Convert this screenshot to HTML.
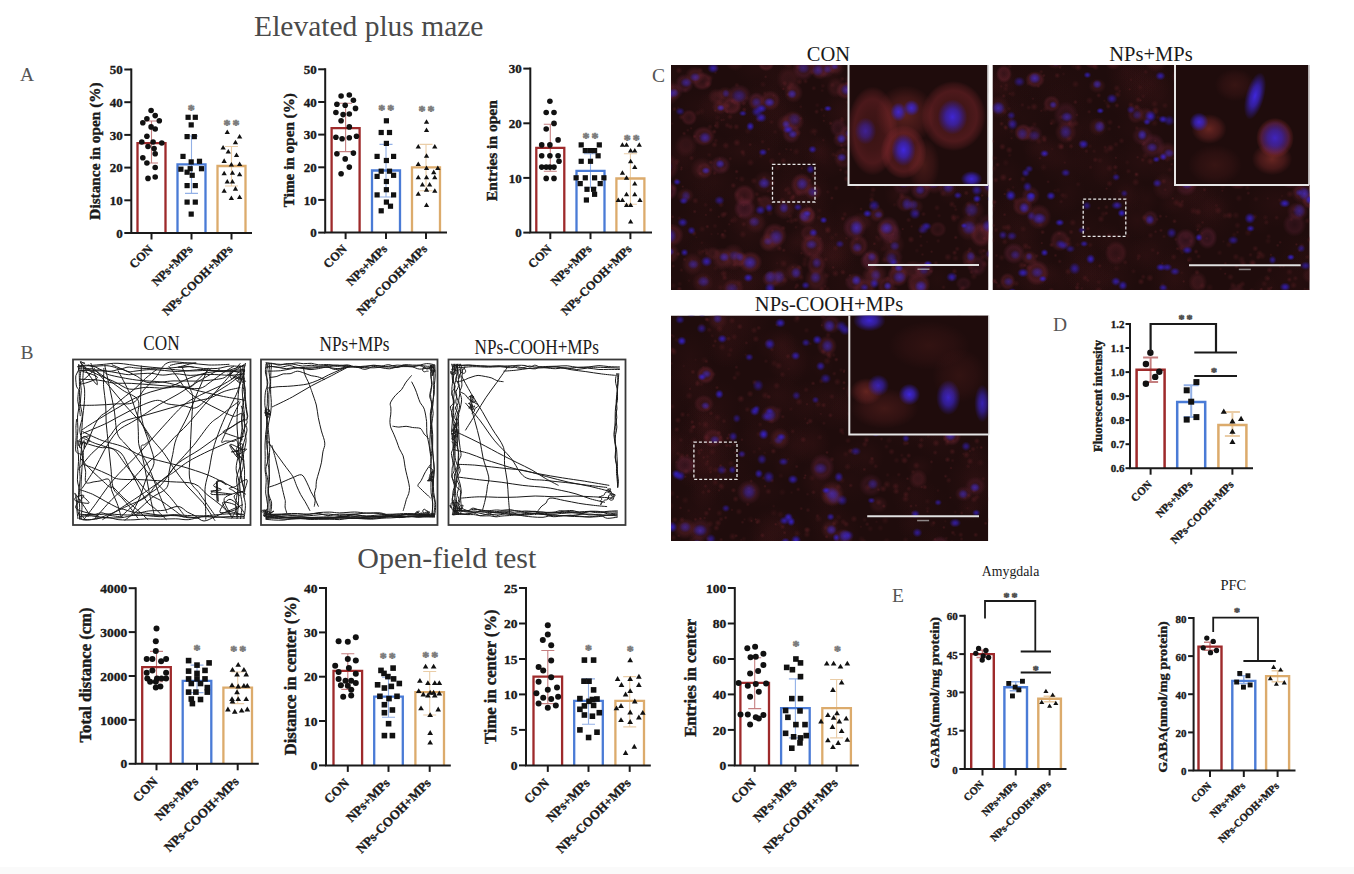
<!DOCTYPE html>
<html><head><meta charset="utf-8"><style>
html,body{margin:0;padding:0;background:#fff;}
svg{display:block;font-family:"Liberation Serif",serif;}
</style></head><body>
<svg width="1354" height="874" viewBox="0 0 1354 874">
<text x="368.8" y="36" text-anchor="middle" font-size="29.5" fill="#4a4a4a">Elevated plus maze</text>
<text x="446.8" y="568.3" text-anchor="middle" font-size="30" fill="#4a4a4a">Open-field test</text>
<text x="20" y="80.7" font-size="19.5" fill="#555">A</text>
<text x="20.5" y="358.6" font-size="19.5" fill="#555">B</text>
<text x="652" y="81.6" font-size="19.5" fill="#555">C</text>
<text x="1053" y="331" font-size="19.5" fill="#555">D</text>
<text x="892" y="602" font-size="19.5" fill="#555">E</text>
<text x="1010.6" y="576" text-anchor="middle" font-size="13.8" fill="#1a1a1a">Amygdala</text>
<text x="1233.4" y="590" text-anchor="middle" font-size="14.5" fill="#1a1a1a">PFC</text>
<rect x="0" y="867" width="1354" height="7" fill="#fafafa"/>
<defs><radialGradient id="gS"><stop offset="0" stop-color="#6a2228" stop-opacity="0.8"/><stop offset="1" stop-color="#6a2228" stop-opacity="0"/></radialGradient><radialGradient id="gR1"><stop offset="0" stop-color="#6a2438" stop-opacity="0.35"/><stop offset="0.45" stop-color="#7a2838" stop-opacity="0.5"/><stop offset="0.65" stop-color="#7a2838" stop-opacity="0.6"/><stop offset="1" stop-color="#7a2838" stop-opacity="0"/></radialGradient><radialGradient id="gR2"><stop offset="0" stop-color="#5a2040" stop-opacity="0.4"/><stop offset="0.6" stop-color="#6e2640" stop-opacity="0.6"/><stop offset="1" stop-color="#6e2640" stop-opacity="0"/></radialGradient><radialGradient id="gR3"><stop offset="0" stop-color="#702a38" stop-opacity="0.45"/><stop offset="0.5" stop-color="#782a36" stop-opacity="0.5"/><stop offset="1" stop-color="#782a36" stop-opacity="0"/></radialGradient><radialGradient id="gB1"><stop offset="0" stop-color="#3a22e0" stop-opacity="1"/><stop offset="0.4" stop-color="#3420c0" stop-opacity="0.8"/><stop offset="1" stop-color="#2818a0" stop-opacity="0"/></radialGradient><radialGradient id="gB2"><stop offset="0" stop-color="#4a30d8" stop-opacity="0.9"/><stop offset="0.5" stop-color="#4028b8" stop-opacity="0.7"/><stop offset="1" stop-color="#3020a0" stop-opacity="0"/></radialGradient><radialGradient id="gIR"><stop offset="0" stop-color="#902c30" stop-opacity="0.3"/><stop offset="0.45" stop-color="#902c30" stop-opacity="0.4"/><stop offset="0.72" stop-color="#8a2a30" stop-opacity="0.55"/><stop offset="0.9" stop-color="#8a2a30" stop-opacity="0.25"/><stop offset="1" stop-color="#8a2a30" stop-opacity="0"/></radialGradient><radialGradient id="gIF"><stop offset="0" stop-color="#a03a32" stop-opacity="0.75"/><stop offset="0.6" stop-color="#903030" stop-opacity="0.45"/><stop offset="1" stop-color="#903030" stop-opacity="0"/></radialGradient><radialGradient id="gIB"><stop offset="0" stop-color="#4028e8" stop-opacity="1"/><stop offset="0.45" stop-color="#3a24c8" stop-opacity="0.8"/><stop offset="1" stop-color="#3420b8" stop-opacity="0"/></radialGradient></defs>
<clipPath id="clip1"><rect x="671" y="65" width="317.5" height="225"/></clipPath>
<g clip-path="url(#clip1)">
<rect x="671" y="65" width="317.5" height="225" fill="#1f0c0c"/>
<ellipse cx="701.0" cy="225.1" rx="23.7" ry="30.0" fill="url(#gS)" opacity="0.09"/><ellipse cx="749.8" cy="232.5" rx="23.9" ry="21.0" fill="url(#gS)" opacity="0.13"/><ellipse cx="795.9" cy="242.7" rx="14.1" ry="11.8" fill="url(#gS)" opacity="0.15"/><ellipse cx="783.3" cy="121.2" rx="26.5" ry="28.6" fill="url(#gS)" opacity="0.07"/><ellipse cx="846.6" cy="216.0" rx="15.0" ry="16.3" fill="url(#gS)" opacity="0.07"/><ellipse cx="776.4" cy="79.6" rx="15.7" ry="20.2" fill="url(#gS)" opacity="0.10"/><ellipse cx="990.4" cy="163.1" rx="22.9" ry="28.1" fill="url(#gS)" opacity="0.13"/><ellipse cx="702.5" cy="198.4" rx="23.4" ry="18.9" fill="url(#gS)" opacity="0.07"/><ellipse cx="952.5" cy="180.7" rx="15.5" ry="15.0" fill="url(#gS)" opacity="0.08"/><ellipse cx="927.4" cy="177.6" rx="13.8" ry="16.5" fill="url(#gS)" opacity="0.07"/><ellipse cx="757.9" cy="66.6" rx="25.3" ry="19.5" fill="url(#gS)" opacity="0.11"/><ellipse cx="696.5" cy="172.9" rx="24.3" ry="24.8" fill="url(#gS)" opacity="0.11"/><ellipse cx="824.8" cy="162.7" rx="22.7" ry="17.2" fill="url(#gS)" opacity="0.11"/><ellipse cx="743.4" cy="263.4" rx="28.9" ry="21.4" fill="url(#gS)" opacity="0.07"/><ellipse cx="896.4" cy="194.3" rx="12.3" ry="13.9" fill="url(#gS)" opacity="0.15"/><ellipse cx="804.6" cy="141.7" rx="22.2" ry="28.1" fill="url(#gS)" opacity="0.09"/><ellipse cx="765.0" cy="104.3" rx="23.3" ry="22.9" fill="url(#gS)" opacity="0.09"/><ellipse cx="793.0" cy="68.2" rx="17.6" ry="22.7" fill="url(#gS)" opacity="0.12"/><ellipse cx="758.5" cy="280.0" rx="18.4" ry="15.7" fill="url(#gS)" opacity="0.06"/><ellipse cx="713.9" cy="106.8" rx="16.1" ry="19.8" fill="url(#gS)" opacity="0.09"/><ellipse cx="747.4" cy="201.9" rx="28.5" ry="24.9" fill="url(#gS)" opacity="0.14"/><ellipse cx="786.8" cy="191.9" rx="22.7" ry="28.8" fill="url(#gS)" opacity="0.14"/><ellipse cx="832.4" cy="257.7" rx="18.6" ry="17.3" fill="url(#gS)" opacity="0.16"/><ellipse cx="844.8" cy="241.8" rx="17.7" ry="22.1" fill="url(#gS)" opacity="0.12"/><ellipse cx="747.0" cy="279.4" rx="20.4" ry="18.5" fill="url(#gS)" opacity="0.09"/><ellipse cx="699.8" cy="107.2" rx="24.5" ry="19.2" fill="url(#gS)" opacity="0.09"/><ellipse cx="812.5" cy="188.0" rx="18.8" ry="22.1" fill="url(#gS)" opacity="0.09"/><ellipse cx="786.7" cy="159.9" rx="14.3" ry="11.9" fill="url(#gS)" opacity="0.07"/><ellipse cx="903.6" cy="94.4" rx="24.0" ry="20.0" fill="url(#gS)" opacity="0.12"/><ellipse cx="881.0" cy="143.1" rx="28.8" ry="31.5" fill="url(#gS)" opacity="0.12"/><ellipse cx="681.2" cy="155.5" rx="16.8" ry="16.5" fill="url(#gS)" opacity="0.15"/><ellipse cx="948.9" cy="74.5" rx="24.2" ry="30.6" fill="url(#gS)" opacity="0.11"/><ellipse cx="697.7" cy="263.7" rx="19.7" ry="25.3" fill="url(#gS)" opacity="0.15"/><ellipse cx="937.5" cy="278.8" rx="13.2" ry="15.6" fill="url(#gS)" opacity="0.09"/><ellipse cx="710.3" cy="149.1" rx="22.6" ry="15.9" fill="url(#gS)" opacity="0.10"/><ellipse cx="922.8" cy="176.4" rx="21.5" ry="18.9" fill="url(#gS)" opacity="0.16"/><ellipse cx="747.3" cy="220.1" rx="23.6" ry="16.5" fill="url(#gS)" opacity="0.16"/><ellipse cx="743.1" cy="292.4" rx="28.7" ry="35.6" fill="url(#gS)" opacity="0.15"/><ellipse cx="796.3" cy="164.7" rx="18.2" ry="23.0" fill="url(#gS)" opacity="0.06"/><ellipse cx="710.8" cy="284.8" rx="26.5" ry="29.8" fill="url(#gS)" opacity="0.16"/><ellipse cx="837.5" cy="256.3" rx="20.0" ry="24.8" fill="url(#gS)" opacity="0.07"/><ellipse cx="809.5" cy="195.6" rx="26.3" ry="25.1" fill="url(#gS)" opacity="0.13"/><ellipse cx="983.0" cy="158.4" rx="15.6" ry="11.2" fill="url(#gS)" opacity="0.15"/><ellipse cx="821.9" cy="151.2" rx="21.4" ry="16.5" fill="url(#gS)" opacity="0.08"/><ellipse cx="743.2" cy="119.9" rx="27.5" ry="23.3" fill="url(#gS)" opacity="0.07"/><ellipse cx="949.8" cy="191.2" rx="12.5" ry="13.8" fill="url(#gS)" opacity="0.13"/><ellipse cx="878.7" cy="242.0" rx="19.6" ry="16.4" fill="url(#gS)" opacity="0.13"/><ellipse cx="870.7" cy="225.4" rx="15.3" ry="14.1" fill="url(#gS)" opacity="0.13"/><ellipse cx="791.9" cy="201.6" rx="20.5" ry="23.6" fill="url(#gS)" opacity="0.09"/><ellipse cx="829.1" cy="254.7" rx="17.6" ry="14.2" fill="url(#gS)" opacity="0.12"/><ellipse cx="709.6" cy="261.4" rx="16.9" ry="21.1" fill="url(#gS)" opacity="0.11"/><ellipse cx="716.5" cy="182.4" rx="24.3" ry="24.1" fill="url(#gS)" opacity="0.12"/><ellipse cx="786.8" cy="285.4" rx="15.1" ry="17.8" fill="url(#gS)" opacity="0.06"/><ellipse cx="832.1" cy="75.6" rx="14.4" ry="15.1" fill="url(#gS)" opacity="0.15"/><ellipse cx="767.3" cy="154.7" rx="20.6" ry="21.9" fill="url(#gS)" opacity="0.10"/><ellipse cx="781.1" cy="260.6" rx="22.0" ry="20.1" fill="url(#gS)" opacity="0.14"/><ellipse cx="993.2" cy="161.6" rx="12.3" ry="10.8" fill="url(#gS)" opacity="0.15"/><ellipse cx="722.3" cy="106.7" rx="26.3" ry="20.2" fill="url(#gS)" opacity="0.14"/><ellipse cx="740.1" cy="151.2" rx="22.7" ry="17.4" fill="url(#gS)" opacity="0.14"/><ellipse cx="809.6" cy="241.0" rx="25.8" ry="19.2" fill="url(#gS)" opacity="0.14"/><ellipse cx="934.8" cy="116.8" rx="22.6" ry="18.6" fill="url(#gS)" opacity="0.11"/><ellipse cx="912.2" cy="148.6" rx="21.6" ry="16.8" fill="url(#gS)" opacity="0.15"/><ellipse cx="871.1" cy="255.1" rx="13.5" ry="15.4" fill="url(#gS)" opacity="0.07"/><ellipse cx="848.3" cy="114.2" rx="28.2" ry="21.6" fill="url(#gS)" opacity="0.11"/><ellipse cx="820.2" cy="150.7" rx="13.2" ry="14.5" fill="url(#gS)" opacity="0.16"/><ellipse cx="784.2" cy="271.2" rx="18.1" ry="15.6" fill="url(#gS)" opacity="0.11"/><ellipse cx="984.6" cy="243.2" rx="23.4" ry="16.9" fill="url(#gS)" opacity="0.11"/><ellipse cx="670.9" cy="74.6" rx="18.8" ry="15.9" fill="url(#gS)" opacity="0.07"/><ellipse cx="833.6" cy="243.9" rx="28.7" ry="35.8" fill="url(#gS)" opacity="0.10"/><ellipse cx="724.4" cy="286.5" rx="19.6" ry="17.8" fill="url(#gS)" opacity="0.14"/><ellipse cx="848.8" cy="283.8" rx="24.6" ry="31.2" fill="url(#gS)" opacity="0.08"/><ellipse cx="974.9" cy="187.3" rx="24.5" ry="21.6" fill="url(#gS)" opacity="0.08"/><ellipse cx="763.2" cy="99.9" rx="29.3" ry="22.6" fill="url(#gS)" opacity="0.08"/><ellipse cx="873.5" cy="108.1" rx="15.8" ry="13.5" fill="url(#gS)" opacity="0.08"/><ellipse cx="669.4" cy="233.9" rx="23.9" ry="21.1" fill="url(#gS)" opacity="0.15"/><ellipse cx="849.2" cy="111.7" rx="29.4" ry="24.6" fill="url(#gS)" opacity="0.14"/><ellipse cx="933.4" cy="60.7" rx="27.2" ry="26.0" fill="url(#gS)" opacity="0.11"/><ellipse cx="975.8" cy="166.1" rx="16.3" ry="11.9" fill="url(#gS)" opacity="0.15"/><ellipse cx="815.0" cy="227.1" rx="23.5" ry="30.3" fill="url(#gS)" opacity="0.15"/><ellipse cx="972.5" cy="178.6" rx="28.4" ry="25.1" fill="url(#gS)" opacity="0.07"/><ellipse cx="875.4" cy="66.7" rx="29.5" ry="26.4" fill="url(#gS)" opacity="0.10"/><ellipse cx="761.2" cy="135.9" rx="21.7" ry="25.6" fill="url(#gS)" opacity="0.06"/><ellipse cx="778.4" cy="117.9" rx="29.3" ry="28.2" fill="url(#gS)" opacity="0.10"/><ellipse cx="973.0" cy="150.9" rx="18.9" ry="17.8" fill="url(#gS)" opacity="0.08"/><ellipse cx="896.5" cy="127.4" rx="21.2" ry="22.1" fill="url(#gS)" opacity="0.14"/><circle cx="908.4" cy="173.1" r="3.9" fill="url(#gS)" opacity="0.53"/><circle cx="973.1" cy="227.8" r="2.6" fill="url(#gS)" opacity="0.33"/><circle cx="947.7" cy="171.3" r="3.4" fill="url(#gS)" opacity="0.34"/><circle cx="785.7" cy="64.2" r="3.3" fill="url(#gS)" opacity="0.30"/><circle cx="827.8" cy="230.5" r="3.6" fill="url(#gS)" opacity="0.53"/><circle cx="883.3" cy="114.7" r="3.8" fill="url(#gS)" opacity="0.22"/><circle cx="801.1" cy="277.4" r="3.6" fill="url(#gS)" opacity="0.41"/><circle cx="950.4" cy="101.6" r="1.6" fill="url(#gS)" opacity="0.30"/><circle cx="970.7" cy="69.3" r="2.3" fill="url(#gS)" opacity="0.38"/><circle cx="733.4" cy="264.8" r="1.8" fill="url(#gS)" opacity="0.23"/><circle cx="992.7" cy="62.9" r="2.1" fill="url(#gS)" opacity="0.34"/><circle cx="954.3" cy="138.9" r="2.9" fill="url(#gS)" opacity="0.48"/><circle cx="868.5" cy="255.3" r="1.5" fill="url(#gS)" opacity="0.39"/><circle cx="672.8" cy="260.4" r="1.6" fill="url(#gS)" opacity="0.23"/><circle cx="806.5" cy="205.9" r="1.5" fill="url(#gS)" opacity="0.42"/><circle cx="699.7" cy="136.0" r="1.6" fill="url(#gS)" opacity="0.45"/><circle cx="938.2" cy="240.9" r="2.3" fill="url(#gS)" opacity="0.29"/><circle cx="981.2" cy="251.9" r="3.9" fill="url(#gS)" opacity="0.35"/><circle cx="954.1" cy="219.2" r="3.5" fill="url(#gS)" opacity="0.38"/><circle cx="922.8" cy="177.2" r="2.2" fill="url(#gS)" opacity="0.37"/><circle cx="679.4" cy="218.3" r="2.3" fill="url(#gS)" opacity="0.26"/><circle cx="925.6" cy="183.6" r="2.3" fill="url(#gS)" opacity="0.52"/><circle cx="973.1" cy="159.9" r="2.9" fill="url(#gS)" opacity="0.20"/><circle cx="782.8" cy="292.1" r="2.8" fill="url(#gS)" opacity="0.55"/><circle cx="675.4" cy="64.1" r="1.7" fill="url(#gS)" opacity="0.23"/><circle cx="913.3" cy="292.2" r="3.4" fill="url(#gS)" opacity="0.41"/><circle cx="790.9" cy="149.7" r="1.8" fill="url(#gS)" opacity="0.34"/><circle cx="705.8" cy="250.3" r="2.8" fill="url(#gS)" opacity="0.33"/><circle cx="945.0" cy="130.5" r="3.7" fill="url(#gS)" opacity="0.45"/><circle cx="871.6" cy="199.8" r="3.1" fill="url(#gS)" opacity="0.52"/><circle cx="992.0" cy="191.3" r="3.9" fill="url(#gS)" opacity="0.29"/><circle cx="969.4" cy="267.6" r="3.1" fill="url(#gS)" opacity="0.24"/><circle cx="956.7" cy="149.0" r="2.3" fill="url(#gS)" opacity="0.53"/><circle cx="694.7" cy="211.6" r="2.1" fill="url(#gS)" opacity="0.50"/><circle cx="736.8" cy="85.0" r="2.7" fill="url(#gS)" opacity="0.36"/><circle cx="912.3" cy="126.0" r="2.2" fill="url(#gS)" opacity="0.30"/><circle cx="846.2" cy="91.0" r="2.9" fill="url(#gS)" opacity="0.49"/><circle cx="891.2" cy="120.2" r="2.7" fill="url(#gS)" opacity="0.23"/><circle cx="820.4" cy="238.7" r="1.5" fill="url(#gS)" opacity="0.43"/><circle cx="967.7" cy="125.7" r="2.3" fill="url(#gS)" opacity="0.44"/><circle cx="717.0" cy="123.3" r="3.0" fill="url(#gS)" opacity="0.38"/><circle cx="720.9" cy="106.6" r="2.7" fill="url(#gS)" opacity="0.50"/><circle cx="731.7" cy="220.9" r="2.8" fill="url(#gS)" opacity="0.30"/><circle cx="801.4" cy="253.1" r="1.8" fill="url(#gS)" opacity="0.39"/><circle cx="822.8" cy="85.9" r="2.5" fill="url(#gS)" opacity="0.26"/><circle cx="798.2" cy="67.1" r="2.9" fill="url(#gS)" opacity="0.48"/><circle cx="952.2" cy="279.2" r="2.1" fill="url(#gS)" opacity="0.48"/><circle cx="783.3" cy="228.0" r="2.7" fill="url(#gS)" opacity="0.46"/><circle cx="797.0" cy="285.5" r="2.7" fill="url(#gS)" opacity="0.48"/><circle cx="725.0" cy="231.0" r="2.0" fill="url(#gS)" opacity="0.34"/><circle cx="790.3" cy="216.4" r="2.9" fill="url(#gS)" opacity="0.30"/><circle cx="971.6" cy="69.5" r="2.7" fill="url(#gS)" opacity="0.25"/><circle cx="701.5" cy="111.5" r="3.9" fill="url(#gS)" opacity="0.21"/><circle cx="901.7" cy="195.8" r="3.6" fill="url(#gS)" opacity="0.50"/><circle cx="706.1" cy="277.1" r="1.9" fill="url(#gS)" opacity="0.24"/><circle cx="743.8" cy="224.2" r="2.9" fill="url(#gS)" opacity="0.44"/><circle cx="736.6" cy="171.6" r="2.3" fill="url(#gS)" opacity="0.54"/><circle cx="852.1" cy="224.3" r="2.6" fill="url(#gS)" opacity="0.24"/><circle cx="697.6" cy="113.0" r="3.3" fill="url(#gS)" opacity="0.27"/><circle cx="823.3" cy="140.2" r="1.8" fill="url(#gS)" opacity="0.33"/><circle cx="826.7" cy="275.6" r="3.4" fill="url(#gS)" opacity="0.35"/><circle cx="762.0" cy="116.1" r="2.4" fill="url(#gS)" opacity="0.39"/><circle cx="983.8" cy="77.5" r="2.0" fill="url(#gS)" opacity="0.34"/><circle cx="851.1" cy="75.8" r="1.6" fill="url(#gS)" opacity="0.39"/><circle cx="671.6" cy="253.4" r="3.2" fill="url(#gS)" opacity="0.36"/><circle cx="992.6" cy="173.6" r="3.9" fill="url(#gS)" opacity="0.28"/><circle cx="691.5" cy="158.0" r="2.8" fill="url(#gS)" opacity="0.43"/><circle cx="707.3" cy="226.6" r="2.2" fill="url(#gS)" opacity="0.53"/><circle cx="927.0" cy="241.8" r="1.6" fill="url(#gS)" opacity="0.22"/><circle cx="676.7" cy="164.0" r="1.6" fill="url(#gS)" opacity="0.25"/><circle cx="685.0" cy="293.6" r="2.7" fill="url(#gS)" opacity="0.29"/><circle cx="715.1" cy="125.7" r="1.8" fill="url(#gS)" opacity="0.48"/><circle cx="968.5" cy="251.6" r="1.7" fill="url(#gS)" opacity="0.41"/><circle cx="945.7" cy="152.8" r="3.4" fill="url(#gS)" opacity="0.20"/><circle cx="835.8" cy="234.7" r="2.6" fill="url(#gS)" opacity="0.24"/><circle cx="984.0" cy="250.7" r="2.2" fill="url(#gS)" opacity="0.46"/><circle cx="720.9" cy="204.7" r="3.3" fill="url(#gS)" opacity="0.41"/><circle cx="809.6" cy="253.9" r="2.5" fill="url(#gS)" opacity="0.22"/><circle cx="716.2" cy="95.2" r="3.4" fill="url(#gS)" opacity="0.22"/><circle cx="982.2" cy="195.5" r="1.7" fill="url(#gS)" opacity="0.53"/><circle cx="990.2" cy="114.9" r="2.9" fill="url(#gS)" opacity="0.28"/><circle cx="710.3" cy="77.8" r="3.7" fill="url(#gS)" opacity="0.28"/><circle cx="732.6" cy="101.3" r="2.2" fill="url(#gS)" opacity="0.53"/><circle cx="734.6" cy="103.1" r="1.6" fill="url(#gS)" opacity="0.45"/><circle cx="700.2" cy="252.6" r="3.9" fill="url(#gS)" opacity="0.30"/><circle cx="819.2" cy="248.6" r="2.7" fill="url(#gS)" opacity="0.31"/><circle cx="965.8" cy="294.8" r="2.1" fill="url(#gS)" opacity="0.50"/><circle cx="678.3" cy="254.0" r="2.4" fill="url(#gS)" opacity="0.55"/><circle cx="674.5" cy="109.1" r="2.5" fill="url(#gS)" opacity="0.38"/><circle cx="919.5" cy="91.1" r="1.6" fill="url(#gS)" opacity="0.28"/><circle cx="698.7" cy="282.5" r="2.8" fill="url(#gS)" opacity="0.27"/><circle cx="771.5" cy="122.0" r="2.6" fill="url(#gS)" opacity="0.31"/><circle cx="871.1" cy="110.6" r="3.2" fill="url(#gS)" opacity="0.52"/><circle cx="912.8" cy="79.1" r="2.7" fill="url(#gS)" opacity="0.49"/><circle cx="689.0" cy="280.6" r="1.8" fill="url(#gS)" opacity="0.24"/><circle cx="668.7" cy="261.9" r="1.6" fill="url(#gS)" opacity="0.36"/><circle cx="859.2" cy="173.7" r="4.0" fill="url(#gS)" opacity="0.41"/><circle cx="667.4" cy="153.1" r="1.9" fill="url(#gS)" opacity="0.51"/><circle cx="740.6" cy="215.9" r="2.6" fill="url(#gS)" opacity="0.35"/><circle cx="842.0" cy="119.8" r="3.1" fill="url(#gS)" opacity="0.41"/><circle cx="931.6" cy="251.7" r="1.7" fill="url(#gS)" opacity="0.49"/><circle cx="771.3" cy="288.7" r="2.9" fill="url(#gS)" opacity="0.27"/><circle cx="836.2" cy="188.1" r="2.8" fill="url(#gS)" opacity="0.33"/><circle cx="857.6" cy="187.0" r="3.5" fill="url(#gS)" opacity="0.32"/><circle cx="815.2" cy="62.4" r="3.4" fill="url(#gS)" opacity="0.22"/><circle cx="952.3" cy="181.6" r="2.9" fill="url(#gS)" opacity="0.34"/><circle cx="846.8" cy="83.4" r="1.9" fill="url(#gS)" opacity="0.39"/><circle cx="764.1" cy="178.4" r="2.7" fill="url(#gS)" opacity="0.54"/><circle cx="878.7" cy="64.5" r="3.2" fill="url(#gS)" opacity="0.31"/><circle cx="725.8" cy="145.6" r="3.7" fill="url(#gS)" opacity="0.48"/><circle cx="816.1" cy="262.3" r="2.8" fill="url(#gS)" opacity="0.25"/><circle cx="897.7" cy="262.9" r="3.2" fill="url(#gS)" opacity="0.30"/><circle cx="822.2" cy="90.6" r="2.1" fill="url(#gS)" opacity="0.22"/><circle cx="982.0" cy="229.3" r="2.7" fill="url(#gS)" opacity="0.44"/><circle cx="893.8" cy="170.6" r="2.1" fill="url(#gS)" opacity="0.37"/><circle cx="842.9" cy="149.3" r="2.1" fill="url(#gS)" opacity="0.40"/><circle cx="878.8" cy="114.3" r="1.8" fill="url(#gS)" opacity="0.46"/><circle cx="988.7" cy="231.5" r="3.6" fill="url(#gS)" opacity="0.45"/><circle cx="793.4" cy="196.5" r="2.7" fill="url(#gS)" opacity="0.54"/><circle cx="702.4" cy="293.7" r="1.8" fill="url(#gS)" opacity="0.31"/><circle cx="853.1" cy="281.5" r="3.7" fill="url(#gS)" opacity="0.47"/><circle cx="876.4" cy="237.0" r="2.3" fill="url(#gS)" opacity="0.22"/><circle cx="858.9" cy="111.0" r="2.6" fill="url(#gS)" opacity="0.47"/><circle cx="986.5" cy="90.2" r="3.8" fill="url(#gS)" opacity="0.28"/><circle cx="835.4" cy="248.2" r="3.2" fill="url(#gS)" opacity="0.33"/><circle cx="958.5" cy="100.1" r="3.6" fill="url(#gS)" opacity="0.55"/><circle cx="942.0" cy="87.1" r="2.5" fill="url(#gS)" opacity="0.23"/><circle cx="779.3" cy="153.9" r="1.9" fill="url(#gS)" opacity="0.36"/><circle cx="939.1" cy="215.7" r="2.3" fill="url(#gS)" opacity="0.24"/><circle cx="703.0" cy="251.3" r="2.1" fill="url(#gS)" opacity="0.39"/><circle cx="729.2" cy="224.3" r="1.7" fill="url(#gS)" opacity="0.37"/><circle cx="809.8" cy="180.2" r="2.0" fill="url(#gS)" opacity="0.44"/><circle cx="980.1" cy="109.4" r="1.7" fill="url(#gS)" opacity="0.30"/><circle cx="777.1" cy="263.1" r="1.6" fill="url(#gS)" opacity="0.22"/><circle cx="840.6" cy="169.9" r="2.0" fill="url(#gS)" opacity="0.44"/><circle cx="795.6" cy="287.5" r="2.0" fill="url(#gS)" opacity="0.38"/><circle cx="707.7" cy="84.1" r="3.9" fill="url(#gS)" opacity="0.51"/><circle cx="910.1" cy="178.1" r="3.2" fill="url(#gS)" opacity="0.28"/><circle cx="726.2" cy="111.2" r="2.2" fill="url(#gS)" opacity="0.34"/><circle cx="830.6" cy="123.3" r="2.4" fill="url(#gS)" opacity="0.48"/><circle cx="927.6" cy="119.3" r="2.9" fill="url(#gS)" opacity="0.24"/><circle cx="871.6" cy="205.9" r="1.9" fill="url(#gS)" opacity="0.49"/><circle cx="866.2" cy="287.2" r="2.2" fill="url(#gS)" opacity="0.25"/><circle cx="920.6" cy="236.3" r="2.1" fill="url(#gS)" opacity="0.35"/><circle cx="723.4" cy="168.9" r="4.0" fill="url(#gS)" opacity="0.29"/><circle cx="783.6" cy="263.5" r="4.0" fill="url(#gS)" opacity="0.38"/><circle cx="846.7" cy="178.8" r="3.3" fill="url(#gS)" opacity="0.52"/><circle cx="966.3" cy="193.0" r="2.7" fill="url(#gS)" opacity="0.50"/><circle cx="887.1" cy="292.9" r="1.8" fill="url(#gS)" opacity="0.46"/><circle cx="928.0" cy="142.7" r="1.5" fill="url(#gS)" opacity="0.32"/><circle cx="984.3" cy="238.5" r="2.3" fill="url(#gS)" opacity="0.50"/><circle cx="694.0" cy="233.4" r="2.9" fill="url(#gS)" opacity="0.54"/><circle cx="762.6" cy="141.7" r="2.4" fill="url(#gS)" opacity="0.35"/><circle cx="817.3" cy="105.2" r="2.6" fill="url(#gS)" opacity="0.22"/><circle cx="870.9" cy="256.4" r="2.3" fill="url(#gS)" opacity="0.36"/><circle cx="982.9" cy="256.6" r="3.2" fill="url(#gS)" opacity="0.40"/><circle cx="982.4" cy="171.5" r="3.0" fill="url(#gS)" opacity="0.51"/><circle cx="783.3" cy="160.7" r="3.2" fill="url(#gS)" opacity="0.45"/><circle cx="895.4" cy="155.7" r="2.2" fill="url(#gS)" opacity="0.47"/><circle cx="902.0" cy="182.2" r="2.1" fill="url(#gS)" opacity="0.22"/><circle cx="835.4" cy="273.5" r="3.7" fill="url(#gS)" opacity="0.46"/><circle cx="804.6" cy="264.1" r="3.7" fill="url(#gS)" opacity="0.31"/><circle cx="841.5" cy="145.6" r="2.0" fill="url(#gS)" opacity="0.37"/><circle cx="739.3" cy="282.7" r="3.9" fill="url(#gS)" opacity="0.29"/><circle cx="720.6" cy="106.5" r="3.8" fill="url(#gS)" opacity="0.32"/><circle cx="935.9" cy="294.1" r="2.4" fill="url(#gS)" opacity="0.50"/><circle cx="700.3" cy="70.3" r="3.2" fill="url(#gS)" opacity="0.31"/><circle cx="741.8" cy="179.0" r="3.5" fill="url(#gS)" opacity="0.35"/><circle cx="846.4" cy="238.2" r="1.7" fill="url(#gS)" opacity="0.38"/><circle cx="678.3" cy="107.8" r="1.8" fill="url(#gS)" opacity="0.26"/><circle cx="967.8" cy="64.3" r="2.7" fill="url(#gS)" opacity="0.23"/><circle cx="669.4" cy="277.7" r="2.8" fill="url(#gS)" opacity="0.50"/><circle cx="872.1" cy="195.0" r="3.4" fill="url(#gS)" opacity="0.20"/><circle cx="734.4" cy="219.7" r="4.0" fill="url(#gS)" opacity="0.27"/><circle cx="795.6" cy="219.9" r="2.9" fill="url(#gS)" opacity="0.46"/><circle cx="681.3" cy="117.1" r="3.2" fill="url(#gS)" opacity="0.46"/><circle cx="883.2" cy="249.1" r="3.5" fill="url(#gS)" opacity="0.20"/><circle cx="765.7" cy="76.8" r="1.8" fill="url(#gS)" opacity="0.45"/><circle cx="792.7" cy="267.1" r="1.6" fill="url(#gS)" opacity="0.36"/><circle cx="985.6" cy="145.9" r="3.2" fill="url(#gS)" opacity="0.50"/><circle cx="929.2" cy="136.2" r="2.6" fill="url(#gS)" opacity="0.47"/><circle cx="839.7" cy="160.0" r="3.9" fill="url(#gS)" opacity="0.29"/><circle cx="893.9" cy="143.3" r="3.1" fill="url(#gS)" opacity="0.46"/><circle cx="957.2" cy="248.9" r="2.8" fill="url(#gS)" opacity="0.40"/><circle cx="891.1" cy="237.0" r="3.8" fill="url(#gS)" opacity="0.21"/><circle cx="673.4" cy="285.6" r="3.1" fill="url(#gS)" opacity="0.23"/><circle cx="764.7" cy="93.0" r="2.3" fill="url(#gS)" opacity="0.25"/><circle cx="903.9" cy="95.4" r="2.6" fill="url(#gS)" opacity="0.22"/><circle cx="795.4" cy="121.0" r="2.8" fill="url(#gS)" opacity="0.29"/><circle cx="736.9" cy="142.7" r="3.9" fill="url(#gS)" opacity="0.55"/><circle cx="717.9" cy="233.8" r="1.6" fill="url(#gS)" opacity="0.31"/><circle cx="921.5" cy="231.0" r="3.2" fill="url(#gS)" opacity="0.37"/><circle cx="811.6" cy="72.1" r="3.1" fill="url(#gS)" opacity="0.42"/><circle cx="788.0" cy="94.4" r="2.1" fill="url(#gS)" opacity="0.48"/><circle cx="695.3" cy="200.7" r="3.4" fill="url(#gS)" opacity="0.46"/><circle cx="787.7" cy="221.3" r="2.0" fill="url(#gS)" opacity="0.30"/><circle cx="875.3" cy="86.2" r="2.8" fill="url(#gS)" opacity="0.44"/><circle cx="678.9" cy="70.5" r="3.5" fill="url(#gS)" opacity="0.48"/><circle cx="983.1" cy="86.1" r="3.6" fill="url(#gS)" opacity="0.40"/><circle cx="847.4" cy="102.2" r="2.4" fill="url(#gS)" opacity="0.27"/><circle cx="672.4" cy="225.1" r="1.7" fill="url(#gS)" opacity="0.23"/><circle cx="922.5" cy="254.5" r="1.8" fill="url(#gS)" opacity="0.35"/><circle cx="715.8" cy="140.5" r="2.6" fill="url(#gS)" opacity="0.30"/><circle cx="777.7" cy="167.8" r="3.3" fill="url(#gS)" opacity="0.27"/><circle cx="720.8" cy="168.6" r="2.2" fill="url(#gS)" opacity="0.28"/><circle cx="716.5" cy="252.1" r="3.5" fill="url(#gS)" opacity="0.24"/><circle cx="880.1" cy="163.8" r="1.7" fill="url(#gS)" opacity="0.23"/><circle cx="993.4" cy="84.9" r="2.8" fill="url(#gS)" opacity="0.45"/><circle cx="911.7" cy="226.4" r="1.7" fill="url(#gS)" opacity="0.33"/><circle cx="702.2" cy="229.1" r="3.5" fill="url(#gS)" opacity="0.28"/><circle cx="857.6" cy="118.3" r="2.4" fill="url(#gS)" opacity="0.27"/><circle cx="773.5" cy="95.6" r="1.5" fill="url(#gS)" opacity="0.34"/><circle cx="937.0" cy="207.8" r="3.2" fill="url(#gS)" opacity="0.36"/><circle cx="721.6" cy="120.1" r="1.7" fill="url(#gS)" opacity="0.41"/><circle cx="718.8" cy="216.7" r="1.6" fill="url(#gS)" opacity="0.45"/><circle cx="747.0" cy="98.1" r="2.6" fill="url(#gS)" opacity="0.28"/><circle cx="923.5" cy="214.1" r="2.6" fill="url(#gS)" opacity="0.39"/><circle cx="916.8" cy="213.4" r="2.6" fill="url(#gS)" opacity="0.39"/><circle cx="809.3" cy="208.8" r="3.5" fill="url(#gS)" opacity="0.47"/><circle cx="978.1" cy="65.5" r="1.7" fill="url(#gS)" opacity="0.24"/><circle cx="976.8" cy="147.7" r="2.7" fill="url(#gS)" opacity="0.36"/><circle cx="818.9" cy="217.7" r="3.1" fill="url(#gS)" opacity="0.27"/><circle cx="825.8" cy="259.4" r="2.6" fill="url(#gS)" opacity="0.36"/><circle cx="760.8" cy="156.0" r="2.5" fill="url(#gS)" opacity="0.27"/><circle cx="863.1" cy="76.0" r="2.1" fill="url(#gS)" opacity="0.21"/><circle cx="930.7" cy="160.8" r="2.5" fill="url(#gS)" opacity="0.50"/><circle cx="912.4" cy="118.2" r="3.1" fill="url(#gS)" opacity="0.30"/><circle cx="784.7" cy="83.3" r="2.8" fill="url(#gS)" opacity="0.42"/><circle cx="750.1" cy="144.6" r="2.1" fill="url(#gS)" opacity="0.44"/><circle cx="968.7" cy="261.1" r="3.4" fill="url(#gS)" opacity="0.48"/><circle cx="797.9" cy="132.8" r="3.7" fill="url(#gS)" opacity="0.54"/><circle cx="901.0" cy="119.3" r="1.7" fill="url(#gS)" opacity="0.42"/><circle cx="691.6" cy="260.2" r="2.0" fill="url(#gS)" opacity="0.30"/><circle cx="701.9" cy="242.8" r="1.9" fill="url(#gS)" opacity="0.26"/><circle cx="783.4" cy="88.9" r="1.7" fill="url(#gS)" opacity="0.52"/><circle cx="800.8" cy="118.4" r="1.9" fill="url(#gS)" opacity="0.46"/><circle cx="676.3" cy="180.2" r="2.6" fill="url(#gS)" opacity="0.39"/><circle cx="781.5" cy="275.2" r="1.6" fill="url(#gS)" opacity="0.47"/><circle cx="715.5" cy="72.7" r="1.8" fill="url(#gS)" opacity="0.30"/><circle cx="823.9" cy="115.7" r="1.9" fill="url(#gS)" opacity="0.25"/><circle cx="931.2" cy="271.3" r="2.2" fill="url(#gS)" opacity="0.47"/><circle cx="884.5" cy="260.0" r="3.8" fill="url(#gS)" opacity="0.40"/><circle cx="743.6" cy="154.6" r="2.8" fill="url(#gS)" opacity="0.22"/><circle cx="762.9" cy="84.4" r="3.3" fill="url(#gS)" opacity="0.28"/><circle cx="717.0" cy="126.4" r="3.0" fill="url(#gS)" opacity="0.44"/><circle cx="786.4" cy="149.2" r="1.6" fill="url(#gS)" opacity="0.37"/><circle cx="873.2" cy="189.7" r="3.1" fill="url(#gS)" opacity="0.39"/><circle cx="935.8" cy="263.2" r="2.7" fill="url(#gS)" opacity="0.50"/><circle cx="719.8" cy="102.6" r="3.7" fill="url(#gS)" opacity="0.31"/><circle cx="789.1" cy="87.8" r="2.9" fill="url(#gS)" opacity="0.45"/><circle cx="691.1" cy="128.3" r="1.6" fill="url(#gS)" opacity="0.35"/><circle cx="741.6" cy="198.2" r="3.2" fill="url(#gS)" opacity="0.35"/><circle cx="827.2" cy="288.8" r="3.2" fill="url(#gS)" opacity="0.24"/><circle cx="920.6" cy="168.2" r="3.7" fill="url(#gS)" opacity="0.25"/><circle cx="822.0" cy="289.3" r="3.5" fill="url(#gS)" opacity="0.49"/><circle cx="965.0" cy="262.9" r="3.2" fill="url(#gS)" opacity="0.22"/><circle cx="907.2" cy="176.2" r="1.7" fill="url(#gS)" opacity="0.25"/><circle cx="971.0" cy="61.0" r="2.1" fill="url(#gS)" opacity="0.48"/><circle cx="981.9" cy="115.2" r="3.9" fill="url(#gS)" opacity="0.41"/><circle cx="813.6" cy="175.8" r="2.6" fill="url(#gS)" opacity="0.40"/><circle cx="706.6" cy="253.2" r="2.5" fill="url(#gS)" opacity="0.33"/><circle cx="727.7" cy="105.7" r="3.0" fill="url(#gS)" opacity="0.52"/><circle cx="723.3" cy="236.1" r="3.7" fill="url(#gS)" opacity="0.39"/><circle cx="954.5" cy="271.3" r="3.1" fill="url(#gS)" opacity="0.47"/><circle cx="813.8" cy="88.2" r="2.6" fill="url(#gS)" opacity="0.36"/><circle cx="744.3" cy="109.7" r="2.6" fill="url(#gS)" opacity="0.54"/><circle cx="991.1" cy="99.2" r="3.6" fill="url(#gS)" opacity="0.30"/><circle cx="799.1" cy="267.6" r="3.2" fill="url(#gS)" opacity="0.50"/><circle cx="700.3" cy="173.5" r="2.0" fill="url(#gS)" opacity="0.46"/><circle cx="677.0" cy="161.5" r="3.3" fill="url(#gS)" opacity="0.43"/><circle cx="855.4" cy="295.0" r="1.9" fill="url(#gS)" opacity="0.39"/><circle cx="727.3" cy="125.3" r="3.1" fill="url(#gS)" opacity="0.41"/><circle cx="805.5" cy="81.3" r="2.7" fill="url(#gS)" opacity="0.39"/><circle cx="878.2" cy="206.6" r="2.2" fill="url(#gS)" opacity="0.40"/><circle cx="884.5" cy="129.9" r="3.6" fill="url(#gS)" opacity="0.25"/><circle cx="990.9" cy="285.3" r="4.0" fill="url(#gS)" opacity="0.20"/><circle cx="799.6" cy="81.8" r="3.3" fill="url(#gS)" opacity="0.40"/><circle cx="902.7" cy="229.1" r="1.5" fill="url(#gS)" opacity="0.50"/><circle cx="977.5" cy="204.2" r="2.2" fill="url(#gS)" opacity="0.53"/><circle cx="842.9" cy="272.2" r="3.0" fill="url(#gS)" opacity="0.54"/><circle cx="841.9" cy="118.0" r="1.5" fill="url(#gS)" opacity="0.24"/><circle cx="747.9" cy="131.0" r="3.8" fill="url(#gS)" opacity="0.25"/><circle cx="756.8" cy="194.2" r="2.7" fill="url(#gS)" opacity="0.36"/><circle cx="675.6" cy="90.9" r="2.2" fill="url(#gS)" opacity="0.50"/><circle cx="874.4" cy="243.8" r="1.9" fill="url(#gS)" opacity="0.54"/><circle cx="937.8" cy="162.4" r="3.9" fill="url(#gS)" opacity="0.37"/><circle cx="772.5" cy="230.6" r="1.9" fill="url(#gS)" opacity="0.45"/><circle cx="724.7" cy="277.7" r="3.1" fill="url(#gS)" opacity="0.50"/><circle cx="957.4" cy="217.3" r="3.0" fill="url(#gS)" opacity="0.28"/><circle cx="916.9" cy="250.6" r="2.6" fill="url(#gS)" opacity="0.21"/><circle cx="759.1" cy="199.3" r="3.1" fill="url(#gS)" opacity="0.50"/><circle cx="669.6" cy="214.0" r="2.2" fill="url(#gS)" opacity="0.30"/><circle cx="909.6" cy="159.2" r="2.6" fill="url(#gS)" opacity="0.43"/><circle cx="943.5" cy="287.2" r="2.3" fill="url(#gS)" opacity="0.36"/><circle cx="710.0" cy="126.8" r="3.0" fill="url(#gS)" opacity="0.36"/><circle cx="769.8" cy="213.0" r="3.6" fill="url(#gS)" opacity="0.31"/><circle cx="798.0" cy="193.5" r="3.9" fill="url(#gS)" opacity="0.42"/><circle cx="730.2" cy="158.7" r="2.2" fill="url(#gS)" opacity="0.34"/><circle cx="848.3" cy="155.4" r="2.2" fill="url(#gS)" opacity="0.27"/><circle cx="736.7" cy="178.2" r="1.8" fill="url(#gS)" opacity="0.28"/><circle cx="948.8" cy="101.1" r="3.6" fill="url(#gS)" opacity="0.40"/><circle cx="768.7" cy="149.3" r="1.9" fill="url(#gS)" opacity="0.47"/><circle cx="753.9" cy="180.9" r="3.6" fill="url(#gS)" opacity="0.41"/><circle cx="791.5" cy="220.8" r="3.6" fill="url(#gS)" opacity="0.38"/><circle cx="812.9" cy="194.2" r="1.9" fill="url(#gS)" opacity="0.47"/><circle cx="859.4" cy="96.8" r="1.9" fill="url(#gS)" opacity="0.48"/><circle cx="972.5" cy="153.3" r="1.5" fill="url(#gS)" opacity="0.54"/><circle cx="679.4" cy="289.0" r="2.8" fill="url(#gS)" opacity="0.51"/><circle cx="733.3" cy="185.5" r="2.9" fill="url(#gS)" opacity="0.51"/><circle cx="989.1" cy="90.7" r="3.3" fill="url(#gS)" opacity="0.23"/><circle cx="963.2" cy="287.8" r="2.7" fill="url(#gS)" opacity="0.37"/><circle cx="785.4" cy="190.1" r="2.3" fill="url(#gS)" opacity="0.31"/><circle cx="711.5" cy="234.1" r="1.6" fill="url(#gS)" opacity="0.24"/><circle cx="688.6" cy="197.3" r="1.7" fill="url(#gS)" opacity="0.25"/><circle cx="859.0" cy="249.3" r="3.5" fill="url(#gS)" opacity="0.48"/><circle cx="926.2" cy="264.0" r="2.9" fill="url(#gS)" opacity="0.42"/><circle cx="715.7" cy="68.2" r="3.6" fill="url(#gS)" opacity="0.37"/><circle cx="890.7" cy="241.7" r="2.2" fill="url(#gS)" opacity="0.46"/><circle cx="720.5" cy="287.6" r="3.4" fill="url(#gS)" opacity="0.24"/><circle cx="710.7" cy="209.9" r="2.3" fill="url(#gS)" opacity="0.48"/><circle cx="887.0" cy="280.4" r="2.0" fill="url(#gS)" opacity="0.22"/><circle cx="954.9" cy="206.5" r="2.2" fill="url(#gS)" opacity="0.30"/><circle cx="705.6" cy="204.8" r="2.5" fill="url(#gS)" opacity="0.30"/><circle cx="844.7" cy="214.2" r="2.7" fill="url(#gS)" opacity="0.33"/><circle cx="951.9" cy="204.3" r="3.4" fill="url(#gS)" opacity="0.45"/><circle cx="684.6" cy="259.5" r="2.1" fill="url(#gS)" opacity="0.39"/><circle cx="879.5" cy="293.3" r="3.4" fill="url(#gS)" opacity="0.41"/><circle cx="730.6" cy="126.8" r="3.0" fill="url(#gS)" opacity="0.42"/><circle cx="947.9" cy="257.1" r="3.9" fill="url(#gS)" opacity="0.45"/><circle cx="969.8" cy="249.1" r="2.5" fill="url(#gS)" opacity="0.41"/><circle cx="880.4" cy="230.2" r="3.0" fill="url(#gS)" opacity="0.26"/><circle cx="853.0" cy="127.1" r="1.9" fill="url(#gS)" opacity="0.48"/><circle cx="784.4" cy="280.0" r="3.7" fill="url(#gS)" opacity="0.45"/><circle cx="715.2" cy="110.6" r="1.5" fill="url(#gS)" opacity="0.54"/><circle cx="877.0" cy="135.1" r="3.0" fill="url(#gS)" opacity="0.48"/><circle cx="923.7" cy="228.1" r="3.3" fill="url(#gS)" opacity="0.24"/><circle cx="685.4" cy="90.3" r="2.7" fill="url(#gS)" opacity="0.27"/><circle cx="856.9" cy="239.2" r="2.0" fill="url(#gS)" opacity="0.36"/><circle cx="942.3" cy="92.1" r="2.5" fill="url(#gS)" opacity="0.47"/><circle cx="681.2" cy="169.3" r="1.7" fill="url(#gS)" opacity="0.40"/><circle cx="681.6" cy="167.5" r="1.6" fill="url(#gS)" opacity="0.41"/><circle cx="919.9" cy="122.2" r="2.2" fill="url(#gS)" opacity="0.37"/><circle cx="800.8" cy="106.8" r="1.8" fill="url(#gS)" opacity="0.33"/><circle cx="980.2" cy="135.6" r="2.6" fill="url(#gS)" opacity="0.26"/><circle cx="878.7" cy="238.8" r="3.8" fill="url(#gS)" opacity="0.26"/><circle cx="727.3" cy="112.0" r="1.7" fill="url(#gS)" opacity="0.44"/><circle cx="825.1" cy="286.2" r="1.9" fill="url(#gS)" opacity="0.31"/><circle cx="719.8" cy="158.7" r="1.7" fill="url(#gS)" opacity="0.33"/><circle cx="818.4" cy="68.6" r="2.5" fill="url(#gS)" opacity="0.28"/><circle cx="694.5" cy="136.4" r="2.2" fill="url(#gS)" opacity="0.51"/><circle cx="846.8" cy="279.8" r="2.1" fill="url(#gS)" opacity="0.21"/><circle cx="827.8" cy="192.0" r="2.2" fill="url(#gS)" opacity="0.26"/><circle cx="668.9" cy="214.9" r="3.4" fill="url(#gS)" opacity="0.22"/><circle cx="892.9" cy="267.5" r="2.3" fill="url(#gS)" opacity="0.54"/><circle cx="973.9" cy="256.3" r="2.1" fill="url(#gS)" opacity="0.22"/><circle cx="791.0" cy="84.5" r="3.8" fill="url(#gS)" opacity="0.39"/><circle cx="801.9" cy="168.4" r="1.6" fill="url(#gS)" opacity="0.48"/><circle cx="902.4" cy="78.6" r="2.2" fill="url(#gS)" opacity="0.50"/><circle cx="976.3" cy="271.0" r="3.2" fill="url(#gS)" opacity="0.35"/><circle cx="982.9" cy="153.9" r="2.6" fill="url(#gS)" opacity="0.23"/><circle cx="952.3" cy="157.9" r="3.7" fill="url(#gS)" opacity="0.49"/><circle cx="770.8" cy="190.5" r="2.9" fill="url(#gS)" opacity="0.25"/><circle cx="814.9" cy="131.2" r="3.5" fill="url(#gS)" opacity="0.31"/><circle cx="723.8" cy="273.6" r="3.9" fill="url(#gS)" opacity="0.50"/><circle cx="723.7" cy="119.8" r="1.7" fill="url(#gS)" opacity="0.31"/><circle cx="955.7" cy="237.5" r="2.3" fill="url(#gS)" opacity="0.50"/><circle cx="963.8" cy="78.3" r="1.7" fill="url(#gS)" opacity="0.53"/><circle cx="918.0" cy="284.8" r="2.0" fill="url(#gS)" opacity="0.48"/><circle cx="924.0" cy="184.1" r="3.3" fill="url(#gS)" opacity="0.22"/><circle cx="736.9" cy="194.3" r="3.7" fill="url(#gS)" opacity="0.26"/><circle cx="722.5" cy="234.6" r="2.3" fill="url(#gS)" opacity="0.49"/><circle cx="937.8" cy="114.4" r="2.5" fill="url(#gS)" opacity="0.23"/><circle cx="717.4" cy="117.8" r="3.2" fill="url(#gS)" opacity="0.20"/><circle cx="905.2" cy="99.0" r="3.5" fill="url(#gS)" opacity="0.41"/><circle cx="961.3" cy="290.1" r="3.6" fill="url(#gS)" opacity="0.42"/><circle cx="945.4" cy="160.1" r="2.4" fill="url(#gS)" opacity="0.38"/><circle cx="936.4" cy="140.1" r="2.9" fill="url(#gS)" opacity="0.35"/><circle cx="672.8" cy="216.8" r="1.9" fill="url(#gS)" opacity="0.46"/><circle cx="696.4" cy="237.3" r="1.5" fill="url(#gS)" opacity="0.24"/><circle cx="715.0" cy="226.0" r="2.8" fill="url(#gS)" opacity="0.27"/><circle cx="922.2" cy="103.1" r="2.4" fill="url(#gS)" opacity="0.42"/><circle cx="792.0" cy="198.3" r="3.1" fill="url(#gS)" opacity="0.51"/><circle cx="710.7" cy="162.4" r="2.6" fill="url(#gS)" opacity="0.52"/><circle cx="789.9" cy="60.5" r="2.0" fill="url(#gS)" opacity="0.25"/><circle cx="955.4" cy="258.2" r="3.5" fill="url(#gS)" opacity="0.32"/><circle cx="784.9" cy="128.1" r="3.6" fill="url(#gS)" opacity="0.34"/><circle cx="977.0" cy="82.3" r="2.6" fill="url(#gS)" opacity="0.48"/><circle cx="836.4" cy="155.8" r="1.5" fill="url(#gS)" opacity="0.39"/><circle cx="893.4" cy="164.0" r="2.4" fill="url(#gS)" opacity="0.38"/><circle cx="980.6" cy="87.5" r="4.0" fill="url(#gS)" opacity="0.27"/><circle cx="978.5" cy="142.0" r="2.6" fill="url(#gS)" opacity="0.53"/><circle cx="868.3" cy="85.4" r="3.4" fill="url(#gS)" opacity="0.26"/><circle cx="684.1" cy="133.5" r="2.2" fill="url(#gS)" opacity="0.50"/><circle cx="899.4" cy="294.7" r="2.6" fill="url(#gS)" opacity="0.52"/><circle cx="859.4" cy="71.0" r="1.8" fill="url(#gS)" opacity="0.50"/><circle cx="958.7" cy="61.4" r="1.8" fill="url(#gS)" opacity="0.47"/><circle cx="823.8" cy="120.8" r="1.6" fill="url(#gS)" opacity="0.41"/><circle cx="831.9" cy="198.1" r="2.0" fill="url(#gS)" opacity="0.54"/><circle cx="902.4" cy="69.5" r="2.1" fill="url(#gS)" opacity="0.28"/><circle cx="673.7" cy="188.4" r="3.4" fill="url(#gS)" opacity="0.34"/><circle cx="796.2" cy="151.6" r="3.8" fill="url(#gS)" opacity="0.32"/><circle cx="842.8" cy="218.6" r="2.6" fill="url(#gS)" opacity="0.51"/><circle cx="796.0" cy="227.2" r="1.9" fill="url(#gS)" opacity="0.31"/><circle cx="909.3" cy="280.2" r="3.5" fill="url(#gS)" opacity="0.21"/><circle cx="871.9" cy="146.7" r="1.8" fill="url(#gS)" opacity="0.41"/><circle cx="916.5" cy="174.7" r="2.3" fill="url(#gS)" opacity="0.40"/><circle cx="736.3" cy="126.8" r="3.3" fill="url(#gS)" opacity="0.48"/><circle cx="773.8" cy="234.9" r="2.4" fill="url(#gS)" opacity="0.29"/><circle cx="771.9" cy="161.1" r="3.8" fill="url(#gS)" opacity="0.38"/><circle cx="803.5" cy="63.2" r="2.0" fill="url(#gS)" opacity="0.22"/><circle cx="887.5" cy="278.1" r="2.6" fill="url(#gS)" opacity="0.49"/><circle cx="846.6" cy="172.1" r="3.3" fill="url(#gS)" opacity="0.34"/><circle cx="743.6" cy="205.4" r="1.6" fill="url(#gS)" opacity="0.37"/><circle cx="940.1" cy="69.2" r="3.0" fill="url(#gS)" opacity="0.30"/><circle cx="734.7" cy="265.0" r="2.2" fill="url(#gS)" opacity="0.42"/><circle cx="819.2" cy="210.5" r="2.9" fill="url(#gS)" opacity="0.25"/><circle cx="673.2" cy="266.1" r="2.0" fill="url(#gS)" opacity="0.42"/><circle cx="833.1" cy="267.4" r="2.0" fill="url(#gS)" opacity="0.47"/><circle cx="971.5" cy="272.2" r="2.6" fill="url(#gS)" opacity="0.41"/><circle cx="891.3" cy="87.7" r="1.5" fill="url(#gS)" opacity="0.23"/><circle cx="955.8" cy="209.6" r="2.1" fill="url(#gS)" opacity="0.30"/><circle cx="827.9" cy="228.7" r="3.8" fill="url(#gS)" opacity="0.26"/><circle cx="737.6" cy="289.0" r="2.2" fill="url(#gS)" opacity="0.23"/><circle cx="833.5" cy="154.6" r="2.8" fill="url(#gS)" opacity="0.31"/><circle cx="742.8" cy="234.4" r="3.9" fill="url(#gS)" opacity="0.37"/><circle cx="723.2" cy="214.8" r="3.6" fill="url(#gS)" opacity="0.54"/><circle cx="832.1" cy="237.8" r="3.1" fill="url(#gS)" opacity="0.20"/><circle cx="842.4" cy="78.9" r="2.6" fill="url(#gS)" opacity="0.35"/><circle cx="752.6" cy="220.8" r="3.5" fill="url(#gS)" opacity="0.31"/><circle cx="979.3" cy="172.6" r="2.4" fill="url(#gS)" opacity="0.44"/><circle cx="894.7" cy="175.1" r="2.1" fill="url(#gS)" opacity="0.29"/><circle cx="953.5" cy="217.0" r="3.5" fill="url(#gS)" opacity="0.48"/><circle cx="887.0" cy="112.8" r="1.8" fill="url(#gS)" opacity="0.39"/><circle cx="982.7" cy="182.0" r="2.8" fill="url(#gS)" opacity="0.47"/><circle cx="775.1" cy="132.0" r="2.5" fill="url(#gS)" opacity="0.26"/><circle cx="768.0" cy="191.2" r="1.9" fill="url(#gS)" opacity="0.32"/><circle cx="789.1" cy="192.9" r="2.8" fill="url(#gS)" opacity="0.43"/><circle cx="960.0" cy="138.9" r="2.5" fill="url(#gS)" opacity="0.53"/><circle cx="812.0" cy="63.7" r="3.1" fill="url(#gS)" opacity="0.39"/><circle cx="682.8" cy="186.6" r="1.5" fill="url(#gS)" opacity="0.50"/><circle cx="894.6" cy="204.7" r="2.4" fill="url(#gS)" opacity="0.22"/><circle cx="771.8" cy="183.3" r="3.3" fill="url(#gS)" opacity="0.42"/><circle cx="885.0" cy="62.7" r="3.5" fill="url(#gS)" opacity="0.31"/><circle cx="836.6" cy="137.6" r="2.7" fill="url(#gS)" opacity="0.33"/><circle cx="787.7" cy="189.2" r="3.5" fill="url(#gS)" opacity="0.34"/><circle cx="700.2" cy="166.3" r="2.5" fill="url(#gS)" opacity="0.22"/><circle cx="687.8" cy="130.2" r="1.9" fill="url(#gS)" opacity="0.31"/><circle cx="714.5" cy="144.6" r="3.3" fill="url(#gS)" opacity="0.46"/><circle cx="857.1" cy="181.2" r="2.1" fill="url(#gS)" opacity="0.54"/><circle cx="782.4" cy="200.6" r="3.6" fill="url(#gS)" opacity="0.45"/><circle cx="730.0" cy="116.8" r="3.1" fill="url(#gS)" opacity="0.44"/><circle cx="672.1" cy="234.7" r="2.4" fill="url(#gS)" opacity="0.22"/><circle cx="672.1" cy="123.6" r="1.8" fill="url(#gS)" opacity="0.26"/><circle cx="984.5" cy="65.3" r="3.1" fill="url(#gS)" opacity="0.40"/><circle cx="954.6" cy="252.7" r="2.7" fill="url(#gS)" opacity="0.52"/><circle cx="750.5" cy="162.6" r="3.9" fill="url(#gS)" opacity="0.39"/><circle cx="742.7" cy="152.2" r="3.0" fill="url(#gS)" opacity="0.51"/><circle cx="715.5" cy="268.3" r="3.0" fill="url(#gS)" opacity="0.21"/><circle cx="714.5" cy="173.2" r="2.5" fill="url(#gS)" opacity="0.42"/><circle cx="968.6" cy="204.7" r="3.7" fill="url(#gS)" opacity="0.48"/><circle cx="870.9" cy="270.8" r="3.6" fill="url(#gS)" opacity="0.31"/><circle cx="921.1" cy="245.6" r="2.1" fill="url(#gS)" opacity="0.39"/><circle cx="895.4" cy="288.7" r="2.8" fill="url(#gS)" opacity="0.26"/><circle cx="949.4" cy="294.2" r="3.0" fill="url(#gS)" opacity="0.55"/><circle cx="849.9" cy="275.3" r="1.5" fill="url(#gS)" opacity="0.49"/><circle cx="788.7" cy="64.8" r="3.7" fill="url(#gS)" opacity="0.37"/><circle cx="783.8" cy="250.3" r="2.2" fill="url(#gS)" opacity="0.47"/><circle cx="868.3" cy="148.9" r="2.2" fill="url(#gS)" opacity="0.46"/><circle cx="709.3" cy="154.8" r="2.6" fill="url(#gS)" opacity="0.26"/><circle cx="958.1" cy="72.9" r="3.8" fill="url(#gS)" opacity="0.28"/><circle cx="893.1" cy="234.2" r="1.9" fill="url(#gS)" opacity="0.38"/><circle cx="734.7" cy="285.5" r="2.0" fill="url(#gS)" opacity="0.31"/><circle cx="706.0" cy="281.5" r="2.8" fill="url(#gS)" opacity="0.29"/><circle cx="968.2" cy="141.7" r="1.8" fill="url(#gS)" opacity="0.49"/><circle cx="866.9" cy="254.1" r="1.8" fill="url(#gS)" opacity="0.38"/><circle cx="942.7" cy="84.6" r="3.3" fill="url(#gS)" opacity="0.25"/><circle cx="705.9" cy="214.9" r="1.6" fill="url(#gS)" opacity="0.47"/><circle cx="855.7" cy="148.2" r="3.1" fill="url(#gS)" opacity="0.34"/><circle cx="928.4" cy="137.6" r="1.6" fill="url(#gS)" opacity="0.43"/><circle cx="725.3" cy="213.7" r="2.9" fill="url(#gS)" opacity="0.30"/><circle cx="681.4" cy="270.1" r="2.2" fill="url(#gS)" opacity="0.33"/><circle cx="832.5" cy="85.0" r="3.0" fill="url(#gS)" opacity="0.30"/><circle cx="679.7" cy="283.9" r="2.7" fill="url(#gS)" opacity="0.22"/><circle cx="885.4" cy="185.1" r="2.4" fill="url(#gS)" opacity="0.43"/><circle cx="805.2" cy="259.6" r="3.8" fill="url(#gS)" opacity="0.28"/><circle cx="878.6" cy="129.6" r="1.7" fill="url(#gS)" opacity="0.42"/><circle cx="921.5" cy="226.6" r="3.0" fill="url(#gS)" opacity="0.44"/><circle cx="861.0" cy="209.0" r="1.9" fill="url(#gS)" opacity="0.45"/><circle cx="905.0" cy="124.8" r="3.8" fill="url(#gS)" opacity="0.36"/><circle cx="977.6" cy="152.5" r="3.8" fill="url(#gS)" opacity="0.37"/><circle cx="758.2" cy="119.6" r="3.1" fill="url(#gS)" opacity="0.48"/><circle cx="846.2" cy="89.5" r="2.2" fill="url(#gS)" opacity="0.51"/><circle cx="921.6" cy="91.3" r="3.5" fill="url(#gS)" opacity="0.26"/><circle cx="729.4" cy="254.3" r="3.3" fill="url(#gS)" opacity="0.29"/><circle cx="714.3" cy="131.7" r="2.6" fill="url(#gS)" opacity="0.55"/><circle cx="955.5" cy="162.4" r="2.4" fill="url(#gS)" opacity="0.33"/><circle cx="973.9" cy="276.3" r="3.8" fill="url(#gS)" opacity="0.34"/><circle cx="955.5" cy="275.6" r="2.2" fill="url(#gS)" opacity="0.39"/><circle cx="821.8" cy="109.8" r="2.2" fill="url(#gS)" opacity="0.38"/><circle cx="986.7" cy="170.9" r="2.3" fill="url(#gS)" opacity="0.50"/><circle cx="908.6" cy="220.0" r="2.8" fill="url(#gS)" opacity="0.38"/><circle cx="786.1" cy="291.6" r="2.4" fill="url(#gS)" opacity="0.30"/><circle cx="984.6" cy="263.9" r="3.7" fill="url(#gS)" opacity="0.38"/><circle cx="743.8" cy="103.5" r="2.7" fill="url(#gS)" opacity="0.40"/><circle cx="812.5" cy="131.5" r="3.9" fill="url(#gS)" opacity="0.22"/><circle cx="779.5" cy="248.4" r="3.0" fill="url(#gS)" opacity="0.49"/><circle cx="969.0" cy="214.6" r="2.4" fill="url(#gS)" opacity="0.44"/><circle cx="911.0" cy="239.5" r="3.6" fill="url(#gS)" opacity="0.51"/><circle cx="870.7" cy="207.6" r="2.5" fill="url(#gS)" opacity="0.33"/><circle cx="942.9" cy="193.7" r="3.6" fill="url(#gS)" opacity="0.34"/><circle cx="816.6" cy="111.7" r="2.6" fill="url(#gS)" opacity="0.45"/><circle cx="868.7" cy="177.5" r="3.5" fill="url(#gS)" opacity="0.48"/><circle cx="814.9" cy="134.6" r="1.6" fill="url(#gS)" opacity="0.25"/><ellipse cx="702.0" cy="168.6" rx="11.6" ry="11.6" fill="url(#gR3)" opacity="0.44"/><ellipse cx="924.9" cy="151.3" rx="10.3" ry="10.9" fill="url(#gR1)" opacity="0.57"/><ellipse cx="858.6" cy="245.6" rx="9.9" ry="11.4" fill="url(#gR1)" opacity="0.55"/><ellipse cx="991.6" cy="255.5" rx="8.1" ry="7.5" fill="url(#gR2)" opacity="0.41"/><ellipse cx="803.6" cy="68.2" rx="11.2" ry="12.8" fill="url(#gR2)" opacity="0.61"/><ellipse cx="912.8" cy="270.3" rx="11.6" ry="10.1" fill="url(#gR3)" opacity="0.66"/><ellipse cx="719.9" cy="106.9" rx="8.2" ry="7.7" fill="url(#gR3)" opacity="0.59"/><ellipse cx="907.8" cy="176.9" rx="10.1" ry="10.7" fill="url(#gR1)" opacity="0.47"/><ellipse cx="854.4" cy="227.4" rx="12.0" ry="12.7" fill="url(#gR2)" opacity="0.67"/><ellipse cx="684.3" cy="83.7" rx="9.5" ry="9.9" fill="url(#gR2)" opacity="0.59"/><ellipse cx="692.0" cy="263.9" rx="10.3" ry="11.6" fill="url(#gR3)" opacity="0.48"/><ellipse cx="864.1" cy="289.7" rx="12.0" ry="11.7" fill="url(#gR1)" opacity="0.57"/><ellipse cx="668.7" cy="190.7" rx="9.2" ry="9.7" fill="url(#gR2)" opacity="0.69"/><ellipse cx="793.5" cy="92.8" rx="9.7" ry="10.2" fill="url(#gR3)" opacity="0.68"/><ellipse cx="845.7" cy="90.5" rx="10.0" ry="8.9" fill="url(#gR1)" opacity="0.61"/><ellipse cx="756.3" cy="101.3" rx="8.7" ry="9.4" fill="url(#gR2)" opacity="0.69"/><ellipse cx="969.2" cy="257.6" rx="8.0" ry="9.2" fill="url(#gR3)" opacity="0.58"/><ellipse cx="869.3" cy="111.5" rx="10.5" ry="9.1" fill="url(#gR2)" opacity="0.45"/><ellipse cx="888.3" cy="74.1" rx="8.5" ry="7.6" fill="url(#gR2)" opacity="0.44"/><ellipse cx="905.1" cy="203.2" rx="9.5" ry="9.0" fill="url(#gR1)" opacity="0.41"/><ellipse cx="948.7" cy="132.0" rx="11.5" ry="11.2" fill="url(#gR1)" opacity="0.52"/><ellipse cx="716.8" cy="96.6" rx="9.4" ry="8.2" fill="url(#gR3)" opacity="0.53"/><ellipse cx="871.8" cy="276.7" rx="10.6" ry="11.1" fill="url(#gR3)" opacity="0.67"/><ellipse cx="812.4" cy="246.2" rx="12.4" ry="13.7" fill="url(#gR1)" opacity="0.61"/><ellipse cx="920.6" cy="189.9" rx="10.4" ry="10.2" fill="url(#gR2)" opacity="0.61"/><ellipse cx="979.0" cy="168.8" rx="10.5" ry="9.1" fill="url(#gR1)" opacity="0.65"/><ellipse cx="898.0" cy="116.5" rx="12.1" ry="12.8" fill="url(#gR1)" opacity="0.44"/><ellipse cx="884.9" cy="228.5" rx="9.4" ry="9.6" fill="url(#gR3)" opacity="0.38"/><ellipse cx="989.3" cy="185.2" rx="10.8" ry="12.0" fill="url(#gR2)" opacity="0.36"/><ellipse cx="904.6" cy="76.1" rx="9.6" ry="10.3" fill="url(#gR1)" opacity="0.65"/><ellipse cx="881.7" cy="158.3" rx="10.5" ry="10.3" fill="url(#gR3)" opacity="0.45"/><ellipse cx="914.7" cy="117.1" rx="9.7" ry="10.1" fill="url(#gR2)" opacity="0.35"/><ellipse cx="766.1" cy="64.3" rx="8.1" ry="6.9" fill="url(#gR1)" opacity="0.64"/><ellipse cx="919.0" cy="287.8" rx="11.5" ry="11.5" fill="url(#gR3)" opacity="0.49"/><ellipse cx="755.9" cy="223.0" rx="10.4" ry="10.6" fill="url(#gR3)" opacity="0.43"/><ellipse cx="897.7" cy="275.9" rx="10.8" ry="11.0" fill="url(#gR1)" opacity="0.68"/><ellipse cx="689.0" cy="117.6" rx="8.1" ry="8.2" fill="url(#gR1)" opacity="0.53"/><ellipse cx="744.7" cy="208.6" rx="11.1" ry="11.3" fill="url(#gR2)" opacity="0.68"/><ellipse cx="893.4" cy="244.5" rx="11.6" ry="12.2" fill="url(#gR3)" opacity="0.40"/><ellipse cx="794.4" cy="272.3" rx="9.5" ry="9.6" fill="url(#gR3)" opacity="0.52"/><ellipse cx="892.7" cy="257.3" rx="10.5" ry="9.1" fill="url(#gR2)" opacity="0.45"/><ellipse cx="926.3" cy="181.2" rx="9.4" ry="10.1" fill="url(#gR2)" opacity="0.47"/><ellipse cx="722.4" cy="258.9" rx="10.4" ry="11.7" fill="url(#gR3)" opacity="0.66"/><ellipse cx="855.0" cy="282.1" rx="10.6" ry="9.3" fill="url(#gR2)" opacity="0.54"/><ellipse cx="685.9" cy="145.5" rx="11.3" ry="11.8" fill="url(#gR3)" opacity="0.44"/><ellipse cx="801.6" cy="184.7" rx="11.1" ry="11.8" fill="url(#gR1)" opacity="0.64"/><ellipse cx="947.1" cy="186.6" rx="9.8" ry="11.0" fill="url(#gR2)" opacity="0.37"/><ellipse cx="888.1" cy="104.3" rx="11.3" ry="11.8" fill="url(#gR3)" opacity="0.51"/><ellipse cx="816.3" cy="264.8" rx="9.8" ry="11.2" fill="url(#gR1)" opacity="0.51"/><ellipse cx="808.4" cy="233.2" rx="8.3" ry="8.3" fill="url(#gR1)" opacity="0.37"/><ellipse cx="791.2" cy="133.0" rx="9.4" ry="10.7" fill="url(#gR2)" opacity="0.62"/><ellipse cx="792.8" cy="121.4" rx="11.6" ry="10.7" fill="url(#gR1)" opacity="0.50"/><ellipse cx="819.7" cy="68.7" rx="10.0" ry="11.0" fill="url(#gR1)" opacity="0.61"/><ellipse cx="720.3" cy="165.2" rx="10.5" ry="9.6" fill="url(#gR2)" opacity="0.60"/><ellipse cx="764.4" cy="182.1" rx="11.4" ry="11.5" fill="url(#gR3)" opacity="0.36"/><ellipse cx="886.4" cy="286.2" rx="9.2" ry="9.9" fill="url(#gR1)" opacity="0.53"/><ellipse cx="856.0" cy="81.0" rx="11.5" ry="9.9" fill="url(#gR2)" opacity="0.60"/><ellipse cx="813.0" cy="191.7" rx="9.2" ry="8.6" fill="url(#gR3)" opacity="0.60"/><ellipse cx="968.8" cy="227.8" rx="12.3" ry="13.2" fill="url(#gR3)" opacity="0.59"/><ellipse cx="872.0" cy="162.2" rx="9.8" ry="10.0" fill="url(#gR1)" opacity="0.61"/><ellipse cx="703.6" cy="136.1" rx="11.5" ry="10.2" fill="url(#gR1)" opacity="0.60"/><ellipse cx="739.4" cy="259.1" rx="8.4" ry="8.2" fill="url(#gR1)" opacity="0.55"/><ellipse cx="734.7" cy="61.5" rx="9.6" ry="9.7" fill="url(#gR3)" opacity="0.38"/><ellipse cx="890.2" cy="233.7" rx="11.8" ry="10.9" fill="url(#gR2)" opacity="0.55"/><ellipse cx="871.2" cy="258.8" rx="9.2" ry="9.7" fill="url(#gR2)" opacity="0.58"/><ellipse cx="733.2" cy="257.1" rx="12.2" ry="13.8" fill="url(#gR3)" opacity="0.61"/><ellipse cx="981.1" cy="234.6" rx="11.4" ry="12.6" fill="url(#gR1)" opacity="0.67"/><ellipse cx="966.1" cy="167.8" rx="10.5" ry="10.7" fill="url(#gR1)" opacity="0.38"/><ellipse cx="667.1" cy="166.8" rx="12.0" ry="13.5" fill="url(#gR1)" opacity="0.42"/><ellipse cx="963.7" cy="283.6" rx="8.2" ry="7.0" fill="url(#gR2)" opacity="0.37"/><ellipse cx="806.3" cy="216.9" rx="10.3" ry="10.3" fill="url(#gR3)" opacity="0.59"/><ellipse cx="918.5" cy="283.7" rx="12.1" ry="11.3" fill="url(#gR1)" opacity="0.57"/><ellipse cx="888.1" cy="228.4" rx="11.4" ry="12.4" fill="url(#gR2)" opacity="0.68"/><ellipse cx="774.7" cy="235.4" rx="12.4" ry="12.7" fill="url(#gR1)" opacity="0.62"/><ellipse cx="836.5" cy="68.0" rx="8.4" ry="7.9" fill="url(#gR3)" opacity="0.37"/><ellipse cx="725.0" cy="94.6" rx="8.4" ry="8.2" fill="url(#gR3)" opacity="0.53"/><ellipse cx="702.7" cy="282.7" rx="11.0" ry="10.7" fill="url(#gR3)" opacity="0.40"/><ellipse cx="915.5" cy="206.6" rx="8.4" ry="7.9" fill="url(#gR3)" opacity="0.39"/><ellipse cx="788.6" cy="79.3" rx="12.3" ry="13.6" fill="url(#gR3)" opacity="0.44"/><ellipse cx="910.3" cy="127.2" rx="10.3" ry="10.0" fill="url(#gR1)" opacity="0.40"/><ellipse cx="924.0" cy="269.7" rx="10.1" ry="8.6" fill="url(#gR2)" opacity="0.67"/><ellipse cx="685.3" cy="195.5" rx="8.9" ry="7.7" fill="url(#gR3)" opacity="0.52"/><ellipse cx="911.1" cy="114.0" rx="11.8" ry="13.6" fill="url(#gR1)" opacity="0.56"/><ellipse cx="988.2" cy="231.6" rx="11.9" ry="10.3" fill="url(#gR3)" opacity="0.45"/><ellipse cx="704.3" cy="170.3" rx="8.5" ry="8.2" fill="url(#gR1)" opacity="0.41"/><ellipse cx="671.2" cy="253.6" rx="8.4" ry="9.6" fill="url(#gR3)" opacity="0.62"/><ellipse cx="843.3" cy="158.0" rx="10.0" ry="11.0" fill="url(#gR1)" opacity="0.36"/><ellipse cx="892.3" cy="169.4" rx="11.8" ry="11.5" fill="url(#gR1)" opacity="0.57"/><ellipse cx="816.5" cy="279.5" rx="12.1" ry="13.6" fill="url(#gR3)" opacity="0.61"/><ellipse cx="825.7" cy="67.8" rx="9.9" ry="10.5" fill="url(#gR2)" opacity="0.58"/><ellipse cx="869.7" cy="261.1" rx="10.0" ry="9.8" fill="url(#gR2)" opacity="0.65"/><ellipse cx="778.3" cy="278.0" rx="10.9" ry="10.2" fill="url(#gR3)" opacity="0.47"/><ellipse cx="702.2" cy="81.2" rx="10.6" ry="9.4" fill="url(#gR1)" opacity="0.62"/><ellipse cx="902.8" cy="183.9" rx="10.9" ry="11.9" fill="url(#gR2)" opacity="0.40"/><ellipse cx="671.9" cy="235.2" rx="11.9" ry="11.5" fill="url(#gR1)" opacity="0.60"/><ellipse cx="673.7" cy="91.6" rx="9.4" ry="8.6" fill="url(#gR2)" opacity="0.42"/><ellipse cx="987.9" cy="224.8" rx="12.0" ry="11.5" fill="url(#gR2)" opacity="0.39"/><ellipse cx="899.2" cy="269.6" rx="9.1" ry="9.7" fill="url(#gR3)" opacity="0.40"/><ellipse cx="770.2" cy="100.5" rx="10.5" ry="10.3" fill="url(#gR1)" opacity="0.51"/><ellipse cx="833.8" cy="66.9" rx="8.4" ry="7.2" fill="url(#gR3)" opacity="0.59"/><ellipse cx="744.4" cy="195.5" rx="11.1" ry="11.1" fill="url(#gR1)" opacity="0.60"/><ellipse cx="985.1" cy="117.1" rx="11.3" ry="12.3" fill="url(#gR1)" opacity="0.43"/><ellipse cx="765.1" cy="202.3" rx="8.5" ry="7.7" fill="url(#gR3)" opacity="0.59"/><ellipse cx="733.2" cy="288.3" rx="11.0" ry="9.7" fill="url(#gR1)" opacity="0.45"/><ellipse cx="838.2" cy="127.9" rx="8.6" ry="9.7" fill="url(#gR2)" opacity="0.44"/><ellipse cx="807.3" cy="214.9" rx="8.6" ry="8.7" fill="url(#gR1)" opacity="0.65"/><ellipse cx="937.8" cy="229.3" rx="8.8" ry="8.1" fill="url(#gR1)" opacity="0.38"/><ellipse cx="855.9" cy="110.5" rx="9.1" ry="10.0" fill="url(#gR2)" opacity="0.45"/><ellipse cx="848.0" cy="133.2" rx="8.7" ry="8.6" fill="url(#gR2)" opacity="0.55"/><ellipse cx="962.8" cy="172.4" rx="8.6" ry="8.5" fill="url(#gR3)" opacity="0.62"/><ellipse cx="784.1" cy="209.6" rx="10.9" ry="9.9" fill="url(#gR3)" opacity="0.51"/><ellipse cx="842.6" cy="139.5" rx="10.1" ry="8.7" fill="url(#gR2)" opacity="0.46"/><ellipse cx="738.9" cy="95.1" rx="12.4" ry="10.9" fill="url(#gR2)" opacity="0.54"/><ellipse cx="668.1" cy="92.2" rx="12.3" ry="13.4" fill="url(#gR3)" opacity="0.62"/><ellipse cx="731.4" cy="106.0" rx="10.3" ry="9.0" fill="url(#gR1)" opacity="0.69"/><ellipse cx="934.3" cy="181.9" rx="11.4" ry="12.3" fill="url(#gR1)" opacity="0.37"/><ellipse cx="771.8" cy="279.0" rx="10.1" ry="8.8" fill="url(#gR2)" opacity="0.69"/><ellipse cx="694.9" cy="75.4" rx="10.1" ry="9.1" fill="url(#gR3)" opacity="0.68"/><ellipse cx="977.1" cy="265.5" rx="10.0" ry="11.0" fill="url(#gR2)" opacity="0.46"/><ellipse cx="770.9" cy="241.8" rx="12.2" ry="10.9" fill="url(#gR3)" opacity="0.46"/><ellipse cx="750.3" cy="262.1" rx="12.2" ry="11.1" fill="url(#gR1)" opacity="0.64"/><ellipse cx="785.3" cy="123.9" rx="8.9" ry="9.3" fill="url(#gR3)" opacity="0.55"/><ellipse cx="876.9" cy="274.9" rx="10.7" ry="11.4" fill="url(#gR3)" opacity="0.53"/><ellipse cx="712.8" cy="253.6" rx="8.1" ry="7.3" fill="url(#gR3)" opacity="0.49"/><ellipse cx="835.9" cy="87.7" rx="9.6" ry="10.4" fill="url(#gR3)" opacity="0.46"/><ellipse cx="973.1" cy="210.8" rx="12.1" ry="11.3" fill="url(#gR3)" opacity="0.41"/><ellipse cx="861.1" cy="221.7" rx="11.1" ry="9.9" fill="url(#gR3)" opacity="0.37"/><ellipse cx="767.8" cy="242.6" rx="8.9" ry="9.2" fill="url(#gR3)" opacity="0.55"/><ellipse cx="978.2" cy="86.3" rx="9.1" ry="8.6" fill="url(#gR2)" opacity="0.38"/><ellipse cx="876.8" cy="214.3" rx="8.1" ry="8.1" fill="url(#gR3)" opacity="0.68"/>
<ellipse cx="923.4" cy="150.0" rx="5.4" ry="5.2" fill="url(#gB2)" opacity="0.74"/><ellipse cx="857.2" cy="247.5" rx="5.4" ry="5.1" fill="url(#gB2)" opacity="0.57"/><ellipse cx="990.2" cy="253.9" rx="4.4" ry="4.6" fill="url(#gB2)" opacity="0.57"/><ellipse cx="803.4" cy="67.9" rx="6.4" ry="5.9" fill="url(#gB2)" opacity="0.50"/><ellipse cx="720.7" cy="107.9" rx="4.2" ry="3.4" fill="url(#gB2)" opacity="0.79"/><ellipse cx="856.4" cy="227.9" rx="7.0" ry="7.9" fill="url(#gB2)" opacity="0.85"/><ellipse cx="686.2" cy="82.6" rx="5.9" ry="4.9" fill="url(#gB2)" opacity="0.64"/><ellipse cx="693.2" cy="264.3" rx="5.9" ry="5.1" fill="url(#gB2)" opacity="0.60"/><ellipse cx="792.0" cy="94.0" rx="5.0" ry="4.7" fill="url(#gB2)" opacity="0.76"/><ellipse cx="846.6" cy="89.8" rx="6.1" ry="5.9" fill="url(#gB2)" opacity="0.65"/><ellipse cx="756.4" cy="102.3" rx="5.3" ry="5.3" fill="url(#gB2)" opacity="0.52"/><ellipse cx="970.7" cy="256.4" rx="4.8" ry="5.3" fill="url(#gB2)" opacity="0.62"/><ellipse cx="871.2" cy="110.1" rx="6.1" ry="6.0" fill="url(#gB2)" opacity="0.52"/><ellipse cx="887.8" cy="72.6" rx="4.5" ry="4.5" fill="url(#gB2)" opacity="0.53"/><ellipse cx="907.0" cy="204.2" rx="5.7" ry="6.4" fill="url(#gB2)" opacity="0.63"/><ellipse cx="950.1" cy="133.5" rx="5.6" ry="5.3" fill="url(#gB2)" opacity="0.68"/><ellipse cx="811.4" cy="244.5" rx="6.1" ry="5.0" fill="url(#gB2)" opacity="0.62"/><ellipse cx="920.0" cy="189.9" rx="5.2" ry="5.2" fill="url(#gB2)" opacity="0.62"/><ellipse cx="977.1" cy="166.9" rx="6.4" ry="5.2" fill="url(#gB2)" opacity="0.80"/><ellipse cx="896.4" cy="118.2" rx="7.6" ry="6.5" fill="url(#gB2)" opacity="0.48"/><ellipse cx="989.9" cy="186.5" rx="6.3" ry="5.6" fill="url(#gB2)" opacity="0.64"/><ellipse cx="914.2" cy="116.5" rx="5.3" ry="5.9" fill="url(#gB2)" opacity="0.68"/><ellipse cx="767.7" cy="62.4" rx="3.8" ry="3.2" fill="url(#gB2)" opacity="0.64"/><ellipse cx="920.8" cy="286.4" rx="6.4" ry="6.2" fill="url(#gB2)" opacity="0.80"/><ellipse cx="754.2" cy="221.8" rx="6.1" ry="5.4" fill="url(#gB2)" opacity="0.54"/><ellipse cx="899.5" cy="277.1" rx="6.9" ry="6.3" fill="url(#gB2)" opacity="0.73"/><ellipse cx="894.7" cy="246.0" rx="5.3" ry="4.9" fill="url(#gB2)" opacity="0.54"/><ellipse cx="796.0" cy="272.9" rx="5.4" ry="5.9" fill="url(#gB2)" opacity="0.67"/><ellipse cx="891.4" cy="258.7" rx="5.9" ry="6.7" fill="url(#gB2)" opacity="0.49"/><ellipse cx="724.2" cy="257.1" rx="5.5" ry="4.9" fill="url(#gB2)" opacity="0.70"/><ellipse cx="856.3" cy="280.4" rx="5.1" ry="5.3" fill="url(#gB2)" opacity="0.85"/><ellipse cx="802.1" cy="183.9" rx="6.4" ry="6.6" fill="url(#gB2)" opacity="0.68"/><ellipse cx="948.3" cy="187.0" rx="6.2" ry="6.3" fill="url(#gB2)" opacity="0.64"/><ellipse cx="887.3" cy="104.2" rx="6.4" ry="7.3" fill="url(#gB2)" opacity="0.53"/><ellipse cx="816.7" cy="262.9" rx="5.1" ry="5.7" fill="url(#gB2)" opacity="0.55"/><ellipse cx="792.7" cy="134.2" rx="4.9" ry="4.3" fill="url(#gB2)" opacity="0.77"/><ellipse cx="794.4" cy="119.4" rx="6.9" ry="6.8" fill="url(#gB2)" opacity="0.45"/><ellipse cx="817.8" cy="70.1" rx="6.0" ry="6.2" fill="url(#gB2)" opacity="0.58"/><ellipse cx="720.1" cy="163.9" rx="4.9" ry="4.5" fill="url(#gB2)" opacity="0.79"/><ellipse cx="764.1" cy="183.2" rx="6.4" ry="5.8" fill="url(#gB2)" opacity="0.76"/><ellipse cx="887.7" cy="286.0" rx="4.3" ry="4.3" fill="url(#gB2)" opacity="0.84"/><ellipse cx="855.8" cy="83.0" rx="6.0" ry="5.8" fill="url(#gB2)" opacity="0.64"/><ellipse cx="812.8" cy="191.9" rx="5.7" ry="5.4" fill="url(#gB2)" opacity="0.54"/><ellipse cx="968.9" cy="227.7" rx="7.5" ry="7.4" fill="url(#gB2)" opacity="0.64"/><ellipse cx="872.6" cy="163.9" rx="5.4" ry="5.6" fill="url(#gB2)" opacity="0.78"/><ellipse cx="705.0" cy="137.7" rx="6.3" ry="5.9" fill="url(#gB2)" opacity="0.70"/><ellipse cx="740.1" cy="257.1" rx="4.2" ry="4.7" fill="url(#gB2)" opacity="0.54"/><ellipse cx="733.2" cy="61.0" rx="4.7" ry="4.2" fill="url(#gB2)" opacity="0.81"/><ellipse cx="871.8" cy="257.0" rx="4.7" ry="4.7" fill="url(#gB2)" opacity="0.58"/><ellipse cx="734.5" cy="255.7" rx="6.5" ry="5.3" fill="url(#gB2)" opacity="0.46"/><ellipse cx="966.6" cy="167.9" rx="6.5" ry="6.5" fill="url(#gB2)" opacity="0.51"/><ellipse cx="665.3" cy="166.5" rx="7.6" ry="6.1" fill="url(#gB2)" opacity="0.61"/><ellipse cx="804.7" cy="216.4" rx="6.2" ry="5.9" fill="url(#gB2)" opacity="0.63"/><ellipse cx="886.5" cy="228.2" rx="7.0" ry="6.4" fill="url(#gB2)" opacity="0.76"/><ellipse cx="776.2" cy="237.1" rx="7.6" ry="8.0" fill="url(#gB2)" opacity="0.63"/><ellipse cx="725.9" cy="93.5" rx="4.0" ry="4.3" fill="url(#gB2)" opacity="0.52"/><ellipse cx="703.5" cy="281.5" rx="6.5" ry="5.7" fill="url(#gB2)" opacity="0.58"/><ellipse cx="913.5" cy="204.9" rx="5.2" ry="5.4" fill="url(#gB2)" opacity="0.46"/><ellipse cx="911.0" cy="127.4" rx="6.6" ry="7.4" fill="url(#gB2)" opacity="0.56"/><ellipse cx="923.9" cy="270.6" rx="4.9" ry="4.4" fill="url(#gB2)" opacity="0.45"/><ellipse cx="685.9" cy="196.1" rx="4.9" ry="5.6" fill="url(#gB2)" opacity="0.48"/><ellipse cx="912.5" cy="113.9" rx="5.4" ry="5.4" fill="url(#gB2)" opacity="0.73"/><ellipse cx="705.9" cy="170.6" rx="4.4" ry="3.6" fill="url(#gB2)" opacity="0.79"/><ellipse cx="670.4" cy="251.7" rx="4.0" ry="3.9" fill="url(#gB2)" opacity="0.71"/><ellipse cx="841.7" cy="157.5" rx="5.1" ry="4.5" fill="url(#gB2)" opacity="0.72"/><ellipse cx="893.9" cy="168.7" rx="6.4" ry="7.2" fill="url(#gB2)" opacity="0.67"/><ellipse cx="815.5" cy="277.5" rx="5.9" ry="6.2" fill="url(#gB2)" opacity="0.59"/><ellipse cx="827.6" cy="69.1" rx="4.7" ry="4.5" fill="url(#gB2)" opacity="0.50"/><ellipse cx="779.0" cy="276.9" rx="6.4" ry="6.8" fill="url(#gB2)" opacity="0.53"/><ellipse cx="903.6" cy="182.7" rx="6.1" ry="5.5" fill="url(#gB2)" opacity="0.56"/><ellipse cx="670.0" cy="235.9" rx="6.8" ry="7.7" fill="url(#gB2)" opacity="0.72"/><ellipse cx="673.7" cy="92.9" rx="5.4" ry="4.7" fill="url(#gB2)" opacity="0.67"/><ellipse cx="988.0" cy="225.9" rx="6.2" ry="6.4" fill="url(#gB2)" opacity="0.71"/><ellipse cx="898.8" cy="268.1" rx="4.8" ry="4.0" fill="url(#gB2)" opacity="0.81"/><ellipse cx="769.4" cy="102.4" rx="5.8" ry="4.8" fill="url(#gB2)" opacity="0.84"/><ellipse cx="834.7" cy="66.7" rx="4.1" ry="3.3" fill="url(#gB2)" opacity="0.60"/><ellipse cx="984.2" cy="118.8" rx="5.2" ry="6.0" fill="url(#gB2)" opacity="0.48"/><ellipse cx="731.8" cy="288.6" rx="7.1" ry="6.0" fill="url(#gB2)" opacity="0.46"/><ellipse cx="807.2" cy="213.5" rx="4.3" ry="3.4" fill="url(#gB2)" opacity="0.78"/><ellipse cx="849.0" cy="133.3" rx="4.2" ry="4.1" fill="url(#gB2)" opacity="0.45"/><ellipse cx="964.6" cy="173.7" rx="5.5" ry="5.0" fill="url(#gB2)" opacity="0.53"/><ellipse cx="783.9" cy="207.9" rx="5.1" ry="5.6" fill="url(#gB2)" opacity="0.68"/><ellipse cx="841.3" cy="138.8" rx="4.9" ry="5.0" fill="url(#gB2)" opacity="0.82"/><ellipse cx="739.0" cy="95.9" rx="7.8" ry="7.0" fill="url(#gB2)" opacity="0.52"/><ellipse cx="668.6" cy="94.1" rx="6.1" ry="5.5" fill="url(#gB2)" opacity="0.56"/><ellipse cx="933.5" cy="183.0" rx="6.5" ry="6.0" fill="url(#gB2)" opacity="0.62"/><ellipse cx="770.2" cy="277.1" rx="6.1" ry="6.7" fill="url(#gB2)" opacity="0.62"/><ellipse cx="695.1" cy="77.2" rx="5.6" ry="4.6" fill="url(#gB2)" opacity="0.63"/><ellipse cx="749.9" cy="262.6" rx="7.5" ry="7.1" fill="url(#gB2)" opacity="0.80"/><ellipse cx="786.1" cy="124.3" rx="4.5" ry="4.5" fill="url(#gB2)" opacity="0.71"/><ellipse cx="875.7" cy="275.2" rx="5.6" ry="6.1" fill="url(#gB2)" opacity="0.51"/><ellipse cx="971.4" cy="210.0" rx="7.4" ry="7.4" fill="url(#gB2)" opacity="0.51"/><ellipse cx="768.1" cy="241.4" rx="5.0" ry="4.3" fill="url(#gB2)" opacity="0.48"/><ellipse cx="976.8" cy="84.4" rx="5.9" ry="5.5" fill="url(#gB2)" opacity="0.78"/><ellipse cx="878.4" cy="214.7" rx="4.8" ry="3.9" fill="url(#gB2)" opacity="0.55"/><ellipse cx="769.1" cy="208.0" rx="4.4" ry="4.6" fill="url(#gB1)" opacity="0.73"/><ellipse cx="839.9" cy="244.0" rx="4.6" ry="4.0" fill="url(#gB1)" opacity="0.51"/><ellipse cx="888.6" cy="160.3" rx="4.5" ry="4.8" fill="url(#gB1)" opacity="0.53"/><ellipse cx="867.4" cy="213.6" rx="4.7" ry="4.0" fill="url(#gB1)" opacity="0.83"/><ellipse cx="887.9" cy="92.8" rx="3.8" ry="3.5" fill="url(#gB1)" opacity="0.66"/><ellipse cx="805.6" cy="285.3" rx="4.4" ry="4.0" fill="url(#gB1)" opacity="0.66"/><ellipse cx="770.0" cy="288.2" rx="5.6" ry="5.6" fill="url(#gB1)" opacity="0.72"/><ellipse cx="760.4" cy="210.1" rx="5.5" ry="4.9" fill="url(#gB1)" opacity="0.66"/><ellipse cx="961.0" cy="180.7" rx="5.5" ry="5.2" fill="url(#gB1)" opacity="0.55"/><ellipse cx="823.6" cy="220.1" rx="4.0" ry="3.6" fill="url(#gB1)" opacity="0.80"/><ellipse cx="858.9" cy="65.6" rx="4.2" ry="3.9" fill="url(#gB1)" opacity="0.52"/><ellipse cx="951.8" cy="277.1" rx="5.8" ry="5.0" fill="url(#gB1)" opacity="0.74"/><ellipse cx="969.8" cy="78.3" rx="5.7" ry="4.7" fill="url(#gB1)" opacity="0.56"/><ellipse cx="926.2" cy="226.2" rx="5.7" ry="4.3" fill="url(#gB1)" opacity="0.69"/><ellipse cx="964.0" cy="78.2" rx="5.1" ry="3.9" fill="url(#gB1)" opacity="0.65"/><ellipse cx="976.8" cy="190.2" rx="5.7" ry="5.6" fill="url(#gB1)" opacity="0.61"/><ellipse cx="893.7" cy="262.2" rx="4.7" ry="4.0" fill="url(#gB1)" opacity="0.60"/><ellipse cx="761.1" cy="117.7" rx="5.9" ry="5.0" fill="url(#gB1)" opacity="0.80"/><ellipse cx="719.4" cy="200.4" rx="5.4" ry="4.7" fill="url(#gB1)" opacity="0.56"/><ellipse cx="964.1" cy="225.7" rx="3.8" ry="2.9" fill="url(#gB1)" opacity="0.72"/><ellipse cx="874.1" cy="205.5" rx="6.0" ry="5.8" fill="url(#gB1)" opacity="0.61"/><ellipse cx="874.3" cy="283.4" rx="4.9" ry="5.2" fill="url(#gB1)" opacity="0.71"/><ellipse cx="950.0" cy="103.5" rx="4.0" ry="4.3" fill="url(#gB1)" opacity="0.56"/><ellipse cx="683.6" cy="200.9" rx="4.7" ry="3.8" fill="url(#gB1)" opacity="0.70"/><ellipse cx="910.5" cy="61.4" rx="5.3" ry="5.4" fill="url(#gB1)" opacity="0.83"/><ellipse cx="864.4" cy="287.4" rx="4.6" ry="4.1" fill="url(#gB1)" opacity="0.60"/><ellipse cx="918.0" cy="125.7" rx="4.1" ry="4.3" fill="url(#gB1)" opacity="0.83"/><ellipse cx="810.5" cy="169.3" rx="4.5" ry="4.7" fill="url(#gB1)" opacity="0.65"/><ellipse cx="797.9" cy="207.2" rx="4.5" ry="3.8" fill="url(#gB1)" opacity="0.63"/><ellipse cx="713.1" cy="68.2" rx="6.0" ry="5.2" fill="url(#gB1)" opacity="0.73"/><ellipse cx="677.1" cy="182.0" rx="4.0" ry="3.3" fill="url(#gB1)" opacity="0.79"/><ellipse cx="684.5" cy="252.5" rx="4.1" ry="3.9" fill="url(#gB1)" opacity="0.72"/><ellipse cx="750.3" cy="126.4" rx="4.3" ry="4.7" fill="url(#gB1)" opacity="0.84"/><ellipse cx="762.9" cy="152.3" rx="4.6" ry="3.8" fill="url(#gB1)" opacity="0.74"/><ellipse cx="691.5" cy="230.5" rx="4.3" ry="4.2" fill="url(#gB1)" opacity="0.65"/><ellipse cx="967.4" cy="143.3" rx="4.0" ry="3.8" fill="url(#gB1)" opacity="0.73"/><ellipse cx="812.5" cy="149.4" rx="4.5" ry="4.0" fill="url(#gB1)" opacity="0.72"/><ellipse cx="888.8" cy="118.7" rx="5.8" ry="5.8" fill="url(#gB1)" opacity="0.79"/><ellipse cx="706.6" cy="261.5" rx="5.9" ry="5.5" fill="url(#gB1)" opacity="0.76"/><ellipse cx="680.1" cy="111.4" rx="4.8" ry="4.1" fill="url(#gB1)" opacity="0.51"/><ellipse cx="942.9" cy="88.8" rx="4.7" ry="4.0" fill="url(#gB1)" opacity="0.52"/><ellipse cx="748.3" cy="277.8" rx="5.1" ry="4.4" fill="url(#gB1)" opacity="0.81"/><ellipse cx="761.3" cy="108.6" rx="5.8" ry="4.6" fill="url(#gB1)" opacity="0.85"/><ellipse cx="990.9" cy="198.7" rx="4.1" ry="3.2" fill="url(#gB1)" opacity="0.55"/><ellipse cx="906.9" cy="78.4" rx="5.1" ry="4.9" fill="url(#gB1)" opacity="0.83"/><ellipse cx="923.0" cy="229.8" rx="5.8" ry="4.4" fill="url(#gB1)" opacity="0.50"/><ellipse cx="976.9" cy="198.8" rx="4.4" ry="4.1" fill="url(#gB1)" opacity="0.83"/><ellipse cx="957.9" cy="195.4" rx="4.4" ry="3.7" fill="url(#gB1)" opacity="0.66"/><ellipse cx="757.0" cy="111.7" rx="5.9" ry="5.4" fill="url(#gB1)" opacity="0.63"/><ellipse cx="742.9" cy="113.4" rx="4.1" ry="3.1" fill="url(#gB1)" opacity="0.68"/><ellipse cx="827.9" cy="108.5" rx="4.2" ry="3.2" fill="url(#gB1)" opacity="0.79"/><ellipse cx="788.2" cy="129.6" rx="5.5" ry="4.2" fill="url(#gB1)" opacity="0.89"/><ellipse cx="952.0" cy="60.0" rx="5.2" ry="4.2" fill="url(#gB1)" opacity="0.72"/><ellipse cx="931.5" cy="70.6" rx="4.9" ry="5.4" fill="url(#gB1)" opacity="0.60"/><ellipse cx="914.9" cy="213.7" rx="5.9" ry="5.8" fill="url(#gB1)" opacity="0.60"/><ellipse cx="771.0" cy="293.2" rx="5.0" ry="5.0" fill="url(#gB1)" opacity="0.78"/><ellipse cx="813.3" cy="232.7" rx="4.7" ry="4.3" fill="url(#gB1)" opacity="0.76"/><ellipse cx="928.0" cy="264.0" rx="4.6" ry="3.6" fill="url(#gB1)" opacity="0.89"/><ellipse cx="913.5" cy="77.4" rx="4.3" ry="4.1" fill="url(#gB1)" opacity="0.73"/><ellipse cx="682.7" cy="222.4" rx="5.4" ry="4.7" fill="url(#gB1)" opacity="0.71"/>
</g>
<clipPath id="clipi1"><rect x="848.5" y="65" width="139.5" height="120"/></clipPath>
<g clip-path="url(#clipi1)">
<rect x="848.5" y="65" width="139.5" height="120" fill="#1f0c0c"/>
<g>
<ellipse cx="872.5" cy="131.0" rx="25.7" ry="44.6" fill="url(#gIR)" opacity="0.75"/>
<ellipse cx="905.5" cy="115.0" rx="29.7" ry="29.7" fill="url(#gIF)" opacity="0.6"/>
<ellipse cx="903.5" cy="152.0" rx="23.0" ry="27.0" fill="url(#gIR)" opacity="0.8"/>
<ellipse cx="953.5" cy="116.0" rx="32.4" ry="35.1" fill="url(#gIR)" opacity="0.8"/>
<ellipse cx="923.5" cy="165.0" rx="16.2" ry="27.0" fill="url(#gIF)" opacity="0.4"/>
<ellipse cx="865.5" cy="131.0" rx="10.8" ry="13.5" fill="url(#gIB)" opacity="0.6"/>
<ellipse cx="898.5" cy="112.0" rx="8.1" ry="9.5" fill="url(#gIB)" opacity="0.85"/>
<ellipse cx="911.5" cy="108.0" rx="8.1" ry="8.1" fill="url(#gIB)" opacity="0.85"/>
<ellipse cx="903.5" cy="150.0" rx="12.2" ry="16.2" fill="url(#gIB)" opacity="0.95"/>
<ellipse cx="952.5" cy="117.0" rx="14.9" ry="17.6" fill="url(#gIB)" opacity="0.9"/>
<ellipse cx="971.5" cy="179.0" rx="10.8" ry="8.1" fill="url(#gIB)" opacity="0.9"/>
</g></g>
<path d="M848.5,65.0 V185.0 H988.0" fill="none" stroke="#e6e6e6" stroke-width="2"/>
<path d="M988.0,65.0 V185.0" fill="none" stroke="#e6e6e6" stroke-width="1.5"/>
<rect x="772.5" y="164.3" width="42.5" height="37.7" fill="none" stroke="#e8e8e8" stroke-width="1.3" stroke-dasharray="3 2"/>
<path d="M868,265 H979" stroke="#e0e0e0" stroke-width="2"/>
<rect x="917.5" y="268.5" width="12" height="1.5" fill="#bbb" opacity="0.7"/>
<text x="828.4" y="61" text-anchor="middle" font-size="20.5" fill="#1a1a1a">CON</text>
<clipPath id="clip2"><rect x="992.5" y="65" width="317.2" height="225"/></clipPath>
<g clip-path="url(#clip2)">
<rect x="992.5" y="65" width="317.2" height="225" fill="#1f0c0c"/>
<ellipse cx="1110.8" cy="277.8" rx="27.2" ry="22.5" fill="url(#gS)" opacity="0.15"/><ellipse cx="1195.8" cy="70.0" rx="29.2" ry="24.9" fill="url(#gS)" opacity="0.09"/><ellipse cx="1126.3" cy="198.3" rx="14.2" ry="15.8" fill="url(#gS)" opacity="0.14"/><ellipse cx="1155.1" cy="246.7" rx="23.2" ry="27.8" fill="url(#gS)" opacity="0.08"/><ellipse cx="1104.9" cy="170.3" rx="13.9" ry="17.8" fill="url(#gS)" opacity="0.12"/><ellipse cx="1019.6" cy="197.0" rx="19.5" ry="15.8" fill="url(#gS)" opacity="0.08"/><ellipse cx="1138.3" cy="76.5" rx="22.1" ry="22.3" fill="url(#gS)" opacity="0.07"/><ellipse cx="1273.9" cy="69.5" rx="15.1" ry="18.0" fill="url(#gS)" opacity="0.08"/><ellipse cx="1126.3" cy="191.5" rx="19.8" ry="19.8" fill="url(#gS)" opacity="0.11"/><ellipse cx="1145.5" cy="73.5" rx="26.7" ry="23.2" fill="url(#gS)" opacity="0.06"/><ellipse cx="1121.1" cy="251.4" rx="23.3" ry="22.7" fill="url(#gS)" opacity="0.11"/><ellipse cx="1059.4" cy="205.2" rx="18.3" ry="13.5" fill="url(#gS)" opacity="0.07"/><ellipse cx="1017.8" cy="220.9" rx="27.9" ry="32.2" fill="url(#gS)" opacity="0.08"/><ellipse cx="1035.6" cy="283.4" rx="18.7" ry="15.0" fill="url(#gS)" opacity="0.12"/><ellipse cx="1190.0" cy="187.1" rx="20.1" ry="17.8" fill="url(#gS)" opacity="0.11"/><ellipse cx="1137.2" cy="220.1" rx="20.1" ry="18.3" fill="url(#gS)" opacity="0.16"/><ellipse cx="1023.7" cy="237.6" rx="19.5" ry="23.1" fill="url(#gS)" opacity="0.13"/><ellipse cx="1172.7" cy="203.4" rx="16.1" ry="11.4" fill="url(#gS)" opacity="0.13"/><ellipse cx="1072.2" cy="86.1" rx="26.6" ry="28.1" fill="url(#gS)" opacity="0.06"/><ellipse cx="1157.5" cy="98.4" rx="27.6" ry="23.8" fill="url(#gS)" opacity="0.15"/><ellipse cx="1187.9" cy="78.4" rx="19.4" ry="24.8" fill="url(#gS)" opacity="0.13"/><ellipse cx="1038.2" cy="146.5" rx="16.9" ry="12.8" fill="url(#gS)" opacity="0.12"/><ellipse cx="1214.9" cy="111.0" rx="21.9" ry="26.7" fill="url(#gS)" opacity="0.15"/><ellipse cx="1043.5" cy="77.6" rx="28.4" ry="25.5" fill="url(#gS)" opacity="0.08"/><ellipse cx="1248.9" cy="122.1" rx="24.9" ry="27.8" fill="url(#gS)" opacity="0.09"/><ellipse cx="1138.4" cy="128.0" rx="26.5" ry="23.1" fill="url(#gS)" opacity="0.09"/><ellipse cx="1268.1" cy="124.9" rx="19.9" ry="20.0" fill="url(#gS)" opacity="0.06"/><ellipse cx="1081.3" cy="234.7" rx="29.7" ry="26.8" fill="url(#gS)" opacity="0.11"/><ellipse cx="1006.1" cy="174.7" rx="18.5" ry="18.5" fill="url(#gS)" opacity="0.09"/><ellipse cx="1090.2" cy="274.6" rx="26.0" ry="23.8" fill="url(#gS)" opacity="0.07"/><ellipse cx="1004.6" cy="82.7" rx="14.3" ry="15.1" fill="url(#gS)" opacity="0.11"/><ellipse cx="1030.0" cy="266.4" rx="24.1" ry="27.1" fill="url(#gS)" opacity="0.15"/><ellipse cx="1090.2" cy="272.2" rx="29.6" ry="36.8" fill="url(#gS)" opacity="0.06"/><ellipse cx="1265.9" cy="291.3" rx="13.9" ry="17.0" fill="url(#gS)" opacity="0.14"/><ellipse cx="998.1" cy="226.3" rx="25.7" ry="29.5" fill="url(#gS)" opacity="0.07"/><ellipse cx="1304.8" cy="77.4" rx="13.5" ry="17.2" fill="url(#gS)" opacity="0.11"/><ellipse cx="1045.9" cy="152.8" rx="23.2" ry="20.0" fill="url(#gS)" opacity="0.15"/><ellipse cx="1208.6" cy="150.8" rx="18.6" ry="14.3" fill="url(#gS)" opacity="0.16"/><ellipse cx="1088.1" cy="280.0" rx="21.7" ry="22.2" fill="url(#gS)" opacity="0.08"/><ellipse cx="1152.0" cy="83.2" rx="20.1" ry="21.4" fill="url(#gS)" opacity="0.15"/><ellipse cx="1059.8" cy="102.7" rx="26.2" ry="20.4" fill="url(#gS)" opacity="0.08"/><ellipse cx="1144.0" cy="160.5" rx="29.9" ry="22.1" fill="url(#gS)" opacity="0.15"/><ellipse cx="1138.9" cy="92.5" rx="16.3" ry="20.3" fill="url(#gS)" opacity="0.08"/><ellipse cx="1125.9" cy="69.2" rx="20.8" ry="23.3" fill="url(#gS)" opacity="0.13"/><ellipse cx="1098.8" cy="160.1" rx="26.9" ry="32.9" fill="url(#gS)" opacity="0.10"/><ellipse cx="1005.6" cy="280.6" rx="18.2" ry="17.9" fill="url(#gS)" opacity="0.06"/><ellipse cx="994.7" cy="86.6" rx="21.8" ry="18.7" fill="url(#gS)" opacity="0.14"/><ellipse cx="1035.2" cy="213.9" rx="12.4" ry="11.3" fill="url(#gS)" opacity="0.15"/><ellipse cx="1071.6" cy="133.8" rx="12.6" ry="15.4" fill="url(#gS)" opacity="0.11"/><ellipse cx="1069.3" cy="191.8" rx="16.8" ry="20.7" fill="url(#gS)" opacity="0.10"/><ellipse cx="1009.5" cy="111.2" rx="13.0" ry="15.0" fill="url(#gS)" opacity="0.07"/><ellipse cx="1146.1" cy="199.4" rx="13.7" ry="14.9" fill="url(#gS)" opacity="0.12"/><ellipse cx="1292.4" cy="280.1" rx="29.6" ry="30.1" fill="url(#gS)" opacity="0.11"/><ellipse cx="1128.2" cy="91.0" rx="22.7" ry="29.5" fill="url(#gS)" opacity="0.11"/><ellipse cx="1266.7" cy="122.2" rx="18.8" ry="17.9" fill="url(#gS)" opacity="0.16"/><ellipse cx="1108.4" cy="238.6" rx="14.7" ry="16.9" fill="url(#gS)" opacity="0.11"/><ellipse cx="1312.0" cy="63.9" rx="16.7" ry="20.6" fill="url(#gS)" opacity="0.10"/><ellipse cx="1078.8" cy="264.4" rx="19.7" ry="24.2" fill="url(#gS)" opacity="0.11"/><ellipse cx="1007.3" cy="83.4" rx="27.6" ry="34.5" fill="url(#gS)" opacity="0.08"/><ellipse cx="1312.8" cy="257.0" rx="21.6" ry="25.1" fill="url(#gS)" opacity="0.11"/><ellipse cx="998.7" cy="129.1" rx="18.1" ry="22.4" fill="url(#gS)" opacity="0.09"/><ellipse cx="1215.3" cy="208.7" rx="14.1" ry="13.8" fill="url(#gS)" opacity="0.11"/><ellipse cx="1224.9" cy="143.0" rx="29.8" ry="35.2" fill="url(#gS)" opacity="0.06"/><ellipse cx="1275.8" cy="203.5" rx="28.9" ry="24.2" fill="url(#gS)" opacity="0.14"/><ellipse cx="1221.6" cy="153.9" rx="18.4" ry="19.5" fill="url(#gS)" opacity="0.16"/><ellipse cx="1212.0" cy="211.1" rx="24.3" ry="29.3" fill="url(#gS)" opacity="0.12"/><ellipse cx="1220.2" cy="68.8" rx="27.6" ry="35.2" fill="url(#gS)" opacity="0.12"/><ellipse cx="1175.0" cy="279.6" rx="22.2" ry="27.4" fill="url(#gS)" opacity="0.11"/><ellipse cx="1174.0" cy="275.5" rx="28.6" ry="30.3" fill="url(#gS)" opacity="0.11"/><ellipse cx="1168.3" cy="170.1" rx="18.7" ry="15.6" fill="url(#gS)" opacity="0.09"/><ellipse cx="1060.1" cy="281.5" rx="19.3" ry="23.7" fill="url(#gS)" opacity="0.11"/><ellipse cx="1313.4" cy="199.4" rx="18.2" ry="17.3" fill="url(#gS)" opacity="0.09"/><ellipse cx="1095.0" cy="127.3" rx="17.0" ry="15.8" fill="url(#gS)" opacity="0.06"/><ellipse cx="1296.9" cy="250.0" rx="18.1" ry="21.8" fill="url(#gS)" opacity="0.06"/><ellipse cx="1189.2" cy="198.8" rx="27.9" ry="35.9" fill="url(#gS)" opacity="0.12"/><ellipse cx="1259.1" cy="224.1" rx="13.7" ry="10.5" fill="url(#gS)" opacity="0.07"/><ellipse cx="1234.4" cy="170.8" rx="18.4" ry="18.3" fill="url(#gS)" opacity="0.15"/><ellipse cx="1145.4" cy="256.2" rx="18.6" ry="20.3" fill="url(#gS)" opacity="0.14"/><ellipse cx="1047.4" cy="273.9" rx="15.5" ry="12.3" fill="url(#gS)" opacity="0.16"/><ellipse cx="1064.1" cy="161.0" rx="28.9" ry="23.9" fill="url(#gS)" opacity="0.13"/><ellipse cx="1222.1" cy="78.3" rx="14.0" ry="18.1" fill="url(#gS)" opacity="0.14"/><ellipse cx="1205.8" cy="208.4" rx="20.8" ry="26.0" fill="url(#gS)" opacity="0.06"/><ellipse cx="1080.4" cy="127.2" rx="23.5" ry="29.7" fill="url(#gS)" opacity="0.08"/><ellipse cx="1023.5" cy="117.0" rx="27.4" ry="29.4" fill="url(#gS)" opacity="0.07"/><ellipse cx="1219.4" cy="155.9" rx="13.0" ry="11.6" fill="url(#gS)" opacity="0.15"/><circle cx="1298.6" cy="151.2" r="3.4" fill="url(#gS)" opacity="0.53"/><circle cx="1022.4" cy="104.9" r="2.3" fill="url(#gS)" opacity="0.32"/><circle cx="1196.7" cy="291.7" r="2.0" fill="url(#gS)" opacity="0.30"/><circle cx="1155.6" cy="231.7" r="1.9" fill="url(#gS)" opacity="0.40"/><circle cx="1190.7" cy="241.1" r="2.4" fill="url(#gS)" opacity="0.31"/><circle cx="1176.2" cy="148.3" r="2.6" fill="url(#gS)" opacity="0.47"/><circle cx="1306.0" cy="292.9" r="1.9" fill="url(#gS)" opacity="0.39"/><circle cx="1165.1" cy="189.7" r="2.0" fill="url(#gS)" opacity="0.31"/><circle cx="1116.9" cy="105.5" r="2.7" fill="url(#gS)" opacity="0.52"/><circle cx="1203.6" cy="97.1" r="2.1" fill="url(#gS)" opacity="0.33"/><circle cx="1257.8" cy="67.4" r="1.7" fill="url(#gS)" opacity="0.49"/><circle cx="1107.0" cy="103.2" r="2.9" fill="url(#gS)" opacity="0.21"/><circle cx="1220.6" cy="269.0" r="1.6" fill="url(#gS)" opacity="0.38"/><circle cx="1291.8" cy="133.4" r="2.2" fill="url(#gS)" opacity="0.51"/><circle cx="988.0" cy="70.2" r="3.0" fill="url(#gS)" opacity="0.49"/><circle cx="1174.5" cy="221.3" r="2.5" fill="url(#gS)" opacity="0.54"/><circle cx="1090.8" cy="192.2" r="1.9" fill="url(#gS)" opacity="0.31"/><circle cx="1189.4" cy="77.0" r="3.4" fill="url(#gS)" opacity="0.28"/><circle cx="1245.4" cy="92.1" r="3.1" fill="url(#gS)" opacity="0.37"/><circle cx="1067.7" cy="244.9" r="3.2" fill="url(#gS)" opacity="0.34"/><circle cx="1167.5" cy="159.9" r="3.4" fill="url(#gS)" opacity="0.21"/><circle cx="1004.7" cy="194.1" r="1.7" fill="url(#gS)" opacity="0.51"/><circle cx="1278.8" cy="114.9" r="2.0" fill="url(#gS)" opacity="0.51"/><circle cx="1009.6" cy="179.5" r="1.8" fill="url(#gS)" opacity="0.55"/><circle cx="1125.0" cy="218.4" r="2.2" fill="url(#gS)" opacity="0.51"/><circle cx="1225.7" cy="61.3" r="1.7" fill="url(#gS)" opacity="0.31"/><circle cx="1094.0" cy="66.2" r="3.1" fill="url(#gS)" opacity="0.21"/><circle cx="1164.0" cy="236.5" r="2.2" fill="url(#gS)" opacity="0.31"/><circle cx="1268.1" cy="241.0" r="3.4" fill="url(#gS)" opacity="0.23"/><circle cx="1071.1" cy="146.3" r="2.7" fill="url(#gS)" opacity="0.47"/><circle cx="1282.1" cy="195.9" r="1.7" fill="url(#gS)" opacity="0.21"/><circle cx="1118.4" cy="281.8" r="1.7" fill="url(#gS)" opacity="0.54"/><circle cx="992.0" cy="65.6" r="2.7" fill="url(#gS)" opacity="0.22"/><circle cx="1098.6" cy="290.4" r="3.9" fill="url(#gS)" opacity="0.48"/><circle cx="1210.1" cy="143.6" r="2.5" fill="url(#gS)" opacity="0.38"/><circle cx="1098.8" cy="208.1" r="2.0" fill="url(#gS)" opacity="0.38"/><circle cx="1119.7" cy="91.1" r="1.9" fill="url(#gS)" opacity="0.36"/><circle cx="1106.4" cy="150.6" r="3.8" fill="url(#gS)" opacity="0.30"/><circle cx="1110.5" cy="148.1" r="3.9" fill="url(#gS)" opacity="0.55"/><circle cx="1231.8" cy="61.0" r="2.8" fill="url(#gS)" opacity="0.53"/><circle cx="1068.5" cy="239.3" r="3.2" fill="url(#gS)" opacity="0.39"/><circle cx="1296.2" cy="123.9" r="3.9" fill="url(#gS)" opacity="0.30"/><circle cx="1266.3" cy="222.4" r="2.9" fill="url(#gS)" opacity="0.35"/><circle cx="1038.9" cy="141.1" r="3.7" fill="url(#gS)" opacity="0.39"/><circle cx="1032.6" cy="198.4" r="2.8" fill="url(#gS)" opacity="0.51"/><circle cx="1280.2" cy="266.5" r="1.9" fill="url(#gS)" opacity="0.38"/><circle cx="1150.4" cy="161.4" r="3.7" fill="url(#gS)" opacity="0.53"/><circle cx="1029.3" cy="247.5" r="2.5" fill="url(#gS)" opacity="0.34"/><circle cx="995.7" cy="180.1" r="3.0" fill="url(#gS)" opacity="0.45"/><circle cx="1031.9" cy="127.9" r="2.8" fill="url(#gS)" opacity="0.29"/><circle cx="1274.1" cy="164.6" r="1.6" fill="url(#gS)" opacity="0.39"/><circle cx="1042.6" cy="232.2" r="2.5" fill="url(#gS)" opacity="0.52"/><circle cx="1040.2" cy="224.4" r="3.2" fill="url(#gS)" opacity="0.33"/><circle cx="1262.1" cy="255.8" r="3.9" fill="url(#gS)" opacity="0.41"/><circle cx="1055.5" cy="255.4" r="2.0" fill="url(#gS)" opacity="0.45"/><circle cx="1086.4" cy="151.1" r="2.3" fill="url(#gS)" opacity="0.42"/><circle cx="1270.9" cy="254.8" r="1.5" fill="url(#gS)" opacity="0.50"/><circle cx="1215.3" cy="149.1" r="3.7" fill="url(#gS)" opacity="0.30"/><circle cx="1264.2" cy="283.7" r="3.3" fill="url(#gS)" opacity="0.32"/><circle cx="1109.2" cy="128.9" r="2.6" fill="url(#gS)" opacity="0.25"/><circle cx="1270.9" cy="141.3" r="2.0" fill="url(#gS)" opacity="0.27"/><circle cx="1182.5" cy="73.8" r="3.5" fill="url(#gS)" opacity="0.50"/><circle cx="1089.5" cy="100.6" r="3.9" fill="url(#gS)" opacity="0.34"/><circle cx="1307.4" cy="220.8" r="3.1" fill="url(#gS)" opacity="0.40"/><circle cx="1012.7" cy="94.0" r="3.4" fill="url(#gS)" opacity="0.32"/><circle cx="1087.9" cy="280.4" r="2.1" fill="url(#gS)" opacity="0.38"/><circle cx="1138.1" cy="258.9" r="2.0" fill="url(#gS)" opacity="0.32"/><circle cx="1098.7" cy="95.4" r="2.7" fill="url(#gS)" opacity="0.46"/><circle cx="1232.3" cy="136.0" r="3.2" fill="url(#gS)" opacity="0.37"/><circle cx="1110.2" cy="235.3" r="3.0" fill="url(#gS)" opacity="0.24"/><circle cx="1106.4" cy="213.2" r="2.2" fill="url(#gS)" opacity="0.41"/><circle cx="1051.2" cy="123.6" r="2.0" fill="url(#gS)" opacity="0.49"/><circle cx="1140.1" cy="87.4" r="3.0" fill="url(#gS)" opacity="0.27"/><circle cx="996.5" cy="282.7" r="1.7" fill="url(#gS)" opacity="0.53"/><circle cx="1116.8" cy="88.2" r="3.6" fill="url(#gS)" opacity="0.43"/><circle cx="1189.7" cy="94.2" r="3.9" fill="url(#gS)" opacity="0.49"/><circle cx="1163.1" cy="156.9" r="4.0" fill="url(#gS)" opacity="0.53"/><circle cx="1095.3" cy="159.8" r="2.9" fill="url(#gS)" opacity="0.44"/><circle cx="1313.2" cy="242.2" r="2.0" fill="url(#gS)" opacity="0.24"/><circle cx="1001.2" cy="86.4" r="1.8" fill="url(#gS)" opacity="0.33"/><circle cx="1163.8" cy="181.4" r="2.9" fill="url(#gS)" opacity="0.47"/><circle cx="989.9" cy="226.2" r="1.9" fill="url(#gS)" opacity="0.46"/><circle cx="1270.2" cy="82.5" r="3.1" fill="url(#gS)" opacity="0.25"/><circle cx="1165.0" cy="105.6" r="3.3" fill="url(#gS)" opacity="0.32"/><circle cx="1300.9" cy="188.8" r="3.6" fill="url(#gS)" opacity="0.30"/><circle cx="1265.2" cy="84.4" r="3.4" fill="url(#gS)" opacity="0.50"/><circle cx="1013.1" cy="187.3" r="1.9" fill="url(#gS)" opacity="0.27"/><circle cx="1264.2" cy="87.2" r="3.5" fill="url(#gS)" opacity="0.37"/><circle cx="1034.4" cy="124.4" r="3.0" fill="url(#gS)" opacity="0.27"/><circle cx="1209.7" cy="287.5" r="4.0" fill="url(#gS)" opacity="0.24"/><circle cx="1002.4" cy="146.7" r="3.5" fill="url(#gS)" opacity="0.52"/><circle cx="1143.4" cy="144.3" r="2.2" fill="url(#gS)" opacity="0.48"/><circle cx="1200.5" cy="149.2" r="2.9" fill="url(#gS)" opacity="0.37"/><circle cx="1252.2" cy="263.0" r="3.9" fill="url(#gS)" opacity="0.47"/><circle cx="1177.4" cy="248.7" r="2.0" fill="url(#gS)" opacity="0.48"/><circle cx="1035.0" cy="262.1" r="3.4" fill="url(#gS)" opacity="0.26"/><circle cx="1253.3" cy="154.1" r="2.8" fill="url(#gS)" opacity="0.25"/><circle cx="1128.5" cy="171.2" r="2.8" fill="url(#gS)" opacity="0.35"/><circle cx="990.1" cy="233.0" r="3.8" fill="url(#gS)" opacity="0.34"/><circle cx="1206.9" cy="238.4" r="2.0" fill="url(#gS)" opacity="0.41"/><circle cx="1189.6" cy="259.3" r="3.3" fill="url(#gS)" opacity="0.39"/><circle cx="1060.0" cy="67.5" r="1.7" fill="url(#gS)" opacity="0.50"/><circle cx="1288.5" cy="115.9" r="3.4" fill="url(#gS)" opacity="0.27"/><circle cx="1143.2" cy="96.2" r="2.6" fill="url(#gS)" opacity="0.24"/><circle cx="1245.4" cy="175.7" r="2.1" fill="url(#gS)" opacity="0.51"/><circle cx="1061.6" cy="127.9" r="2.9" fill="url(#gS)" opacity="0.27"/><circle cx="1300.9" cy="148.1" r="1.8" fill="url(#gS)" opacity="0.27"/><circle cx="1081.8" cy="288.4" r="1.9" fill="url(#gS)" opacity="0.31"/><circle cx="1003.7" cy="281.8" r="3.2" fill="url(#gS)" opacity="0.21"/><circle cx="1244.8" cy="129.4" r="2.7" fill="url(#gS)" opacity="0.23"/><circle cx="1004.7" cy="241.8" r="3.2" fill="url(#gS)" opacity="0.42"/><circle cx="1202.6" cy="222.4" r="1.9" fill="url(#gS)" opacity="0.36"/><circle cx="1145.2" cy="155.6" r="3.4" fill="url(#gS)" opacity="0.31"/><circle cx="1191.0" cy="61.0" r="1.7" fill="url(#gS)" opacity="0.38"/><circle cx="1241.5" cy="259.3" r="3.9" fill="url(#gS)" opacity="0.33"/><circle cx="1253.4" cy="263.2" r="3.4" fill="url(#gS)" opacity="0.34"/><circle cx="1157.2" cy="219.3" r="2.1" fill="url(#gS)" opacity="0.29"/><circle cx="997.2" cy="266.3" r="2.3" fill="url(#gS)" opacity="0.24"/><circle cx="1144.4" cy="142.6" r="1.7" fill="url(#gS)" opacity="0.46"/><circle cx="1176.5" cy="202.7" r="3.9" fill="url(#gS)" opacity="0.45"/><circle cx="1068.5" cy="243.7" r="4.0" fill="url(#gS)" opacity="0.43"/><circle cx="1137.6" cy="157.2" r="1.7" fill="url(#gS)" opacity="0.47"/><circle cx="1226.2" cy="100.8" r="2.1" fill="url(#gS)" opacity="0.35"/><circle cx="1234.6" cy="108.7" r="3.5" fill="url(#gS)" opacity="0.52"/><circle cx="1041.3" cy="110.8" r="1.7" fill="url(#gS)" opacity="0.36"/><circle cx="1226.4" cy="88.6" r="2.4" fill="url(#gS)" opacity="0.33"/><circle cx="1115.9" cy="157.8" r="1.6" fill="url(#gS)" opacity="0.49"/><circle cx="1251.6" cy="75.6" r="1.7" fill="url(#gS)" opacity="0.25"/><circle cx="1249.8" cy="68.4" r="3.4" fill="url(#gS)" opacity="0.32"/><circle cx="1274.0" cy="139.5" r="3.5" fill="url(#gS)" opacity="0.21"/><circle cx="1108.3" cy="106.3" r="2.8" fill="url(#gS)" opacity="0.52"/><circle cx="1248.1" cy="148.6" r="2.0" fill="url(#gS)" opacity="0.23"/><circle cx="1196.1" cy="251.6" r="2.6" fill="url(#gS)" opacity="0.52"/><circle cx="1033.0" cy="98.7" r="1.7" fill="url(#gS)" opacity="0.38"/><circle cx="1023.2" cy="229.0" r="3.5" fill="url(#gS)" opacity="0.30"/><circle cx="1295.5" cy="60.4" r="3.3" fill="url(#gS)" opacity="0.39"/><circle cx="1141.3" cy="141.8" r="3.7" fill="url(#gS)" opacity="0.22"/><circle cx="1233.3" cy="178.2" r="2.9" fill="url(#gS)" opacity="0.24"/><circle cx="1229.7" cy="162.0" r="2.0" fill="url(#gS)" opacity="0.36"/><circle cx="1218.2" cy="210.5" r="4.0" fill="url(#gS)" opacity="0.42"/><circle cx="1313.5" cy="67.8" r="3.1" fill="url(#gS)" opacity="0.51"/><circle cx="1104.4" cy="100.8" r="1.6" fill="url(#gS)" opacity="0.31"/><circle cx="1233.8" cy="99.5" r="2.3" fill="url(#gS)" opacity="0.35"/><circle cx="1003.7" cy="96.0" r="2.3" fill="url(#gS)" opacity="0.47"/><circle cx="1241.3" cy="141.8" r="2.3" fill="url(#gS)" opacity="0.29"/><circle cx="1144.6" cy="217.7" r="3.6" fill="url(#gS)" opacity="0.53"/><circle cx="1105.1" cy="147.2" r="2.1" fill="url(#gS)" opacity="0.37"/><circle cx="1011.5" cy="138.2" r="1.7" fill="url(#gS)" opacity="0.32"/><circle cx="1267.0" cy="154.6" r="4.0" fill="url(#gS)" opacity="0.50"/><circle cx="1197.0" cy="272.2" r="2.9" fill="url(#gS)" opacity="0.51"/><circle cx="1072.4" cy="124.8" r="3.7" fill="url(#gS)" opacity="0.43"/><circle cx="1175.3" cy="122.0" r="2.8" fill="url(#gS)" opacity="0.30"/><circle cx="1004.2" cy="227.5" r="3.2" fill="url(#gS)" opacity="0.37"/><circle cx="1294.8" cy="77.8" r="3.3" fill="url(#gS)" opacity="0.24"/><circle cx="1225.2" cy="273.7" r="1.5" fill="url(#gS)" opacity="0.52"/><circle cx="1213.5" cy="173.9" r="2.9" fill="url(#gS)" opacity="0.21"/><circle cx="995.2" cy="201.8" r="1.9" fill="url(#gS)" opacity="0.25"/><circle cx="1109.5" cy="183.6" r="3.4" fill="url(#gS)" opacity="0.43"/><circle cx="1171.1" cy="62.8" r="3.7" fill="url(#gS)" opacity="0.20"/><circle cx="1310.3" cy="170.3" r="3.3" fill="url(#gS)" opacity="0.41"/><circle cx="1103.4" cy="214.0" r="3.4" fill="url(#gS)" opacity="0.29"/><circle cx="1253.6" cy="155.9" r="2.2" fill="url(#gS)" opacity="0.31"/><circle cx="1212.4" cy="115.3" r="2.3" fill="url(#gS)" opacity="0.20"/><circle cx="994.5" cy="281.2" r="2.5" fill="url(#gS)" opacity="0.51"/><circle cx="1225.4" cy="263.5" r="2.0" fill="url(#gS)" opacity="0.38"/><circle cx="1277.4" cy="149.8" r="2.2" fill="url(#gS)" opacity="0.51"/><circle cx="1161.0" cy="230.4" r="2.1" fill="url(#gS)" opacity="0.47"/><circle cx="1125.2" cy="262.3" r="2.7" fill="url(#gS)" opacity="0.35"/><circle cx="1036.7" cy="255.9" r="2.3" fill="url(#gS)" opacity="0.43"/><circle cx="1169.8" cy="169.7" r="2.7" fill="url(#gS)" opacity="0.29"/><circle cx="1011.2" cy="124.4" r="2.1" fill="url(#gS)" opacity="0.28"/><circle cx="1289.3" cy="279.6" r="2.6" fill="url(#gS)" opacity="0.55"/><circle cx="989.4" cy="77.6" r="2.7" fill="url(#gS)" opacity="0.28"/><circle cx="1197.8" cy="166.0" r="2.0" fill="url(#gS)" opacity="0.22"/><circle cx="1298.2" cy="129.2" r="3.4" fill="url(#gS)" opacity="0.38"/><circle cx="996.5" cy="255.6" r="2.0" fill="url(#gS)" opacity="0.29"/><circle cx="1005.8" cy="162.7" r="3.7" fill="url(#gS)" opacity="0.22"/><circle cx="1044.2" cy="154.1" r="3.1" fill="url(#gS)" opacity="0.31"/><circle cx="1154.5" cy="123.0" r="3.9" fill="url(#gS)" opacity="0.32"/><circle cx="1284.7" cy="119.2" r="3.9" fill="url(#gS)" opacity="0.42"/><circle cx="1310.0" cy="77.3" r="1.6" fill="url(#gS)" opacity="0.55"/><circle cx="1010.7" cy="123.3" r="3.9" fill="url(#gS)" opacity="0.24"/><circle cx="1207.3" cy="112.9" r="2.5" fill="url(#gS)" opacity="0.26"/><circle cx="1239.2" cy="102.1" r="2.6" fill="url(#gS)" opacity="0.24"/><circle cx="1236.6" cy="266.3" r="2.7" fill="url(#gS)" opacity="0.48"/><circle cx="1229.4" cy="215.4" r="3.7" fill="url(#gS)" opacity="0.55"/><circle cx="1109.5" cy="168.2" r="3.8" fill="url(#gS)" opacity="0.37"/><circle cx="1041.8" cy="243.1" r="1.5" fill="url(#gS)" opacity="0.54"/><circle cx="1232.7" cy="285.1" r="3.4" fill="url(#gS)" opacity="0.33"/><circle cx="1266.6" cy="183.0" r="1.8" fill="url(#gS)" opacity="0.27"/><circle cx="1116.9" cy="203.8" r="2.4" fill="url(#gS)" opacity="0.45"/><circle cx="1009.2" cy="150.0" r="3.6" fill="url(#gS)" opacity="0.50"/><circle cx="1289.8" cy="194.1" r="3.8" fill="url(#gS)" opacity="0.43"/><circle cx="1210.3" cy="105.7" r="2.5" fill="url(#gS)" opacity="0.47"/><circle cx="1248.3" cy="193.2" r="2.1" fill="url(#gS)" opacity="0.43"/><circle cx="1101.2" cy="123.8" r="2.9" fill="url(#gS)" opacity="0.47"/><circle cx="1078.2" cy="67.2" r="3.9" fill="url(#gS)" opacity="0.55"/><circle cx="1173.9" cy="158.5" r="1.9" fill="url(#gS)" opacity="0.47"/><circle cx="1006.0" cy="128.3" r="2.7" fill="url(#gS)" opacity="0.28"/><circle cx="1052.7" cy="121.8" r="3.8" fill="url(#gS)" opacity="0.31"/><circle cx="1039.9" cy="158.3" r="1.7" fill="url(#gS)" opacity="0.39"/><circle cx="1197.7" cy="229.8" r="1.9" fill="url(#gS)" opacity="0.55"/><circle cx="1258.3" cy="257.1" r="2.9" fill="url(#gS)" opacity="0.51"/><circle cx="1275.8" cy="171.1" r="3.2" fill="url(#gS)" opacity="0.28"/><circle cx="1155.8" cy="112.6" r="3.1" fill="url(#gS)" opacity="0.29"/><circle cx="1088.0" cy="228.6" r="2.3" fill="url(#gS)" opacity="0.52"/><circle cx="1261.0" cy="289.7" r="2.2" fill="url(#gS)" opacity="0.34"/><circle cx="1251.2" cy="291.2" r="3.2" fill="url(#gS)" opacity="0.28"/><circle cx="1005.5" cy="127.2" r="2.6" fill="url(#gS)" opacity="0.49"/><circle cx="992.5" cy="209.4" r="3.5" fill="url(#gS)" opacity="0.28"/><circle cx="1099.8" cy="265.9" r="2.2" fill="url(#gS)" opacity="0.46"/><circle cx="1205.1" cy="100.5" r="2.5" fill="url(#gS)" opacity="0.44"/><circle cx="1238.9" cy="198.2" r="3.7" fill="url(#gS)" opacity="0.28"/><circle cx="1068.2" cy="271.6" r="3.6" fill="url(#gS)" opacity="0.42"/><circle cx="992.8" cy="240.5" r="2.5" fill="url(#gS)" opacity="0.29"/><circle cx="1310.3" cy="238.7" r="2.9" fill="url(#gS)" opacity="0.42"/><circle cx="1116.6" cy="268.1" r="3.5" fill="url(#gS)" opacity="0.25"/><circle cx="1075.6" cy="123.4" r="3.7" fill="url(#gS)" opacity="0.42"/><circle cx="1167.2" cy="290.9" r="3.2" fill="url(#gS)" opacity="0.33"/><circle cx="1041.2" cy="71.8" r="2.3" fill="url(#gS)" opacity="0.37"/><circle cx="1143.1" cy="294.1" r="2.1" fill="url(#gS)" opacity="0.37"/><circle cx="1301.8" cy="245.9" r="3.1" fill="url(#gS)" opacity="0.39"/><circle cx="1180.6" cy="204.8" r="3.8" fill="url(#gS)" opacity="0.51"/><circle cx="1295.4" cy="278.3" r="2.8" fill="url(#gS)" opacity="0.39"/><circle cx="1283.5" cy="266.2" r="1.8" fill="url(#gS)" opacity="0.54"/><circle cx="1115.9" cy="144.4" r="3.0" fill="url(#gS)" opacity="0.30"/><circle cx="1009.6" cy="66.4" r="2.5" fill="url(#gS)" opacity="0.34"/><circle cx="1226.7" cy="125.0" r="2.9" fill="url(#gS)" opacity="0.42"/><circle cx="1135.7" cy="182.2" r="3.9" fill="url(#gS)" opacity="0.40"/><circle cx="1269.5" cy="270.1" r="3.2" fill="url(#gS)" opacity="0.53"/><circle cx="1160.3" cy="216.2" r="2.1" fill="url(#gS)" opacity="0.47"/><circle cx="1061.1" cy="117.1" r="2.5" fill="url(#gS)" opacity="0.46"/><circle cx="1236.6" cy="140.8" r="3.7" fill="url(#gS)" opacity="0.30"/><circle cx="1136.8" cy="128.1" r="2.4" fill="url(#gS)" opacity="0.36"/><circle cx="1296.4" cy="244.4" r="1.6" fill="url(#gS)" opacity="0.51"/><circle cx="1285.1" cy="294.0" r="2.5" fill="url(#gS)" opacity="0.54"/><circle cx="1077.7" cy="244.7" r="2.7" fill="url(#gS)" opacity="0.22"/><circle cx="1043.6" cy="167.3" r="3.7" fill="url(#gS)" opacity="0.24"/><circle cx="1138.3" cy="99.7" r="3.1" fill="url(#gS)" opacity="0.52"/><circle cx="993.5" cy="168.5" r="3.7" fill="url(#gS)" opacity="0.26"/><circle cx="1235.9" cy="215.3" r="3.9" fill="url(#gS)" opacity="0.30"/><circle cx="1094.1" cy="151.3" r="2.3" fill="url(#gS)" opacity="0.29"/><circle cx="1076.9" cy="114.9" r="1.9" fill="url(#gS)" opacity="0.42"/><circle cx="1009.7" cy="93.8" r="1.8" fill="url(#gS)" opacity="0.32"/><circle cx="998.7" cy="286.0" r="3.3" fill="url(#gS)" opacity="0.33"/><circle cx="1054.7" cy="190.5" r="1.8" fill="url(#gS)" opacity="0.23"/><circle cx="1261.5" cy="289.1" r="1.9" fill="url(#gS)" opacity="0.32"/><circle cx="989.0" cy="106.2" r="2.2" fill="url(#gS)" opacity="0.22"/><circle cx="1306.1" cy="103.5" r="2.1" fill="url(#gS)" opacity="0.22"/><circle cx="993.2" cy="141.3" r="1.6" fill="url(#gS)" opacity="0.33"/><circle cx="1223.8" cy="89.2" r="2.4" fill="url(#gS)" opacity="0.41"/><circle cx="989.8" cy="198.0" r="2.6" fill="url(#gS)" opacity="0.45"/><circle cx="1115.2" cy="173.2" r="2.4" fill="url(#gS)" opacity="0.27"/><circle cx="1237.5" cy="232.2" r="1.9" fill="url(#gS)" opacity="0.35"/><circle cx="1106.4" cy="207.1" r="2.5" fill="url(#gS)" opacity="0.44"/><circle cx="1182.2" cy="252.6" r="2.3" fill="url(#gS)" opacity="0.26"/><circle cx="1259.9" cy="118.6" r="3.9" fill="url(#gS)" opacity="0.48"/><circle cx="1043.9" cy="75.5" r="1.9" fill="url(#gS)" opacity="0.46"/><circle cx="1073.7" cy="66.3" r="3.1" fill="url(#gS)" opacity="0.20"/><circle cx="1271.4" cy="287.5" r="1.6" fill="url(#gS)" opacity="0.45"/><circle cx="1150.5" cy="235.4" r="3.2" fill="url(#gS)" opacity="0.34"/><circle cx="1074.7" cy="294.8" r="2.5" fill="url(#gS)" opacity="0.34"/><circle cx="1059.1" cy="233.5" r="2.3" fill="url(#gS)" opacity="0.37"/><circle cx="1243.0" cy="263.7" r="3.9" fill="url(#gS)" opacity="0.46"/><circle cx="1215.5" cy="68.6" r="2.5" fill="url(#gS)" opacity="0.50"/><circle cx="1115.4" cy="167.2" r="2.8" fill="url(#gS)" opacity="0.53"/><circle cx="996.0" cy="230.0" r="2.6" fill="url(#gS)" opacity="0.31"/><circle cx="1307.3" cy="257.0" r="2.6" fill="url(#gS)" opacity="0.37"/><circle cx="1116.5" cy="235.7" r="2.8" fill="url(#gS)" opacity="0.23"/><circle cx="1211.2" cy="94.1" r="3.4" fill="url(#gS)" opacity="0.51"/><circle cx="1311.3" cy="77.4" r="3.9" fill="url(#gS)" opacity="0.51"/><circle cx="1254.6" cy="216.8" r="3.2" fill="url(#gS)" opacity="0.39"/><circle cx="1129.6" cy="89.3" r="1.5" fill="url(#gS)" opacity="0.48"/><circle cx="1267.6" cy="134.9" r="1.6" fill="url(#gS)" opacity="0.20"/><circle cx="1004.6" cy="214.7" r="1.9" fill="url(#gS)" opacity="0.46"/><circle cx="1251.7" cy="170.7" r="2.1" fill="url(#gS)" opacity="0.34"/><circle cx="1127.9" cy="236.1" r="2.6" fill="url(#gS)" opacity="0.22"/><circle cx="1204.1" cy="164.6" r="3.1" fill="url(#gS)" opacity="0.44"/><circle cx="1243.1" cy="160.6" r="2.9" fill="url(#gS)" opacity="0.28"/><circle cx="1222.9" cy="185.9" r="3.4" fill="url(#gS)" opacity="0.27"/><circle cx="1004.0" cy="111.2" r="3.6" fill="url(#gS)" opacity="0.39"/><circle cx="1307.8" cy="290.3" r="2.5" fill="url(#gS)" opacity="0.48"/><circle cx="1296.3" cy="168.6" r="1.8" fill="url(#gS)" opacity="0.29"/><circle cx="1294.5" cy="209.6" r="3.0" fill="url(#gS)" opacity="0.38"/><circle cx="992.0" cy="158.0" r="3.6" fill="url(#gS)" opacity="0.26"/><circle cx="1048.1" cy="181.8" r="1.9" fill="url(#gS)" opacity="0.42"/><circle cx="991.4" cy="140.7" r="3.6" fill="url(#gS)" opacity="0.22"/><circle cx="1065.1" cy="196.0" r="3.8" fill="url(#gS)" opacity="0.21"/><circle cx="1015.2" cy="200.5" r="3.5" fill="url(#gS)" opacity="0.31"/><circle cx="1191.5" cy="154.8" r="2.7" fill="url(#gS)" opacity="0.46"/><circle cx="1141.0" cy="281.6" r="3.5" fill="url(#gS)" opacity="0.53"/><circle cx="1190.0" cy="144.5" r="3.6" fill="url(#gS)" opacity="0.48"/><circle cx="1269.2" cy="289.2" r="3.0" fill="url(#gS)" opacity="0.52"/><circle cx="1077.1" cy="287.6" r="2.8" fill="url(#gS)" opacity="0.54"/><circle cx="1069.2" cy="124.2" r="2.4" fill="url(#gS)" opacity="0.40"/><circle cx="1098.7" cy="282.1" r="2.7" fill="url(#gS)" opacity="0.28"/><circle cx="1008.0" cy="227.5" r="3.8" fill="url(#gS)" opacity="0.54"/><circle cx="1179.4" cy="164.1" r="2.1" fill="url(#gS)" opacity="0.21"/><circle cx="1175.7" cy="239.4" r="2.2" fill="url(#gS)" opacity="0.30"/><circle cx="1069.0" cy="138.7" r="3.5" fill="url(#gS)" opacity="0.50"/><circle cx="1305.7" cy="84.2" r="3.3" fill="url(#gS)" opacity="0.28"/><circle cx="1284.4" cy="173.8" r="1.8" fill="url(#gS)" opacity="0.32"/><circle cx="1106.6" cy="188.6" r="1.6" fill="url(#gS)" opacity="0.39"/><circle cx="1059.7" cy="261.4" r="2.3" fill="url(#gS)" opacity="0.39"/><circle cx="1198.6" cy="256.4" r="2.6" fill="url(#gS)" opacity="0.34"/><circle cx="1136.9" cy="106.7" r="3.0" fill="url(#gS)" opacity="0.43"/><circle cx="1008.4" cy="190.4" r="2.9" fill="url(#gS)" opacity="0.36"/><circle cx="1127.3" cy="162.3" r="2.8" fill="url(#gS)" opacity="0.20"/><circle cx="1188.4" cy="260.4" r="1.8" fill="url(#gS)" opacity="0.35"/><circle cx="1279.8" cy="200.2" r="2.2" fill="url(#gS)" opacity="0.32"/><circle cx="1284.3" cy="169.1" r="3.8" fill="url(#gS)" opacity="0.25"/><circle cx="1152.7" cy="250.1" r="2.6" fill="url(#gS)" opacity="0.26"/><circle cx="1286.4" cy="138.2" r="1.8" fill="url(#gS)" opacity="0.36"/><circle cx="993.6" cy="202.3" r="3.4" fill="url(#gS)" opacity="0.52"/><circle cx="1198.0" cy="211.9" r="3.9" fill="url(#gS)" opacity="0.50"/><circle cx="1149.9" cy="277.9" r="3.9" fill="url(#gS)" opacity="0.50"/><circle cx="1140.7" cy="100.4" r="1.5" fill="url(#gS)" opacity="0.54"/><circle cx="1299.9" cy="215.0" r="1.7" fill="url(#gS)" opacity="0.40"/><circle cx="1051.2" cy="290.6" r="3.3" fill="url(#gS)" opacity="0.50"/><circle cx="1186.3" cy="99.4" r="2.6" fill="url(#gS)" opacity="0.39"/><circle cx="1207.2" cy="79.1" r="3.3" fill="url(#gS)" opacity="0.27"/><circle cx="1257.8" cy="107.1" r="3.0" fill="url(#gS)" opacity="0.22"/><circle cx="1155.3" cy="110.4" r="4.0" fill="url(#gS)" opacity="0.55"/><circle cx="1010.7" cy="237.3" r="3.8" fill="url(#gS)" opacity="0.30"/><circle cx="1118.7" cy="258.1" r="1.7" fill="url(#gS)" opacity="0.36"/><circle cx="1304.8" cy="289.0" r="1.7" fill="url(#gS)" opacity="0.38"/><circle cx="1290.0" cy="182.2" r="2.9" fill="url(#gS)" opacity="0.35"/><circle cx="1214.4" cy="177.5" r="2.1" fill="url(#gS)" opacity="0.41"/><circle cx="1255.3" cy="248.5" r="3.2" fill="url(#gS)" opacity="0.48"/><circle cx="1236.1" cy="107.9" r="3.9" fill="url(#gS)" opacity="0.47"/><circle cx="1244.3" cy="104.9" r="2.1" fill="url(#gS)" opacity="0.48"/><circle cx="1239.0" cy="141.3" r="3.0" fill="url(#gS)" opacity="0.48"/><circle cx="994.1" cy="206.1" r="1.6" fill="url(#gS)" opacity="0.42"/><circle cx="1222.4" cy="190.7" r="1.5" fill="url(#gS)" opacity="0.39"/><circle cx="1131.0" cy="79.7" r="1.7" fill="url(#gS)" opacity="0.34"/><circle cx="990.4" cy="176.3" r="3.4" fill="url(#gS)" opacity="0.33"/><circle cx="1052.3" cy="149.1" r="1.6" fill="url(#gS)" opacity="0.22"/><circle cx="1133.5" cy="271.3" r="2.7" fill="url(#gS)" opacity="0.28"/><circle cx="1234.2" cy="234.7" r="3.0" fill="url(#gS)" opacity="0.24"/><circle cx="1108.3" cy="247.8" r="1.5" fill="url(#gS)" opacity="0.24"/><circle cx="1219.6" cy="252.8" r="3.0" fill="url(#gS)" opacity="0.28"/><circle cx="1061.1" cy="201.6" r="2.3" fill="url(#gS)" opacity="0.34"/><circle cx="1268.5" cy="278.7" r="2.1" fill="url(#gS)" opacity="0.22"/><circle cx="1085.0" cy="278.0" r="3.2" fill="url(#gS)" opacity="0.47"/><circle cx="1259.5" cy="253.4" r="3.6" fill="url(#gS)" opacity="0.48"/><circle cx="1195.7" cy="171.8" r="3.5" fill="url(#gS)" opacity="0.52"/><circle cx="1283.6" cy="166.9" r="2.3" fill="url(#gS)" opacity="0.43"/><circle cx="1090.2" cy="244.9" r="3.0" fill="url(#gS)" opacity="0.32"/><circle cx="1154.6" cy="104.0" r="3.8" fill="url(#gS)" opacity="0.35"/><circle cx="1299.5" cy="250.5" r="1.9" fill="url(#gS)" opacity="0.46"/><circle cx="1064.8" cy="162.6" r="1.6" fill="url(#gS)" opacity="0.36"/><circle cx="1289.1" cy="101.2" r="3.9" fill="url(#gS)" opacity="0.54"/><circle cx="1310.5" cy="237.9" r="2.2" fill="url(#gS)" opacity="0.27"/><circle cx="1077.7" cy="284.1" r="2.2" fill="url(#gS)" opacity="0.37"/><circle cx="1204.5" cy="189.8" r="2.1" fill="url(#gS)" opacity="0.49"/><circle cx="994.4" cy="281.0" r="3.1" fill="url(#gS)" opacity="0.32"/><circle cx="1172.8" cy="198.4" r="1.7" fill="url(#gS)" opacity="0.50"/><circle cx="1142.7" cy="159.9" r="2.4" fill="url(#gS)" opacity="0.43"/><circle cx="1006.3" cy="85.3" r="2.4" fill="url(#gS)" opacity="0.31"/><circle cx="1038.4" cy="86.5" r="2.0" fill="url(#gS)" opacity="0.35"/><circle cx="1099.9" cy="160.5" r="3.2" fill="url(#gS)" opacity="0.26"/><circle cx="1276.6" cy="217.6" r="2.6" fill="url(#gS)" opacity="0.36"/><circle cx="1214.9" cy="102.5" r="4.0" fill="url(#gS)" opacity="0.53"/><circle cx="1208.8" cy="165.0" r="3.2" fill="url(#gS)" opacity="0.24"/><circle cx="1149.4" cy="121.7" r="2.3" fill="url(#gS)" opacity="0.22"/><circle cx="1239.7" cy="285.9" r="3.5" fill="url(#gS)" opacity="0.36"/><circle cx="1293.0" cy="177.5" r="3.6" fill="url(#gS)" opacity="0.34"/><circle cx="1277.7" cy="245.3" r="1.9" fill="url(#gS)" opacity="0.44"/><circle cx="1118.9" cy="127.0" r="2.0" fill="url(#gS)" opacity="0.52"/><circle cx="1005.7" cy="88.8" r="3.0" fill="url(#gS)" opacity="0.28"/><circle cx="1002.9" cy="234.8" r="2.3" fill="url(#gS)" opacity="0.36"/><circle cx="1072.7" cy="222.6" r="3.7" fill="url(#gS)" opacity="0.41"/><circle cx="1235.9" cy="256.8" r="3.6" fill="url(#gS)" opacity="0.40"/><circle cx="1034.1" cy="106.8" r="4.0" fill="url(#gS)" opacity="0.48"/><circle cx="1070.1" cy="122.4" r="3.0" fill="url(#gS)" opacity="0.44"/><circle cx="1181.3" cy="248.6" r="3.9" fill="url(#gS)" opacity="0.50"/><circle cx="1058.0" cy="190.5" r="3.0" fill="url(#gS)" opacity="0.21"/><circle cx="1301.4" cy="184.0" r="2.3" fill="url(#gS)" opacity="0.44"/><circle cx="1266.4" cy="135.3" r="2.5" fill="url(#gS)" opacity="0.30"/><circle cx="1185.9" cy="236.6" r="3.8" fill="url(#gS)" opacity="0.32"/><circle cx="1173.7" cy="257.0" r="3.3" fill="url(#gS)" opacity="0.41"/><circle cx="1129.8" cy="292.7" r="3.0" fill="url(#gS)" opacity="0.22"/><circle cx="1028.7" cy="107.5" r="2.7" fill="url(#gS)" opacity="0.31"/><circle cx="1029.0" cy="267.5" r="3.2" fill="url(#gS)" opacity="0.41"/><circle cx="1075.4" cy="102.1" r="2.4" fill="url(#gS)" opacity="0.52"/><circle cx="1157.5" cy="254.0" r="1.5" fill="url(#gS)" opacity="0.24"/><circle cx="1291.4" cy="219.5" r="2.4" fill="url(#gS)" opacity="0.34"/><circle cx="1229.0" cy="244.5" r="3.6" fill="url(#gS)" opacity="0.32"/><circle cx="1267.1" cy="278.2" r="3.5" fill="url(#gS)" opacity="0.45"/><circle cx="1252.1" cy="290.7" r="3.2" fill="url(#gS)" opacity="0.21"/><circle cx="1296.3" cy="108.8" r="3.5" fill="url(#gS)" opacity="0.42"/><circle cx="1216.4" cy="205.5" r="2.2" fill="url(#gS)" opacity="0.25"/><circle cx="1145.7" cy="71.9" r="2.6" fill="url(#gS)" opacity="0.34"/><circle cx="990.0" cy="217.1" r="3.8" fill="url(#gS)" opacity="0.45"/><circle cx="1193.4" cy="210.9" r="3.8" fill="url(#gS)" opacity="0.36"/><circle cx="1291.0" cy="102.2" r="3.8" fill="url(#gS)" opacity="0.30"/><circle cx="1248.1" cy="232.8" r="3.9" fill="url(#gS)" opacity="0.32"/><circle cx="1045.3" cy="109.2" r="3.2" fill="url(#gS)" opacity="0.31"/><circle cx="1027.9" cy="83.9" r="2.4" fill="url(#gS)" opacity="0.22"/><circle cx="1001.6" cy="123.7" r="2.5" fill="url(#gS)" opacity="0.50"/><circle cx="1008.9" cy="114.8" r="1.9" fill="url(#gS)" opacity="0.32"/><circle cx="1022.9" cy="179.1" r="3.2" fill="url(#gS)" opacity="0.44"/><circle cx="1250.8" cy="161.0" r="2.0" fill="url(#gS)" opacity="0.38"/><circle cx="1223.4" cy="241.5" r="1.7" fill="url(#gS)" opacity="0.22"/><circle cx="1162.3" cy="263.2" r="1.5" fill="url(#gS)" opacity="0.47"/><circle cx="1186.9" cy="126.2" r="3.1" fill="url(#gS)" opacity="0.34"/><circle cx="1263.8" cy="104.2" r="3.3" fill="url(#gS)" opacity="0.35"/><circle cx="1256.1" cy="94.9" r="2.7" fill="url(#gS)" opacity="0.39"/><circle cx="1236.8" cy="63.2" r="2.2" fill="url(#gS)" opacity="0.43"/><circle cx="1202.0" cy="233.1" r="1.5" fill="url(#gS)" opacity="0.26"/><circle cx="1121.5" cy="140.8" r="3.1" fill="url(#gS)" opacity="0.37"/><circle cx="1267.5" cy="166.9" r="2.7" fill="url(#gS)" opacity="0.40"/><circle cx="1136.6" cy="174.6" r="3.0" fill="url(#gS)" opacity="0.38"/><circle cx="1240.6" cy="107.0" r="1.7" fill="url(#gS)" opacity="0.32"/><circle cx="1286.8" cy="99.7" r="3.2" fill="url(#gS)" opacity="0.22"/><circle cx="1208.8" cy="76.4" r="2.7" fill="url(#gS)" opacity="0.25"/><circle cx="1162.3" cy="284.7" r="2.8" fill="url(#gS)" opacity="0.25"/><circle cx="1044.0" cy="138.1" r="3.7" fill="url(#gS)" opacity="0.49"/><circle cx="1117.7" cy="94.6" r="3.5" fill="url(#gS)" opacity="0.51"/><circle cx="1148.5" cy="112.0" r="3.3" fill="url(#gS)" opacity="0.23"/><circle cx="1241.6" cy="152.3" r="3.0" fill="url(#gS)" opacity="0.47"/><circle cx="1060.5" cy="146.2" r="3.9" fill="url(#gS)" opacity="0.47"/><circle cx="1090.6" cy="167.2" r="2.3" fill="url(#gS)" opacity="0.31"/><circle cx="1071.1" cy="232.0" r="2.7" fill="url(#gS)" opacity="0.50"/><circle cx="1016.1" cy="283.5" r="3.4" fill="url(#gS)" opacity="0.38"/><circle cx="1101.0" cy="219.0" r="3.7" fill="url(#gS)" opacity="0.44"/><circle cx="1001.7" cy="257.6" r="3.6" fill="url(#gS)" opacity="0.31"/><circle cx="1025.6" cy="246.2" r="3.7" fill="url(#gS)" opacity="0.49"/><circle cx="1038.2" cy="60.3" r="1.8" fill="url(#gS)" opacity="0.38"/><circle cx="1090.0" cy="146.2" r="2.5" fill="url(#gS)" opacity="0.24"/><circle cx="991.4" cy="140.5" r="1.5" fill="url(#gS)" opacity="0.33"/><circle cx="1280.2" cy="242.3" r="1.8" fill="url(#gS)" opacity="0.45"/><circle cx="1171.8" cy="164.3" r="1.7" fill="url(#gS)" opacity="0.43"/><circle cx="1206.5" cy="69.9" r="2.6" fill="url(#gS)" opacity="0.44"/><circle cx="1108.2" cy="235.5" r="2.3" fill="url(#gS)" opacity="0.39"/><circle cx="1138.8" cy="256.3" r="2.8" fill="url(#gS)" opacity="0.38"/><circle cx="1075.5" cy="84.1" r="3.8" fill="url(#gS)" opacity="0.36"/><circle cx="1009.1" cy="108.7" r="2.5" fill="url(#gS)" opacity="0.30"/><circle cx="1268.6" cy="236.5" r="2.7" fill="url(#gS)" opacity="0.29"/><circle cx="1051.5" cy="244.9" r="2.7" fill="url(#gS)" opacity="0.52"/><circle cx="997.5" cy="164.7" r="2.6" fill="url(#gS)" opacity="0.43"/><circle cx="1232.2" cy="92.3" r="2.2" fill="url(#gS)" opacity="0.40"/><circle cx="1267.7" cy="198.4" r="1.7" fill="url(#gS)" opacity="0.28"/><circle cx="1223.1" cy="78.1" r="3.6" fill="url(#gS)" opacity="0.30"/><circle cx="1119.3" cy="191.1" r="1.7" fill="url(#gS)" opacity="0.31"/><circle cx="1021.8" cy="265.3" r="3.9" fill="url(#gS)" opacity="0.46"/><circle cx="1157.9" cy="252.8" r="1.8" fill="url(#gS)" opacity="0.47"/><circle cx="1256.0" cy="199.0" r="3.1" fill="url(#gS)" opacity="0.22"/><circle cx="1250.5" cy="254.8" r="2.4" fill="url(#gS)" opacity="0.33"/><circle cx="1198.7" cy="163.0" r="3.6" fill="url(#gS)" opacity="0.50"/><circle cx="1024.9" cy="265.3" r="2.3" fill="url(#gS)" opacity="0.52"/><circle cx="1078.2" cy="184.2" r="2.8" fill="url(#gS)" opacity="0.27"/><circle cx="1082.1" cy="147.3" r="2.5" fill="url(#gS)" opacity="0.28"/><circle cx="1057.2" cy="75.5" r="3.0" fill="url(#gS)" opacity="0.53"/><circle cx="1308.7" cy="240.4" r="2.6" fill="url(#gS)" opacity="0.28"/><circle cx="1195.9" cy="78.3" r="2.6" fill="url(#gS)" opacity="0.54"/><circle cx="1183.7" cy="281.4" r="1.7" fill="url(#gS)" opacity="0.49"/><circle cx="1136.3" cy="174.2" r="2.0" fill="url(#gS)" opacity="0.52"/><circle cx="1202.3" cy="285.9" r="3.5" fill="url(#gS)" opacity="0.34"/><circle cx="1063.6" cy="74.0" r="2.0" fill="url(#gS)" opacity="0.22"/><circle cx="1265.4" cy="217.4" r="3.0" fill="url(#gS)" opacity="0.28"/><circle cx="1273.4" cy="147.9" r="3.2" fill="url(#gS)" opacity="0.47"/><circle cx="1062.4" cy="195.2" r="2.8" fill="url(#gS)" opacity="0.29"/><circle cx="1232.1" cy="148.3" r="2.7" fill="url(#gS)" opacity="0.46"/><circle cx="993.6" cy="225.5" r="2.2" fill="url(#gS)" opacity="0.39"/><circle cx="1206.1" cy="82.6" r="2.5" fill="url(#gS)" opacity="0.37"/><circle cx="1181.9" cy="272.8" r="2.0" fill="url(#gS)" opacity="0.21"/><circle cx="1226.1" cy="141.0" r="2.2" fill="url(#gS)" opacity="0.31"/><circle cx="1222.2" cy="81.4" r="1.8" fill="url(#gS)" opacity="0.22"/><circle cx="1194.6" cy="125.9" r="2.5" fill="url(#gS)" opacity="0.34"/><circle cx="1280.9" cy="174.8" r="3.8" fill="url(#gS)" opacity="0.32"/><circle cx="1242.4" cy="284.0" r="3.3" fill="url(#gS)" opacity="0.39"/><circle cx="1230.5" cy="277.0" r="3.5" fill="url(#gS)" opacity="0.41"/><circle cx="1198.6" cy="226.2" r="3.6" fill="url(#gS)" opacity="0.28"/><circle cx="1289.4" cy="271.9" r="3.6" fill="url(#gS)" opacity="0.39"/><circle cx="1010.7" cy="178.8" r="1.8" fill="url(#gS)" opacity="0.49"/><circle cx="1110.0" cy="122.3" r="3.3" fill="url(#gS)" opacity="0.38"/><circle cx="1031.4" cy="81.8" r="2.9" fill="url(#gS)" opacity="0.24"/><circle cx="1293.6" cy="285.3" r="3.6" fill="url(#gS)" opacity="0.43"/><circle cx="1237.5" cy="225.4" r="3.5" fill="url(#gS)" opacity="0.32"/><circle cx="1159.0" cy="157.6" r="3.0" fill="url(#gS)" opacity="0.51"/><circle cx="1247.5" cy="187.3" r="3.3" fill="url(#gS)" opacity="0.34"/><circle cx="1157.8" cy="117.4" r="2.6" fill="url(#gS)" opacity="0.33"/><circle cx="1166.2" cy="216.5" r="1.6" fill="url(#gS)" opacity="0.36"/><circle cx="1201.9" cy="102.9" r="2.5" fill="url(#gS)" opacity="0.22"/><circle cx="1120.6" cy="64.2" r="1.8" fill="url(#gS)" opacity="0.32"/><circle cx="995.6" cy="158.0" r="2.2" fill="url(#gS)" opacity="0.23"/><circle cx="1061.5" cy="146.9" r="3.0" fill="url(#gS)" opacity="0.52"/><circle cx="1095.8" cy="67.1" r="3.4" fill="url(#gS)" opacity="0.44"/><circle cx="1242.9" cy="95.6" r="2.1" fill="url(#gS)" opacity="0.53"/><circle cx="1182.3" cy="201.4" r="2.1" fill="url(#gS)" opacity="0.34"/><circle cx="1143.3" cy="276.8" r="2.8" fill="url(#gS)" opacity="0.37"/><circle cx="1303.7" cy="80.9" r="1.6" fill="url(#gS)" opacity="0.54"/><circle cx="1089.1" cy="111.8" r="2.2" fill="url(#gS)" opacity="0.45"/><circle cx="1225.2" cy="215.8" r="3.4" fill="url(#gS)" opacity="0.34"/><circle cx="1009.6" cy="155.2" r="2.4" fill="url(#gS)" opacity="0.23"/><circle cx="1003.2" cy="177.5" r="4.0" fill="url(#gS)" opacity="0.54"/><circle cx="1310.1" cy="267.8" r="2.7" fill="url(#gS)" opacity="0.30"/><circle cx="1276.0" cy="175.3" r="3.2" fill="url(#gS)" opacity="0.20"/><circle cx="1131.0" cy="105.1" r="3.3" fill="url(#gS)" opacity="0.53"/><circle cx="990.2" cy="204.4" r="1.6" fill="url(#gS)" opacity="0.38"/><circle cx="1044.5" cy="140.3" r="2.7" fill="url(#gS)" opacity="0.39"/><circle cx="1010.2" cy="120.5" r="4.0" fill="url(#gS)" opacity="0.30"/><circle cx="1155.3" cy="140.8" r="1.6" fill="url(#gS)" opacity="0.43"/><circle cx="1011.7" cy="131.2" r="2.7" fill="url(#gS)" opacity="0.22"/><circle cx="1235.9" cy="89.4" r="3.4" fill="url(#gS)" opacity="0.40"/><circle cx="1219.3" cy="146.5" r="3.5" fill="url(#gS)" opacity="0.50"/><circle cx="1307.2" cy="102.2" r="2.3" fill="url(#gS)" opacity="0.48"/><circle cx="1191.2" cy="101.2" r="3.2" fill="url(#gS)" opacity="0.41"/><circle cx="1081.0" cy="142.6" r="2.3" fill="url(#gS)" opacity="0.45"/><circle cx="1236.4" cy="82.0" r="1.8" fill="url(#gS)" opacity="0.23"/><circle cx="1245.0" cy="175.9" r="3.7" fill="url(#gS)" opacity="0.51"/><ellipse cx="1226.8" cy="69.3" rx="11.6" ry="9.9" fill="url(#gR1)" opacity="0.41"/><ellipse cx="1217.4" cy="146.9" rx="10.5" ry="11.7" fill="url(#gR1)" opacity="0.58"/><ellipse cx="1290.0" cy="181.4" rx="8.4" ry="7.6" fill="url(#gR2)" opacity="0.44"/><ellipse cx="1113.2" cy="61.1" rx="8.8" ry="8.9" fill="url(#gR3)" opacity="0.67"/><ellipse cx="1022.7" cy="206.2" rx="10.4" ry="10.0" fill="url(#gR1)" opacity="0.58"/><ellipse cx="1207.4" cy="237.7" rx="10.2" ry="11.6" fill="url(#gR2)" opacity="0.61"/><ellipse cx="1193.7" cy="153.4" rx="11.2" ry="10.4" fill="url(#gR1)" opacity="0.39"/><ellipse cx="1152.8" cy="145.5" rx="12.4" ry="12.5" fill="url(#gR2)" opacity="0.56"/><ellipse cx="1023.3" cy="132.6" rx="9.3" ry="9.0" fill="url(#gR1)" opacity="0.68"/><ellipse cx="1155.8" cy="62.2" rx="11.3" ry="10.0" fill="url(#gR3)" opacity="0.46"/><ellipse cx="1150.4" cy="218.5" rx="8.2" ry="8.6" fill="url(#gR2)" opacity="0.49"/><ellipse cx="1142.5" cy="136.0" rx="10.9" ry="9.8" fill="url(#gR2)" opacity="0.40"/><ellipse cx="1032.8" cy="133.9" rx="10.0" ry="8.8" fill="url(#gR2)" opacity="0.44"/><ellipse cx="1135.6" cy="114.1" rx="8.5" ry="9.6" fill="url(#gR1)" opacity="0.41"/><ellipse cx="1309.8" cy="275.5" rx="8.0" ry="7.8" fill="url(#gR3)" opacity="0.41"/><ellipse cx="1051.5" cy="103.7" rx="8.6" ry="8.5" fill="url(#gR1)" opacity="0.55"/><ellipse cx="1167.2" cy="151.6" rx="10.7" ry="10.1" fill="url(#gR3)" opacity="0.59"/><ellipse cx="1186.1" cy="185.3" rx="11.2" ry="11.1" fill="url(#gR2)" opacity="0.52"/><ellipse cx="1030.7" cy="195.4" rx="9.4" ry="9.6" fill="url(#gR2)" opacity="0.48"/><ellipse cx="1065.7" cy="132.1" rx="11.1" ry="11.5" fill="url(#gR1)" opacity="0.36"/><ellipse cx="1303.2" cy="192.1" rx="12.4" ry="12.4" fill="url(#gR1)" opacity="0.38"/><ellipse cx="1185.7" cy="239.8" rx="11.0" ry="11.4" fill="url(#gR2)" opacity="0.69"/><ellipse cx="1239.8" cy="77.2" rx="8.0" ry="7.8" fill="url(#gR1)" opacity="0.68"/><ellipse cx="1116.0" cy="253.0" rx="11.2" ry="12.3" fill="url(#gR1)" opacity="0.46"/><ellipse cx="1249.1" cy="138.4" rx="11.0" ry="12.6" fill="url(#gR1)" opacity="0.58"/><ellipse cx="1164.1" cy="186.6" rx="12.1" ry="13.9" fill="url(#gR3)" opacity="0.36"/><ellipse cx="1297.5" cy="211.5" rx="10.9" ry="9.5" fill="url(#gR2)" opacity="0.50"/><ellipse cx="1039.2" cy="216.9" rx="12.4" ry="12.9" fill="url(#gR1)" opacity="0.46"/><ellipse cx="1298.4" cy="134.2" rx="8.1" ry="7.3" fill="url(#gR3)" opacity="0.68"/><ellipse cx="1242.9" cy="161.2" rx="9.7" ry="9.9" fill="url(#gR3)" opacity="0.58"/><ellipse cx="1013.9" cy="253.3" rx="11.3" ry="10.8" fill="url(#gR2)" opacity="0.62"/><ellipse cx="1182.4" cy="76.4" rx="11.1" ry="10.7" fill="url(#gR1)" opacity="0.42"/><ellipse cx="1294.4" cy="224.5" rx="11.8" ry="12.2" fill="url(#gR2)" opacity="0.45"/><ellipse cx="1237.9" cy="181.0" rx="10.1" ry="8.6" fill="url(#gR1)" opacity="0.51"/><ellipse cx="1091.7" cy="60.9" rx="8.1" ry="7.7" fill="url(#gR1)" opacity="0.45"/><ellipse cx="1065.8" cy="115.2" rx="12.5" ry="13.8" fill="url(#gR2)" opacity="0.43"/><ellipse cx="1145.6" cy="115.1" rx="8.7" ry="8.2" fill="url(#gR3)" opacity="0.49"/><ellipse cx="1035.1" cy="79.6" rx="9.9" ry="8.5" fill="url(#gR1)" opacity="0.64"/><ellipse cx="1197.7" cy="282.4" rx="9.6" ry="11.0" fill="url(#gR3)" opacity="0.59"/><ellipse cx="1055.4" cy="60.2" rx="10.3" ry="9.0" fill="url(#gR3)" opacity="0.64"/><ellipse cx="1188.4" cy="178.6" rx="11.7" ry="12.8" fill="url(#gR1)" opacity="0.45"/><ellipse cx="1097.9" cy="126.8" rx="9.6" ry="9.5" fill="url(#gR3)" opacity="0.42"/><ellipse cx="1185.2" cy="134.5" rx="12.1" ry="12.5" fill="url(#gR2)" opacity="0.55"/><ellipse cx="1036.9" cy="272.8" rx="12.4" ry="12.9" fill="url(#gR1)" opacity="0.66"/><ellipse cx="999.0" cy="106.6" rx="10.7" ry="11.8" fill="url(#gR3)" opacity="0.40"/><ellipse cx="1007.5" cy="281.4" rx="8.1" ry="8.8" fill="url(#gR1)" opacity="0.56"/><ellipse cx="1314.4" cy="178.6" rx="9.5" ry="10.4" fill="url(#gR2)" opacity="0.36"/><ellipse cx="1228.9" cy="93.1" rx="11.9" ry="13.4" fill="url(#gR2)" opacity="0.56"/><ellipse cx="1300.4" cy="192.0" rx="8.0" ry="7.5" fill="url(#gR2)" opacity="0.39"/><ellipse cx="1097.3" cy="85.9" rx="8.8" ry="7.5" fill="url(#gR3)" opacity="0.44"/><ellipse cx="1236.4" cy="294.3" rx="9.6" ry="10.9" fill="url(#gR3)" opacity="0.57"/><ellipse cx="1029.4" cy="257.8" rx="8.3" ry="7.2" fill="url(#gR3)" opacity="0.67"/><ellipse cx="1004.0" cy="73.9" rx="8.1" ry="9.1" fill="url(#gR1)" opacity="0.68"/><ellipse cx="1310.1" cy="200.6" rx="8.6" ry="8.7" fill="url(#gR1)" opacity="0.69"/><ellipse cx="1059.7" cy="240.5" rx="10.1" ry="11.0" fill="url(#gR1)" opacity="0.50"/>
<ellipse cx="1226.8" cy="71.3" rx="5.4" ry="4.8" fill="url(#gB2)" opacity="0.46"/><ellipse cx="1218.7" cy="148.6" rx="5.9" ry="6.4" fill="url(#gB2)" opacity="0.74"/><ellipse cx="1291.5" cy="180.0" rx="4.8" ry="3.8" fill="url(#gB2)" opacity="0.70"/><ellipse cx="1113.5" cy="61.0" rx="4.4" ry="3.6" fill="url(#gB2)" opacity="0.77"/><ellipse cx="1024.2" cy="207.8" rx="5.5" ry="5.7" fill="url(#gB2)" opacity="0.84"/><ellipse cx="1193.4" cy="154.2" rx="5.8" ry="5.3" fill="url(#gB2)" opacity="0.80"/><ellipse cx="1152.0" cy="147.4" rx="5.9" ry="4.9" fill="url(#gB2)" opacity="0.62"/><ellipse cx="1022.2" cy="133.9" rx="5.8" ry="6.2" fill="url(#gB2)" opacity="0.54"/><ellipse cx="1149.8" cy="219.7" rx="4.8" ry="5.1" fill="url(#gB2)" opacity="0.75"/><ellipse cx="1142.2" cy="135.0" rx="5.1" ry="5.6" fill="url(#gB2)" opacity="0.82"/><ellipse cx="1034.3" cy="135.6" rx="6.2" ry="5.3" fill="url(#gB2)" opacity="0.46"/><ellipse cx="1137.1" cy="114.9" rx="5.0" ry="4.9" fill="url(#gB2)" opacity="0.45"/><ellipse cx="1053.1" cy="104.8" rx="4.0" ry="3.8" fill="url(#gB2)" opacity="0.70"/><ellipse cx="1168.9" cy="153.2" rx="5.4" ry="4.6" fill="url(#gB2)" opacity="0.62"/><ellipse cx="1187.1" cy="184.0" rx="6.5" ry="5.5" fill="url(#gB2)" opacity="0.71"/><ellipse cx="1030.6" cy="197.3" rx="5.1" ry="5.4" fill="url(#gB2)" opacity="0.73"/><ellipse cx="1065.6" cy="132.0" rx="6.6" ry="7.4" fill="url(#gB2)" opacity="0.58"/><ellipse cx="1304.3" cy="193.6" rx="6.2" ry="6.9" fill="url(#gB2)" opacity="0.78"/><ellipse cx="1248.0" cy="139.9" rx="5.0" ry="5.1" fill="url(#gB2)" opacity="0.61"/><ellipse cx="1299.2" cy="210.8" rx="6.5" ry="7.2" fill="url(#gB2)" opacity="0.59"/><ellipse cx="1039.2" cy="218.6" rx="7.5" ry="6.1" fill="url(#gB2)" opacity="0.81"/><ellipse cx="1243.0" cy="161.9" rx="6.1" ry="5.8" fill="url(#gB2)" opacity="0.58"/><ellipse cx="1015.2" cy="254.9" rx="5.2" ry="4.9" fill="url(#gB2)" opacity="0.51"/><ellipse cx="1183.4" cy="75.7" rx="5.5" ry="5.8" fill="url(#gB2)" opacity="0.79"/><ellipse cx="1092.7" cy="59.6" rx="4.9" ry="4.7" fill="url(#gB2)" opacity="0.73"/><ellipse cx="1066.8" cy="116.9" rx="6.3" ry="5.2" fill="url(#gB2)" opacity="0.68"/><ellipse cx="1034.7" cy="78.3" rx="6.2" ry="5.7" fill="url(#gB2)" opacity="0.81"/><ellipse cx="1055.9" cy="61.2" rx="5.0" ry="5.1" fill="url(#gB2)" opacity="0.78"/><ellipse cx="1186.7" cy="179.5" rx="7.1" ry="7.4" fill="url(#gB2)" opacity="0.48"/><ellipse cx="1099.6" cy="126.7" rx="5.9" ry="6.2" fill="url(#gB2)" opacity="0.70"/><ellipse cx="1185.1" cy="134.9" rx="6.3" ry="6.1" fill="url(#gB2)" opacity="0.65"/><ellipse cx="1037.3" cy="272.4" rx="6.6" ry="5.6" fill="url(#gB2)" opacity="0.59"/><ellipse cx="998.4" cy="108.1" rx="6.9" ry="6.8" fill="url(#gB2)" opacity="0.82"/><ellipse cx="1008.5" cy="281.6" rx="5.2" ry="4.7" fill="url(#gB2)" opacity="0.51"/><ellipse cx="1315.4" cy="178.3" rx="6.1" ry="6.6" fill="url(#gB2)" opacity="0.60"/><ellipse cx="1299.2" cy="192.6" rx="4.0" ry="3.7" fill="url(#gB2)" opacity="0.59"/><ellipse cx="1097.2" cy="84.3" rx="4.8" ry="4.6" fill="url(#gB2)" opacity="0.72"/><ellipse cx="1238.2" cy="294.6" rx="4.8" ry="4.6" fill="url(#gB2)" opacity="0.76"/><ellipse cx="1029.1" cy="256.6" rx="3.9" ry="4.2" fill="url(#gB2)" opacity="0.57"/><ellipse cx="1310.0" cy="200.0" rx="5.3" ry="4.6" fill="url(#gB2)" opacity="0.82"/><ellipse cx="1082.0" cy="230.2" rx="4.2" ry="3.6" fill="url(#gB1)" opacity="0.50"/><ellipse cx="1100.2" cy="110.8" rx="4.0" ry="3.1" fill="url(#gB1)" opacity="0.81"/><ellipse cx="1163.2" cy="287.7" rx="4.8" ry="3.9" fill="url(#gB1)" opacity="0.66"/><ellipse cx="1050.9" cy="195.9" rx="4.9" ry="4.4" fill="url(#gB1)" opacity="0.81"/><ellipse cx="1174.9" cy="271.5" rx="5.4" ry="4.2" fill="url(#gB1)" opacity="0.64"/><ellipse cx="1090.6" cy="259.0" rx="4.8" ry="5.1" fill="url(#gB1)" opacity="0.85"/><ellipse cx="1283.1" cy="93.9" rx="5.2" ry="4.7" fill="url(#gB1)" opacity="0.86"/><ellipse cx="1276.8" cy="147.5" rx="4.0" ry="3.1" fill="url(#gB1)" opacity="0.86"/><ellipse cx="1115.9" cy="281.5" rx="5.1" ry="4.7" fill="url(#gB1)" opacity="0.71"/><ellipse cx="1303.6" cy="86.1" rx="4.5" ry="4.5" fill="url(#gB1)" opacity="0.56"/><ellipse cx="1124.3" cy="193.4" rx="3.8" ry="3.7" fill="url(#gB1)" opacity="0.51"/><ellipse cx="1086.8" cy="205.7" rx="4.6" ry="4.5" fill="url(#gB1)" opacity="0.54"/><ellipse cx="1150.4" cy="116.3" rx="6.0" ry="6.1" fill="url(#gB1)" opacity="0.86"/><ellipse cx="1157.2" cy="183.2" rx="4.9" ry="4.4" fill="url(#gB1)" opacity="0.65"/><ellipse cx="1084.1" cy="243.8" rx="4.2" ry="3.3" fill="url(#gB1)" opacity="0.68"/><ellipse cx="1198.9" cy="237.5" rx="3.9" ry="4.0" fill="url(#gB1)" opacity="0.79"/><ellipse cx="1121.7" cy="213.1" rx="4.3" ry="4.1" fill="url(#gB1)" opacity="0.89"/><ellipse cx="1272.5" cy="259.9" rx="4.1" ry="4.4" fill="url(#gB1)" opacity="0.60"/><ellipse cx="1010.7" cy="195.5" rx="5.6" ry="5.7" fill="url(#gB1)" opacity="0.87"/><ellipse cx="1111.9" cy="98.7" rx="5.7" ry="5.1" fill="url(#gB1)" opacity="0.65"/><ellipse cx="1122.8" cy="285.5" rx="5.0" ry="5.0" fill="url(#gB1)" opacity="0.74"/><ellipse cx="1002.9" cy="235.1" rx="4.7" ry="4.5" fill="url(#gB1)" opacity="0.55"/><ellipse cx="1019.3" cy="81.7" rx="6.0" ry="5.3" fill="url(#gB1)" opacity="0.53"/><ellipse cx="1042.7" cy="278.8" rx="4.3" ry="3.4" fill="url(#gB1)" opacity="0.84"/><ellipse cx="1031.1" cy="195.8" rx="5.0" ry="3.9" fill="url(#gB1)" opacity="0.84"/><ellipse cx="1247.2" cy="170.5" rx="4.9" ry="5.4" fill="url(#gB1)" opacity="0.81"/><ellipse cx="1160.9" cy="267.3" rx="5.3" ry="4.0" fill="url(#gB1)" opacity="0.82"/><ellipse cx="1025.7" cy="172.9" rx="4.4" ry="4.3" fill="url(#gB1)" opacity="0.66"/><ellipse cx="1063.5" cy="245.4" rx="5.4" ry="4.6" fill="url(#gB1)" opacity="0.59"/><ellipse cx="1044.5" cy="153.5" rx="4.7" ry="3.8" fill="url(#gB1)" opacity="0.81"/><ellipse cx="1083.4" cy="144.2" rx="5.5" ry="4.8" fill="url(#gB1)" opacity="0.81"/><ellipse cx="1065.7" cy="172.8" rx="5.0" ry="4.1" fill="url(#gB1)" opacity="0.65"/><ellipse cx="1271.9" cy="91.2" rx="5.5" ry="6.0" fill="url(#gB1)" opacity="0.58"/><ellipse cx="1167.2" cy="267.3" rx="5.4" ry="4.1" fill="url(#gB1)" opacity="0.66"/><ellipse cx="1012.5" cy="124.2" rx="5.6" ry="6.0" fill="url(#gB1)" opacity="0.63"/><ellipse cx="1250.5" cy="228.5" rx="4.5" ry="3.6" fill="url(#gB1)" opacity="0.75"/><ellipse cx="1187.3" cy="95.2" rx="4.2" ry="3.8" fill="url(#gB1)" opacity="0.53"/><ellipse cx="1130.9" cy="109.7" rx="4.5" ry="4.2" fill="url(#gB1)" opacity="0.52"/><ellipse cx="1031.3" cy="216.0" rx="4.7" ry="5.0" fill="url(#gB1)" opacity="0.50"/><ellipse cx="1221.1" cy="144.3" rx="4.8" ry="4.5" fill="url(#gB1)" opacity="0.73"/><ellipse cx="1290.8" cy="257.2" rx="4.1" ry="3.3" fill="url(#gB1)" opacity="0.88"/><ellipse cx="1087.4" cy="75.0" rx="4.0" ry="3.4" fill="url(#gB1)" opacity="0.73"/><ellipse cx="1301.2" cy="248.5" rx="4.4" ry="4.1" fill="url(#gB1)" opacity="0.52"/><ellipse cx="1156.3" cy="159.4" rx="3.9" ry="3.3" fill="url(#gB1)" opacity="0.74"/><ellipse cx="1147.0" cy="121.9" rx="4.0" ry="3.6" fill="url(#gB1)" opacity="0.75"/><ellipse cx="1012.2" cy="292.1" rx="4.8" ry="4.0" fill="url(#gB1)" opacity="0.86"/><ellipse cx="1163.3" cy="156.8" rx="4.1" ry="4.0" fill="url(#gB1)" opacity="0.85"/><ellipse cx="1029.1" cy="168.9" rx="4.4" ry="3.8" fill="url(#gB1)" opacity="0.54"/><ellipse cx="1305.6" cy="265.7" rx="5.6" ry="4.4" fill="url(#gB1)" opacity="0.60"/><ellipse cx="1198.8" cy="146.8" rx="5.0" ry="4.8" fill="url(#gB1)" opacity="0.76"/><ellipse cx="1285.1" cy="287.0" rx="5.7" ry="4.6" fill="url(#gB1)" opacity="0.76"/><ellipse cx="1074.7" cy="268.6" rx="5.9" ry="6.3" fill="url(#gB1)" opacity="0.63"/><ellipse cx="1249.9" cy="218.3" rx="5.7" ry="5.7" fill="url(#gB1)" opacity="0.79"/><ellipse cx="1060.1" cy="244.0" rx="5.2" ry="4.8" fill="url(#gB1)" opacity="0.51"/><ellipse cx="1187.3" cy="250.2" rx="5.5" ry="4.1" fill="url(#gB1)" opacity="0.69"/><ellipse cx="1310.4" cy="199.2" rx="4.4" ry="3.5" fill="url(#gB1)" opacity="0.85"/><ellipse cx="1314.4" cy="192.8" rx="5.7" ry="6.0" fill="url(#gB1)" opacity="0.63"/><ellipse cx="1163.0" cy="119.3" rx="4.9" ry="4.1" fill="url(#gB1)" opacity="0.83"/><ellipse cx="1216.1" cy="104.5" rx="4.3" ry="4.3" fill="url(#gB1)" opacity="0.58"/><ellipse cx="1011.3" cy="115.5" rx="4.5" ry="4.4" fill="url(#gB1)" opacity="0.53"/><ellipse cx="1171.6" cy="232.9" rx="5.3" ry="5.5" fill="url(#gB1)" opacity="0.57"/><ellipse cx="1169.1" cy="120.6" rx="5.7" ry="5.6" fill="url(#gB1)" opacity="0.52"/><ellipse cx="1233.2" cy="240.2" rx="5.7" ry="4.5" fill="url(#gB1)" opacity="0.59"/><ellipse cx="1160.4" cy="76.0" rx="5.3" ry="4.5" fill="url(#gB1)" opacity="0.74"/><ellipse cx="1116.9" cy="205.4" rx="5.9" ry="4.4" fill="url(#gB1)" opacity="0.71"/><ellipse cx="1023.0" cy="272.8" rx="5.9" ry="4.7" fill="url(#gB1)" opacity="0.81"/><ellipse cx="1244.1" cy="130.2" rx="5.5" ry="4.9" fill="url(#gB1)" opacity="0.78"/><ellipse cx="1011.9" cy="236.0" rx="5.5" ry="4.6" fill="url(#gB1)" opacity="0.53"/><ellipse cx="1070.3" cy="248.9" rx="5.1" ry="4.0" fill="url(#gB1)" opacity="0.51"/><ellipse cx="1116.1" cy="177.2" rx="4.2" ry="3.8" fill="url(#gB1)" opacity="0.59"/><ellipse cx="1044.5" cy="252.7" rx="4.1" ry="3.8" fill="url(#gB1)" opacity="0.80"/><ellipse cx="1288.8" cy="67.1" rx="5.0" ry="5.2" fill="url(#gB1)" opacity="0.79"/><ellipse cx="1284.7" cy="203.4" rx="5.8" ry="4.4" fill="url(#gB1)" opacity="0.83"/><ellipse cx="1059.7" cy="222.6" rx="4.8" ry="3.7" fill="url(#gB1)" opacity="0.84"/><ellipse cx="1027.4" cy="186.7" rx="4.8" ry="5.1" fill="url(#gB1)" opacity="0.65"/>
</g>
<clipPath id="clipi2"><rect x="1175" y="65" width="134" height="120"/></clipPath>
<g clip-path="url(#clipi2)">
<rect x="1175" y="65" width="134" height="120" fill="#1f0c0c"/>
<g>
<ellipse cx="1255.0" cy="96.0" rx="9.5" ry="24.3" fill="url(#gIB)" opacity="0.95" transform="rotate(15 1255.0 96.0)"/>
<ellipse cx="1209.0" cy="129.0" rx="17.6" ry="14.9" fill="url(#gIF)" opacity="0.75"/>
<ellipse cx="1199.0" cy="122.0" rx="9.5" ry="9.5" fill="url(#gIB)" opacity="0.9"/>
<ellipse cx="1272.0" cy="159.0" rx="20.2" ry="16.2" fill="url(#gIF)" opacity="0.75"/>
<ellipse cx="1275.0" cy="138.0" rx="18.9" ry="20.2" fill="url(#gIR)" opacity="0.9"/>
<ellipse cx="1275.0" cy="138.0" rx="16.2" ry="17.6" fill="url(#gIB)" opacity="0.8"/>
<ellipse cx="1235.0" cy="85.0" rx="20.2" ry="16.2" fill="url(#gIF)" opacity="0.25"/>
<ellipse cx="1215.0" cy="165.0" rx="27.0" ry="20.2" fill="url(#gIF)" opacity="0.25"/>
</g></g>
<path d="M1175.0,65.0 V185.0 H1309.0" fill="none" stroke="#e6e6e6" stroke-width="2"/>
<path d="M1309.0,65.0 V185.0" fill="none" stroke="#e6e6e6" stroke-width="1.5"/>
<rect x="1083.2" y="199.2" width="42.6" height="37.2" fill="none" stroke="#e8e8e8" stroke-width="1.3" stroke-dasharray="3 2"/>
<path d="M1189,265.2 H1300.7" stroke="#e0e0e0" stroke-width="2"/>
<rect x="1238.8" y="268.7" width="12" height="1.5" fill="#bbb" opacity="0.7"/>
<text x="1151" y="61" text-anchor="middle" font-size="20.5" fill="#1a1a1a">NPs+MPs</text>
<clipPath id="clip3"><rect x="671" y="315.5" width="317.3" height="225.5"/></clipPath>
<g clip-path="url(#clip3)">
<rect x="671" y="315.5" width="317.3" height="225.5" fill="#1f0c0c"/>
<ellipse cx="773.6" cy="542.0" rx="29.3" ry="36.6" fill="url(#gS)" opacity="0.14"/><ellipse cx="952.4" cy="310.6" rx="23.3" ry="19.8" fill="url(#gS)" opacity="0.13"/><ellipse cx="807.5" cy="442.4" rx="21.8" ry="22.8" fill="url(#gS)" opacity="0.14"/><ellipse cx="987.3" cy="391.9" rx="26.5" ry="32.7" fill="url(#gS)" opacity="0.10"/><ellipse cx="706.4" cy="427.6" rx="25.8" ry="26.1" fill="url(#gS)" opacity="0.08"/><ellipse cx="896.9" cy="386.9" rx="28.0" ry="22.4" fill="url(#gS)" opacity="0.12"/><ellipse cx="792.2" cy="542.5" rx="14.5" ry="17.8" fill="url(#gS)" opacity="0.10"/><ellipse cx="787.7" cy="359.5" rx="20.9" ry="26.3" fill="url(#gS)" opacity="0.16"/><ellipse cx="973.5" cy="454.4" rx="16.2" ry="16.3" fill="url(#gS)" opacity="0.12"/><ellipse cx="762.9" cy="542.9" rx="13.5" ry="11.4" fill="url(#gS)" opacity="0.08"/><ellipse cx="720.8" cy="325.5" rx="16.3" ry="15.1" fill="url(#gS)" opacity="0.15"/><ellipse cx="844.4" cy="457.6" rx="18.3" ry="14.7" fill="url(#gS)" opacity="0.12"/><ellipse cx="904.3" cy="330.5" rx="23.7" ry="19.6" fill="url(#gS)" opacity="0.13"/><ellipse cx="782.3" cy="345.3" rx="14.5" ry="17.1" fill="url(#gS)" opacity="0.11"/><ellipse cx="694.0" cy="523.7" rx="17.0" ry="14.7" fill="url(#gS)" opacity="0.06"/><ellipse cx="764.2" cy="442.3" rx="28.2" ry="24.8" fill="url(#gS)" opacity="0.11"/><ellipse cx="692.2" cy="472.3" rx="17.4" ry="16.1" fill="url(#gS)" opacity="0.09"/><ellipse cx="933.8" cy="541.4" rx="14.5" ry="14.1" fill="url(#gS)" opacity="0.07"/><ellipse cx="911.6" cy="524.2" rx="14.3" ry="15.8" fill="url(#gS)" opacity="0.09"/><ellipse cx="813.3" cy="445.3" rx="18.9" ry="20.6" fill="url(#gS)" opacity="0.09"/><ellipse cx="828.4" cy="394.5" rx="19.6" ry="15.4" fill="url(#gS)" opacity="0.10"/><ellipse cx="702.3" cy="456.8" rx="19.5" ry="18.6" fill="url(#gS)" opacity="0.15"/><ellipse cx="717.2" cy="435.1" rx="23.0" ry="24.8" fill="url(#gS)" opacity="0.14"/><ellipse cx="782.3" cy="528.4" rx="24.0" ry="17.9" fill="url(#gS)" opacity="0.12"/><ellipse cx="835.2" cy="530.8" rx="25.1" ry="27.7" fill="url(#gS)" opacity="0.13"/><ellipse cx="898.0" cy="415.8" rx="20.8" ry="21.2" fill="url(#gS)" opacity="0.06"/><ellipse cx="833.1" cy="410.1" rx="19.7" ry="20.4" fill="url(#gS)" opacity="0.13"/><ellipse cx="793.7" cy="445.8" rx="16.2" ry="20.9" fill="url(#gS)" opacity="0.13"/><ellipse cx="895.1" cy="484.4" rx="12.5" ry="10.1" fill="url(#gS)" opacity="0.10"/><ellipse cx="809.8" cy="404.2" rx="21.3" ry="23.0" fill="url(#gS)" opacity="0.13"/><ellipse cx="892.8" cy="406.2" rx="27.3" ry="32.4" fill="url(#gS)" opacity="0.16"/><ellipse cx="670.4" cy="446.5" rx="15.1" ry="18.4" fill="url(#gS)" opacity="0.15"/><ellipse cx="884.7" cy="386.5" rx="27.7" ry="27.9" fill="url(#gS)" opacity="0.13"/><ellipse cx="728.2" cy="335.7" rx="27.0" ry="32.9" fill="url(#gS)" opacity="0.10"/><ellipse cx="693.3" cy="380.6" rx="28.4" ry="23.6" fill="url(#gS)" opacity="0.13"/><ellipse cx="768.6" cy="532.7" rx="18.1" ry="23.0" fill="url(#gS)" opacity="0.11"/><ellipse cx="668.8" cy="403.4" rx="19.7" ry="15.5" fill="url(#gS)" opacity="0.07"/><ellipse cx="849.1" cy="481.6" rx="25.2" ry="22.6" fill="url(#gS)" opacity="0.08"/><ellipse cx="815.9" cy="480.1" rx="15.8" ry="19.5" fill="url(#gS)" opacity="0.16"/><ellipse cx="777.0" cy="344.8" rx="21.9" ry="17.4" fill="url(#gS)" opacity="0.15"/><ellipse cx="859.1" cy="408.1" rx="27.4" ry="31.9" fill="url(#gS)" opacity="0.13"/><ellipse cx="698.5" cy="398.9" rx="18.2" ry="22.1" fill="url(#gS)" opacity="0.09"/><ellipse cx="701.7" cy="415.8" rx="17.5" ry="19.2" fill="url(#gS)" opacity="0.10"/><ellipse cx="706.3" cy="467.9" rx="28.8" ry="32.1" fill="url(#gS)" opacity="0.12"/><ellipse cx="689.6" cy="357.6" rx="24.0" ry="30.4" fill="url(#gS)" opacity="0.11"/><ellipse cx="983.9" cy="336.0" rx="17.1" ry="14.9" fill="url(#gS)" opacity="0.13"/><ellipse cx="785.5" cy="464.7" rx="13.0" ry="14.3" fill="url(#gS)" opacity="0.13"/><ellipse cx="726.9" cy="349.2" rx="19.4" ry="19.0" fill="url(#gS)" opacity="0.11"/><ellipse cx="977.2" cy="342.6" rx="23.3" ry="23.5" fill="url(#gS)" opacity="0.12"/><ellipse cx="760.1" cy="489.5" rx="26.8" ry="19.1" fill="url(#gS)" opacity="0.09"/><ellipse cx="667.2" cy="449.9" rx="25.5" ry="24.0" fill="url(#gS)" opacity="0.16"/><ellipse cx="919.8" cy="466.5" rx="14.0" ry="12.3" fill="url(#gS)" opacity="0.14"/><ellipse cx="821.7" cy="364.2" rx="12.0" ry="13.7" fill="url(#gS)" opacity="0.09"/><ellipse cx="700.5" cy="428.3" rx="24.8" ry="26.0" fill="url(#gS)" opacity="0.06"/><ellipse cx="967.4" cy="402.5" rx="22.9" ry="19.8" fill="url(#gS)" opacity="0.09"/><ellipse cx="704.2" cy="494.3" rx="14.8" ry="15.6" fill="url(#gS)" opacity="0.13"/><ellipse cx="987.2" cy="315.7" rx="24.8" ry="22.1" fill="url(#gS)" opacity="0.06"/><ellipse cx="848.9" cy="406.5" rx="20.1" ry="16.3" fill="url(#gS)" opacity="0.07"/><ellipse cx="706.6" cy="427.4" rx="12.6" ry="15.6" fill="url(#gS)" opacity="0.13"/><ellipse cx="972.1" cy="481.5" rx="26.8" ry="32.8" fill="url(#gS)" opacity="0.14"/><ellipse cx="907.2" cy="416.4" rx="27.1" ry="33.0" fill="url(#gS)" opacity="0.13"/><ellipse cx="973.9" cy="500.0" rx="15.7" ry="20.3" fill="url(#gS)" opacity="0.08"/><ellipse cx="727.5" cy="471.8" rx="29.6" ry="33.6" fill="url(#gS)" opacity="0.08"/><ellipse cx="776.9" cy="395.0" rx="25.5" ry="19.7" fill="url(#gS)" opacity="0.14"/><ellipse cx="741.1" cy="317.3" rx="28.8" ry="34.5" fill="url(#gS)" opacity="0.14"/><ellipse cx="940.3" cy="433.6" rx="28.1" ry="30.1" fill="url(#gS)" opacity="0.11"/><ellipse cx="914.1" cy="494.7" rx="23.7" ry="21.6" fill="url(#gS)" opacity="0.11"/><ellipse cx="718.3" cy="406.8" rx="24.2" ry="27.8" fill="url(#gS)" opacity="0.11"/><ellipse cx="824.4" cy="513.0" rx="22.0" ry="22.5" fill="url(#gS)" opacity="0.07"/><ellipse cx="922.8" cy="513.6" rx="29.7" ry="34.4" fill="url(#gS)" opacity="0.06"/><ellipse cx="792.2" cy="362.9" rx="23.6" ry="19.0" fill="url(#gS)" opacity="0.11"/><ellipse cx="976.6" cy="479.3" rx="18.5" ry="21.9" fill="url(#gS)" opacity="0.10"/><ellipse cx="911.8" cy="362.5" rx="28.1" ry="27.2" fill="url(#gS)" opacity="0.06"/><ellipse cx="753.1" cy="410.5" rx="16.1" ry="17.2" fill="url(#gS)" opacity="0.08"/><ellipse cx="829.8" cy="491.6" rx="21.5" ry="18.2" fill="url(#gS)" opacity="0.13"/><ellipse cx="864.8" cy="456.9" rx="19.9" ry="19.0" fill="url(#gS)" opacity="0.15"/><ellipse cx="787.8" cy="407.8" rx="29.7" ry="34.8" fill="url(#gS)" opacity="0.07"/><ellipse cx="930.4" cy="424.8" rx="24.8" ry="25.0" fill="url(#gS)" opacity="0.09"/><ellipse cx="765.6" cy="431.9" rx="28.8" ry="23.6" fill="url(#gS)" opacity="0.08"/><ellipse cx="932.6" cy="420.8" rx="19.1" ry="20.1" fill="url(#gS)" opacity="0.10"/><ellipse cx="686.0" cy="441.6" rx="19.8" ry="22.5" fill="url(#gS)" opacity="0.08"/><ellipse cx="708.0" cy="461.5" rx="29.8" ry="33.2" fill="url(#gS)" opacity="0.12"/><ellipse cx="951.7" cy="328.3" rx="28.1" ry="35.4" fill="url(#gS)" opacity="0.08"/><ellipse cx="701.4" cy="512.3" rx="28.5" ry="29.8" fill="url(#gS)" opacity="0.10"/><ellipse cx="969.4" cy="510.2" rx="13.7" ry="11.3" fill="url(#gS)" opacity="0.14"/><circle cx="762.4" cy="535.4" r="2.7" fill="url(#gS)" opacity="0.50"/><circle cx="707.6" cy="319.7" r="2.6" fill="url(#gS)" opacity="0.51"/><circle cx="892.7" cy="323.5" r="3.8" fill="url(#gS)" opacity="0.52"/><circle cx="710.5" cy="468.9" r="3.9" fill="url(#gS)" opacity="0.28"/><circle cx="900.4" cy="394.1" r="1.6" fill="url(#gS)" opacity="0.27"/><circle cx="880.0" cy="354.2" r="3.4" fill="url(#gS)" opacity="0.33"/><circle cx="706.7" cy="463.8" r="3.1" fill="url(#gS)" opacity="0.31"/><circle cx="993.1" cy="474.7" r="2.2" fill="url(#gS)" opacity="0.35"/><circle cx="873.3" cy="364.8" r="4.0" fill="url(#gS)" opacity="0.40"/><circle cx="784.6" cy="532.7" r="2.1" fill="url(#gS)" opacity="0.48"/><circle cx="884.1" cy="408.5" r="2.3" fill="url(#gS)" opacity="0.49"/><circle cx="920.5" cy="445.7" r="3.5" fill="url(#gS)" opacity="0.47"/><circle cx="905.9" cy="367.3" r="1.8" fill="url(#gS)" opacity="0.46"/><circle cx="945.8" cy="476.2" r="2.4" fill="url(#gS)" opacity="0.23"/><circle cx="735.3" cy="452.5" r="1.6" fill="url(#gS)" opacity="0.52"/><circle cx="720.6" cy="485.5" r="2.9" fill="url(#gS)" opacity="0.27"/><circle cx="703.7" cy="457.4" r="1.7" fill="url(#gS)" opacity="0.43"/><circle cx="799.1" cy="401.8" r="3.9" fill="url(#gS)" opacity="0.43"/><circle cx="933.8" cy="522.8" r="2.2" fill="url(#gS)" opacity="0.46"/><circle cx="841.5" cy="430.7" r="3.3" fill="url(#gS)" opacity="0.41"/><circle cx="907.5" cy="478.7" r="1.8" fill="url(#gS)" opacity="0.52"/><circle cx="821.3" cy="381.1" r="3.0" fill="url(#gS)" opacity="0.39"/><circle cx="754.6" cy="382.3" r="3.1" fill="url(#gS)" opacity="0.49"/><circle cx="850.7" cy="485.5" r="2.4" fill="url(#gS)" opacity="0.48"/><circle cx="993.2" cy="453.2" r="2.5" fill="url(#gS)" opacity="0.44"/><circle cx="861.5" cy="539.4" r="3.9" fill="url(#gS)" opacity="0.23"/><circle cx="728.5" cy="338.7" r="2.7" fill="url(#gS)" opacity="0.52"/><circle cx="692.2" cy="422.0" r="2.2" fill="url(#gS)" opacity="0.54"/><circle cx="780.3" cy="514.3" r="3.6" fill="url(#gS)" opacity="0.27"/><circle cx="867.2" cy="524.2" r="2.4" fill="url(#gS)" opacity="0.42"/><circle cx="931.5" cy="384.9" r="2.1" fill="url(#gS)" opacity="0.52"/><circle cx="912.9" cy="471.8" r="2.4" fill="url(#gS)" opacity="0.31"/><circle cx="813.1" cy="383.4" r="2.3" fill="url(#gS)" opacity="0.52"/><circle cx="863.8" cy="541.6" r="3.4" fill="url(#gS)" opacity="0.30"/><circle cx="678.0" cy="453.5" r="2.5" fill="url(#gS)" opacity="0.36"/><circle cx="966.7" cy="337.4" r="3.9" fill="url(#gS)" opacity="0.34"/><circle cx="765.1" cy="395.4" r="4.0" fill="url(#gS)" opacity="0.40"/><circle cx="668.2" cy="467.0" r="1.7" fill="url(#gS)" opacity="0.25"/><circle cx="889.0" cy="440.3" r="3.6" fill="url(#gS)" opacity="0.23"/><circle cx="989.7" cy="355.1" r="3.8" fill="url(#gS)" opacity="0.39"/><circle cx="970.0" cy="451.1" r="1.7" fill="url(#gS)" opacity="0.39"/><circle cx="981.2" cy="447.5" r="1.9" fill="url(#gS)" opacity="0.54"/><circle cx="905.5" cy="498.8" r="3.8" fill="url(#gS)" opacity="0.45"/><circle cx="927.3" cy="423.7" r="2.7" fill="url(#gS)" opacity="0.52"/><circle cx="743.8" cy="538.9" r="2.8" fill="url(#gS)" opacity="0.22"/><circle cx="896.1" cy="419.1" r="2.6" fill="url(#gS)" opacity="0.29"/><circle cx="666.4" cy="374.5" r="2.7" fill="url(#gS)" opacity="0.49"/><circle cx="909.3" cy="545.2" r="2.9" fill="url(#gS)" opacity="0.23"/><circle cx="849.1" cy="395.7" r="1.7" fill="url(#gS)" opacity="0.53"/><circle cx="754.2" cy="451.8" r="2.4" fill="url(#gS)" opacity="0.22"/><circle cx="788.0" cy="356.3" r="2.8" fill="url(#gS)" opacity="0.48"/><circle cx="697.4" cy="384.0" r="2.9" fill="url(#gS)" opacity="0.52"/><circle cx="835.6" cy="521.8" r="3.8" fill="url(#gS)" opacity="0.37"/><circle cx="712.3" cy="451.7" r="3.8" fill="url(#gS)" opacity="0.33"/><circle cx="818.4" cy="518.8" r="3.9" fill="url(#gS)" opacity="0.30"/><circle cx="682.6" cy="414.5" r="3.0" fill="url(#gS)" opacity="0.45"/><circle cx="863.9" cy="420.8" r="3.8" fill="url(#gS)" opacity="0.23"/><circle cx="836.3" cy="359.6" r="2.4" fill="url(#gS)" opacity="0.55"/><circle cx="836.3" cy="326.1" r="3.1" fill="url(#gS)" opacity="0.28"/><circle cx="922.7" cy="359.3" r="2.5" fill="url(#gS)" opacity="0.45"/><circle cx="687.2" cy="455.5" r="2.2" fill="url(#gS)" opacity="0.45"/><circle cx="866.6" cy="440.5" r="2.7" fill="url(#gS)" opacity="0.39"/><circle cx="990.0" cy="347.4" r="3.6" fill="url(#gS)" opacity="0.31"/><circle cx="729.1" cy="437.2" r="3.1" fill="url(#gS)" opacity="0.21"/><circle cx="720.7" cy="437.1" r="2.2" fill="url(#gS)" opacity="0.46"/><circle cx="681.6" cy="456.4" r="3.9" fill="url(#gS)" opacity="0.50"/><circle cx="947.7" cy="441.4" r="2.0" fill="url(#gS)" opacity="0.52"/><circle cx="885.7" cy="315.7" r="1.7" fill="url(#gS)" opacity="0.35"/><circle cx="670.6" cy="377.2" r="2.1" fill="url(#gS)" opacity="0.21"/><circle cx="775.7" cy="524.3" r="1.8" fill="url(#gS)" opacity="0.53"/><circle cx="901.8" cy="455.3" r="2.2" fill="url(#gS)" opacity="0.25"/><circle cx="820.9" cy="312.3" r="3.5" fill="url(#gS)" opacity="0.24"/><circle cx="707.6" cy="461.3" r="1.6" fill="url(#gS)" opacity="0.46"/><circle cx="776.6" cy="325.1" r="1.8" fill="url(#gS)" opacity="0.44"/><circle cx="968.8" cy="403.4" r="2.9" fill="url(#gS)" opacity="0.23"/><circle cx="929.1" cy="402.3" r="1.9" fill="url(#gS)" opacity="0.22"/><circle cx="907.0" cy="343.6" r="2.9" fill="url(#gS)" opacity="0.37"/><circle cx="992.2" cy="528.1" r="2.4" fill="url(#gS)" opacity="0.43"/><circle cx="952.6" cy="460.6" r="2.2" fill="url(#gS)" opacity="0.29"/><circle cx="916.0" cy="505.5" r="1.6" fill="url(#gS)" opacity="0.42"/><circle cx="848.0" cy="440.6" r="3.1" fill="url(#gS)" opacity="0.34"/><circle cx="703.2" cy="367.2" r="1.7" fill="url(#gS)" opacity="0.21"/><circle cx="844.0" cy="382.7" r="2.0" fill="url(#gS)" opacity="0.53"/><circle cx="865.4" cy="389.1" r="3.1" fill="url(#gS)" opacity="0.28"/><circle cx="953.3" cy="524.2" r="3.2" fill="url(#gS)" opacity="0.30"/><circle cx="947.5" cy="459.6" r="3.0" fill="url(#gS)" opacity="0.55"/><circle cx="970.5" cy="417.7" r="3.1" fill="url(#gS)" opacity="0.27"/><circle cx="697.7" cy="382.0" r="2.8" fill="url(#gS)" opacity="0.34"/><circle cx="713.6" cy="374.2" r="2.8" fill="url(#gS)" opacity="0.27"/><circle cx="773.7" cy="506.1" r="1.9" fill="url(#gS)" opacity="0.23"/><circle cx="755.6" cy="519.3" r="1.5" fill="url(#gS)" opacity="0.53"/><circle cx="921.4" cy="439.9" r="2.8" fill="url(#gS)" opacity="0.37"/><circle cx="670.3" cy="505.8" r="3.9" fill="url(#gS)" opacity="0.33"/><circle cx="751.5" cy="520.9" r="1.5" fill="url(#gS)" opacity="0.53"/><circle cx="711.0" cy="413.3" r="2.5" fill="url(#gS)" opacity="0.46"/><circle cx="709.4" cy="509.1" r="2.0" fill="url(#gS)" opacity="0.51"/><circle cx="879.1" cy="312.2" r="2.1" fill="url(#gS)" opacity="0.26"/><circle cx="676.8" cy="339.9" r="2.9" fill="url(#gS)" opacity="0.21"/><circle cx="735.7" cy="499.0" r="3.3" fill="url(#gS)" opacity="0.48"/><circle cx="807.4" cy="423.1" r="1.8" fill="url(#gS)" opacity="0.54"/><circle cx="704.6" cy="518.0" r="1.6" fill="url(#gS)" opacity="0.42"/><circle cx="674.7" cy="519.9" r="3.3" fill="url(#gS)" opacity="0.45"/><circle cx="977.1" cy="447.5" r="1.7" fill="url(#gS)" opacity="0.21"/><circle cx="750.7" cy="545.9" r="3.0" fill="url(#gS)" opacity="0.37"/><circle cx="909.3" cy="412.4" r="2.7" fill="url(#gS)" opacity="0.53"/><circle cx="961.7" cy="513.0" r="2.0" fill="url(#gS)" opacity="0.49"/><circle cx="963.1" cy="453.9" r="1.6" fill="url(#gS)" opacity="0.26"/><circle cx="724.2" cy="442.1" r="1.7" fill="url(#gS)" opacity="0.32"/><circle cx="669.1" cy="515.2" r="1.9" fill="url(#gS)" opacity="0.34"/><circle cx="924.8" cy="487.1" r="2.7" fill="url(#gS)" opacity="0.53"/><circle cx="831.9" cy="396.5" r="3.0" fill="url(#gS)" opacity="0.38"/><circle cx="950.4" cy="497.6" r="1.6" fill="url(#gS)" opacity="0.45"/><circle cx="792.7" cy="431.4" r="2.6" fill="url(#gS)" opacity="0.35"/><circle cx="855.7" cy="378.2" r="3.5" fill="url(#gS)" opacity="0.24"/><circle cx="936.0" cy="443.1" r="3.8" fill="url(#gS)" opacity="0.51"/><circle cx="719.2" cy="328.6" r="3.7" fill="url(#gS)" opacity="0.23"/><circle cx="667.3" cy="396.1" r="3.3" fill="url(#gS)" opacity="0.50"/><circle cx="916.1" cy="372.3" r="2.1" fill="url(#gS)" opacity="0.35"/><circle cx="746.3" cy="342.9" r="2.0" fill="url(#gS)" opacity="0.40"/><circle cx="983.3" cy="361.8" r="2.3" fill="url(#gS)" opacity="0.52"/><circle cx="671.8" cy="335.2" r="1.6" fill="url(#gS)" opacity="0.43"/><circle cx="945.3" cy="521.2" r="1.7" fill="url(#gS)" opacity="0.20"/><circle cx="758.0" cy="521.1" r="3.2" fill="url(#gS)" opacity="0.52"/><circle cx="992.2" cy="532.4" r="3.1" fill="url(#gS)" opacity="0.27"/><circle cx="883.9" cy="506.1" r="2.1" fill="url(#gS)" opacity="0.53"/><circle cx="918.8" cy="399.2" r="2.5" fill="url(#gS)" opacity="0.39"/><circle cx="803.2" cy="439.6" r="3.2" fill="url(#gS)" opacity="0.48"/><circle cx="782.8" cy="416.7" r="2.3" fill="url(#gS)" opacity="0.38"/><circle cx="866.6" cy="392.8" r="1.8" fill="url(#gS)" opacity="0.21"/><circle cx="730.7" cy="350.0" r="2.9" fill="url(#gS)" opacity="0.27"/><circle cx="823.9" cy="423.2" r="2.1" fill="url(#gS)" opacity="0.34"/><circle cx="931.5" cy="461.9" r="2.0" fill="url(#gS)" opacity="0.46"/><circle cx="992.9" cy="409.4" r="2.2" fill="url(#gS)" opacity="0.30"/><circle cx="881.5" cy="439.0" r="2.0" fill="url(#gS)" opacity="0.39"/><circle cx="763.4" cy="478.1" r="2.3" fill="url(#gS)" opacity="0.36"/><circle cx="686.0" cy="471.2" r="2.9" fill="url(#gS)" opacity="0.47"/><circle cx="908.8" cy="488.7" r="2.7" fill="url(#gS)" opacity="0.39"/><circle cx="860.8" cy="349.5" r="1.5" fill="url(#gS)" opacity="0.41"/><circle cx="913.4" cy="311.6" r="2.2" fill="url(#gS)" opacity="0.39"/><circle cx="961.5" cy="539.0" r="2.1" fill="url(#gS)" opacity="0.36"/><circle cx="896.5" cy="460.3" r="3.3" fill="url(#gS)" opacity="0.25"/><circle cx="956.0" cy="419.8" r="2.2" fill="url(#gS)" opacity="0.36"/><circle cx="927.5" cy="511.5" r="1.8" fill="url(#gS)" opacity="0.38"/><circle cx="771.9" cy="349.5" r="2.4" fill="url(#gS)" opacity="0.40"/><circle cx="850.4" cy="361.5" r="2.9" fill="url(#gS)" opacity="0.25"/><circle cx="855.6" cy="543.6" r="3.0" fill="url(#gS)" opacity="0.23"/><circle cx="790.2" cy="518.3" r="1.8" fill="url(#gS)" opacity="0.23"/><circle cx="927.6" cy="508.6" r="2.6" fill="url(#gS)" opacity="0.24"/><circle cx="798.2" cy="489.4" r="2.4" fill="url(#gS)" opacity="0.43"/><circle cx="952.0" cy="541.3" r="1.7" fill="url(#gS)" opacity="0.25"/><circle cx="748.9" cy="488.2" r="1.9" fill="url(#gS)" opacity="0.48"/><circle cx="837.3" cy="381.8" r="3.8" fill="url(#gS)" opacity="0.40"/><circle cx="718.1" cy="523.0" r="3.5" fill="url(#gS)" opacity="0.53"/><circle cx="932.4" cy="524.3" r="3.5" fill="url(#gS)" opacity="0.21"/><circle cx="813.5" cy="492.3" r="2.5" fill="url(#gS)" opacity="0.47"/><circle cx="992.9" cy="472.1" r="3.4" fill="url(#gS)" opacity="0.24"/><circle cx="779.1" cy="410.0" r="3.7" fill="url(#gS)" opacity="0.27"/><circle cx="871.5" cy="461.8" r="3.8" fill="url(#gS)" opacity="0.29"/><circle cx="858.6" cy="410.2" r="1.9" fill="url(#gS)" opacity="0.32"/><circle cx="828.1" cy="335.0" r="3.0" fill="url(#gS)" opacity="0.38"/><circle cx="806.9" cy="534.5" r="3.6" fill="url(#gS)" opacity="0.39"/><circle cx="939.2" cy="388.8" r="3.5" fill="url(#gS)" opacity="0.51"/><circle cx="844.5" cy="540.8" r="2.1" fill="url(#gS)" opacity="0.31"/><circle cx="857.0" cy="338.1" r="2.0" fill="url(#gS)" opacity="0.34"/><circle cx="980.4" cy="462.7" r="3.8" fill="url(#gS)" opacity="0.23"/><circle cx="823.4" cy="351.4" r="3.0" fill="url(#gS)" opacity="0.52"/><circle cx="843.3" cy="521.9" r="3.2" fill="url(#gS)" opacity="0.38"/><circle cx="678.7" cy="535.8" r="1.8" fill="url(#gS)" opacity="0.43"/><circle cx="880.4" cy="528.0" r="3.3" fill="url(#gS)" opacity="0.22"/><circle cx="671.5" cy="363.4" r="2.2" fill="url(#gS)" opacity="0.28"/><circle cx="774.2" cy="363.3" r="3.8" fill="url(#gS)" opacity="0.28"/><circle cx="712.2" cy="335.8" r="2.1" fill="url(#gS)" opacity="0.24"/><circle cx="750.1" cy="393.9" r="3.6" fill="url(#gS)" opacity="0.49"/><circle cx="705.4" cy="424.5" r="3.8" fill="url(#gS)" opacity="0.41"/><circle cx="895.7" cy="315.2" r="3.9" fill="url(#gS)" opacity="0.38"/><circle cx="878.5" cy="489.7" r="2.0" fill="url(#gS)" opacity="0.49"/><circle cx="706.3" cy="319.2" r="2.3" fill="url(#gS)" opacity="0.51"/><circle cx="788.1" cy="459.2" r="1.6" fill="url(#gS)" opacity="0.32"/><circle cx="672.3" cy="349.5" r="2.9" fill="url(#gS)" opacity="0.39"/><circle cx="947.8" cy="358.5" r="1.5" fill="url(#gS)" opacity="0.36"/><circle cx="838.3" cy="486.8" r="3.2" fill="url(#gS)" opacity="0.40"/><circle cx="672.8" cy="545.6" r="3.5" fill="url(#gS)" opacity="0.41"/><circle cx="905.6" cy="539.9" r="3.3" fill="url(#gS)" opacity="0.26"/><circle cx="717.0" cy="387.6" r="2.1" fill="url(#gS)" opacity="0.51"/><circle cx="957.0" cy="415.3" r="3.6" fill="url(#gS)" opacity="0.36"/><circle cx="904.2" cy="460.1" r="3.9" fill="url(#gS)" opacity="0.36"/><circle cx="729.0" cy="434.6" r="1.7" fill="url(#gS)" opacity="0.42"/><circle cx="908.7" cy="455.6" r="2.7" fill="url(#gS)" opacity="0.50"/><circle cx="850.3" cy="451.2" r="3.1" fill="url(#gS)" opacity="0.54"/><circle cx="741.2" cy="539.9" r="1.5" fill="url(#gS)" opacity="0.28"/><circle cx="734.7" cy="377.8" r="2.8" fill="url(#gS)" opacity="0.38"/><circle cx="850.5" cy="429.4" r="2.8" fill="url(#gS)" opacity="0.33"/><circle cx="710.1" cy="541.3" r="2.6" fill="url(#gS)" opacity="0.44"/><circle cx="741.3" cy="397.9" r="1.5" fill="url(#gS)" opacity="0.20"/><circle cx="734.0" cy="444.0" r="2.8" fill="url(#gS)" opacity="0.34"/><circle cx="911.0" cy="506.1" r="1.9" fill="url(#gS)" opacity="0.55"/><circle cx="686.7" cy="542.8" r="3.0" fill="url(#gS)" opacity="0.38"/><circle cx="754.1" cy="490.3" r="1.7" fill="url(#gS)" opacity="0.41"/><circle cx="782.3" cy="492.3" r="3.6" fill="url(#gS)" opacity="0.23"/><circle cx="701.5" cy="326.0" r="3.9" fill="url(#gS)" opacity="0.22"/><circle cx="823.0" cy="316.6" r="3.3" fill="url(#gS)" opacity="0.46"/><circle cx="747.8" cy="504.4" r="2.2" fill="url(#gS)" opacity="0.41"/><circle cx="992.5" cy="364.2" r="1.7" fill="url(#gS)" opacity="0.34"/><circle cx="678.1" cy="316.8" r="1.9" fill="url(#gS)" opacity="0.38"/><circle cx="716.4" cy="527.9" r="3.2" fill="url(#gS)" opacity="0.49"/><circle cx="870.3" cy="314.0" r="1.6" fill="url(#gS)" opacity="0.20"/><circle cx="966.3" cy="454.8" r="3.7" fill="url(#gS)" opacity="0.53"/><circle cx="734.2" cy="336.8" r="3.5" fill="url(#gS)" opacity="0.35"/><circle cx="721.6" cy="486.8" r="3.7" fill="url(#gS)" opacity="0.40"/><circle cx="970.0" cy="385.8" r="3.2" fill="url(#gS)" opacity="0.50"/><circle cx="968.5" cy="495.3" r="2.7" fill="url(#gS)" opacity="0.54"/><circle cx="863.7" cy="344.1" r="3.8" fill="url(#gS)" opacity="0.36"/><circle cx="945.8" cy="345.7" r="3.9" fill="url(#gS)" opacity="0.46"/><circle cx="955.3" cy="362.0" r="3.9" fill="url(#gS)" opacity="0.22"/><circle cx="927.4" cy="501.3" r="3.0" fill="url(#gS)" opacity="0.23"/><circle cx="701.3" cy="383.9" r="2.9" fill="url(#gS)" opacity="0.27"/><circle cx="736.2" cy="535.8" r="2.0" fill="url(#gS)" opacity="0.46"/><circle cx="952.9" cy="532.7" r="2.4" fill="url(#gS)" opacity="0.48"/><circle cx="751.1" cy="481.0" r="2.0" fill="url(#gS)" opacity="0.46"/><circle cx="916.3" cy="465.5" r="3.7" fill="url(#gS)" opacity="0.45"/><circle cx="713.7" cy="345.8" r="2.2" fill="url(#gS)" opacity="0.34"/><circle cx="807.5" cy="494.2" r="1.9" fill="url(#gS)" opacity="0.30"/><circle cx="681.9" cy="519.5" r="3.0" fill="url(#gS)" opacity="0.49"/><circle cx="942.7" cy="355.5" r="2.0" fill="url(#gS)" opacity="0.41"/><circle cx="935.2" cy="400.2" r="2.0" fill="url(#gS)" opacity="0.55"/><circle cx="908.9" cy="376.6" r="2.4" fill="url(#gS)" opacity="0.48"/><circle cx="819.7" cy="437.3" r="3.2" fill="url(#gS)" opacity="0.23"/><circle cx="717.5" cy="417.4" r="3.7" fill="url(#gS)" opacity="0.34"/><circle cx="833.8" cy="523.7" r="2.7" fill="url(#gS)" opacity="0.49"/><circle cx="730.2" cy="544.4" r="2.0" fill="url(#gS)" opacity="0.28"/><circle cx="922.2" cy="386.8" r="2.1" fill="url(#gS)" opacity="0.25"/><circle cx="922.7" cy="348.3" r="1.8" fill="url(#gS)" opacity="0.46"/><circle cx="960.8" cy="534.7" r="2.8" fill="url(#gS)" opacity="0.40"/><circle cx="828.8" cy="354.8" r="3.6" fill="url(#gS)" opacity="0.53"/><circle cx="954.7" cy="534.7" r="1.8" fill="url(#gS)" opacity="0.20"/><circle cx="899.4" cy="362.6" r="3.8" fill="url(#gS)" opacity="0.22"/><circle cx="945.4" cy="476.3" r="1.6" fill="url(#gS)" opacity="0.32"/><circle cx="765.0" cy="486.2" r="1.7" fill="url(#gS)" opacity="0.55"/><circle cx="683.8" cy="366.0" r="1.8" fill="url(#gS)" opacity="0.23"/><circle cx="758.7" cy="434.1" r="3.0" fill="url(#gS)" opacity="0.32"/><circle cx="847.6" cy="466.7" r="3.6" fill="url(#gS)" opacity="0.36"/><circle cx="896.2" cy="491.3" r="3.4" fill="url(#gS)" opacity="0.50"/><circle cx="739.8" cy="326.6" r="3.1" fill="url(#gS)" opacity="0.53"/><circle cx="886.6" cy="541.1" r="3.8" fill="url(#gS)" opacity="0.25"/><circle cx="759.4" cy="448.8" r="2.2" fill="url(#gS)" opacity="0.22"/><circle cx="760.1" cy="424.5" r="2.6" fill="url(#gS)" opacity="0.30"/><circle cx="766.0" cy="361.2" r="2.4" fill="url(#gS)" opacity="0.31"/><circle cx="872.0" cy="458.6" r="2.3" fill="url(#gS)" opacity="0.55"/><circle cx="814.8" cy="312.8" r="1.6" fill="url(#gS)" opacity="0.39"/><circle cx="965.0" cy="497.7" r="2.5" fill="url(#gS)" opacity="0.28"/><circle cx="895.5" cy="310.7" r="1.7" fill="url(#gS)" opacity="0.41"/><circle cx="987.6" cy="545.3" r="2.7" fill="url(#gS)" opacity="0.53"/><circle cx="779.8" cy="523.5" r="3.6" fill="url(#gS)" opacity="0.28"/><circle cx="725.3" cy="469.5" r="1.6" fill="url(#gS)" opacity="0.32"/><circle cx="731.0" cy="463.5" r="3.3" fill="url(#gS)" opacity="0.32"/><circle cx="772.1" cy="480.6" r="2.5" fill="url(#gS)" opacity="0.43"/><circle cx="693.6" cy="426.7" r="2.0" fill="url(#gS)" opacity="0.30"/><circle cx="693.7" cy="426.9" r="2.5" fill="url(#gS)" opacity="0.49"/><circle cx="688.7" cy="510.7" r="2.1" fill="url(#gS)" opacity="0.29"/><circle cx="791.6" cy="492.5" r="1.8" fill="url(#gS)" opacity="0.21"/><circle cx="700.2" cy="531.5" r="2.1" fill="url(#gS)" opacity="0.54"/><circle cx="808.0" cy="510.1" r="2.5" fill="url(#gS)" opacity="0.40"/><circle cx="724.6" cy="470.8" r="3.2" fill="url(#gS)" opacity="0.52"/><circle cx="754.2" cy="330.3" r="3.5" fill="url(#gS)" opacity="0.40"/><circle cx="827.2" cy="361.0" r="3.8" fill="url(#gS)" opacity="0.41"/><circle cx="988.4" cy="427.6" r="2.1" fill="url(#gS)" opacity="0.21"/><circle cx="715.8" cy="469.8" r="3.4" fill="url(#gS)" opacity="0.38"/><circle cx="840.0" cy="499.5" r="3.0" fill="url(#gS)" opacity="0.43"/><circle cx="915.7" cy="310.5" r="2.4" fill="url(#gS)" opacity="0.36"/><circle cx="849.5" cy="413.9" r="2.7" fill="url(#gS)" opacity="0.48"/><circle cx="778.6" cy="365.7" r="3.8" fill="url(#gS)" opacity="0.43"/><circle cx="732.0" cy="509.9" r="1.7" fill="url(#gS)" opacity="0.39"/><circle cx="797.1" cy="533.5" r="3.8" fill="url(#gS)" opacity="0.34"/><circle cx="719.3" cy="513.2" r="3.4" fill="url(#gS)" opacity="0.34"/><circle cx="719.6" cy="329.1" r="3.8" fill="url(#gS)" opacity="0.25"/><circle cx="782.4" cy="374.5" r="3.1" fill="url(#gS)" opacity="0.39"/><circle cx="846.1" cy="524.1" r="3.2" fill="url(#gS)" opacity="0.50"/><circle cx="821.7" cy="325.2" r="1.5" fill="url(#gS)" opacity="0.45"/><circle cx="726.7" cy="445.4" r="2.4" fill="url(#gS)" opacity="0.51"/><circle cx="750.5" cy="519.5" r="3.8" fill="url(#gS)" opacity="0.22"/><circle cx="808.0" cy="530.0" r="3.3" fill="url(#gS)" opacity="0.31"/><circle cx="870.7" cy="324.6" r="3.4" fill="url(#gS)" opacity="0.43"/><circle cx="907.4" cy="443.2" r="2.3" fill="url(#gS)" opacity="0.40"/><circle cx="896.6" cy="414.1" r="4.0" fill="url(#gS)" opacity="0.51"/><circle cx="704.4" cy="359.9" r="3.7" fill="url(#gS)" opacity="0.20"/><circle cx="703.2" cy="492.2" r="2.4" fill="url(#gS)" opacity="0.29"/><circle cx="744.5" cy="519.4" r="1.7" fill="url(#gS)" opacity="0.23"/><circle cx="677.4" cy="496.9" r="2.0" fill="url(#gS)" opacity="0.34"/><circle cx="974.3" cy="368.7" r="2.7" fill="url(#gS)" opacity="0.44"/><circle cx="673.6" cy="351.7" r="3.9" fill="url(#gS)" opacity="0.50"/><circle cx="967.5" cy="508.2" r="1.7" fill="url(#gS)" opacity="0.24"/><circle cx="932.8" cy="361.5" r="2.4" fill="url(#gS)" opacity="0.29"/><circle cx="820.8" cy="413.9" r="1.5" fill="url(#gS)" opacity="0.34"/><circle cx="938.0" cy="490.6" r="1.8" fill="url(#gS)" opacity="0.30"/><circle cx="843.0" cy="433.3" r="2.3" fill="url(#gS)" opacity="0.26"/><circle cx="883.9" cy="392.0" r="1.6" fill="url(#gS)" opacity="0.39"/><circle cx="992.2" cy="376.4" r="3.8" fill="url(#gS)" opacity="0.47"/><circle cx="810.1" cy="421.1" r="3.1" fill="url(#gS)" opacity="0.52"/><circle cx="958.9" cy="314.5" r="2.6" fill="url(#gS)" opacity="0.27"/><circle cx="710.0" cy="523.9" r="3.7" fill="url(#gS)" opacity="0.36"/><circle cx="948.0" cy="367.6" r="1.6" fill="url(#gS)" opacity="0.46"/><circle cx="989.6" cy="520.1" r="3.2" fill="url(#gS)" opacity="0.44"/><circle cx="692.0" cy="427.4" r="2.6" fill="url(#gS)" opacity="0.32"/><circle cx="976.9" cy="441.0" r="3.2" fill="url(#gS)" opacity="0.51"/><circle cx="720.4" cy="440.1" r="3.9" fill="url(#gS)" opacity="0.50"/><circle cx="699.1" cy="453.0" r="2.2" fill="url(#gS)" opacity="0.52"/><circle cx="897.8" cy="314.1" r="3.4" fill="url(#gS)" opacity="0.45"/><circle cx="936.1" cy="370.5" r="2.5" fill="url(#gS)" opacity="0.45"/><circle cx="806.5" cy="330.3" r="3.0" fill="url(#gS)" opacity="0.28"/><circle cx="912.6" cy="512.6" r="1.9" fill="url(#gS)" opacity="0.46"/><circle cx="706.3" cy="513.3" r="3.0" fill="url(#gS)" opacity="0.47"/><circle cx="673.4" cy="336.3" r="2.2" fill="url(#gS)" opacity="0.27"/><circle cx="864.3" cy="469.4" r="2.0" fill="url(#gS)" opacity="0.47"/><circle cx="876.5" cy="521.8" r="1.7" fill="url(#gS)" opacity="0.22"/><circle cx="692.9" cy="371.9" r="2.6" fill="url(#gS)" opacity="0.52"/><circle cx="935.2" cy="452.6" r="2.6" fill="url(#gS)" opacity="0.44"/><circle cx="831.9" cy="459.3" r="2.8" fill="url(#gS)" opacity="0.38"/><circle cx="727.5" cy="438.4" r="2.0" fill="url(#gS)" opacity="0.53"/><circle cx="878.7" cy="502.5" r="3.5" fill="url(#gS)" opacity="0.54"/><circle cx="671.9" cy="523.6" r="2.9" fill="url(#gS)" opacity="0.43"/><circle cx="806.7" cy="529.9" r="3.3" fill="url(#gS)" opacity="0.55"/><circle cx="771.5" cy="420.6" r="3.7" fill="url(#gS)" opacity="0.43"/><circle cx="767.1" cy="343.3" r="3.0" fill="url(#gS)" opacity="0.29"/><circle cx="948.1" cy="382.8" r="3.6" fill="url(#gS)" opacity="0.50"/><circle cx="670.0" cy="357.5" r="2.2" fill="url(#gS)" opacity="0.44"/><circle cx="827.0" cy="452.4" r="1.9" fill="url(#gS)" opacity="0.54"/><circle cx="767.7" cy="341.9" r="2.5" fill="url(#gS)" opacity="0.24"/><circle cx="807.0" cy="404.2" r="1.6" fill="url(#gS)" opacity="0.48"/><circle cx="883.1" cy="314.0" r="2.4" fill="url(#gS)" opacity="0.42"/><circle cx="955.2" cy="512.1" r="2.0" fill="url(#gS)" opacity="0.25"/><circle cx="732.6" cy="536.5" r="4.0" fill="url(#gS)" opacity="0.41"/><circle cx="834.3" cy="373.6" r="2.4" fill="url(#gS)" opacity="0.37"/><circle cx="757.0" cy="522.5" r="2.0" fill="url(#gS)" opacity="0.36"/><circle cx="804.5" cy="477.9" r="1.7" fill="url(#gS)" opacity="0.49"/><circle cx="885.2" cy="544.6" r="2.5" fill="url(#gS)" opacity="0.31"/><circle cx="690.0" cy="388.8" r="1.6" fill="url(#gS)" opacity="0.48"/><circle cx="859.5" cy="357.7" r="1.7" fill="url(#gS)" opacity="0.42"/><circle cx="887.6" cy="475.0" r="2.3" fill="url(#gS)" opacity="0.27"/><circle cx="695.6" cy="359.8" r="1.5" fill="url(#gS)" opacity="0.21"/><circle cx="738.9" cy="511.6" r="3.5" fill="url(#gS)" opacity="0.38"/><circle cx="758.7" cy="327.9" r="2.6" fill="url(#gS)" opacity="0.44"/><circle cx="764.7" cy="452.9" r="1.7" fill="url(#gS)" opacity="0.29"/><circle cx="921.8" cy="487.1" r="1.7" fill="url(#gS)" opacity="0.47"/><circle cx="737.6" cy="373.7" r="3.5" fill="url(#gS)" opacity="0.26"/><circle cx="672.2" cy="406.5" r="2.8" fill="url(#gS)" opacity="0.31"/><circle cx="768.8" cy="396.8" r="2.6" fill="url(#gS)" opacity="0.52"/><circle cx="706.5" cy="437.6" r="3.7" fill="url(#gS)" opacity="0.52"/><circle cx="732.1" cy="320.7" r="3.4" fill="url(#gS)" opacity="0.41"/><circle cx="719.0" cy="490.4" r="1.6" fill="url(#gS)" opacity="0.45"/><circle cx="973.9" cy="490.7" r="2.4" fill="url(#gS)" opacity="0.53"/><circle cx="770.6" cy="442.9" r="1.8" fill="url(#gS)" opacity="0.21"/><circle cx="715.2" cy="341.1" r="2.1" fill="url(#gS)" opacity="0.49"/><circle cx="933.4" cy="376.9" r="1.9" fill="url(#gS)" opacity="0.32"/><circle cx="986.6" cy="358.7" r="2.4" fill="url(#gS)" opacity="0.24"/><circle cx="886.5" cy="446.6" r="2.6" fill="url(#gS)" opacity="0.28"/><circle cx="805.3" cy="418.7" r="1.6" fill="url(#gS)" opacity="0.22"/><circle cx="707.0" cy="407.9" r="3.6" fill="url(#gS)" opacity="0.45"/><circle cx="796.5" cy="319.5" r="3.9" fill="url(#gS)" opacity="0.28"/><circle cx="871.7" cy="371.1" r="3.2" fill="url(#gS)" opacity="0.32"/><circle cx="956.2" cy="392.6" r="2.4" fill="url(#gS)" opacity="0.33"/><circle cx="854.0" cy="518.9" r="3.6" fill="url(#gS)" opacity="0.44"/><circle cx="671.3" cy="493.4" r="3.8" fill="url(#gS)" opacity="0.34"/><circle cx="722.1" cy="347.2" r="3.8" fill="url(#gS)" opacity="0.34"/><circle cx="973.3" cy="516.6" r="1.6" fill="url(#gS)" opacity="0.25"/><circle cx="797.5" cy="317.9" r="2.8" fill="url(#gS)" opacity="0.45"/><circle cx="970.0" cy="461.3" r="3.5" fill="url(#gS)" opacity="0.54"/><circle cx="841.0" cy="370.0" r="2.3" fill="url(#gS)" opacity="0.24"/><circle cx="958.9" cy="543.3" r="3.0" fill="url(#gS)" opacity="0.48"/><circle cx="730.1" cy="445.8" r="2.2" fill="url(#gS)" opacity="0.45"/><circle cx="676.8" cy="429.5" r="2.9" fill="url(#gS)" opacity="0.44"/><circle cx="943.8" cy="359.5" r="2.8" fill="url(#gS)" opacity="0.35"/><circle cx="895.7" cy="486.4" r="3.7" fill="url(#gS)" opacity="0.50"/><circle cx="868.1" cy="487.4" r="3.9" fill="url(#gS)" opacity="0.51"/><circle cx="698.8" cy="450.7" r="1.8" fill="url(#gS)" opacity="0.46"/><circle cx="841.8" cy="480.1" r="3.7" fill="url(#gS)" opacity="0.30"/><circle cx="718.6" cy="476.0" r="2.3" fill="url(#gS)" opacity="0.23"/><circle cx="733.5" cy="490.3" r="2.7" fill="url(#gS)" opacity="0.51"/><circle cx="844.2" cy="370.5" r="1.7" fill="url(#gS)" opacity="0.40"/><circle cx="823.6" cy="405.1" r="2.8" fill="url(#gS)" opacity="0.50"/><circle cx="720.2" cy="311.3" r="2.6" fill="url(#gS)" opacity="0.25"/><circle cx="965.6" cy="344.9" r="3.6" fill="url(#gS)" opacity="0.45"/><circle cx="701.2" cy="450.1" r="1.9" fill="url(#gS)" opacity="0.49"/><circle cx="883.0" cy="357.3" r="3.4" fill="url(#gS)" opacity="0.24"/><circle cx="810.2" cy="343.8" r="2.0" fill="url(#gS)" opacity="0.34"/><circle cx="708.2" cy="539.0" r="2.7" fill="url(#gS)" opacity="0.51"/><circle cx="830.4" cy="415.3" r="2.6" fill="url(#gS)" opacity="0.50"/><circle cx="806.1" cy="389.8" r="2.9" fill="url(#gS)" opacity="0.35"/><circle cx="706.4" cy="361.3" r="2.2" fill="url(#gS)" opacity="0.44"/><circle cx="685.2" cy="500.3" r="3.7" fill="url(#gS)" opacity="0.27"/><circle cx="829.5" cy="356.8" r="3.0" fill="url(#gS)" opacity="0.29"/><circle cx="796.7" cy="466.6" r="2.1" fill="url(#gS)" opacity="0.44"/><circle cx="916.4" cy="362.0" r="3.0" fill="url(#gS)" opacity="0.50"/><circle cx="891.5" cy="451.7" r="3.4" fill="url(#gS)" opacity="0.43"/><circle cx="782.6" cy="526.7" r="2.8" fill="url(#gS)" opacity="0.51"/><circle cx="951.6" cy="376.6" r="2.8" fill="url(#gS)" opacity="0.37"/><circle cx="776.6" cy="385.7" r="3.8" fill="url(#gS)" opacity="0.42"/><circle cx="688.0" cy="415.0" r="2.2" fill="url(#gS)" opacity="0.25"/><circle cx="742.2" cy="455.2" r="3.4" fill="url(#gS)" opacity="0.38"/><circle cx="907.7" cy="410.1" r="1.7" fill="url(#gS)" opacity="0.50"/><circle cx="976.9" cy="497.2" r="3.1" fill="url(#gS)" opacity="0.34"/><circle cx="685.4" cy="476.6" r="1.7" fill="url(#gS)" opacity="0.48"/><circle cx="928.3" cy="436.2" r="2.0" fill="url(#gS)" opacity="0.29"/><circle cx="976.3" cy="317.8" r="3.7" fill="url(#gS)" opacity="0.27"/><circle cx="721.1" cy="539.6" r="2.1" fill="url(#gS)" opacity="0.43"/><circle cx="883.4" cy="356.9" r="3.1" fill="url(#gS)" opacity="0.22"/><circle cx="833.5" cy="355.0" r="2.5" fill="url(#gS)" opacity="0.29"/><circle cx="870.3" cy="528.7" r="3.3" fill="url(#gS)" opacity="0.24"/><circle cx="918.5" cy="373.8" r="3.3" fill="url(#gS)" opacity="0.50"/><circle cx="897.4" cy="380.5" r="3.6" fill="url(#gS)" opacity="0.49"/><circle cx="709.1" cy="329.9" r="2.9" fill="url(#gS)" opacity="0.34"/><circle cx="901.8" cy="375.6" r="1.8" fill="url(#gS)" opacity="0.32"/><circle cx="843.8" cy="388.5" r="1.7" fill="url(#gS)" opacity="0.50"/><circle cx="729.2" cy="354.9" r="2.8" fill="url(#gS)" opacity="0.24"/><circle cx="745.7" cy="354.8" r="1.8" fill="url(#gS)" opacity="0.26"/><circle cx="875.7" cy="466.3" r="2.6" fill="url(#gS)" opacity="0.35"/><circle cx="883.2" cy="488.8" r="3.7" fill="url(#gS)" opacity="0.52"/><circle cx="943.9" cy="527.4" r="1.8" fill="url(#gS)" opacity="0.53"/><circle cx="903.3" cy="373.5" r="2.3" fill="url(#gS)" opacity="0.47"/><circle cx="838.6" cy="517.0" r="3.1" fill="url(#gS)" opacity="0.24"/><circle cx="946.9" cy="443.4" r="3.0" fill="url(#gS)" opacity="0.37"/><circle cx="801.2" cy="508.6" r="1.9" fill="url(#gS)" opacity="0.42"/><circle cx="707.6" cy="456.7" r="2.1" fill="url(#gS)" opacity="0.23"/><circle cx="864.7" cy="519.7" r="2.7" fill="url(#gS)" opacity="0.23"/><circle cx="867.9" cy="319.4" r="3.8" fill="url(#gS)" opacity="0.42"/><circle cx="896.3" cy="416.9" r="2.8" fill="url(#gS)" opacity="0.40"/><circle cx="700.4" cy="518.5" r="1.8" fill="url(#gS)" opacity="0.51"/><circle cx="676.5" cy="462.1" r="1.7" fill="url(#gS)" opacity="0.32"/><circle cx="985.7" cy="523.3" r="2.0" fill="url(#gS)" opacity="0.46"/><circle cx="851.1" cy="450.1" r="2.0" fill="url(#gS)" opacity="0.40"/><circle cx="890.7" cy="338.3" r="1.8" fill="url(#gS)" opacity="0.48"/><circle cx="812.0" cy="544.4" r="3.6" fill="url(#gS)" opacity="0.47"/><circle cx="817.4" cy="515.9" r="2.3" fill="url(#gS)" opacity="0.37"/><circle cx="780.8" cy="475.8" r="3.0" fill="url(#gS)" opacity="0.22"/><circle cx="843.9" cy="371.9" r="1.6" fill="url(#gS)" opacity="0.52"/><circle cx="793.6" cy="313.1" r="3.2" fill="url(#gS)" opacity="0.22"/><circle cx="854.0" cy="427.2" r="3.0" fill="url(#gS)" opacity="0.54"/><circle cx="924.4" cy="398.6" r="2.3" fill="url(#gS)" opacity="0.50"/><circle cx="802.0" cy="545.9" r="2.4" fill="url(#gS)" opacity="0.33"/><circle cx="695.4" cy="519.3" r="1.9" fill="url(#gS)" opacity="0.50"/><circle cx="718.9" cy="432.7" r="2.5" fill="url(#gS)" opacity="0.49"/><circle cx="773.4" cy="451.2" r="2.9" fill="url(#gS)" opacity="0.52"/><circle cx="755.9" cy="339.0" r="3.6" fill="url(#gS)" opacity="0.45"/><circle cx="678.0" cy="420.2" r="3.2" fill="url(#gS)" opacity="0.48"/><circle cx="952.3" cy="451.6" r="3.2" fill="url(#gS)" opacity="0.52"/><circle cx="974.0" cy="499.4" r="3.5" fill="url(#gS)" opacity="0.52"/><circle cx="905.0" cy="443.3" r="3.0" fill="url(#gS)" opacity="0.44"/><circle cx="680.8" cy="440.0" r="2.6" fill="url(#gS)" opacity="0.32"/><circle cx="968.1" cy="466.3" r="2.5" fill="url(#gS)" opacity="0.33"/><circle cx="689.1" cy="395.8" r="3.9" fill="url(#gS)" opacity="0.35"/><circle cx="715.3" cy="482.5" r="3.7" fill="url(#gS)" opacity="0.36"/><circle cx="951.0" cy="468.0" r="1.7" fill="url(#gS)" opacity="0.51"/><circle cx="881.3" cy="544.4" r="1.7" fill="url(#gS)" opacity="0.42"/><circle cx="671.7" cy="526.6" r="2.8" fill="url(#gS)" opacity="0.22"/><circle cx="741.9" cy="439.7" r="1.8" fill="url(#gS)" opacity="0.42"/><circle cx="812.3" cy="478.0" r="3.7" fill="url(#gS)" opacity="0.30"/><circle cx="736.4" cy="367.2" r="2.1" fill="url(#gS)" opacity="0.42"/><circle cx="691.2" cy="430.7" r="3.3" fill="url(#gS)" opacity="0.30"/><circle cx="725.7" cy="517.7" r="2.1" fill="url(#gS)" opacity="0.45"/><circle cx="673.6" cy="537.5" r="3.0" fill="url(#gS)" opacity="0.33"/><circle cx="946.4" cy="538.1" r="1.9" fill="url(#gS)" opacity="0.30"/><circle cx="983.3" cy="478.7" r="2.2" fill="url(#gS)" opacity="0.33"/><circle cx="705.4" cy="486.1" r="2.1" fill="url(#gS)" opacity="0.45"/><circle cx="866.4" cy="439.3" r="3.6" fill="url(#gS)" opacity="0.27"/><circle cx="898.8" cy="474.6" r="2.3" fill="url(#gS)" opacity="0.36"/><circle cx="868.8" cy="361.2" r="3.2" fill="url(#gS)" opacity="0.39"/><circle cx="989.7" cy="499.0" r="3.1" fill="url(#gS)" opacity="0.48"/><circle cx="921.3" cy="380.5" r="3.7" fill="url(#gS)" opacity="0.31"/><circle cx="826.6" cy="536.8" r="2.0" fill="url(#gS)" opacity="0.49"/><circle cx="900.2" cy="315.1" r="3.7" fill="url(#gS)" opacity="0.44"/><circle cx="680.5" cy="507.9" r="1.8" fill="url(#gS)" opacity="0.47"/><circle cx="854.8" cy="453.8" r="1.6" fill="url(#gS)" opacity="0.36"/><circle cx="699.9" cy="423.8" r="2.5" fill="url(#gS)" opacity="0.23"/><circle cx="864.8" cy="444.2" r="3.2" fill="url(#gS)" opacity="0.41"/><circle cx="694.0" cy="440.9" r="4.0" fill="url(#gS)" opacity="0.24"/><circle cx="973.1" cy="449.1" r="2.7" fill="url(#gS)" opacity="0.44"/><circle cx="905.0" cy="460.8" r="3.4" fill="url(#gS)" opacity="0.26"/><circle cx="805.3" cy="475.5" r="1.6" fill="url(#gS)" opacity="0.53"/><circle cx="845.7" cy="454.1" r="3.3" fill="url(#gS)" opacity="0.27"/><circle cx="735.4" cy="467.1" r="2.6" fill="url(#gS)" opacity="0.54"/><circle cx="953.1" cy="440.7" r="2.0" fill="url(#gS)" opacity="0.36"/><circle cx="860.9" cy="526.8" r="1.6" fill="url(#gS)" opacity="0.30"/><circle cx="724.0" cy="421.2" r="2.6" fill="url(#gS)" opacity="0.40"/><circle cx="911.4" cy="423.4" r="3.4" fill="url(#gS)" opacity="0.24"/><circle cx="708.7" cy="491.2" r="2.3" fill="url(#gS)" opacity="0.52"/><circle cx="885.2" cy="520.5" r="3.9" fill="url(#gS)" opacity="0.28"/><circle cx="886.9" cy="484.4" r="3.9" fill="url(#gS)" opacity="0.46"/><circle cx="818.1" cy="404.3" r="3.6" fill="url(#gS)" opacity="0.39"/><circle cx="825.9" cy="527.8" r="2.8" fill="url(#gS)" opacity="0.41"/><circle cx="977.2" cy="341.4" r="3.6" fill="url(#gS)" opacity="0.21"/><circle cx="773.8" cy="512.9" r="3.9" fill="url(#gS)" opacity="0.23"/><circle cx="788.7" cy="368.9" r="1.7" fill="url(#gS)" opacity="0.20"/><circle cx="768.4" cy="491.5" r="3.3" fill="url(#gS)" opacity="0.44"/><circle cx="747.3" cy="409.5" r="3.1" fill="url(#gS)" opacity="0.36"/><circle cx="975.7" cy="534.8" r="2.6" fill="url(#gS)" opacity="0.48"/><circle cx="961.7" cy="422.5" r="3.9" fill="url(#gS)" opacity="0.52"/><circle cx="873.6" cy="324.6" r="2.4" fill="url(#gS)" opacity="0.50"/><circle cx="945.4" cy="439.1" r="3.1" fill="url(#gS)" opacity="0.49"/><circle cx="721.0" cy="519.2" r="2.6" fill="url(#gS)" opacity="0.39"/><circle cx="710.6" cy="472.2" r="1.8" fill="url(#gS)" opacity="0.47"/><circle cx="720.5" cy="465.6" r="2.0" fill="url(#gS)" opacity="0.52"/><circle cx="667.0" cy="456.3" r="2.2" fill="url(#gS)" opacity="0.28"/><circle cx="878.8" cy="372.6" r="1.6" fill="url(#gS)" opacity="0.28"/><circle cx="860.9" cy="413.6" r="3.6" fill="url(#gS)" opacity="0.43"/><circle cx="913.9" cy="367.0" r="1.5" fill="url(#gS)" opacity="0.51"/><circle cx="790.9" cy="409.1" r="2.4" fill="url(#gS)" opacity="0.23"/><circle cx="742.5" cy="522.2" r="1.9" fill="url(#gS)" opacity="0.43"/><circle cx="852.2" cy="415.0" r="2.6" fill="url(#gS)" opacity="0.40"/><circle cx="732.3" cy="439.7" r="3.1" fill="url(#gS)" opacity="0.34"/><circle cx="740.9" cy="398.9" r="4.0" fill="url(#gS)" opacity="0.51"/><circle cx="978.1" cy="321.1" r="2.3" fill="url(#gS)" opacity="0.31"/><circle cx="935.0" cy="539.3" r="1.7" fill="url(#gS)" opacity="0.51"/><circle cx="948.7" cy="480.3" r="3.0" fill="url(#gS)" opacity="0.37"/><circle cx="905.9" cy="494.4" r="3.3" fill="url(#gS)" opacity="0.54"/><ellipse cx="870.8" cy="485.2" rx="11.9" ry="11.6" fill="url(#gR2)" opacity="0.39"/><ellipse cx="703.9" cy="403.8" rx="10.2" ry="9.1" fill="url(#gR1)" opacity="0.45"/><ellipse cx="696.1" cy="541.7" rx="8.4" ry="8.7" fill="url(#gR3)" opacity="0.42"/><ellipse cx="748.8" cy="492.2" rx="12.1" ry="12.3" fill="url(#gR2)" opacity="0.54"/><ellipse cx="700.5" cy="530.2" rx="11.6" ry="12.3" fill="url(#gR2)" opacity="0.44"/><ellipse cx="969.0" cy="356.3" rx="10.3" ry="11.6" fill="url(#gR3)" opacity="0.42"/><ellipse cx="712.9" cy="438.1" rx="10.4" ry="9.6" fill="url(#gR1)" opacity="0.49"/><ellipse cx="826.8" cy="346.1" rx="10.3" ry="10.5" fill="url(#gR1)" opacity="0.48"/><ellipse cx="963.7" cy="493.8" rx="8.9" ry="7.8" fill="url(#gR2)" opacity="0.41"/><ellipse cx="771.3" cy="414.3" rx="10.3" ry="9.5" fill="url(#gR2)" opacity="0.56"/><ellipse cx="705.7" cy="374.8" rx="9.3" ry="9.3" fill="url(#gR1)" opacity="0.69"/><ellipse cx="951.9" cy="435.6" rx="9.5" ry="10.2" fill="url(#gR1)" opacity="0.63"/><ellipse cx="779.7" cy="438.5" rx="10.3" ry="11.1" fill="url(#gR3)" opacity="0.64"/><ellipse cx="832.5" cy="496.9" rx="11.5" ry="10.0" fill="url(#gR3)" opacity="0.63"/><ellipse cx="831.9" cy="493.4" rx="12.4" ry="12.5" fill="url(#gR3)" opacity="0.68"/><ellipse cx="918.1" cy="478.9" rx="9.5" ry="9.9" fill="url(#gR3)" opacity="0.59"/><ellipse cx="822.0" cy="467.4" rx="12.5" ry="13.8" fill="url(#gR2)" opacity="0.60"/><ellipse cx="941.4" cy="393.2" rx="8.5" ry="8.9" fill="url(#gR2)" opacity="0.48"/><ellipse cx="880.3" cy="338.6" rx="11.4" ry="10.6" fill="url(#gR1)" opacity="0.53"/><ellipse cx="964.0" cy="383.1" rx="8.6" ry="8.7" fill="url(#gR1)" opacity="0.63"/><ellipse cx="893.3" cy="325.8" rx="11.4" ry="10.6" fill="url(#gR2)" opacity="0.68"/><ellipse cx="975.4" cy="486.1" rx="10.5" ry="9.6" fill="url(#gR2)" opacity="0.39"/><ellipse cx="880.6" cy="414.4" rx="9.1" ry="9.1" fill="url(#gR2)" opacity="0.38"/><ellipse cx="685.0" cy="528.7" rx="12.2" ry="10.6" fill="url(#gR3)" opacity="0.69"/><ellipse cx="685.1" cy="465.1" rx="11.0" ry="10.1" fill="url(#gR2)" opacity="0.69"/><ellipse cx="829.5" cy="529.6" rx="8.8" ry="9.8" fill="url(#gR3)" opacity="0.46"/><ellipse cx="830.8" cy="324.1" rx="10.5" ry="9.9" fill="url(#gR2)" opacity="0.47"/><ellipse cx="857.0" cy="391.3" rx="11.4" ry="12.2" fill="url(#gR1)" opacity="0.40"/><ellipse cx="878.3" cy="504.4" rx="9.7" ry="8.8" fill="url(#gR3)" opacity="0.36"/><ellipse cx="842.9" cy="537.7" rx="10.5" ry="9.2" fill="url(#gR2)" opacity="0.53"/><ellipse cx="717.6" cy="319.8" rx="10.5" ry="9.7" fill="url(#gR3)" opacity="0.43"/><ellipse cx="940.0" cy="544.4" rx="9.6" ry="8.6" fill="url(#gR2)" opacity="0.56"/>
<ellipse cx="872.7" cy="484.1" rx="5.7" ry="5.6" fill="url(#gB2)" opacity="0.54"/><ellipse cx="705.4" cy="405.7" rx="4.6" ry="4.0" fill="url(#gB2)" opacity="0.66"/><ellipse cx="696.9" cy="542.9" rx="4.0" ry="3.6" fill="url(#gB2)" opacity="0.69"/><ellipse cx="749.0" cy="491.8" rx="7.3" ry="8.0" fill="url(#gB2)" opacity="0.63"/><ellipse cx="700.1" cy="530.3" rx="7.5" ry="6.3" fill="url(#gB2)" opacity="0.74"/><ellipse cx="967.7" cy="355.1" rx="6.4" ry="6.5" fill="url(#gB2)" opacity="0.46"/><ellipse cx="714.8" cy="439.7" rx="5.1" ry="4.4" fill="url(#gB2)" opacity="0.60"/><ellipse cx="827.4" cy="346.0" rx="6.4" ry="6.9" fill="url(#gB2)" opacity="0.66"/><ellipse cx="963.1" cy="494.1" rx="5.1" ry="4.9" fill="url(#gB2)" opacity="0.66"/><ellipse cx="770.1" cy="415.0" rx="6.4" ry="6.7" fill="url(#gB2)" opacity="0.69"/><ellipse cx="706.4" cy="374.0" rx="5.1" ry="4.3" fill="url(#gB2)" opacity="0.67"/><ellipse cx="950.4" cy="435.7" rx="6.0" ry="5.5" fill="url(#gB2)" opacity="0.77"/><ellipse cx="778.6" cy="440.2" rx="5.0" ry="4.3" fill="url(#gB2)" opacity="0.52"/><ellipse cx="833.8" cy="497.0" rx="7.3" ry="7.4" fill="url(#gB2)" opacity="0.46"/><ellipse cx="831.4" cy="493.3" rx="7.9" ry="6.5" fill="url(#gB2)" opacity="0.57"/><ellipse cx="820.4" cy="468.5" rx="7.2" ry="6.0" fill="url(#gB2)" opacity="0.57"/><ellipse cx="940.3" cy="391.6" rx="4.6" ry="4.2" fill="url(#gB2)" opacity="0.51"/><ellipse cx="879.6" cy="339.4" rx="5.2" ry="5.7" fill="url(#gB2)" opacity="0.75"/><ellipse cx="962.1" cy="384.0" rx="5.5" ry="5.8" fill="url(#gB2)" opacity="0.66"/><ellipse cx="895.0" cy="326.5" rx="6.1" ry="5.2" fill="url(#gB2)" opacity="0.54"/><ellipse cx="974.9" cy="487.5" rx="5.3" ry="4.7" fill="url(#gB2)" opacity="0.77"/><ellipse cx="685.2" cy="527.1" rx="6.2" ry="5.6" fill="url(#gB2)" opacity="0.58"/><ellipse cx="831.3" cy="529.8" rx="5.6" ry="5.2" fill="url(#gB2)" opacity="0.72"/><ellipse cx="829.4" cy="325.9" rx="6.2" ry="6.5" fill="url(#gB2)" opacity="0.74"/><ellipse cx="844.8" cy="536.1" rx="6.6" ry="6.6" fill="url(#gB2)" opacity="0.79"/><ellipse cx="717.6" cy="318.7" rx="4.9" ry="4.9" fill="url(#gB2)" opacity="0.58"/><ellipse cx="805.9" cy="342.7" rx="4.5" ry="4.1" fill="url(#gB1)" opacity="0.61"/><ellipse cx="681.8" cy="341.0" rx="4.8" ry="4.7" fill="url(#gB1)" opacity="0.89"/><ellipse cx="967.6" cy="353.3" rx="5.6" ry="5.9" fill="url(#gB1)" opacity="0.89"/><ellipse cx="796.3" cy="395.6" rx="4.5" ry="4.6" fill="url(#gB1)" opacity="0.52"/><ellipse cx="768.8" cy="477.1" rx="5.9" ry="6.3" fill="url(#gB1)" opacity="0.63"/><ellipse cx="817.2" cy="339.8" rx="5.0" ry="4.8" fill="url(#gB1)" opacity="0.81"/><ellipse cx="784.4" cy="520.7" rx="5.3" ry="4.3" fill="url(#gB1)" opacity="0.71"/><ellipse cx="680.0" cy="319.8" rx="4.9" ry="4.3" fill="url(#gB1)" opacity="0.59"/><ellipse cx="966.0" cy="446.3" rx="4.9" ry="4.8" fill="url(#gB1)" opacity="0.57"/><ellipse cx="796.0" cy="540.5" rx="5.2" ry="5.6" fill="url(#gB1)" opacity="0.83"/><ellipse cx="781.2" cy="437.0" rx="5.0" ry="4.0" fill="url(#gB1)" opacity="0.82"/><ellipse cx="815.5" cy="399.9" rx="3.9" ry="3.7" fill="url(#gB1)" opacity="0.52"/><ellipse cx="868.6" cy="372.7" rx="5.6" ry="4.5" fill="url(#gB1)" opacity="0.59"/><ellipse cx="917.3" cy="532.7" rx="5.1" ry="4.8" fill="url(#gB1)" opacity="0.64"/><ellipse cx="701.6" cy="328.5" rx="5.2" ry="5.0" fill="url(#gB1)" opacity="0.54"/><ellipse cx="766.4" cy="416.7" rx="5.9" ry="5.1" fill="url(#gB1)" opacity="0.53"/><ellipse cx="722.2" cy="338.8" rx="5.1" ry="4.4" fill="url(#gB1)" opacity="0.76"/><ellipse cx="891.1" cy="314.1" rx="5.5" ry="5.9" fill="url(#gB1)" opacity="0.53"/><ellipse cx="791.1" cy="521.6" rx="4.4" ry="4.8" fill="url(#gB1)" opacity="0.88"/><ellipse cx="721.6" cy="469.9" rx="5.1" ry="4.9" fill="url(#gB1)" opacity="0.50"/><ellipse cx="769.7" cy="344.1" rx="5.7" ry="5.9" fill="url(#gB1)" opacity="0.76"/><ellipse cx="677.1" cy="475.7" rx="4.6" ry="4.0" fill="url(#gB1)" opacity="0.65"/><ellipse cx="836.3" cy="537.6" rx="3.9" ry="4.1" fill="url(#gB1)" opacity="0.76"/><ellipse cx="691.3" cy="312.4" rx="5.4" ry="5.0" fill="url(#gB1)" opacity="0.73"/><ellipse cx="719.3" cy="394.2" rx="4.5" ry="4.8" fill="url(#gB1)" opacity="0.84"/><ellipse cx="958.7" cy="379.9" rx="4.3" ry="3.7" fill="url(#gB1)" opacity="0.64"/><ellipse cx="702.1" cy="376.9" rx="4.4" ry="3.7" fill="url(#gB1)" opacity="0.86"/><ellipse cx="758.8" cy="473.7" rx="4.4" ry="4.7" fill="url(#gB1)" opacity="0.74"/><ellipse cx="785.5" cy="541.6" rx="4.7" ry="4.2" fill="url(#gB1)" opacity="0.69"/><ellipse cx="826.2" cy="490.4" rx="4.6" ry="3.5" fill="url(#gB1)" opacity="0.84"/><ellipse cx="754.7" cy="411.3" rx="5.1" ry="4.8" fill="url(#gB1)" opacity="0.79"/><ellipse cx="732.3" cy="469.8" rx="3.9" ry="4.1" fill="url(#gB1)" opacity="0.63"/><ellipse cx="976.2" cy="512.8" rx="4.2" ry="3.5" fill="url(#gB1)" opacity="0.70"/><ellipse cx="855.7" cy="451.3" rx="5.7" ry="4.5" fill="url(#gB1)" opacity="0.53"/><ellipse cx="750.4" cy="312.2" rx="3.8" ry="3.4" fill="url(#gB1)" opacity="0.77"/><ellipse cx="761.9" cy="459.3" rx="5.1" ry="5.4" fill="url(#gB1)" opacity="0.56"/><ellipse cx="830.6" cy="516.9" rx="4.2" ry="3.9" fill="url(#gB1)" opacity="0.68"/><ellipse cx="905.9" cy="438.4" rx="4.0" ry="4.0" fill="url(#gB1)" opacity="0.60"/><ellipse cx="948.4" cy="334.6" rx="4.7" ry="4.3" fill="url(#gB1)" opacity="0.55"/><ellipse cx="915.3" cy="514.1" rx="4.7" ry="4.4" fill="url(#gB1)" opacity="0.69"/><ellipse cx="841.4" cy="326.4" rx="5.9" ry="5.8" fill="url(#gB1)" opacity="0.58"/><ellipse cx="848.4" cy="535.4" rx="5.7" ry="5.3" fill="url(#gB1)" opacity="0.52"/><ellipse cx="946.5" cy="430.5" rx="5.1" ry="5.3" fill="url(#gB1)" opacity="0.82"/><ellipse cx="702.0" cy="313.0" rx="4.2" ry="4.4" fill="url(#gB1)" opacity="0.71"/><ellipse cx="842.1" cy="500.3" rx="5.7" ry="5.7" fill="url(#gB1)" opacity="0.58"/><ellipse cx="888.9" cy="332.5" rx="5.2" ry="5.0" fill="url(#gB1)" opacity="0.54"/><ellipse cx="736.7" cy="418.5" rx="4.3" ry="4.6" fill="url(#gB1)" opacity="0.50"/><ellipse cx="838.8" cy="477.0" rx="4.8" ry="5.3" fill="url(#gB1)" opacity="0.68"/><ellipse cx="749.3" cy="357.2" rx="4.4" ry="3.9" fill="url(#gB1)" opacity="0.61"/><ellipse cx="676.2" cy="473.5" rx="4.6" ry="4.0" fill="url(#gB1)" opacity="0.74"/><ellipse cx="769.6" cy="411.1" rx="4.2" ry="3.4" fill="url(#gB1)" opacity="0.58"/><ellipse cx="672.3" cy="527.1" rx="5.1" ry="5.6" fill="url(#gB1)" opacity="0.81"/><ellipse cx="867.8" cy="339.9" rx="4.7" ry="3.8" fill="url(#gB1)" opacity="0.68"/><ellipse cx="756.5" cy="408.7" rx="3.9" ry="3.7" fill="url(#gB1)" opacity="0.57"/><ellipse cx="938.1" cy="502.5" rx="3.9" ry="3.4" fill="url(#gB1)" opacity="0.61"/><ellipse cx="845.0" cy="330.0" rx="6.0" ry="5.5" fill="url(#gB1)" opacity="0.61"/><ellipse cx="725.9" cy="508.3" rx="4.3" ry="3.9" fill="url(#gB1)" opacity="0.55"/><ellipse cx="871.4" cy="500.5" rx="4.0" ry="3.2" fill="url(#gB1)" opacity="0.65"/><ellipse cx="792.9" cy="479.4" rx="5.5" ry="4.8" fill="url(#gB1)" opacity="0.75"/><ellipse cx="973.0" cy="329.8" rx="4.9" ry="4.2" fill="url(#gB1)" opacity="0.63"/><ellipse cx="913.2" cy="398.4" rx="5.5" ry="4.2" fill="url(#gB1)" opacity="0.84"/><ellipse cx="825.6" cy="378.6" rx="5.7" ry="5.3" fill="url(#gB1)" opacity="0.58"/><ellipse cx="733.2" cy="436.5" rx="4.7" ry="4.9" fill="url(#gB1)" opacity="0.61"/><ellipse cx="955.2" cy="522.9" rx="6.0" ry="4.6" fill="url(#gB1)" opacity="0.71"/><ellipse cx="958.0" cy="419.1" rx="4.5" ry="4.4" fill="url(#gB1)" opacity="0.84"/><ellipse cx="780.3" cy="323.0" rx="5.5" ry="4.8" fill="url(#gB1)" opacity="0.83"/><ellipse cx="783.4" cy="461.7" rx="5.4" ry="4.2" fill="url(#gB1)" opacity="0.63"/><ellipse cx="875.9" cy="433.9" rx="3.8" ry="2.9" fill="url(#gB1)" opacity="0.67"/><ellipse cx="820.6" cy="366.2" rx="4.8" ry="4.8" fill="url(#gB1)" opacity="0.69"/><ellipse cx="710.8" cy="539.0" rx="5.2" ry="5.3" fill="url(#gB1)" opacity="0.57"/><ellipse cx="788.4" cy="517.2" rx="4.7" ry="4.5" fill="url(#gB1)" opacity="0.83"/><ellipse cx="666.0" cy="426.6" rx="5.8" ry="5.3" fill="url(#gB1)" opacity="0.78"/><ellipse cx="925.4" cy="428.4" rx="5.6" ry="4.7" fill="url(#gB1)" opacity="0.77"/><ellipse cx="962.3" cy="374.5" rx="4.4" ry="3.9" fill="url(#gB1)" opacity="0.88"/><ellipse cx="865.7" cy="371.7" rx="4.5" ry="4.2" fill="url(#gB1)" opacity="0.78"/><ellipse cx="941.8" cy="327.9" rx="4.2" ry="3.4" fill="url(#gB1)" opacity="0.51"/><ellipse cx="943.8" cy="373.1" rx="4.0" ry="3.1" fill="url(#gB1)" opacity="0.68"/><ellipse cx="917.8" cy="351.8" rx="4.3" ry="4.6" fill="url(#gB1)" opacity="0.90"/><ellipse cx="758.1" cy="385.4" rx="5.8" ry="6.2" fill="url(#gB1)" opacity="0.53"/><ellipse cx="952.0" cy="351.1" rx="3.8" ry="3.1" fill="url(#gB1)" opacity="0.67"/><ellipse cx="763.6" cy="434.3" rx="5.2" ry="5.5" fill="url(#gB1)" opacity="0.89"/><ellipse cx="680.5" cy="476.0" rx="5.0" ry="5.2" fill="url(#gB1)" opacity="0.70"/><ellipse cx="741.8" cy="454.0" rx="4.3" ry="3.8" fill="url(#gB1)" opacity="0.58"/><ellipse cx="795.6" cy="355.8" rx="4.9" ry="4.6" fill="url(#gB1)" opacity="0.74"/><ellipse cx="989.5" cy="428.0" rx="4.6" ry="4.4" fill="url(#gB1)" opacity="0.52"/>
</g>
<clipPath id="clipi3"><rect x="849.3" y="315.5" width="139.6" height="119"/></clipPath>
<g clip-path="url(#clipi3)">
<rect x="849.3" y="315.5" width="139.6" height="119" fill="#1f0c0c"/>
<g>
<ellipse cx="869.3" cy="320.5" rx="16.2" ry="10.8" fill="url(#gIB)" opacity="0.9"/>
<ellipse cx="866.3" cy="391.5" rx="16.2" ry="13.5" fill="url(#gIF)" opacity="0.7"/>
<ellipse cx="878.3" cy="385.5" rx="10.8" ry="10.8" fill="url(#gIB)" opacity="0.75"/>
<ellipse cx="909.3" cy="394.5" rx="10.8" ry="10.8" fill="url(#gIB)" opacity="0.95"/>
<ellipse cx="948.3" cy="397.5" rx="12.2" ry="17.6" fill="url(#gIB)" opacity="0.85"/>
<ellipse cx="982.3" cy="403.5" rx="8.1" ry="18.9" fill="url(#gIB)" opacity="0.75"/>
<ellipse cx="884.3" cy="408.5" rx="33.8" ry="20.2" fill="url(#gIF)" opacity="0.35"/>
<ellipse cx="929.3" cy="345.5" rx="40.5" ry="24.3" fill="url(#gIF)" opacity="0.2"/>
<ellipse cx="959.3" cy="375.5" rx="27.0" ry="27.0" fill="url(#gIF)" opacity="0.2"/>
</g></g>
<path d="M849.3,315.5 V434.5 H988.9" fill="none" stroke="#e6e6e6" stroke-width="2"/>
<path d="M988.9,315.5 V434.5" fill="none" stroke="#e6e6e6" stroke-width="1.5"/>
<rect x="693.9" y="442.2" width="43.1" height="37.1" fill="none" stroke="#e8e8e8" stroke-width="1.3" stroke-dasharray="3 2"/>
<path d="M867.2,516.3 H979" stroke="#e0e0e0" stroke-width="2"/>
<rect x="917.1" y="519.8" width="12" height="1.5" fill="#bbb" opacity="0.7"/>
<text x="829" y="311" text-anchor="middle" font-size="20.5" fill="#1a1a1a">NPs-COOH+MPs</text>
<rect x="73" y="359.5" width="177.5" height="165.5" fill="none" stroke="#3a3a3a" stroke-width="1.8"/>
<g fill="none" stroke="#1a1a1a" stroke-width="1.0" stroke-linejoin="round"><path d="M81.9,488.6 C84.0,485.4 90.8,475.7 94.6,469.2 C98.4,462.8 100.8,456.1 104.6,449.8 C108.4,443.5 112.8,435.9 117.4,431.3 C121.9,426.7 127.3,425.0 131.8,422.2 C136.4,419.4 139.9,417.4 144.4,414.4 C149.0,411.5 153.4,408.2 159.1,404.7 C164.9,401.2 172.5,397.4 179.1,393.5 C185.6,389.6 191.7,385.4 198.5,381.3 C205.3,377.3 216.2,371.2 219.7,369.2"/><path d="M246.0,363.3 C244.6,364.2 240.6,366.9 237.8,368.8 C234.9,370.7 231.4,373.0 228.6,374.6 C225.8,376.2 226.2,377.6 221.0,378.7 C215.8,379.7 205.3,380.8 197.5,381.1 C189.6,381.5 182.0,380.6 174.0,380.9 C165.9,381.1 155.3,383.5 149.0,382.7 C142.7,381.9 140.6,378.1 136.3,375.9 C132.0,373.7 127.4,371.5 123.4,369.7 C119.3,367.8 113.7,365.5 111.8,364.7"/><path d="M82.5,455.6 C82.0,455.3 80.1,453.9 79.6,453.6 C79.0,453.3 79.8,454.3 79.2,453.9 C78.6,453.5 76.6,453.0 76.0,451.4 C75.4,449.8 75.6,446.6 75.7,444.2 C75.7,441.8 76.1,439.5 76.1,437.2 C76.2,435.0 76.0,432.1 76.0,430.4 C76.0,428.8 75.8,428.7 75.9,427.5 C75.9,426.3 76.1,424.8 76.2,423.4 C76.3,422.0 76.5,419.9 76.5,419.1"/><path d="M96.4,519.0 C99.2,518.0 108.3,514.8 113.7,512.6 C119.0,510.3 123.0,508.0 128.4,505.5 C133.8,502.9 141.6,500.4 146.1,497.1 C150.7,493.7 152.3,488.9 155.9,485.3 C159.5,481.7 164.1,479.1 167.8,475.3 C171.6,471.6 172.9,467.3 178.3,463.0 C183.6,458.7 192.5,454.3 199.9,449.4 C207.2,444.4 215.0,438.3 222.4,433.2 C229.8,428.2 240.6,421.4 244.2,419.1"/><path d="M78.4,489.2 C80.8,490.0 88.1,492.3 92.5,494.2 C97.0,496.2 101.0,498.9 105.2,501.2 C109.4,503.4 114.4,506.3 117.7,507.7 C121.0,509.1 122.5,508.9 125.0,509.7 C127.5,510.4 129.9,511.6 132.7,512.1 C135.4,512.6 136.7,512.1 141.5,512.6 C146.2,513.1 154.7,514.7 161.1,515.3 C167.4,515.8 173.3,515.3 179.6,515.8 C186.0,516.4 196.0,518.1 199.3,518.5"/><path d="M183.8,514.7 C181.4,511.7 174.4,502.1 169.5,496.5 C164.7,490.9 159.6,486.6 154.7,481.0 C149.8,475.3 143.7,467.2 140.1,462.4 C136.5,457.7 135.6,455.6 133.0,452.3 C130.4,449.1 127.0,446.2 124.4,443.0 C121.8,439.9 119.1,438.9 117.4,433.4 C115.6,427.9 115.4,417.5 114.2,410.0 C112.9,402.5 111.4,395.9 109.8,388.5 C108.3,381.2 105.7,369.7 104.9,366.0"/><path d="M183.2,517.0 C181.4,515.7 176.3,511.7 172.5,508.9 C168.7,506.1 164.5,502.9 160.6,500.4 C156.6,497.9 152.9,497.3 148.9,493.8 C144.9,490.2 140.5,483.9 136.6,479.0 C132.8,474.2 129.6,469.8 125.7,464.8 C121.9,459.9 117.6,452.1 113.5,449.2 C109.4,446.3 104.8,448.3 100.9,447.5 C97.0,446.8 93.9,445.8 90.0,444.6 C86.1,443.5 79.5,441.4 77.4,440.7"/><path d="M81.2,454.7 C82.3,452.6 85.7,446.2 87.6,442.0 C89.6,437.8 90.8,433.6 92.7,429.5 C94.7,425.4 96.7,420.6 99.3,417.5 C101.9,414.3 105.4,413.1 108.2,410.9 C111.0,408.6 113.6,406.0 116.0,403.9 C118.5,401.8 119.7,400.9 122.9,398.3 C126.0,395.7 131.4,391.8 135.1,388.5 C138.9,385.2 141.7,381.7 145.4,378.5 C149.0,375.3 155.1,370.7 157.1,369.2"/><path d="M166.5,519.7 C165.5,518.7 162.7,515.9 160.6,513.9 C158.5,511.8 156.1,509.5 153.8,507.5 C151.4,505.4 149.3,505.2 146.8,501.6 C144.2,498.1 141.3,491.4 138.5,486.1 C135.6,480.7 132.8,475.2 129.9,469.7 C127.0,464.2 124.7,456.6 120.9,452.9 C117.2,449.2 111.5,448.8 107.3,447.3 C103.1,445.7 99.8,445.1 95.8,443.6 C91.9,442.1 85.6,439.3 83.5,438.4"/><path d="M205.8,519.6 C205.8,517.7 205.7,512.3 205.6,508.5 C205.5,504.8 205.3,500.7 205.2,496.9 C205.2,493.2 204.6,490.7 205.3,486.2 C205.9,481.6 208.1,474.8 209.2,469.8 C210.3,464.8 210.5,460.9 211.6,456.0 C212.8,451.0 213.6,446.7 215.9,440.1 C218.2,433.6 221.8,424.2 225.2,416.7 C228.6,409.1 232.9,402.4 236.2,394.8 C239.4,387.1 243.3,374.8 244.7,370.8"/><path d="M193.8,367.4 C192.8,367.2 189.9,366.4 188.1,366.4 C186.3,366.4 184.6,367.3 182.9,367.4 C181.2,367.6 177.6,367.5 177.8,367.2 C177.9,367.0 182.1,366.3 184.0,365.7 C185.9,365.2 187.2,364.6 189.2,364.1 C191.2,363.7 196.5,363.2 196.2,363.0 C195.9,362.8 190.4,363.0 187.4,363.1 C184.3,363.2 180.8,363.2 177.9,363.6 C175.0,364.0 171.3,365.1 170.0,365.4"/><path d="M141.3,365.6 C141.3,368.3 141.2,376.2 141.0,381.5 C140.9,386.8 140.7,392.2 140.6,397.2 C140.6,402.3 140.1,406.4 140.7,411.7 C141.3,417.1 142.7,423.5 144.3,429.1 C145.9,434.8 148.5,439.9 150.1,445.6 C151.8,451.3 154.7,457.7 154.0,463.3 C153.3,468.8 148.3,473.5 146.0,479.0 C143.6,484.6 142.6,490.8 140.2,496.6 C137.8,502.4 133.1,511.1 131.7,514.0"/><path d="M77.1,366.8 C79.3,366.6 85.8,365.9 90.2,365.5 C94.5,365.2 98.6,364.8 103.3,364.4 C107.9,364.1 111.6,363.0 118.0,363.3 C124.4,363.6 134.3,365.5 141.9,366.3 C149.5,367.2 156.1,367.6 163.6,368.3 C171.1,369.1 179.8,370.5 187.2,370.9 C194.5,371.2 201.1,370.4 207.6,370.4 C214.2,370.4 220.4,370.9 226.6,370.7 C232.9,370.6 242.0,369.6 245.0,369.3"/><path d="M78.8,364.0 C78.7,365.1 78.9,368.4 78.4,370.4 C77.9,372.3 76.2,373.7 75.8,375.7 C75.4,377.7 75.9,380.5 76.0,382.4 C76.1,384.3 76.3,385.7 76.7,386.9 C77.1,388.1 78.2,388.5 78.5,389.5 C78.8,390.5 78.4,390.9 78.3,392.8 C78.2,394.8 77.6,398.6 77.8,401.3 C78.0,403.9 79.0,406.1 79.4,408.5 C79.9,411.0 80.1,414.8 80.3,416.1"/><path d="M240.1,495.9 C239.7,495.6 238.5,494.8 237.3,493.8 C236.1,492.9 234.0,491.3 232.7,490.3 C231.4,489.4 228.7,489.0 229.2,488.3 C229.7,487.7 234.0,487.4 235.8,486.4 C237.7,485.5 238.4,483.6 240.2,482.5 C242.1,481.4 246.0,479.1 247.0,479.7 C248.0,480.2 246.5,483.8 246.1,485.6 C245.7,487.5 244.9,488.8 244.5,490.8 C244.1,492.8 244.0,496.5 243.9,497.6"/><path d="M87.7,364.8 C89.0,365.2 92.9,366.1 95.5,367.1 C98.0,368.1 100.7,369.6 103.1,370.9 C105.4,372.2 104.0,373.4 109.5,374.9 C115.1,376.4 127.3,378.8 136.2,380.0 C145.1,381.2 154.0,381.0 162.7,382.1 C171.4,383.3 183.0,387.1 188.5,387.1 C194.0,387.0 193.2,383.9 195.6,381.8 C198.0,379.8 200.3,377.1 202.9,374.8 C205.5,372.6 210.0,369.4 211.4,368.3"/><path d="M240.6,373.6 C237.5,375.5 228.7,381.5 222.3,384.9 C215.8,388.4 208.3,391.0 201.9,394.3 C195.5,397.6 190.6,399.2 183.9,404.9 C177.2,410.5 169.1,420.1 161.9,427.9 C154.7,435.7 147.8,444.0 140.7,451.6 C133.6,459.1 124.8,467.3 119.2,473.3 C113.6,479.4 110.9,482.8 107.0,487.9 C103.1,492.9 99.8,498.3 95.8,503.7 C91.9,509.1 85.5,517.4 83.4,520.1"/><path d="M83.3,450.7 C83.3,452.4 83.1,457.6 83.5,461.0 C83.9,464.4 85.2,467.5 85.6,471.1 C86.0,474.7 84.5,480.7 85.9,482.4 C87.3,484.2 91.7,482.1 94.1,481.8 C96.5,481.6 97.8,481.3 100.2,480.9 C102.7,480.5 106.9,477.8 108.9,479.5 C110.8,481.2 110.5,487.0 111.9,491.0 C113.3,495.0 115.7,499.3 117.2,503.6 C118.7,507.9 120.4,514.4 121.0,516.6"/><path d="M243.2,414.1 C242.7,414.0 241.2,413.5 240.2,413.7 C239.2,413.9 238.3,415.0 237.0,415.4 C235.8,415.7 235.7,417.0 232.5,416.0 C229.3,415.0 222.7,411.5 218.0,409.2 C213.4,406.9 209.1,404.8 204.7,402.3 C200.2,399.8 194.8,396.9 191.2,394.2 C187.6,391.4 185.6,388.8 183.2,385.8 C180.8,382.8 179.1,379.4 176.7,376.2 C174.3,372.9 170.0,367.8 168.7,366.1"/><path d="M245.9,494.3 C243.8,493.2 237.8,489.8 233.2,487.4 C228.6,485.0 222.9,482.0 218.4,479.8 C213.8,477.7 211.8,476.4 206.0,474.3 C200.3,472.1 190.9,469.1 183.9,467.0 C176.9,464.9 171.1,463.8 164.1,461.9 C157.1,460.0 148.6,458.3 141.7,455.8 C134.8,453.2 129.2,449.0 122.6,446.5 C116.0,443.9 108.8,443.0 102.1,440.5 C95.4,438.0 85.7,433.0 82.4,431.5"/><path d="M244.4,436.0 C241.4,437.2 232.4,440.7 226.5,443.1 C220.6,445.6 214.7,448.2 209.0,450.8 C203.4,453.5 196.9,456.7 192.6,459.0 C188.2,461.4 186.2,462.9 183.0,465.1 C179.9,467.3 176.5,470.2 173.7,472.3 C170.8,474.3 170.8,474.0 165.9,477.3 C161.1,480.7 151.4,487.7 144.5,492.5 C137.5,497.3 131.1,501.5 124.1,506.0 C117.1,510.5 106.1,517.4 102.4,519.7"/><path d="M240.2,387.6 C237.6,388.2 229.8,389.5 224.8,391.2 C219.9,392.8 215.3,396.1 210.5,397.8 C205.7,399.5 202.6,399.5 196.0,401.2 C189.3,402.9 179.1,405.6 170.8,407.9 C162.5,410.2 154.4,412.6 146.2,415.0 C138.0,417.5 127.8,418.7 121.4,422.7 C115.0,426.7 112.5,433.7 107.6,438.9 C102.7,444.0 96.8,448.2 91.9,453.3 C87.0,458.4 80.6,466.9 78.3,469.6"/><path d="M236.8,515.8 C236.6,513.8 235.5,508.1 235.7,503.9 C235.8,499.7 237.4,494.9 237.6,490.5 C237.8,486.1 236.1,482.3 236.7,477.6 C237.3,472.9 240.2,467.4 241.2,462.3 C242.2,457.1 242.0,452.0 242.9,446.6 C243.9,441.2 246.8,434.1 247.0,430.0 C247.1,425.9 244.6,424.5 244.1,421.8 C243.5,419.2 244.0,416.9 243.6,414.2 C243.1,411.5 241.6,407.2 241.2,405.8"/><path d="M243.8,372.5 C241.3,374.5 233.8,380.7 228.4,384.5 C223.0,388.3 216.7,391.4 211.4,395.3 C206.0,399.1 200.9,405.8 196.3,407.6 C191.6,409.4 188.4,406.5 183.7,405.9 C179.0,405.3 172.8,404.9 168.1,404.0 C163.4,403.1 161.7,399.4 155.5,400.5 C149.2,401.6 138.4,406.8 130.4,410.5 C122.4,414.2 115.4,418.9 107.5,422.8 C99.5,426.6 86.8,431.7 82.7,433.4"/><path d="M242.7,439.9 C241.8,439.4 239.7,438.2 237.4,437.3 C235.1,436.4 231.2,435.3 228.8,434.4 C226.5,433.4 222.7,432.9 223.2,431.7 C223.7,430.4 229.2,428.4 231.8,426.8 C234.4,425.2 236.3,423.5 238.8,422.1 C241.4,420.7 245.9,421.2 247.0,418.6 C248.1,416.1 246.1,410.7 245.7,407.0 C245.3,403.3 245.2,400.1 244.7,396.2 C244.2,392.4 243.1,386.0 242.8,384.0"/><path d="M123.2,517.1 C121.9,516.9 117.9,516.6 115.6,516.2 C113.2,515.9 111.3,515.7 109.0,515.2 C106.7,514.6 104.0,512.9 101.8,512.8 C99.5,512.6 97.6,514.0 95.3,514.3 C93.1,514.6 90.7,514.2 88.4,514.4 C86.0,514.6 82.3,515.0 81.4,515.4 C80.5,515.9 82.6,516.6 83.1,517.1 C83.6,517.7 84.2,518.2 84.4,518.6 C84.6,519.0 84.2,519.3 84.2,519.4"/><path d="M244.9,491.3 C244.2,489.1 241.8,482.7 240.9,478.0 C240.0,473.4 240.5,467.9 239.8,463.4 C239.0,459.0 236.7,454.1 236.3,451.2 C236.0,448.4 236.8,448.3 237.7,446.3 C238.6,444.2 240.8,441.2 241.7,439.0 C242.6,436.7 243.1,434.9 243.2,433.1 C243.3,431.2 242.7,429.8 242.4,427.7 C242.1,425.6 241.6,422.6 241.6,420.3 C241.6,417.9 242.4,414.8 242.5,413.8"/><path d="M138.0,518.4 C136.7,516.5 132.7,510.8 130.0,507.4 C127.4,504.0 124.9,501.2 122.1,498.0 C119.3,494.8 115.2,493.4 113.3,488.0 C111.4,482.7 111.6,473.4 110.7,466.1 C109.9,458.8 109.2,451.4 108.4,444.2 C107.7,437.1 106.7,430.0 106.2,423.3 C105.8,416.6 106.1,410.2 105.7,404.1 C105.3,398.0 103.9,392.8 103.6,386.8 C103.3,380.8 103.9,371.1 103.9,368.0"/><path d="M167.1,513.2 C165.6,509.6 161.0,498.7 158.1,491.4 C155.2,484.1 152.8,476.7 149.7,469.4 C146.6,462.2 141.5,454.3 139.6,447.9 C137.7,441.6 138.7,436.6 138.3,431.3 C138.0,426.0 137.8,421.2 137.7,415.9 C137.6,410.6 140.3,404.0 137.8,399.7 C135.3,395.4 127.7,393.7 122.7,390.2 C117.7,386.8 112.6,382.7 107.8,379.2 C102.9,375.8 96.1,371.1 93.7,369.5"/><path d="M215.2,515.7 C213.7,513.5 208.7,506.6 206.0,502.7 C203.3,498.9 201.5,496.5 198.9,492.6 C196.2,488.8 191.3,486.2 189.9,479.6 C188.4,473.1 189.9,462.3 190.1,453.3 C190.4,444.4 190.9,435.1 191.3,426.0 C191.8,416.9 192.9,404.9 192.7,398.5 C192.5,392.2 191.0,391.7 189.9,388.1 C188.8,384.4 187.5,380.3 186.1,376.7 C184.7,373.0 182.4,368.0 181.7,366.2"/><path d="M93.7,367.8 C96.3,371.0 104.3,380.4 109.5,386.6 C114.8,392.8 119.8,399.1 125.0,405.1 C130.3,411.2 136.3,417.1 140.9,422.7 C145.4,428.4 148.5,434.2 152.2,439.2 C156.0,444.1 159.6,447.5 163.3,452.4 C167.0,457.4 170.4,463.3 174.3,468.9 C178.3,474.4 182.4,480.4 187.1,486.0 C191.8,491.6 197.9,496.5 202.6,502.3 C207.3,508.2 213.0,517.7 215.1,520.8"/><path d="M124.6,520.4 C126.7,518.7 132.9,514.3 137.5,510.5 C142.1,506.7 147.2,501.3 152.1,497.5 C156.9,493.7 163.9,491.9 166.7,487.7 C169.6,483.5 168.0,477.9 169.0,472.4 C170.0,466.9 171.4,460.2 172.7,454.5 C173.9,448.9 173.9,444.9 176.4,438.5 C178.9,432.1 184.1,423.8 187.7,416.0 C191.3,408.2 194.5,399.6 197.9,391.6 C201.3,383.5 206.6,371.8 208.3,367.9"/><path d="M242.9,504.6 C240.8,505.5 235.0,508.2 230.5,510.1 C226.1,512.0 220.7,514.1 216.3,516.0 C211.9,517.8 207.6,521.0 204.0,521.0 C200.5,521.0 197.7,517.2 195.0,515.7 C192.3,514.2 190.4,513.7 187.6,512.2 C184.8,510.6 182.1,506.7 178.2,506.4 C174.2,506.1 169.0,509.6 164.1,510.3 C159.1,511.1 153.4,510.2 148.4,511.0 C143.5,511.7 136.8,514.1 134.5,514.7"/><path d="M78.4,405.3 C81.5,405.3 90.7,405.4 97.0,405.1 C103.3,404.9 110.0,404.4 116.1,403.9 C122.2,403.5 128.8,404.9 133.6,402.4 C138.3,400.0 140.8,393.3 144.5,389.1 C148.3,384.9 152.2,381.5 156.0,377.1 C159.7,372.8 161.8,365.4 167.1,363.0 C172.3,360.6 180.4,362.6 187.4,362.9 C194.4,363.3 201.9,364.8 208.9,365.0 C215.9,365.2 226.0,364.5 229.4,364.3"/><path d="M148.1,519.8 C146.3,518.1 141.0,513.1 136.9,509.5 C132.9,505.8 127.7,501.7 123.8,498.0 C119.8,494.3 115.1,488.9 113.2,487.1 C111.2,485.4 112.7,487.6 112.0,487.6 C111.3,487.5 109.6,487.0 108.8,486.6 C108.0,486.2 109.0,486.7 107.3,485.1 C105.6,483.5 101.8,480.1 98.7,477.2 C95.6,474.3 91.8,470.9 88.8,467.7 C85.7,464.6 81.9,459.9 80.5,458.3"/><path d="M240.3,363.3 C237.3,366.8 228.2,377.4 222.1,384.4 C216.1,391.4 209.9,398.5 204.0,405.3 C198.2,412.0 192.1,419.4 187.1,424.8 C182.1,430.3 178.2,433.4 174.0,437.8 C169.7,442.2 166.0,447.1 161.5,451.3 C157.1,455.6 152.8,458.1 147.4,463.2 C142.1,468.4 135.6,476.3 129.7,482.4 C123.7,488.4 117.6,493.5 111.8,499.5 C106.0,505.5 97.9,515.2 95.1,518.3"/><path d="M154.4,515.6 C153.5,511.6 150.6,499.4 149.1,491.8 C147.6,484.2 146.6,477.4 145.2,470.1 C143.9,462.8 141.2,452.2 141.1,447.9 C140.9,443.7 143.4,445.7 144.5,444.7 C145.6,443.7 147.0,443.1 147.8,442.0 C148.7,441.0 151.3,442.6 149.6,438.3 C148.0,434.1 141.2,423.9 137.9,416.5 C134.6,409.0 133.1,401.4 129.8,393.7 C126.5,386.1 120.0,374.4 118.0,370.5"/><path d="M233.0,517.9 C231.1,515.9 225.5,509.4 221.2,505.5 C216.8,501.6 211.5,498.2 207.0,494.5 C202.5,490.9 200.4,486.0 194.3,483.9 C188.1,481.7 178.5,482.4 170.2,481.7 C161.9,481.0 152.9,480.2 144.3,479.8 C135.7,479.3 124.6,479.9 118.6,479.0 C112.5,478.1 111.9,476.0 107.9,474.3 C104.0,472.6 99.0,470.2 94.9,468.6 C90.7,466.9 85.2,465.2 83.2,464.5"/><path d="M240.2,401.7 C239.0,403.9 235.5,410.5 233.4,415.0 C231.3,419.5 229.5,424.0 227.6,428.5 C225.6,433.0 222.0,439.8 221.7,441.8 C221.4,443.9 223.9,441.1 225.8,441.0 C227.7,440.9 231.3,441.3 233.2,441.4 C235.1,441.4 236.2,438.8 237.2,441.4 C238.3,444.0 238.8,451.2 239.5,457.0 C240.2,462.7 240.5,469.9 241.3,475.6 C242.1,481.3 243.7,488.5 244.2,491.1"/><path d="M242.9,371.4 C243.2,373.5 244.1,379.7 244.5,384.3 C244.9,389.0 245.0,394.5 245.5,399.2 C245.9,403.8 246.6,409.4 247.0,412.3 C247.4,415.2 247.8,415.2 247.7,416.5 C247.7,417.9 247.0,419.2 246.8,420.2 C246.7,421.2 247.5,421.1 247.0,422.7 C246.5,424.4 244.6,427.8 243.8,429.9 C243.0,432.0 242.6,433.2 242.1,435.2 C241.6,437.2 241.0,440.9 240.8,442.0"/><path d="M82.2,429.7 C85.1,427.8 94.1,422.0 99.6,418.6 C105.1,415.2 109.8,412.4 115.4,409.2 C121.0,405.9 127.2,402.0 133.1,399.1 C139.0,396.2 144.4,394.0 150.8,391.9 C157.2,389.7 165.0,388.4 171.4,386.1 C177.8,383.9 183.1,380.5 189.1,378.3 C195.1,376.0 200.9,373.9 207.4,372.6 C213.8,371.3 221.4,371.7 227.8,370.4 C234.3,369.0 243.0,365.7 246.0,364.7"/><path d="M245.9,400.4 C242.2,399.7 231.0,398.0 223.5,396.5 C216.0,395.0 208.2,393.0 200.9,391.4 C193.6,389.8 185.9,387.4 179.7,386.8 C173.6,386.3 169.8,388.0 164.1,388.1 C158.3,388.2 151.0,387.2 145.2,387.4 C139.4,387.6 134.5,390.1 129.4,389.1 C124.3,388.2 119.6,384.1 114.4,381.7 C109.3,379.4 103.6,377.2 98.5,374.9 C93.3,372.6 86.0,369.1 83.5,367.9"/><path d="M239.3,401.1 C237.4,402.5 231.5,406.9 228.2,409.5 C224.8,412.2 222.3,414.2 219.2,416.7 C216.1,419.2 213.8,419.7 209.5,424.5 C205.2,429.4 199.0,438.8 193.4,445.6 C187.8,452.4 181.2,458.6 175.7,465.2 C170.2,471.9 165.4,480.5 160.4,485.6 C155.5,490.6 150.6,492.4 146.2,495.7 C141.7,498.9 138.0,501.6 133.8,505.1 C129.6,508.6 123.1,514.7 121.0,516.6"/><path d="M79.5,379.2 C82.6,379.4 92.4,379.5 98.1,380.1 C103.8,380.7 107.9,382.5 113.5,383.0 C119.1,383.6 125.1,383.0 131.7,383.4 C138.4,383.7 145.6,384.4 153.2,384.9 C160.7,385.5 169.5,386.2 177.2,386.8 C184.8,387.4 193.5,389.3 199.1,388.5 C204.6,387.6 206.7,384.5 210.5,382.0 C214.3,379.5 218.0,376.3 222.0,373.6 C225.9,370.9 232.1,367.2 234.1,366.0"/><path d="M78.0,366.0 C79.4,365.9 83.9,365.1 86.2,365.2 C88.6,365.2 89.8,366.4 92.1,366.5 C94.3,366.6 97.5,366.0 99.9,365.9 C102.4,365.7 104.7,365.5 106.9,365.7 C109.0,365.8 110.8,366.2 113.0,366.8 C115.3,367.3 117.9,368.9 120.4,368.9 C122.9,369.0 125.4,367.2 128.0,367.1 C130.6,366.9 132.3,367.7 136.0,368.0 C139.7,368.3 146.1,368.5 150.5,368.6 C154.9,368.7 158.1,369.0 162.5,368.7 C167.0,368.5 172.5,367.6 177.3,367.3 C182.0,367.0 186.5,366.5 190.9,366.7 C195.2,366.9 199.0,368.2 203.4,368.5 C207.9,368.8 213.1,368.9 217.6,368.4 C222.1,368.0 225.8,366.3 230.4,366.0 C235.0,365.8 242.6,366.8 245.0,367.0"/><path d="M79.0,519.0 C81.1,519.1 86.8,519.9 91.4,519.6 C96.0,519.4 102.1,517.3 106.7,517.4 C111.3,517.4 114.3,519.3 118.9,519.7 C123.4,520.1 129.4,519.9 134.0,519.8 C138.6,519.6 142.0,519.0 146.4,518.8 C150.8,518.7 155.5,519.2 160.4,519.2 C165.2,519.1 170.9,518.7 175.6,518.8 C180.2,518.8 183.8,520.0 188.2,519.7 C192.5,519.4 196.8,517.4 201.6,516.9 C206.4,516.5 212.5,516.8 217.1,516.9 C221.6,517.1 224.5,517.8 229.0,518.0 C233.4,518.1 241.5,518.0 244.0,518.0"/><path d="M79.0,365.0 C79.1,367.3 79.3,374.9 79.4,379.0 C79.4,383.1 79.5,385.1 79.5,389.4 C79.5,393.6 79.5,399.9 79.2,404.5 C78.9,409.2 77.7,413.1 77.5,417.1 C77.3,421.1 77.9,424.3 77.9,428.6 C77.8,432.8 76.9,438.2 77.0,442.8 C77.1,447.4 78.3,452.1 78.5,456.0 C78.7,460.0 78.4,462.7 78.2,466.6 C78.1,470.6 77.2,475.5 77.4,479.8 C77.6,484.1 79.6,488.1 79.5,492.4 C79.4,496.8 77.1,501.3 76.8,505.7 C76.6,510.2 77.8,516.8 78.0,519.0"/><path d="M245.0,365.0 C244.7,367.1 243.2,373.2 243.2,377.5 C243.3,381.9 245.3,387.2 245.3,391.3 C245.4,395.4 243.6,397.8 243.4,402.1 C243.3,406.4 244.5,412.5 244.6,417.1 C244.8,421.6 244.1,425.5 244.4,429.5 C244.6,433.4 246.3,436.4 246.1,440.6 C246.0,444.8 243.8,450.0 243.5,454.8 C243.2,459.6 244.3,464.9 244.5,469.3 C244.6,473.7 244.6,476.9 244.5,481.1 C244.4,485.4 243.7,490.4 243.8,494.5 C244.0,498.5 245.4,501.3 245.4,505.3 C245.5,509.4 244.2,516.7 244.0,519.0"/><path d="M78.0,368.5 C79.0,368.4 81.7,367.8 84.1,368.1 C86.4,368.4 89.6,370.0 92.1,370.3 C94.6,370.6 96.5,369.7 99.0,369.8 C101.6,370.0 105.1,370.9 107.4,371.1 C109.8,371.3 110.8,371.2 113.1,370.9 C115.4,370.5 118.3,369.0 121.0,369.2 C123.7,369.3 126.6,371.4 129.1,371.7 C131.6,372.0 132.5,371.4 136.0,371.0 C139.5,370.6 145.1,369.7 149.9,369.6 C154.7,369.5 160.1,370.2 164.7,370.5 C169.2,370.8 173.1,371.5 177.3,371.5 C181.5,371.5 185.4,370.8 189.8,370.5 C194.2,370.1 199.2,369.3 203.6,369.5 C208.1,369.6 211.9,370.9 216.4,371.3 C221.0,371.6 226.3,371.8 231.1,371.7 C235.9,371.5 242.7,370.7 245.0,370.5"/><path d="M79.0,516.5 C81.1,516.4 87.0,515.7 91.4,515.9 C95.9,516.1 100.6,517.5 105.5,517.8 C110.5,518.1 116.4,518.1 121.1,517.7 C125.9,517.3 129.6,515.6 134.0,515.3 C138.4,515.0 143.2,515.4 147.5,515.7 C151.8,515.9 155.6,516.8 160.1,516.7 C164.6,516.6 169.8,515.1 174.6,515.3 C179.4,515.5 184.1,517.6 189.0,517.8 C193.9,518.0 199.7,516.5 204.1,516.4 C208.5,516.3 211.1,517.3 215.3,517.3 C219.5,517.3 224.3,516.7 229.1,516.6 C233.9,516.5 241.5,516.5 244.0,516.5"/><path d="M81.5,365.0 C81.3,367.4 80.1,375.0 80.1,379.3 C80.1,383.5 81.3,386.4 81.3,390.5 C81.3,394.5 80.2,399.4 80.3,403.7 C80.5,407.9 82.3,411.9 82.3,416.1 C82.2,420.4 79.9,425.0 79.8,429.2 C79.7,433.5 81.6,437.2 81.8,441.6 C81.9,446.1 81.1,451.6 80.7,456.1 C80.4,460.6 79.8,464.7 79.6,468.6 C79.5,472.5 80.3,475.1 80.1,479.4 C79.9,483.8 78.6,490.2 78.5,494.7 C78.4,499.1 79.4,501.9 79.6,506.0 C79.7,510.1 79.5,516.8 79.5,519.0"/><path d="M242.5,365.0 C242.8,367.2 244.1,374.0 244.0,378.1 C243.9,382.3 242.3,385.7 242.2,389.8 C242.0,393.9 243.1,397.9 243.0,402.5 C242.9,407.1 241.9,413.2 241.7,417.4 C241.6,421.6 242.3,423.5 242.1,427.7 C241.9,431.9 240.3,438.5 240.3,442.8 C240.3,447.0 241.8,449.3 242.2,453.2 C242.7,457.1 243.6,461.9 243.2,466.2 C242.7,470.5 240.1,474.3 239.7,478.9 C239.2,483.5 240.2,489.5 240.6,493.8 C241.0,498.1 242.1,500.6 242.1,504.8 C242.1,509.0 240.8,516.6 240.5,519.0"/><path d="M78.0,371.0 C79.3,370.9 83.4,370.2 85.8,370.2 C88.3,370.2 90.5,370.9 92.7,371.0 C95.0,371.1 96.8,370.7 99.3,370.8 C101.8,370.8 105.0,371.1 107.7,371.4 C110.3,371.6 112.7,372.0 115.0,372.4 C117.4,372.8 119.5,373.3 121.8,373.7 C124.1,374.1 126.3,374.7 128.7,374.7 C131.1,374.8 132.3,374.2 136.0,374.0 C139.7,373.8 146.4,373.2 150.9,373.3 C155.3,373.5 158.6,375.1 162.8,375.1 C166.9,375.2 171.2,373.7 175.8,373.8 C180.4,373.8 185.7,375.3 190.2,375.4 C194.8,375.5 198.3,374.6 203.0,374.5 C207.7,374.3 214.0,374.5 218.5,374.7 C223.0,374.8 225.5,375.4 229.9,375.3 C234.3,375.2 242.5,374.2 245.0,374.0"/><path d="M79.0,514.0 C81.2,514.2 87.5,515.2 92.2,515.1 C96.9,515.1 102.1,514.0 107.0,513.9 C111.8,513.9 116.8,514.6 121.3,514.8 C125.7,515.0 129.1,515.0 133.5,515.0 C137.9,515.1 143.0,515.0 147.8,515.1 C152.5,515.1 157.4,515.5 161.8,515.4 C166.3,515.3 170.0,514.5 174.2,514.6 C178.5,514.6 182.6,515.3 187.5,515.5 C192.4,515.7 199.0,515.9 203.6,515.8 C208.2,515.7 210.7,515.3 215.1,514.9 C219.6,514.6 225.4,513.8 230.2,513.8 C235.0,513.8 241.7,514.8 244.0,515.0"/><path d="M84.0,365.0 C83.8,367.4 82.8,375.1 82.9,379.3 C83.0,383.4 84.3,385.8 84.6,389.9 C84.8,394.0 84.6,399.5 84.2,404.0 C83.9,408.4 83.0,412.7 82.7,416.8 C82.3,420.9 82.2,424.2 81.9,428.5 C81.7,432.8 80.9,438.0 81.0,442.5 C81.1,447.0 82.3,451.4 82.5,455.6 C82.7,459.7 82.2,463.2 82.0,467.5 C81.8,471.7 81.3,476.8 81.2,481.2 C81.0,485.6 81.0,489.5 81.1,493.6 C81.3,497.8 82.0,501.8 82.0,506.0 C82.0,510.2 81.2,516.8 81.0,519.0"/><path d="M240.0,365.0 C240.1,366.8 240.7,371.6 240.5,376.1 C240.3,380.6 239.0,387.8 238.5,392.0 C238.1,396.3 238.1,397.5 237.8,401.7 C237.6,406.0 237.2,412.9 237.1,417.4 C236.9,421.9 237.0,424.7 237.2,429.0 C237.4,433.3 238.1,438.9 238.3,443.2 C238.4,447.5 238.5,450.6 238.2,454.9 C237.8,459.2 236.0,464.5 236.1,468.8 C236.2,473.2 238.4,476.8 238.8,481.0 C239.3,485.2 239.0,489.4 238.8,493.8 C238.7,498.2 238.4,503.4 238.1,507.6 C237.8,511.8 237.2,517.1 237.0,519.0"/><path d="M90.8,363.0 C91.9,366.6 98.9,384.7 97.2,384.7 C95.6,384.7 83.0,366.6 80.8,363.0 C78.7,359.4 83.5,363.4 84.2,363.4 C84.8,363.4 85.3,363.2 84.9,363.1 C84.4,363.1 81.0,362.2 81.3,363.0 C81.5,363.8 84.3,367.0 86.3,368.2 C88.3,369.4 94.5,367.7 93.5,370.3 C92.4,372.9 79.3,382.7 80.0,383.9 C80.6,385.1 97.3,379.7 97.5,377.5 C97.7,375.3 83.0,371.8 81.2,370.7 C79.4,369.5 85.9,370.8 86.8,370.8"/><path d="M227.5,374.1 C230.0,374.9 239.6,378.1 242.4,378.9 C245.1,379.6 244.2,378.1 244.2,378.7 C244.2,379.2 242.1,382.0 242.3,382.4 C242.4,382.8 246.5,381.6 245.3,380.9 C244.2,380.2 236.2,377.9 235.3,378.2 C234.5,378.5 239.2,383.4 240.2,382.7 C241.2,381.9 242.8,375.7 241.3,373.9 C239.7,372.0 232.4,370.8 230.8,371.5 C229.3,372.3 230.1,379.1 232.0,378.6 C233.9,378.2 241.4,368.3 242.4,368.8 C243.3,369.4 238.5,379.6 237.7,381.8"/><path d="M82.2,495.7 C83.4,496.9 90.0,502.2 89.0,503.1 C87.9,504.0 78.2,502.1 76.0,501.1 C73.9,500.1 74.7,498.0 76.0,497.2 C77.3,496.3 83.9,494.1 83.9,495.9 C83.9,497.8 73.5,505.0 76.0,508.4 C78.5,511.8 98.0,514.6 98.8,516.4 C99.7,518.1 84.9,522.1 81.1,518.9 C77.3,515.7 76.9,501.3 76.0,497.2 C75.1,493.2 73.9,491.8 76.0,494.6 C78.1,497.5 87.3,510.7 88.9,514.2 C90.4,517.7 86.0,515.3 85.4,515.5"/><path d="M231.4,518.4 C232.3,516.4 238.0,508.8 236.5,506.2 C235.0,503.6 223.4,501.1 222.5,502.6 C221.6,504.2 230.8,516.0 231.1,515.3 C231.4,514.6 222.3,502.4 224.3,498.4 C226.4,494.4 241.5,491.7 243.1,491.3 C244.8,490.9 235.0,493.2 234.2,496.0 C233.4,498.8 240.6,505.3 238.3,508.0 C235.9,510.7 221.4,513.8 220.0,512.4 C218.6,510.9 226.0,499.0 230.0,499.3 C234.1,499.5 244.9,512.0 244.4,513.9 C243.9,515.8 229.8,511.2 226.9,510.7"/><path d="M213.0,491.5 C212.8,491.9 208.8,493.9 212.0,494.4 C215.2,494.8 232.2,494.8 232.0,494.3 C231.8,493.8 212.8,492.1 211.0,491.3 C209.2,490.5 220.8,490.6 221.3,489.6 C221.7,488.7 213.7,487.2 213.6,485.7 C213.5,484.2 218.7,480.8 220.8,480.7 C222.9,480.6 226.8,484.8 226.2,484.8 C225.5,484.9 218.5,478.4 217.0,481.2 C215.5,483.9 217.3,501.3 217.3,501.3 C217.3,501.4 216.8,481.2 217.0,481.3 C217.2,481.4 218.1,498.3 218.3,501.7"/><path d="M77.4,440.5 C77.7,441.4 78.3,446.6 79.3,445.9 C80.3,445.3 81.6,437.5 83.4,436.6 C85.1,435.6 89.2,439.3 89.8,440.2 C90.4,441.2 87.0,443.0 87.0,442.2 C87.0,441.5 91.2,436.4 89.9,435.9 C88.7,435.5 81.3,437.5 79.6,439.6 C78.0,441.6 79.5,448.0 80.2,448.2 C81.0,448.3 83.4,440.5 84.0,440.5 C84.7,440.6 83.9,448.3 84.1,448.5 C84.3,448.8 84.7,442.8 85.1,442.2 C85.5,441.6 86.3,444.4 86.5,444.8"/><path d="M237.1,451.5 C236.2,451.6 230.1,452.2 231.6,451.8 C233.2,451.4 245.8,448.6 246.6,449.1 C247.4,449.7 237.3,455.5 236.3,455.1 C235.3,454.6 240.5,446.1 240.8,446.5 C241.1,446.9 239.7,457.9 237.9,457.7 C236.1,457.5 228.8,444.6 229.8,445.2 C230.9,445.7 244.0,461.2 244.1,461.1 C244.2,461.0 230.8,446.7 230.4,444.6 C229.9,442.6 239.6,448.8 241.5,448.7 C243.5,448.5 242.7,444.1 242.1,443.7 C241.6,443.3 238.8,445.8 238.1,446.2"/></g>
<text transform="translate(161.5,350) scale(0.86,1)" text-anchor="middle" font-size="20" fill="#1a1a1a">CON</text>
<rect x="261" y="359.5" width="176.5" height="165.5" fill="none" stroke="#3a3a3a" stroke-width="1.8"/>
<g fill="none" stroke="#1a1a1a" stroke-width="1.0" stroke-linejoin="round"><path d="M265.6,362.7 C266.8,362.8 270.1,363.3 272.6,363.6 C275.2,363.9 277.9,364.3 280.7,364.4 C283.5,364.4 286.6,364.2 289.3,364.0 C292.0,363.7 294.5,363.0 296.8,362.9 C299.2,362.9 300.9,363.6 303.3,363.7 C305.7,363.7 308.8,363.2 311.3,363.3 C313.8,363.5 315.6,364.6 318.5,364.8 C321.4,365.0 325.5,364.3 328.7,364.6 C331.9,364.8 334.4,366.4 337.5,366.4 C340.5,366.5 343.9,364.9 347.0,364.9 C350.1,365.0 353.2,366.7 355.8,366.9 C358.4,367.1 359.7,366.5 362.7,366.3 C365.7,366.1 370.4,365.7 373.6,365.6 C376.8,365.5 379.4,366.0 381.9,365.9 C384.5,365.7 386.4,364.6 388.8,364.7 C391.3,364.9 394.2,366.9 396.8,366.9 C399.4,366.9 401.7,365.0 404.3,364.7 C406.9,364.4 409.9,365.0 412.5,365.1 C415.2,365.1 417.7,365.2 420.1,365.0 C422.4,364.7 424.2,363.6 426.6,363.6 C429.1,363.5 433.5,364.6 434.8,364.8"/><path d="M265.6,514.0 C267.5,514.0 273.7,514.4 277.1,514.3 C280.5,514.3 282.6,513.8 286.0,513.7 C289.4,513.5 293.7,513.4 297.6,513.5 C301.4,513.6 305.7,514.3 309.1,514.2 C312.5,514.1 314.5,513.1 317.9,512.7 C321.3,512.4 325.8,512.0 329.4,512.1 C333.0,512.1 335.4,512.9 339.6,512.9 C343.8,512.9 350.0,512.0 354.5,512.0 C359.1,512.0 362.5,513.0 366.8,513.1 C371.2,513.3 376.1,512.4 380.5,512.9 C384.9,513.4 388.5,516.0 393.2,516.2 C397.9,516.4 403.9,514.7 408.5,514.3 C413.2,514.0 416.7,513.9 421.1,514.2 C425.5,514.5 432.6,515.8 434.8,516.1"/><path d="M266.6,362.7 C266.4,364.3 265.2,368.7 265.4,372.0 C265.5,375.4 267.8,379.3 267.8,382.7 C267.8,386.0 265.9,388.5 265.4,392.2 C264.9,396.0 264.7,401.4 264.9,405.3 C265.1,409.1 266.3,412.0 266.6,415.3 C266.9,418.7 266.9,422.0 266.7,425.2 C266.6,428.4 265.9,431.3 265.6,434.6 C265.3,438.0 265.1,441.5 265.0,445.1 C264.9,448.7 265.2,452.2 265.2,456.3 C265.2,460.4 264.9,465.9 265.1,469.7 C265.2,473.6 266.0,475.2 266.2,479.1 C266.3,483.0 265.5,488.9 265.7,493.1 C266.0,497.3 267.4,500.6 267.5,504.2 C267.7,507.9 266.8,513.2 266.6,515.0"/><path d="M434.8,364.8 C434.9,366.7 435.3,372.8 435.2,376.0 C435.2,379.3 434.6,381.4 434.4,384.4 C434.2,387.4 434.5,390.8 434.2,394.1 C433.8,397.3 432.4,400.7 432.2,404.0 C432.1,407.2 433.3,410.2 433.2,413.5 C433.1,416.9 431.9,420.4 431.8,423.9 C431.7,427.4 432.6,430.7 432.7,434.6 C432.9,438.6 432.5,443.5 432.6,447.5 C432.7,451.5 433.0,455.0 433.3,458.6 C433.6,462.3 434.3,465.8 434.4,469.4 C434.4,473.0 433.5,476.4 433.4,480.3 C433.3,484.1 433.3,488.4 433.7,492.5 C434.1,496.5 435.4,500.7 435.6,504.4 C435.8,508.2 435.0,513.3 434.8,515.0"/><path d="M265.6,364.4 C266.7,364.3 270.2,363.5 272.5,363.6 C274.8,363.7 276.7,365.1 279.2,365.1 C281.7,365.1 284.8,363.7 287.4,363.6 C290.1,363.5 292.7,364.1 295.2,364.5 C297.7,365.0 299.8,366.0 302.5,366.1 C305.1,366.2 308.5,365.2 311.2,365.2 C313.8,365.2 315.6,366.1 318.5,366.1 C321.3,366.1 325.0,365.4 328.2,365.3 C331.5,365.1 334.9,364.8 337.9,365.1 C340.8,365.3 343.0,366.7 346.0,366.9 C348.9,367.1 352.3,366.3 355.4,366.3 C358.6,366.3 361.9,367.0 364.9,366.8 C367.9,366.6 370.6,365.2 373.5,365.2 C376.3,365.1 379.4,366.3 381.9,366.5 C384.5,366.7 386.0,366.5 388.6,366.3 C391.1,366.1 394.4,365.2 397.2,365.1 C400.0,365.0 402.9,365.6 405.3,365.8 C407.8,366.0 409.5,366.3 412.1,366.2 C414.7,366.2 418.2,365.4 420.7,365.5 C423.3,365.5 425.1,366.2 427.5,366.3 C429.8,366.3 433.6,365.9 434.8,365.9"/><path d="M265.6,515.0 C267.4,514.9 273.2,514.4 276.6,514.3 C280.0,514.3 282.6,514.6 286.1,514.7 C289.6,514.8 294.2,515.2 297.6,515.1 C301.1,515.1 303.3,514.7 306.8,514.4 C310.3,514.1 315.1,513.3 318.7,513.5 C322.2,513.7 324.4,515.5 327.9,515.6 C331.4,515.7 335.6,514.4 339.6,514.2 C343.6,514.0 347.4,514.5 351.8,514.3 C356.2,514.2 361.6,513.2 366.2,513.1 C370.9,513.0 375.2,513.1 379.7,513.6 C384.3,514.1 389.3,515.9 393.7,516.0 C398.2,516.2 401.7,514.6 406.4,514.5 C411.1,514.4 417.1,515.3 421.8,515.5 C426.6,515.6 432.7,515.3 434.8,515.2"/><path d="M268.3,362.7 C268.0,364.3 266.8,368.5 266.7,372.2 C266.5,375.8 267.1,381.0 267.2,384.4 C267.3,387.9 267.4,389.6 267.4,392.8 C267.4,396.0 267.5,400.1 267.3,403.8 C267.1,407.4 266.0,411.2 266.1,414.6 C266.1,418.0 267.4,420.9 267.5,424.3 C267.6,427.6 266.7,430.9 266.6,434.6 C266.5,438.4 266.6,443.0 266.9,446.9 C267.2,450.8 268.6,454.2 268.4,457.9 C268.2,461.6 265.9,465.4 265.8,469.1 C265.7,472.8 267.5,476.3 267.8,480.1 C268.2,483.8 268.1,487.7 268.1,491.7 C268.1,495.6 268.1,500.0 268.1,503.9 C268.0,507.8 267.9,513.2 267.9,515.0"/><path d="M433.6,364.8 C433.6,366.7 433.8,372.6 433.8,376.1 C433.9,379.5 433.8,382.4 433.7,385.4 C433.7,388.4 433.6,390.6 433.5,393.9 C433.3,397.2 433.4,401.5 432.9,405.1 C432.5,408.7 431.3,412.2 431.0,415.4 C430.8,418.7 431.2,421.4 431.3,424.6 C431.4,427.8 431.7,430.9 431.9,434.6 C432.0,438.3 432.0,443.0 432.2,446.8 C432.4,450.6 432.9,453.8 433.2,457.5 C433.5,461.2 434.0,464.8 434.0,468.9 C434.0,473.0 433.4,478.1 433.2,482.1 C433.0,486.0 432.4,489.3 432.7,492.7 C433.0,496.1 434.7,498.6 434.9,502.3 C435.1,506.0 434.0,512.9 433.8,515.0"/><path d="M265.6,366.1 C267.0,366.2 271.4,366.5 274.0,366.7 C276.5,366.9 278.3,367.5 280.8,367.3 C283.4,367.1 286.8,365.6 289.3,365.6 C291.8,365.5 293.3,366.7 295.8,367.2 C298.2,367.6 301.3,368.2 304.0,368.4 C306.6,368.5 309.4,368.3 311.8,368.2 C314.2,368.0 316.1,367.5 318.5,367.3 C320.9,367.2 323.0,366.9 326.2,367.1 C329.5,367.3 334.5,368.7 337.9,368.6 C341.2,368.6 343.5,367.0 346.4,366.8 C349.4,366.5 352.6,367.2 355.6,367.3 C358.5,367.5 361.2,367.5 364.3,367.6 C367.4,367.7 371.0,367.9 374.0,367.8 C376.9,367.7 379.1,367.3 381.9,367.1 C384.8,367.0 388.4,367.0 390.9,367.1 C393.4,367.2 394.7,367.8 397.0,367.5 C399.4,367.3 402.1,365.9 404.8,365.7 C407.6,365.5 411.1,366.5 413.6,366.5 C416.0,366.5 417.6,365.3 419.7,365.6 C421.9,365.9 423.8,368.0 426.4,368.2 C428.9,368.5 433.4,367.1 434.8,366.9"/><path d="M265.6,516.1 C267.2,516.0 271.8,515.6 275.5,515.4 C279.2,515.2 284.0,515.0 287.7,515.1 C291.4,515.2 294.3,515.9 297.8,516.0 C301.4,516.1 305.7,515.8 309.1,515.7 C312.4,515.5 314.7,515.2 318.0,514.9 C321.2,514.6 325.0,514.0 328.6,514.0 C332.3,514.1 335.7,515.4 339.6,515.5 C343.5,515.5 347.7,514.2 352.1,514.3 C356.5,514.3 361.3,515.9 366.3,516.0 C371.2,516.0 377.3,514.9 381.8,514.6 C386.3,514.3 388.9,514.2 393.3,514.2 C397.7,514.2 403.6,514.6 408.0,514.6 C412.5,514.7 415.6,514.7 420.1,514.6 C424.6,514.6 432.4,514.4 434.8,514.4"/><path d="M270.0,362.7 C269.9,364.2 269.0,368.7 269.0,371.9 C269.0,375.1 270.2,378.3 270.2,382.1 C270.2,385.8 269.1,390.5 268.8,394.3 C268.6,398.1 269.0,401.4 268.8,404.9 C268.6,408.4 268.2,412.0 267.8,415.4 C267.5,418.9 266.7,422.3 266.7,425.5 C266.6,428.7 267.5,431.5 267.7,434.6 C267.9,437.8 267.7,440.6 267.7,444.6 C267.6,448.7 267.2,454.9 267.4,459.1 C267.6,463.3 268.6,466.5 269.0,469.8 C269.3,473.1 269.6,475.4 269.5,479.1 C269.3,482.8 268.1,487.7 268.2,492.0 C268.3,496.2 270.0,500.9 270.2,504.8 C270.4,508.6 269.3,513.3 269.2,515.0"/><path d="M432.3,364.8 C432.1,366.7 431.1,373.0 431.1,376.2 C431.0,379.5 432.2,381.1 432.1,384.2 C432.0,387.2 430.6,391.1 430.5,394.5 C430.4,397.9 431.6,401.0 431.6,404.6 C431.7,408.2 430.9,412.8 430.8,416.0 C430.7,419.3 431.1,421.0 431.1,424.1 C431.2,427.2 430.9,431.1 431.0,434.6 C431.2,438.2 432.1,441.7 432.1,445.4 C432.2,449.0 431.5,452.2 431.3,456.4 C431.1,460.6 430.8,466.5 431.0,470.6 C431.2,474.6 432.1,477.0 432.4,480.6 C432.7,484.3 432.7,488.8 432.8,492.6 C432.8,496.3 432.6,499.4 432.6,503.1 C432.5,506.9 432.7,513.1 432.7,515.0"/><path d="M265.6,367.8 C266.7,367.6 269.7,366.5 272.1,366.5 C274.4,366.5 277.1,367.4 279.6,367.7 C282.0,368.1 284.2,368.7 286.8,368.7 C289.4,368.6 292.6,367.5 295.3,367.5 C298.0,367.4 300.3,368.0 302.8,368.4 C305.3,368.7 307.4,369.5 310.0,369.6 C312.7,369.6 315.6,369.0 318.5,368.6 C321.4,368.2 324.7,367.0 327.5,367.2 C330.3,367.4 332.3,369.5 335.4,369.5 C338.4,369.6 342.6,368.1 345.9,367.6 C349.2,367.2 352.2,366.5 355.4,366.8 C358.6,367.1 362.0,369.4 365.0,369.3 C368.0,369.3 370.5,366.8 373.4,366.5 C376.2,366.3 379.3,367.4 381.9,367.8 C384.6,368.2 386.7,368.9 389.3,368.8 C391.8,368.7 394.9,367.3 397.3,367.0 C399.8,366.6 401.3,366.6 403.8,366.6 C406.3,366.6 409.6,366.5 412.2,366.9 C414.9,367.4 416.9,368.9 419.6,369.1 C422.3,369.3 425.9,368.1 428.5,367.9 C431.0,367.7 433.8,368.0 434.8,368.0"/><path d="M265.6,517.1 C267.5,517.0 273.3,515.8 277.0,516.0 C280.8,516.2 284.7,517.8 288.1,518.1 C291.5,518.5 294.1,518.1 297.3,518.1 C300.5,518.2 303.8,518.3 307.3,518.3 C310.7,518.3 314.1,518.2 317.9,518.1 C321.7,518.1 326.4,518.3 330.1,518.1 C333.7,517.9 335.7,517.2 339.6,516.7 C343.6,516.2 349.5,515.1 353.9,515.0 C358.3,514.9 361.5,516.1 366.2,516.3 C370.8,516.4 377.2,516.2 381.7,515.9 C386.1,515.6 388.4,514.9 392.7,514.5 C396.9,514.0 402.5,513.5 407.2,513.5 C411.8,513.4 415.8,514.0 420.4,514.1 C425.0,514.1 432.4,513.6 434.8,513.6"/><path d="M271.7,362.7 C271.6,364.3 271.1,368.6 270.9,372.3 C270.7,375.9 270.6,380.9 270.6,384.6 C270.6,388.3 270.6,391.3 270.7,394.3 C270.9,397.2 271.3,399.3 271.3,402.4 C271.3,405.5 271.2,409.1 270.7,412.9 C270.2,416.6 268.6,421.4 268.3,425.1 C267.9,428.7 268.5,431.1 268.8,434.6 C269.0,438.2 269.7,442.5 269.8,446.5 C269.8,450.4 269.2,454.7 269.2,458.3 C269.1,461.9 269.3,464.6 269.3,468.2 C269.2,471.7 269.0,475.2 268.9,479.4 C268.8,483.6 268.1,489.5 268.6,493.4 C269.0,497.4 271.2,499.5 271.6,503.1 C271.9,506.7 270.6,513.0 270.4,515.0"/><path d="M431.0,364.8 C431.0,366.4 430.6,370.8 430.7,374.1 C430.8,377.4 431.8,381.1 431.6,384.7 C431.5,388.4 429.7,392.8 429.7,395.9 C429.7,399.0 431.7,400.4 431.8,403.3 C431.9,406.3 430.5,410.4 430.3,413.8 C430.1,417.3 430.7,420.8 430.7,424.2 C430.7,427.7 430.3,431.1 430.2,434.6 C430.0,438.2 429.7,441.7 429.8,445.5 C429.9,449.4 430.8,453.6 430.9,457.6 C431.1,461.6 430.8,465.6 430.8,469.6 C430.8,473.7 430.9,478.0 431.0,481.9 C431.0,485.8 430.8,489.3 431.1,492.9 C431.4,496.6 432.6,500.2 432.8,503.9 C432.9,507.6 431.9,513.2 431.7,515.0"/><path d="M267.7,371.2 C269.8,371.1 276.3,371.1 280.6,370.7 C284.9,370.2 289.3,369.0 293.5,368.4 C297.7,367.9 301.5,367.5 305.6,367.3 C309.8,367.0 315.2,367.0 318.5,366.9 C321.8,366.9 322.9,367.2 325.5,367.0 C328.0,366.9 331.4,366.2 334.0,365.9 C336.6,365.6 338.6,365.2 341.3,365.2 C344.0,365.2 348.7,365.8 350.2,365.9"/><path d="M267.7,388.1 C269.4,387.9 274.8,387.0 278.1,386.7 C281.4,386.4 284.2,386.6 287.7,386.3 C291.1,386.1 295.3,385.7 298.7,385.3 C302.0,384.9 304.7,384.7 307.9,383.9 C311.1,383.0 314.5,381.8 317.9,380.3 C321.3,378.9 324.8,376.8 328.4,375.0 C332.1,373.3 336.3,371.5 339.9,369.9 C343.6,368.4 348.5,366.5 350.2,365.9"/><path d="M271.9,407.1 C275.3,405.4 285.7,400.6 292.3,397.0 C298.9,393.5 305.0,389.3 311.5,385.8 C318.0,382.2 324.9,379.1 331.3,375.8 C337.8,372.4 347.1,367.5 350.2,365.9"/><path d="M269.8,377.5 C271.0,377.3 274.7,377.0 276.9,376.4 C279.2,375.8 281.0,374.3 283.2,373.9 C285.4,373.4 287.7,374.2 290.1,373.7 C292.5,373.3 294.9,371.2 297.3,371.2 C299.7,371.1 302.2,372.5 304.5,373.2 C306.8,374.0 309.0,375.1 311.2,375.7 C313.4,376.3 315.2,376.0 317.5,376.7 C319.7,377.3 323.6,379.1 324.8,379.6"/><path d="M303.7,369.0 C303.9,370.0 304.3,372.9 305.0,375.0 C305.7,377.1 307.2,379.6 308.1,381.6 C309.0,383.7 309.6,385.4 310.3,387.2 C310.9,389.0 311.1,389.3 312.1,392.3 C313.1,395.3 315.2,400.8 316.3,405.0 C317.3,409.2 317.5,413.3 318.3,417.6 C319.2,422.0 320.3,426.7 321.4,430.9 C322.5,435.2 324.6,439.6 324.8,443.1 C325.1,446.6 323.4,448.7 322.9,451.9 C322.3,455.0 322.1,458.9 321.5,462.2 C320.9,465.5 319.8,468.6 319.0,471.8 C318.1,474.9 316.9,478.5 316.4,481.2 C315.9,483.8 316.3,485.7 316.0,487.7 C315.7,489.7 314.7,491.1 314.5,493.1 C314.4,495.2 315.3,497.7 315.2,499.9 C315.2,502.2 314.4,505.5 314.2,506.6"/><path d="M411.6,375.4 C410.6,376.6 407.2,380.5 405.5,382.9 C403.9,385.3 403.2,387.6 401.5,389.7 C399.8,391.7 397.3,393.1 395.5,395.3 C393.6,397.5 391.2,400.8 390.4,402.9 C389.7,405.0 390.9,406.1 390.9,408.1 C391.0,410.1 390.9,413.1 390.7,414.9 C390.6,416.8 390.0,417.5 390.0,419.4 C389.9,421.2 389.8,423.7 390.4,426.2 C391.0,428.6 392.7,431.5 393.8,434.2 C394.9,436.8 396.0,439.5 396.9,441.9 C397.9,444.4 398.4,446.5 399.4,448.8 C400.4,451.2 402.2,453.3 403.1,455.8 C404.0,458.3 404.1,461.3 404.6,463.9 C405.0,466.4 405.3,468.5 405.9,471.1 C406.5,473.8 407.4,477.1 408.0,479.8 C408.6,482.5 409.3,485.2 409.5,487.5 C409.6,489.8 409.2,491.6 408.7,493.6 C408.2,495.5 406.9,497.6 406.3,499.5 C405.7,501.3 405.5,502.9 404.9,504.8 C404.4,506.7 403.4,509.8 403.1,510.8"/><path d="M392.5,426.2 C393.6,426.3 396.7,427.0 398.9,427.1 C401.2,427.1 403.8,426.2 406.1,426.3 C408.3,426.4 410.2,427.1 412.5,427.5 C414.8,427.8 418.4,427.7 420.0,428.3 C421.7,428.9 421.8,430.3 422.5,431.2 C423.2,432.2 423.7,433.4 424.2,434.2 C424.8,435.0 425.3,435.1 426.0,435.9 C426.7,436.7 428.1,438.4 428.5,438.9"/><path d="M411.6,381.7 C412.2,382.9 414.2,386.6 415.2,389.0 C416.3,391.4 417.0,394.0 417.8,396.3 C418.6,398.5 419.1,400.3 420.1,402.4 C421.2,404.6 423.2,406.0 424.3,409.2 C425.3,412.4 426.1,417.7 426.6,421.6 C427.0,425.6 426.4,429.2 426.8,433.1 C427.2,437.0 428.5,441.2 429.1,445.0 C429.7,448.8 430.4,454.0 430.6,455.8"/><path d="M267.7,441.0 C268.7,442.5 271.5,447.1 273.7,450.3 C275.9,453.5 278.6,457.0 280.7,459.9 C282.8,462.9 284.3,464.9 286.4,467.7 C288.5,470.6 291.4,473.9 293.1,476.9 C294.8,480.0 295.3,482.8 296.6,485.8 C297.8,488.7 299.3,491.9 300.7,494.6 C302.1,497.2 303.5,499.0 305.1,501.7 C306.6,504.4 309.2,509.3 310.0,510.8"/><path d="M267.7,487.5 C269.3,487.0 274.2,485.5 277.1,484.4 C280.0,483.2 282.5,482.0 285.1,480.9 C287.7,479.8 289.8,478.8 292.6,477.7 C295.3,476.7 299.2,474.1 301.5,474.8 C303.9,475.6 305.2,479.4 306.7,482.2 C308.3,484.9 309.5,488.8 310.8,491.5 C312.1,494.1 313.3,495.7 314.6,498.2 C315.9,500.7 317.8,505.2 318.5,506.6"/><path d="M271.9,445.2 C272.5,447.6 274.5,454.9 275.6,459.2 C276.7,463.6 277.4,466.7 278.5,471.1 C279.5,475.5 280.6,481.3 281.7,485.8 C282.7,490.3 284.0,495.6 284.6,498.1 C285.2,500.7 285.3,499.8 285.3,501.1 C285.4,502.4 285.1,504.6 285.1,505.8 C285.1,507.0 285.0,507.0 285.3,508.2 C285.6,509.4 286.5,512.1 286.7,512.9"/><path d="M430.6,464.3 C430.0,465.1 428.2,467.4 427.2,469.1 C426.1,470.7 425.2,472.1 424.3,474.0 C423.3,475.9 422.3,478.6 421.2,480.5 C420.2,482.4 418.0,484.0 417.9,485.4 C417.8,486.8 419.7,487.6 420.7,488.7 C421.8,489.9 423.2,491.3 424.3,492.3 C425.5,493.4 426.5,494.2 427.6,495.2 C428.6,496.2 430.1,497.6 430.6,498.1"/><path d="M267.7,512.9 C267.6,512.6 267.4,511.4 266.9,511.1 C266.5,510.7 265.5,510.5 265.0,510.7 C264.4,510.8 264.0,511.8 263.5,512.0 C262.9,512.2 261.8,511.9 261.5,511.7 C261.2,511.4 261.4,510.9 261.8,510.6 C262.2,510.4 263.2,510.0 263.8,510.2 C264.3,510.3 264.8,511.0 265.3,511.5 C265.7,512.0 266.3,512.6 266.4,513.2 C266.5,513.8 266.0,514.6 265.8,515.1 C265.6,515.5 265.1,516.0 265.1,515.8 C265.1,515.6 266.0,514.6 266.0,514.0 C266.0,513.4 265.2,512.9 265.1,512.2 C265.0,511.6 265.1,510.7 265.4,510.3 C265.7,509.8 266.8,509.4 266.8,509.5 C266.9,509.7 265.9,510.6 265.7,511.2 C265.5,511.8 265.6,512.5 265.6,513.2 C265.7,513.9 266.2,514.7 266.2,515.1 C266.2,515.6 265.3,516.0 265.4,515.8 C265.5,515.7 266.4,514.9 266.6,514.3 C266.8,513.7 266.3,512.7 266.6,512.3 C266.9,511.8 267.9,511.4 268.4,511.4 C269.0,511.5 269.3,512.6 269.9,512.8 C270.5,513.0 271.3,512.9 271.9,512.6 C272.5,512.4 273.0,511.5 273.3,511.2 C273.6,511.0 274.0,511.0 273.8,511.2 C273.5,511.4 272.6,511.8 272.0,512.2 C271.4,512.5 270.9,513.0 270.3,513.2 C269.7,513.5 268.9,513.2 268.3,513.5 C267.8,513.7 267.3,514.4 266.8,514.7 C266.2,515.1 265.3,515.3 265.0,515.6 C264.7,515.9 265.0,516.7 264.9,516.5 C264.8,516.4 264.5,515.2 264.4,514.6 C264.2,513.9 264.2,513.3 264.1,512.6 C263.9,512.0 263.3,511.2 263.5,510.7 C263.6,510.3 264.9,509.7 265.2,509.9 C265.6,510.0 265.9,511.2 265.7,511.8 C265.5,512.4 264.6,512.7 264.3,513.2 C264.0,513.8 263.8,514.7 263.9,515.2 C264.0,515.7 265.1,516.3 265.0,516.3 C264.8,516.4 263.4,515.6 263.1,515.5"/><path d="M428.5,371.2 C428.2,371.2 427.1,371.1 426.5,371.2 C425.8,371.3 425.2,371.9 424.6,371.8 C424.0,371.8 423.1,371.4 422.8,370.9 C422.5,370.4 422.7,369.5 422.9,368.9 C423.1,368.3 423.6,367.6 423.9,367.2 C424.2,366.8 424.2,366.2 424.4,366.4 C424.7,366.6 424.8,367.8 425.2,368.2 C425.7,368.7 426.5,368.9 427.1,369.0 C427.7,369.0 428.5,368.8 429.0,368.5 C429.6,368.2 430.3,367.8 430.7,367.3 C431.0,366.8 430.8,365.7 430.9,365.3 C431.0,365.0 431.4,364.9 431.3,365.1 C431.2,365.4 430.4,366.2 430.1,366.8 C429.9,367.4 429.8,368.1 429.9,368.8 C430.0,369.4 430.3,370.2 430.8,370.5 C431.3,370.9 432.2,371.1 432.8,371.0 C433.3,370.9 434.1,370.1 434.3,369.7 C434.5,369.4 434.1,368.7 434.2,368.8 C434.3,369.0 434.8,370.2 434.8,370.8 C434.7,371.4 434.3,372.4 433.9,372.4 C433.5,372.4 432.7,371.6 432.4,371.0 C432.1,370.5 432.4,369.6 432.1,369.1 C431.8,368.5 430.9,368.1 430.8,367.6 C430.6,367.0 430.8,365.8 431.0,365.6 C431.2,365.3 432.2,366.0 432.0,366.1 C431.9,366.2 430.0,366.1 430.0,366.1 C430.1,366.1 431.5,365.9 432.0,366.1 C432.5,366.4 432.7,367.3 433.1,367.9 C433.4,368.4 434.1,368.9 434.2,369.5 C434.3,370.1 433.8,370.8 433.6,371.4 C433.4,372.1 433.3,372.7 433.1,373.4 C432.9,374.0 432.7,374.8 432.5,375.2 C432.3,375.7 432.0,376.2 432.1,376.0 C432.1,375.8 432.7,374.8 432.8,374.1 C432.9,373.5 432.6,372.6 432.9,372.1 C433.2,371.6 434.2,371.2 434.5,371.0 C434.9,370.8 435.2,370.8 434.9,370.9 C434.7,370.9 433.4,371.0 433.0,371.4 C432.6,371.8 432.8,372.9 432.7,373.4 C432.6,373.9 432.5,374.2 432.4,374.4"/><path d="M422.1,512.9 C421.9,513.2 421.3,514.0 420.8,514.4 C420.3,514.8 419.3,515.2 419.2,515.6 C419.1,515.9 420.1,516.7 420.2,516.6 C420.2,516.5 419.4,515.3 419.5,514.7 C419.6,514.1 420.2,513.3 420.7,513.1 C421.2,512.8 422.1,513.1 422.7,513.3 C423.3,513.6 424.0,514.1 424.3,514.4 C424.7,514.8 424.8,515.6 424.7,515.5 C424.7,515.4 424.0,514.1 424.1,513.6 C424.3,513.1 425.1,512.5 425.7,512.3 C426.3,512.1 427.0,512.4 427.7,512.4 C428.4,512.4 429.4,512.3 429.7,512.3 C430.0,512.2 430.2,512.5 429.8,512.3 C429.4,512.1 427.6,511.0 427.4,511.1 C427.1,511.2 428.0,512.2 428.3,512.8 C428.5,513.5 428.7,514.3 428.7,514.8 C428.8,515.3 428.6,515.8 428.5,515.6 C428.3,515.5 428.1,514.4 427.9,513.7 C427.6,513.1 427.3,512.3 427.2,511.8 C427.1,511.4 427.6,511.1 427.2,510.9 C426.9,510.6 425.8,510.5 425.4,510.2 C424.9,509.9 425.1,509.1 424.7,509.1 C424.3,509.1 423.2,509.6 423.0,510.1 C422.7,510.6 422.7,511.6 423.0,512.1 C423.3,512.6 424.2,512.9 424.8,513.1 C425.4,513.3 426.2,513.0 426.8,513.3 C427.3,513.6 427.9,514.5 428.0,514.9 C428.1,515.3 428.0,515.9 427.6,515.9 C427.3,515.9 426.4,515.0 425.8,515.0 C425.3,515.0 424.6,515.7 424.1,515.9 C423.6,516.2 423.3,516.9 423.0,516.8 C422.6,516.6 422.6,515.3 422.1,514.9 C421.7,514.5 420.8,514.7 420.2,514.4 C419.7,514.0 419.5,513.1 419.0,512.8 C418.4,512.5 417.6,512.4 417.0,512.5 C416.4,512.7 415.7,513.5 415.4,513.8 C415.1,514.0 415.2,514.4 415.3,514.2 C415.3,513.9 415.5,512.7 415.9,512.3 C416.3,511.8 417.0,511.6 417.7,511.4 C418.3,511.2 419.3,511.2 419.7,511.2"/><path d="M430.6,476.9 C430.9,476.9 432.0,476.5 432.6,476.5 C433.1,476.5 433.8,476.9 433.7,477.1 C433.6,477.3 432.4,477.3 431.7,477.6 C431.1,477.8 430.5,478.0 429.9,478.4 C429.4,478.7 428.7,479.3 428.4,479.7 C428.1,480.0 427.7,480.3 427.9,480.5 C428.2,480.6 429.3,480.5 429.9,480.5 C430.6,480.5 431.4,480.2 431.9,480.2 C432.4,480.2 433.0,480.7 433.0,480.5 C433.0,480.2 432.3,479.1 431.7,478.9 C431.2,478.7 430.3,478.8 429.8,479.1 C429.2,479.4 428.7,480.3 428.4,480.5 C428.0,480.8 427.3,480.7 427.5,480.7 C427.7,480.8 428.9,481.0 429.5,480.9 C430.1,480.7 430.8,480.3 431.2,479.8 C431.6,479.4 431.8,478.6 432.0,478.0 C432.2,477.4 432.2,476.7 432.2,476.0 C432.3,475.3 432.3,474.7 432.2,474.0 C432.2,473.4 431.8,472.4 431.9,472.0 C432.0,471.7 433.0,471.8 432.8,472.0 C432.7,472.1 431.5,472.4 431.1,472.9 C430.6,473.3 430.2,473.9 430.0,474.5 C429.7,475.2 429.7,475.9 429.6,476.5 C429.4,477.2 429.0,477.9 429.2,478.5 C429.3,479.1 429.8,479.6 430.3,480.1 C430.7,480.6 431.3,481.4 431.8,481.4 C432.3,481.4 433.2,480.3 433.1,480.0 C433.0,479.8 431.6,480.2 431.1,479.9 C430.5,479.6 430.0,478.9 429.9,478.3 C429.8,477.7 430.2,477.0 430.5,476.4 C430.8,475.8 431.2,475.3 431.5,474.7 C431.8,474.1 431.8,473.4 432.0,472.8 C432.3,472.2 432.6,471.3 432.8,470.9 C433.0,470.6 433.2,470.3 433.2,470.8 C433.2,471.2 433.1,473.4 433.1,473.6 C433.0,473.7 432.9,472.2 432.8,471.6 C432.7,470.9 432.8,470.1 432.5,469.6 C432.2,469.1 431.5,468.7 431.0,468.3 C430.4,467.9 429.6,467.4 429.3,467.3 C429.0,467.1 429.2,467.6 429.2,467.6"/><path d="M267.7,413.5 C267.4,413.3 266.4,412.6 265.9,412.6 C265.4,412.5 264.6,412.9 264.7,413.0 C264.8,413.1 266.0,413.2 266.7,413.3 C267.3,413.4 268.0,413.8 268.6,413.9 C269.1,413.9 270.1,413.4 270.0,413.5 C269.9,413.5 268.7,413.8 268.0,414.0 C267.4,414.3 266.8,414.8 266.3,415.0 C265.8,415.1 265.0,414.7 265.0,415.0 C265.0,415.2 265.9,415.9 266.5,416.3 C267.1,416.6 267.8,416.9 268.3,417.1 C268.8,417.2 269.7,417.3 269.6,417.1 C269.6,416.9 268.4,416.4 268.0,415.9 C267.6,415.4 267.4,414.6 267.0,414.2 C266.6,413.8 265.6,413.6 265.7,413.4 C265.8,413.2 267.1,412.8 267.7,413.0 C268.2,413.2 268.6,414.3 269.0,414.5 C269.5,414.7 270.4,414.5 270.3,414.3 C270.3,414.1 269.2,413.6 268.5,413.5 C267.9,413.4 267.1,413.7 266.5,413.8 C266.0,413.9 265.1,414.0 265.2,414.0 C265.3,413.9 266.6,413.8 267.1,413.4 C267.6,413.0 268.2,412.4 268.3,411.8 C268.5,411.2 267.9,410.2 268.1,409.8 C268.3,409.5 269.1,409.4 269.3,409.7 C269.6,410.0 269.4,411.1 269.6,411.6 C269.8,412.2 270.5,413.0 270.6,412.9 C270.6,412.8 270.1,411.6 269.7,411.1 C269.4,410.5 269.0,409.9 268.4,409.6 C267.9,409.3 266.9,409.4 266.4,409.4 C265.9,409.3 265.7,408.7 265.5,409.1 C265.4,409.4 265.4,411.2 265.4,411.4 C265.4,411.7 265.3,410.2 265.3,410.3 C265.3,410.5 265.5,412.4 265.6,412.6 C265.6,412.7 266.0,411.2 265.8,411.1 C265.7,411.1 264.6,412.2 264.8,412.4 C264.9,412.5 266.1,411.7 266.7,411.9 C267.3,412.0 267.8,412.6 268.2,413.1 C268.7,413.7 268.8,414.6 269.2,414.9 C269.5,415.2 270.6,415.0 270.4,415.0 C270.3,414.9 268.8,414.8 268.4,414.8"/><path d="M265.6,516.1 C267.1,516.0 271.9,515.5 274.7,515.7 C277.6,515.9 279.6,517.0 282.6,517.2 C285.5,517.4 289.8,516.9 292.7,516.9 C295.6,516.8 297.2,517.0 300.1,517.1 C303.1,517.2 307.4,517.4 310.4,517.4 C313.5,517.4 315.3,517.2 318.5,517.1 C321.6,517.1 325.8,516.8 329.4,516.9 C333.0,516.9 336.4,517.6 339.8,517.5 C343.3,517.3 346.8,516.0 350.2,515.9 C353.6,515.9 356.6,517.0 360.2,517.2 C363.8,517.3 368.1,517.1 371.7,517.0 C375.3,516.8 378.9,516.3 381.9,516.1 C385.0,515.9 387.2,515.6 390.2,515.6 C393.2,515.7 396.9,516.2 399.9,516.3 C402.9,516.4 405.4,516.0 408.3,516.2 C411.3,516.3 414.6,517.1 417.6,517.2 C420.6,517.4 423.5,516.9 426.4,516.9 C429.3,516.8 433.4,517.1 434.8,517.1"/><path d="M265.6,516.7 C267.0,516.7 271.5,516.7 274.4,516.7 C277.3,516.7 280.2,516.5 283.2,516.7 C286.1,516.9 288.9,517.9 292.0,517.9 C295.0,517.9 298.3,516.7 301.3,516.7 C304.3,516.7 307.1,517.8 309.9,517.9 C312.8,518.1 315.3,517.6 318.5,517.6 C321.6,517.6 325.2,518.2 328.8,518.0 C332.4,517.8 336.7,516.7 340.3,516.5 C343.9,516.3 347.0,516.8 350.4,516.9 C353.8,516.9 357.1,516.9 360.7,516.9 C364.3,517.0 368.4,517.0 371.9,516.9 C375.5,516.8 378.7,516.6 381.9,516.5 C385.2,516.4 388.4,516.2 391.4,516.1 C394.4,516.1 397.3,516.3 400.1,516.4 C402.8,516.6 405.0,517.1 407.9,517.1 C410.8,517.1 414.2,516.3 417.3,516.2 C420.5,516.1 423.7,516.6 426.7,516.7 C429.6,516.8 433.5,516.7 434.8,516.7"/><path d="M265.6,517.4 C267.1,517.5 271.8,518.2 274.7,518.2 C277.6,518.3 280.0,517.8 282.9,517.6 C285.8,517.5 289.1,517.2 292.1,517.3 C295.1,517.5 297.9,518.5 300.9,518.5 C303.9,518.6 307.0,517.6 310.0,517.5 C312.9,517.4 315.2,517.9 318.5,518.0 C321.7,518.1 325.9,518.0 329.3,518.0 C332.8,518.0 336.0,517.9 339.4,517.9 C342.9,517.9 346.5,517.9 350.0,517.9 C353.5,517.9 357.1,518.0 360.6,517.8 C364.1,517.6 367.5,516.7 371.0,516.6 C374.6,516.4 378.7,517.0 381.9,516.9 C385.2,516.9 387.5,516.1 390.5,516.2 C393.5,516.3 397.2,517.5 400.2,517.5 C403.1,517.5 405.3,516.3 408.3,516.2 C411.2,516.1 414.9,517.1 417.8,517.1 C420.7,517.1 422.8,516.2 425.6,516.1 C428.5,516.0 433.3,516.3 434.8,516.3"/><path d="M265.6,518.0 C267.0,517.9 271.5,517.5 274.4,517.5 C277.3,517.5 279.9,517.9 282.7,518.0 C285.6,518.0 288.4,517.6 291.4,517.6 C294.5,517.6 297.9,517.7 301.0,518.0 C304.2,518.2 307.4,519.0 310.3,519.1 C313.2,519.2 315.3,518.6 318.5,518.4 C321.6,518.2 325.7,518.0 329.3,517.9 C332.9,517.8 336.5,517.8 340.0,517.8 C343.6,517.8 347.3,517.7 350.8,517.8 C354.3,517.8 357.6,518.1 361.1,518.1 C364.6,518.1 368.2,518.1 371.7,517.9 C375.2,517.8 378.8,517.6 381.9,517.4 C385.1,517.1 387.6,516.5 390.5,516.6 C393.4,516.6 396.5,517.6 399.4,517.6 C402.2,517.6 404.7,516.5 407.7,516.3 C410.6,516.1 413.7,516.4 416.9,516.3 C420.1,516.2 423.6,515.7 426.6,515.6 C429.6,515.5 433.5,515.8 434.8,515.9"/><path d="M265.6,518.6 C266.9,518.5 270.9,517.8 273.8,517.9 C276.7,518.0 279.9,518.9 283.0,519.1 C286.0,519.2 289.0,519.1 292.0,519.0 C294.9,518.9 297.9,518.7 300.9,518.5 C303.8,518.4 306.6,518.0 309.5,518.1 C312.4,518.1 315.1,518.7 318.5,518.8 C321.9,519.0 326.4,519.2 329.8,519.0 C333.2,518.9 335.5,518.1 339.0,518.0 C342.5,517.9 347.0,518.2 350.7,518.3 C354.4,518.4 357.8,518.5 361.2,518.5 C364.5,518.6 367.3,518.6 370.8,518.5 C374.3,518.4 378.7,518.1 381.9,517.8 C385.2,517.5 387.3,516.9 390.3,516.8 C393.3,516.8 397.0,517.6 400.0,517.5 C402.9,517.4 405.1,516.7 408.1,516.4 C411.0,516.2 414.6,515.9 417.6,515.9 C420.6,515.9 423.1,516.7 425.9,516.6 C428.8,516.6 433.4,515.7 434.8,515.5"/><path d="M265.6,519.3 C266.9,519.4 270.8,519.8 273.8,520.0 C276.8,520.1 280.9,520.3 283.8,520.1 C286.8,519.9 288.8,519.0 291.6,518.8 C294.4,518.6 297.6,518.6 300.7,518.7 C303.9,518.8 307.4,519.3 310.3,519.4 C313.3,519.5 315.3,519.3 318.5,519.3 C321.7,519.2 326.1,519.0 329.6,519.1 C333.1,519.1 336.3,519.8 339.6,519.6 C343.0,519.5 346.0,518.5 349.6,518.3 C353.2,518.1 357.7,518.6 361.4,518.7 C365.1,518.8 368.4,519.3 371.8,519.2 C375.3,519.1 378.7,518.4 381.9,518.2 C385.2,518.0 388.2,518.0 391.2,517.9 C394.2,517.7 397.2,517.5 400.0,517.2 C402.8,516.9 405.0,516.5 407.9,516.3 C410.9,516.2 415.0,516.2 417.9,516.1 C420.8,516.0 422.5,516.0 425.3,515.8 C428.1,515.6 433.3,515.2 434.8,515.0"/></g>
<text transform="translate(354.5,350.5) scale(0.86,1)" text-anchor="middle" font-size="20" fill="#1a1a1a">NPs+MPs</text>
<rect x="448.5" y="359.5" width="177.0" height="165.5" fill="none" stroke="#3a3a3a" stroke-width="1.8"/>
<g fill="none" stroke="#1a1a1a" stroke-width="1.0" stroke-linejoin="round"><path d="M452.7,364.8 C454.2,364.9 459.1,365.2 461.7,365.3 C464.4,365.3 465.9,365.0 468.4,365.0 C470.9,365.1 474.0,365.3 476.6,365.5 C479.2,365.8 481.4,366.3 484.1,366.4 C486.8,366.5 490.2,366.3 492.9,366.2 C495.6,366.2 497.9,366.3 500.4,366.2 C502.9,366.2 505.7,365.9 507.7,365.9 C509.7,365.8 510.7,366.0 512.4,365.9 C514.1,365.8 515.9,365.4 518.0,365.3 C520.1,365.3 523.1,365.2 525.1,365.5 C527.1,365.8 528.6,367.1 530.2,367.0 C531.8,367.0 533.1,365.2 534.7,365.2 C536.2,365.1 537.7,366.5 539.6,366.8 C541.4,367.0 542.9,366.6 545.8,366.5 C548.7,366.4 553.3,366.3 556.9,366.2 C560.4,366.1 563.7,365.6 567.2,365.8 C570.7,366.0 574.3,367.2 577.9,367.4 C581.5,367.5 585.3,367.2 588.8,366.9 C592.3,366.6 595.5,365.7 598.9,365.6 C602.2,365.6 605.2,366.4 608.7,366.6 C612.2,366.9 618.0,366.9 619.8,366.9"/><path d="M616.7,373.3 C616.5,374.6 615.4,378.0 615.5,381.0 C615.6,384.0 617.3,388.1 617.5,391.2 C617.6,394.4 616.5,397.1 616.4,400.0 C616.3,402.9 617.1,405.9 617.0,408.7 C616.8,411.5 615.7,413.8 615.7,416.8 C615.7,419.9 616.9,424.0 616.9,427.0 C616.9,429.9 615.9,432.0 615.6,434.6 C615.3,437.3 614.9,440.5 615.1,443.0 C615.2,445.4 616.2,447.1 616.6,449.4 C616.9,451.7 616.8,454.2 617.0,456.8 C617.1,459.4 617.4,462.6 617.4,465.0 C617.5,467.4 617.2,468.7 617.3,471.4 C617.5,474.0 618.3,478.4 618.4,481.1 C618.5,483.8 617.8,486.5 617.7,487.5"/><path d="M452.7,365.9 C454.1,365.8 458.5,365.6 461.2,365.5 C463.9,365.4 466.4,365.1 468.9,365.2 C471.5,365.3 473.9,365.8 476.4,365.9 C478.9,366.0 481.6,365.8 484.1,365.8 C486.5,365.9 488.4,366.3 491.0,366.3 C493.5,366.3 496.4,365.7 499.2,365.8 C502.0,365.9 505.5,366.7 507.7,366.7 C510.0,366.7 511.1,365.7 512.7,365.9 C514.4,366.1 515.7,367.6 517.4,368.0 C519.1,368.3 521.0,368.2 523.0,367.8 C524.9,367.5 527.3,366.2 529.3,366.0 C531.2,365.9 533.1,366.8 534.7,367.0 C536.4,367.2 537.4,367.2 539.3,367.2 C541.1,367.2 543.1,367.2 545.8,367.1 C548.4,367.1 551.6,366.6 555.2,366.8 C558.8,367.0 563.9,368.2 567.5,368.3 C571.0,368.4 573.1,367.5 576.8,367.4 C580.4,367.2 585.7,367.3 589.2,367.3 C592.7,367.3 594.3,367.2 597.8,367.3 C601.3,367.3 606.5,367.5 610.1,367.7 C613.8,367.8 618.2,368.1 619.8,368.2"/><path d="M617.7,373.3 C617.7,374.9 617.8,380.3 617.7,383.1 C617.6,385.9 617.4,387.4 617.2,390.1 C617.0,392.8 616.6,396.1 616.4,399.2 C616.2,402.2 615.9,405.5 616.0,408.6 C616.0,411.7 616.9,414.6 616.8,417.6 C616.6,420.6 615.5,423.8 615.2,426.6 C614.9,429.5 614.8,432.2 614.8,434.6 C614.8,437.1 615.0,439.0 615.2,441.5 C615.4,443.9 616.0,446.6 616.0,449.2 C616.0,451.8 615.3,454.6 615.3,457.0 C615.4,459.5 616.2,461.0 616.4,463.7 C616.6,466.5 616.4,470.9 616.5,473.5 C616.7,476.2 617.1,477.3 617.3,479.7 C617.5,482.0 617.7,486.2 617.7,487.5"/><path d="M452.7,366.9 C454.0,367.0 457.8,367.5 460.5,367.5 C463.1,367.5 465.8,367.0 468.4,366.9 C471.1,366.7 473.8,366.6 476.5,366.7 C479.2,366.7 481.9,367.0 484.6,367.1 C487.2,367.2 489.9,367.1 492.5,367.0 C495.1,367.0 497.6,366.7 500.2,366.7 C502.7,366.8 505.6,367.4 507.7,367.6 C509.9,367.7 511.5,367.7 513.1,367.6 C514.7,367.4 515.6,366.6 517.4,366.7 C519.2,366.8 521.8,368.0 523.9,368.3 C526.1,368.6 528.3,368.4 530.2,368.5 C532.2,368.6 534.1,369.1 535.6,368.8 C537.2,368.6 537.9,367.1 539.6,366.9 C541.3,366.7 543.1,367.5 545.8,367.8 C548.4,368.1 552.1,368.7 555.5,368.7 C558.9,368.7 562.7,367.7 566.2,367.8 C569.7,367.9 573.1,369.4 576.7,369.5 C580.2,369.5 583.7,368.1 587.4,368.1 C591.1,368.1 595.5,369.3 598.9,369.5 C602.4,369.7 604.7,369.4 608.2,369.4 C611.6,369.4 617.9,369.5 619.8,369.5"/><path d="M618.8,373.3 C618.7,374.8 618.4,379.1 618.2,382.2 C617.9,385.2 617.5,388.5 617.4,391.5 C617.3,394.6 617.8,397.8 617.5,400.4 C617.2,403.1 616.0,404.6 615.6,407.2 C615.2,409.8 615.3,412.9 615.2,416.0 C615.1,419.1 615.2,422.7 614.9,425.8 C614.7,428.9 613.9,431.8 613.9,434.6 C613.9,437.5 614.8,440.4 615.1,443.0 C615.3,445.6 615.6,447.7 615.6,450.2 C615.6,452.7 615.0,455.5 615.2,457.8 C615.3,460.2 616.0,461.8 616.4,464.2 C616.8,466.6 617.4,469.8 617.5,472.3 C617.7,474.9 617.2,476.7 617.3,479.2 C617.3,481.8 617.7,486.1 617.7,487.5"/><path d="M451.6,363.8 C451.9,365.0 452.9,368.4 453.1,371.2 C453.3,373.9 453.0,377.6 452.8,380.1 C452.6,382.7 452.2,384.5 452.0,386.6 C451.9,388.7 451.7,390.0 451.9,392.7 C452.1,395.5 453.6,400.6 453.4,403.0 C453.1,405.4 450.6,405.0 450.4,407.0 C450.2,408.9 452.0,411.9 452.3,414.7 C452.6,417.4 452.4,420.2 452.2,423.2 C452.1,426.2 451.5,429.8 451.6,432.5 C451.6,435.1 452.5,436.2 452.7,438.9 C452.9,441.5 453.2,445.7 453.0,448.2 C452.8,450.6 451.4,451.2 451.4,453.6 C451.4,456.1 452.9,460.4 453.0,462.8 C453.2,465.2 452.4,465.7 452.2,468.1 C452.1,470.5 451.7,474.4 452.0,477.2 C452.4,480.1 454.0,482.5 454.3,485.2 C454.6,487.9 454.1,491.1 453.8,493.5 C453.4,496.0 452.1,497.4 452.1,499.8 C452.0,502.3 453.6,505.8 453.6,508.3 C453.7,510.8 452.5,513.9 452.3,515.0"/><path d="M452.7,515.0 C453.8,514.9 457.1,514.3 459.6,514.2 C462.1,514.1 465.4,514.6 467.8,514.6 C470.1,514.7 471.2,514.4 473.6,514.6 C475.9,514.8 479.3,515.7 482.0,515.9 C484.8,516.1 487.7,515.7 490.0,515.8 C492.3,516.0 493.8,516.8 495.8,516.8 C497.8,516.9 499.3,516.3 502.0,516.0 C504.6,515.8 509.3,515.6 511.7,515.4 C514.1,515.2 514.2,514.7 516.4,514.8 C518.5,514.9 521.9,515.7 524.6,516.1 C527.3,516.4 529.5,516.7 532.5,516.9 C535.6,517.1 539.5,517.6 543.0,517.3 C546.5,516.9 550.5,515.2 553.6,515.0 C556.6,514.7 558.5,515.8 561.3,515.8 C564.1,515.8 567.4,515.1 570.5,515.2 C573.5,515.3 576.6,516.0 579.8,516.2 C583.0,516.5 586.2,517.0 589.7,516.9 C593.1,516.8 597.6,515.5 600.6,515.8 C603.5,516.0 604.5,518.0 607.3,518.3 C610.2,518.5 616.0,517.3 617.7,517.1"/><path d="M453.1,363.8 C453.0,365.0 452.4,368.7 452.3,371.4 C452.2,374.2 452.0,377.8 452.5,380.4 C452.9,382.9 455.2,384.4 455.0,386.6 C454.9,388.7 451.9,390.8 451.7,393.3 C451.6,395.8 454.1,399.1 454.3,401.6 C454.4,404.1 453.0,406.0 452.6,408.4 C452.2,410.8 451.4,413.4 451.8,415.9 C452.2,418.4 454.6,421.0 454.9,423.4 C455.2,425.7 453.7,427.4 453.6,430.0 C453.4,432.6 453.6,436.2 453.8,438.9 C453.9,441.6 454.7,443.4 454.6,446.1 C454.5,448.9 453.5,452.9 453.3,455.2 C453.0,457.5 452.7,457.5 452.9,460.0 C453.0,462.5 454.4,467.6 454.2,470.3 C454.1,473.0 451.7,473.9 451.9,476.3 C452.0,478.7 454.9,482.2 455.2,484.6 C455.4,487.0 453.6,488.1 453.2,490.7 C452.8,493.3 452.4,497.3 452.7,500.1 C453.1,503.0 455.1,505.6 455.2,508.1 C455.4,510.5 453.8,513.9 453.5,515.0"/><path d="M452.7,514.0 C454.1,514.0 459.1,513.9 461.3,513.8 C463.5,513.8 463.7,513.9 465.8,513.8 C467.9,513.6 471.5,512.7 473.9,513.0 C476.3,513.4 477.6,515.6 480.2,515.7 C482.9,515.8 487.5,513.4 489.8,513.5 C492.2,513.6 492.6,516.1 494.6,516.2 C496.6,516.3 499.6,514.6 502.1,514.3 C504.5,513.9 507.1,514.0 509.4,514.1 C511.8,514.2 513.5,514.8 516.0,515.0 C518.6,515.2 521.5,515.4 524.6,515.2 C527.8,515.1 531.7,514.2 534.8,514.0 C537.9,513.9 540.1,513.9 543.2,514.3 C546.3,514.8 550.1,516.5 553.4,516.7 C556.7,516.9 560.2,515.7 563.0,515.7 C565.8,515.6 567.4,516.2 570.1,516.3 C572.8,516.5 576.0,516.5 579.2,516.6 C582.4,516.7 586.0,517.0 589.2,517.0 C592.4,517.0 595.3,516.9 598.5,516.6 C601.7,516.3 605.2,515.3 608.4,515.2 C611.6,515.1 616.2,515.9 617.7,516.1"/><path d="M454.6,363.8 C454.6,365.0 454.8,368.5 454.6,371.0 C454.4,373.5 453.2,376.3 453.3,379.0 C453.3,381.6 454.7,384.5 454.8,387.1 C454.9,389.6 454.3,391.9 454.0,394.3 C453.8,396.6 453.6,398.8 453.5,401.4 C453.4,404.0 453.7,407.6 453.7,410.0 C453.7,412.3 453.6,413.3 453.5,415.5 C453.4,417.7 452.8,420.6 453.0,423.0 C453.3,425.5 454.7,427.6 455.0,430.3 C455.2,432.9 455.1,435.9 454.8,438.9 C454.5,441.8 453.4,445.7 453.3,448.1 C453.2,450.4 453.9,450.5 454.1,453.0 C454.2,455.5 454.1,460.1 454.4,463.1 C454.7,466.1 455.7,468.7 455.8,470.9 C455.9,473.1 455.2,474.3 455.0,476.3 C454.8,478.3 454.7,479.9 454.8,482.8 C454.9,485.7 455.3,490.5 455.5,493.5 C455.8,496.6 456.5,498.6 456.5,501.1 C456.4,503.6 455.7,506.3 455.4,508.6 C455.1,511.0 454.9,514.0 454.8,515.0"/><path d="M452.7,512.9 C453.8,513.0 457.0,513.0 459.3,513.3 C461.5,513.5 463.6,514.7 466.1,514.5 C468.6,514.4 471.5,512.5 474.3,512.4 C477.1,512.3 480.7,513.5 482.9,513.9 C485.2,514.3 485.6,514.6 487.8,514.7 C490.0,514.7 493.5,514.4 496.2,514.2 C499.0,514.0 502.0,513.4 504.2,513.4 C506.4,513.4 507.5,514.1 509.6,514.3 C511.6,514.6 514.0,514.8 516.5,514.8 C519.1,514.9 521.7,514.6 524.6,514.4 C527.5,514.2 531.0,513.7 533.9,513.6 C536.8,513.4 539.0,513.1 542.1,513.5 C545.3,513.9 549.3,515.5 552.8,515.8 C556.2,516.2 559.7,515.7 562.8,515.7 C565.9,515.7 568.5,515.8 571.4,515.6 C574.3,515.4 576.7,514.6 580.0,514.4 C583.3,514.1 587.8,514.0 591.0,514.1 C594.3,514.2 596.8,514.9 599.5,515.1 C602.2,515.3 604.0,515.2 607.1,515.2 C610.1,515.2 616.0,515.1 617.7,515.0"/><path d="M456.1,363.8 C456.3,365.3 457.3,370.1 457.2,372.8 C457.2,375.6 456.2,377.9 455.7,380.4 C455.2,382.9 454.0,385.5 454.2,387.9 C454.3,390.4 456.5,392.7 456.7,395.0 C457.0,397.3 455.7,399.5 455.8,401.7 C455.9,403.8 457.4,405.1 457.3,407.7 C457.1,410.3 454.6,414.8 454.7,417.3 C454.7,419.8 457.2,420.4 457.4,422.8 C457.7,425.1 456.3,428.7 456.1,431.4 C455.8,434.1 456.0,436.1 455.9,438.9 C455.7,441.6 455.3,445.1 455.1,447.9 C455.0,450.6 455.0,453.1 455.0,455.2 C455.1,457.3 455.1,458.2 455.6,460.3 C456.0,462.4 458.0,465.5 457.8,467.9 C457.6,470.4 454.8,472.6 454.4,475.1 C454.0,477.5 455.4,479.5 455.4,482.7 C455.4,485.8 454.7,490.9 454.6,493.9 C454.6,496.9 455.0,498.7 455.1,500.7 C455.1,502.6 454.7,503.1 454.9,505.5 C455.1,507.9 455.9,513.4 456.1,515.0"/><path d="M452.7,511.9 C453.6,511.7 455.8,510.9 458.4,510.9 C461.0,510.9 465.9,512.0 468.4,512.1 C471.0,512.1 471.3,511.0 473.5,511.0 C475.8,511.0 479.5,511.7 481.9,512.0 C484.3,512.2 485.3,512.4 487.7,512.5 C490.1,512.6 493.9,512.5 496.5,512.4 C499.1,512.3 500.9,512.2 503.2,512.1 C505.6,512.0 507.8,511.4 510.4,511.8 C513.0,512.3 516.3,514.4 518.7,514.7 C521.1,515.0 522.1,513.7 524.6,513.6 C527.2,513.4 531.1,513.4 534.2,513.5 C537.2,513.7 539.8,514.3 542.9,514.4 C546.0,514.5 549.7,514.5 552.8,514.3 C555.9,514.1 558.5,513.7 561.7,513.4 C564.9,513.2 568.8,512.9 571.8,512.8 C574.9,512.7 577.2,512.7 580.0,513.0 C582.9,513.4 585.8,514.7 588.9,514.9 C592.0,515.2 595.5,514.6 598.5,514.6 C601.6,514.6 603.9,515.3 607.1,515.2 C610.3,515.1 616.0,514.2 617.7,514.0"/><path d="M457.6,363.8 C457.5,365.2 457.7,369.7 457.4,372.2 C457.1,374.8 455.7,377.0 455.9,379.2 C456.1,381.4 458.6,383.1 458.6,385.4 C458.6,387.8 455.7,390.5 455.7,393.3 C455.6,396.1 458.4,399.9 458.3,402.4 C458.3,404.8 455.4,405.9 455.4,408.1 C455.5,410.3 458.8,412.6 458.8,415.5 C458.8,418.4 455.5,422.7 455.4,425.3 C455.3,427.9 458.0,428.9 458.3,431.1 C458.5,433.4 457.0,436.1 456.9,438.9 C456.8,441.6 457.5,445.2 457.8,447.5 C458.0,449.8 458.3,450.2 458.4,452.9 C458.4,455.5 458.0,460.6 458.0,463.4 C458.0,466.2 458.5,466.8 458.3,469.4 C458.0,472.0 456.6,476.1 456.7,478.9 C456.9,481.6 459.1,483.3 459.2,485.8 C459.2,488.3 457.3,491.4 457.2,493.8 C457.2,496.1 459.0,497.5 458.8,499.8 C458.5,502.2 456.1,505.3 455.8,507.9 C455.6,510.4 457.1,513.8 457.3,515.0"/><path d="M452.7,510.8 C453.7,510.8 456.4,510.4 458.8,510.5 C461.2,510.6 464.6,510.9 467.3,511.2 C469.9,511.5 472.1,512.4 474.7,512.3 C477.3,512.3 480.3,511.2 482.8,511.0 C485.4,510.8 487.9,510.9 490.0,511.2 C492.1,511.5 493.0,512.6 495.4,512.7 C497.8,512.9 501.9,512.1 504.5,512.2 C507.1,512.3 509.1,513.2 511.1,513.3 C513.2,513.4 514.6,513.0 516.9,512.9 C519.1,512.8 521.6,513.0 524.6,512.7 C527.7,512.4 532.3,511.1 535.3,511.3 C538.2,511.5 539.2,513.7 542.1,513.9 C545.0,514.1 549.3,512.7 552.8,512.5 C556.2,512.3 559.9,512.7 562.8,512.6 C565.6,512.6 567.0,512.3 570.1,512.4 C573.2,512.5 578.0,513.4 581.3,513.3 C584.6,513.1 586.6,511.7 589.8,511.4 C593.0,511.1 597.6,511.2 600.6,511.6 C603.6,512.0 604.9,513.5 607.8,513.8 C610.6,514.0 616.1,513.1 617.7,512.9"/><path d="M459.0,363.8 C459.3,365.1 460.8,369.3 460.7,372.0 C460.6,374.7 458.6,377.3 458.4,379.8 C458.1,382.2 459.2,384.2 459.4,386.6 C459.6,389.0 459.9,391.7 459.8,394.0 C459.6,396.3 458.7,398.1 458.7,400.3 C458.6,402.5 459.8,404.5 459.5,407.2 C459.2,410.0 457.2,413.8 456.7,416.8 C456.2,419.9 456.4,422.9 456.4,425.3 C456.4,427.7 456.6,429.0 456.9,431.2 C457.1,433.5 457.9,436.3 458.0,438.9 C458.0,441.4 457.0,444.1 457.1,446.4 C457.2,448.7 458.4,450.0 458.6,452.9 C458.8,455.8 458.6,461.1 458.4,463.6 C458.1,466.2 457.0,466.2 456.8,468.2 C456.6,470.2 457.2,472.3 457.1,475.4 C457.0,478.4 455.9,483.9 456.4,486.4 C456.9,488.9 459.7,488.1 460.3,490.3 C460.8,492.6 460.3,497.0 459.8,500.1 C459.3,503.2 457.6,506.5 457.4,508.9 C457.2,511.4 458.4,514.0 458.6,515.0"/><path d="M452.7,509.7 C453.7,509.8 456.3,510.2 458.7,510.4 C461.2,510.5 465.1,510.9 467.6,510.8 C470.1,510.6 471.1,509.5 473.5,509.3 C475.9,509.2 479.3,509.6 481.9,510.0 C484.4,510.3 486.9,511.2 489.0,511.5 C491.1,511.8 491.9,511.8 494.5,511.7 C497.0,511.6 501.8,511.1 504.5,510.9 C507.2,510.8 508.1,510.9 510.5,510.9 C512.8,510.9 516.2,510.7 518.6,510.8 C520.9,511.0 522.3,511.7 524.6,511.9 C527.0,512.0 529.7,511.8 532.7,511.9 C535.8,511.9 539.9,511.9 543.1,512.1 C546.2,512.3 548.5,513.2 551.7,513.1 C554.8,513.1 558.6,512.0 562.0,511.5 C565.3,511.1 568.6,510.3 571.9,510.5 C575.2,510.7 578.9,512.7 581.8,512.9 C584.6,513.1 586.4,511.7 589.1,511.7 C591.7,511.7 594.3,512.7 597.7,512.7 C601.2,512.8 606.5,512.3 609.8,512.1 C613.2,512.0 616.4,511.9 617.7,511.9"/><path d="M460.5,363.8 C460.8,365.0 462.1,368.4 462.3,371.2 C462.5,373.9 461.8,377.7 461.7,380.1 C461.6,382.6 462.1,384.2 461.8,386.1 C461.5,388.1 460.0,389.7 460.0,391.9 C459.9,394.2 461.6,396.8 461.6,399.7 C461.6,402.5 460.5,406.6 460.0,409.2 C459.4,411.9 458.4,413.6 458.2,415.7 C457.9,417.8 458.4,419.4 458.5,421.9 C458.6,424.4 458.7,428.0 458.8,430.9 C458.9,433.7 458.8,436.1 459.0,438.9 C459.2,441.6 459.7,444.5 460.0,447.3 C460.3,450.1 461.3,453.1 461.0,455.6 C460.7,458.1 458.5,459.7 458.3,462.2 C458.2,464.6 460.2,468.1 460.2,470.5 C460.1,472.8 458.1,474.1 458.0,476.3 C458.0,478.5 459.5,481.2 460.0,483.8 C460.6,486.4 461.2,489.5 461.3,491.8 C461.4,494.2 460.5,495.2 460.6,498.1 C460.6,501.0 461.5,506.5 461.4,509.3 C461.3,512.1 460.1,514.1 459.9,515.0"/><path d="M452.7,508.7 C454.1,508.6 458.7,508.1 461.3,508.4 C463.8,508.8 466.1,510.7 468.1,510.6 C470.1,510.5 470.8,508.0 473.1,508.1 C475.4,508.2 479.6,510.6 482.0,511.1 C484.3,511.5 484.9,511.0 487.3,510.9 C489.7,510.7 493.9,510.1 496.3,510.0 C498.8,509.9 499.7,510.4 502.0,510.3 C504.3,510.3 507.5,509.5 510.2,509.7 C513.0,509.8 516.2,511.3 518.6,511.5 C521.0,511.7 522.2,511.0 524.6,511.0 C527.0,511.0 529.8,511.1 532.9,511.4 C536.1,511.6 540.0,512.2 543.5,512.3 C547.1,512.4 551.2,512.4 554.0,512.1 C556.8,511.9 557.8,510.8 560.5,510.7 C563.2,510.6 567.0,511.5 570.1,511.7 C573.3,511.9 575.9,511.9 579.2,511.9 C582.6,511.8 586.6,511.3 590.1,511.3 C593.7,511.3 597.3,512.0 600.4,512.0 C603.6,511.9 606.2,511.4 609.1,511.2 C612.0,511.0 616.3,510.9 617.7,510.8"/><path d="M503.5,371.2 C505.7,371.0 512.5,370.6 516.8,370.1 C521.0,369.7 524.5,368.8 529.0,368.4 C533.4,368.0 539.0,368.1 543.5,367.8 C548.1,367.6 551.8,366.6 556.4,366.9 C561.0,367.2 566.2,369.0 571.1,369.7 C576.0,370.5 580.7,370.9 585.8,371.6 C590.8,372.3 596.4,373.3 601.4,373.9 C606.4,374.6 613.2,375.1 615.6,375.4"/><path d="M461.2,375.4 C462.8,378.4 467.7,387.6 471.2,393.6 C474.7,399.6 478.8,405.7 482.3,411.5 C485.7,417.4 488.5,422.8 492.1,428.7 C495.6,434.7 501.4,441.3 503.5,447.3 C505.6,453.3 503.9,459.2 504.6,464.8 C505.2,470.4 506.6,475.4 507.2,480.9 C507.9,486.5 508.0,492.3 508.4,498.0 C508.9,503.7 509.6,512.2 509.8,515.0"/><path d="M465.4,402.9 C467.9,405.9 475.4,414.6 480.3,420.9 C485.2,427.3 489.6,434.7 494.7,440.8 C499.8,447.0 505.6,451.7 510.6,457.7 C515.6,463.7 519.0,473.2 524.6,476.9 C530.3,480.7 537.6,479.4 544.5,480.3 C551.4,481.3 558.7,481.7 565.8,482.5 C572.8,483.3 579.8,484.3 586.7,485.1 C593.6,485.9 603.7,487.1 607.1,487.5"/><path d="M456.9,464.3 C459.9,464.4 468.9,464.7 474.7,465.1 C480.4,465.6 486.1,466.4 491.5,466.9 C496.9,467.5 501.3,468.0 506.9,468.6 C512.4,469.2 518.1,469.3 524.6,470.6 C531.2,471.9 539.1,474.6 546.3,476.5 C553.6,478.4 561.0,480.5 568.2,482.1 C575.3,483.7 581.9,484.6 589.1,486.2 C596.3,487.8 607.7,490.8 611.4,491.8"/><path d="M456.9,476.9 C460.7,477.4 471.8,478.9 479.3,479.8 C486.8,480.7 494.5,481.3 501.8,482.3 C509.0,483.2 515.4,484.6 522.8,485.4 C530.1,486.3 539.4,486.7 545.8,487.5 C552.2,488.3 556.1,489.3 561.2,490.4 C566.2,491.4 571.1,492.5 576.0,493.9 C580.9,495.4 585.8,497.5 590.6,498.9 C595.4,500.3 602.6,501.8 605.0,502.3"/><path d="M461.2,498.1 C464.2,497.9 473.2,496.9 479.3,496.8 C485.4,496.6 491.5,497.2 497.7,497.3 C504.0,497.4 510.5,497.4 516.8,497.1 C523.0,496.9 529.0,496.1 535.2,496.0 C541.4,495.9 547.7,496.7 554.1,496.8 C560.6,496.8 567.4,496.1 574.0,496.1 C580.5,496.1 586.7,496.5 593.3,496.8 C599.9,497.1 610.1,497.9 613.5,498.1"/><path d="M452.7,430.4 C454.7,431.3 460.3,433.8 464.7,435.8 C469.1,437.9 474.6,440.6 479.0,442.8 C483.5,445.1 487.2,447.1 491.3,449.3 C495.4,451.5 499.1,453.6 503.5,455.8 C507.8,458.0 512.5,460.3 517.2,462.7 C522.0,465.1 527.1,467.4 531.9,470.0 C536.6,472.7 541.2,476.0 545.7,478.6 C550.1,481.1 556.3,484.3 558.5,485.4"/><path d="M452.7,449.4 C455.4,450.1 463.5,451.8 468.8,453.4 C474.0,455.0 479.3,457.5 484.3,459.3 C489.4,461.0 493.9,462.3 498.9,463.9 C503.8,465.4 507.6,466.9 514.1,468.5 C520.5,470.1 529.7,472.1 537.7,473.6 C545.8,475.2 554.8,476.6 562.6,477.9 C570.5,479.1 577.0,480.0 584.7,481.2 C592.5,482.5 605.2,484.7 609.3,485.4"/><path d="M469.6,402.9 C470.5,405.9 473.1,414.5 474.8,420.8 C476.5,427.0 478.5,434.2 479.9,440.4 C481.3,446.6 481.7,451.9 483.1,458.0 C484.6,464.1 487.9,472.3 488.7,476.9 C489.4,481.6 487.8,483.4 487.4,486.2 C487.1,488.9 487.0,490.7 486.5,493.4 C486.0,496.2 485.3,499.6 484.6,502.5 C483.9,505.4 482.7,509.4 482.3,510.8"/><path d="M507.7,366.9 C505.9,369.5 500.5,377.1 496.9,382.3 C493.2,387.4 489.3,392.5 485.8,397.7 C482.3,403.0 479.2,408.3 475.8,413.8 C472.4,419.2 467.1,427.6 465.4,430.4"/><path d="M535.2,515.0 C535.7,514.3 537.2,512.0 538.3,510.4 C539.4,508.9 540.6,507.2 541.9,506.0 C543.1,504.8 544.5,504.6 545.8,503.3 C547.2,502.0 547.0,498.6 550.0,498.1 C553.1,497.6 559.4,499.6 564.2,500.5 C568.9,501.3 573.8,502.4 578.7,503.3 C583.6,504.1 588.8,504.8 593.5,505.3 C598.3,505.9 604.9,506.4 607.1,506.6"/><path d="M456.9,381.7 C457.9,381.6 461.1,381.2 463.0,380.6 C464.8,380.0 466.6,378.9 468.3,378.2 C469.9,377.6 471.4,377.1 473.0,376.6 C474.6,376.2 476.0,375.4 478.1,375.4 C480.1,375.4 483.0,376.1 485.3,376.5 C487.6,377.0 489.9,377.3 491.8,378.0 C493.7,378.7 494.9,380.0 496.8,380.6 C498.8,381.3 502.4,381.6 503.5,381.7"/><path d="M461.2,392.3 C461.9,392.8 464.2,393.7 465.5,394.9 C466.8,396.1 467.6,398.3 468.9,399.4 C470.2,400.6 471.7,400.9 473.3,401.9 C474.8,402.8 477.4,404.1 478.1,405.0 C478.7,405.9 477.7,406.5 477.2,407.1 C476.6,407.7 475.4,407.8 474.9,408.6 C474.4,409.3 474.7,410.7 474.2,411.6 C473.7,412.4 472.1,413.2 471.7,413.5"/><path d="M459.0,371.2 C458.8,370.9 458.0,370.3 457.6,369.7 C457.3,369.2 457.4,368.4 457.1,367.8 C456.9,367.2 456.6,366.5 456.1,366.1 C455.6,365.7 454.5,365.5 454.1,365.6 C453.7,365.7 453.3,366.5 453.5,366.9 C453.7,367.3 454.9,367.4 455.2,367.9 C455.6,368.4 455.5,369.2 455.6,369.9 C455.7,370.5 455.9,371.2 455.9,371.8 C455.8,372.5 455.8,373.4 455.4,373.8 C455.0,374.2 454.1,374.3 453.5,374.3 C452.8,374.4 451.9,374.5 451.5,374.2 C451.0,373.8 450.8,372.8 450.8,372.3 C450.7,371.8 451.1,371.0 451.1,371.1 C451.2,371.3 451.1,372.6 451.2,373.1 C451.4,373.6 451.6,374.2 452.0,374.1 C452.3,374.0 452.8,373.0 453.3,372.6 C453.8,372.2 454.6,371.9 454.9,371.4 C455.2,370.9 455.4,369.9 455.2,369.4 C454.9,368.9 454.0,368.4 453.5,368.4 C452.9,368.4 452.1,369.3 451.8,369.5 C451.5,369.6 451.4,369.2 451.7,369.2 C452.1,369.2 453.1,369.3 453.7,369.5 C454.4,369.6 455.0,370.0 455.6,370.2 C456.2,370.4 457.1,370.3 457.6,370.6 C458.0,371.0 458.3,371.8 458.4,372.5 C458.5,373.1 458.1,373.8 458.1,374.4 C458.1,375.1 458.5,375.7 458.5,376.4 C458.5,377.1 458.0,378.1 458.1,378.4 C458.2,378.7 458.8,378.6 459.1,378.3 C459.5,378.0 460.1,377.2 460.1,376.6 C460.2,376.0 459.5,375.3 459.6,374.7 C459.7,374.1 460.5,373.7 460.9,373.2 C461.4,372.7 462.1,372.3 462.3,371.8 C462.6,371.2 462.0,370.3 462.2,369.8 C462.5,369.3 463.6,369.3 464.0,368.9 C464.5,368.4 464.7,367.4 464.8,367.0 C464.9,366.7 464.9,366.5 464.8,366.8 C464.7,367.1 464.2,368.1 464.3,368.7 C464.5,369.3 465.4,369.7 465.5,370.3 C465.7,370.9 465.7,371.8 465.4,372.3 C465.1,372.8 464.3,373.3 463.7,373.4 C463.1,373.5 462.4,373.0 461.9,372.7 C461.3,372.3 460.8,371.8 460.4,371.3 C460.1,370.7 460.0,369.9 459.6,369.5 C459.1,369.1 458.0,369.3 457.7,368.9 C457.3,368.4 457.7,367.5 457.5,366.9 C457.4,366.2 456.7,365.5 456.6,365.1 C456.5,364.7 456.5,364.7 456.8,364.7 C457.2,364.8 458.1,365.2 458.8,365.3 C459.4,365.3 460.4,365.0 460.7,365.0"/><path d="M456.9,502.3 C456.6,502.3 455.6,502.2 454.9,502.2 C454.3,502.2 453.6,502.3 452.9,502.4 C452.3,502.6 451.4,502.8 451.1,503.2 C450.8,503.7 451.2,504.6 451.1,505.2 C451.0,505.9 450.3,506.7 450.4,507.1 C450.5,507.5 451.7,507.9 451.7,507.8 C451.6,507.7 450.4,507.0 450.1,506.6 C449.8,506.1 449.7,505.2 450.0,505.2 C450.2,505.2 451.1,506.0 451.4,506.5 C451.8,507.1 451.7,507.8 451.9,508.5 C452.2,509.1 452.3,509.9 452.8,510.3 C453.3,510.6 454.1,510.4 454.8,510.7 C455.4,510.9 456.0,511.2 456.5,511.6 C457.0,512.0 457.6,512.9 458.0,513.0 C458.4,513.0 458.7,512.4 459.0,511.9 C459.2,511.4 459.4,510.6 459.5,510.0 C459.6,509.3 459.4,508.6 459.4,508.0 C459.4,507.3 459.7,506.4 459.4,506.0 C459.1,505.5 458.1,505.1 457.5,505.1 C456.9,505.1 456.2,505.5 455.7,506.0 C455.3,506.4 455.0,507.2 455.0,507.8 C455.0,508.4 455.3,509.2 455.7,509.7 C456.1,510.1 456.9,510.6 457.5,510.5 C458.1,510.5 458.7,509.6 459.3,509.6 C459.8,509.5 460.7,510.4 461.0,510.5 C461.4,510.6 461.6,510.2 461.4,509.9 C461.2,509.6 460.3,509.1 459.9,508.6 C459.4,508.2 459.0,507.5 458.5,507.2 C458.0,506.8 457.0,507.0 456.6,506.6 C456.2,506.2 455.9,505.4 455.8,504.7 C455.8,504.1 456.1,503.4 456.2,502.8 C456.3,502.1 456.5,501.2 456.2,500.8 C455.9,500.3 454.9,499.8 454.4,499.9 C453.9,500.0 453.1,500.8 453.0,501.3 C452.8,501.9 453.5,502.6 453.6,503.2 C453.6,503.9 452.9,504.6 453.1,505.2 C453.3,505.7 454.1,506.0 454.7,506.4 C455.2,506.8 455.8,507.1 456.4,507.5 C457.0,507.8 457.5,508.3 458.1,508.6 C458.7,508.9 459.3,509.1 460.0,509.1 C460.6,509.2 461.6,508.8 461.9,508.7 C462.3,508.7 461.9,509.0 462.0,508.7 C462.1,508.3 462.6,507.4 462.7,506.8 C462.9,506.2 463.1,505.2 462.9,505.0 C462.6,504.9 461.7,506.0 461.1,506.0 C460.6,506.0 459.9,505.4 459.5,504.9 C459.0,504.4 459.0,503.6 458.5,503.1 C458.0,502.7 457.3,502.3 456.7,502.3 C456.1,502.3 455.3,502.7 454.9,503.2 C454.5,503.6 454.4,504.8 454.3,505.1"/><path d="M607.1,498.1 C607.5,498.2 608.4,498.5 609.0,498.9 C609.6,499.2 610.0,499.9 610.6,500.1 C611.2,500.2 612.1,500.3 612.6,500.0 C613.1,499.7 613.4,498.8 613.6,498.2 C613.8,497.6 613.8,496.9 613.8,496.2 C613.9,495.6 613.9,494.6 613.9,494.2 C613.9,493.9 614.1,494.2 613.8,494.1 C613.5,493.9 612.4,493.9 611.9,493.5 C611.4,493.1 611.4,492.2 610.9,491.7 C610.5,491.3 609.6,491.2 609.2,490.8 C608.8,490.3 608.9,489.0 608.6,488.9 C608.2,488.7 607.2,489.2 607.1,489.6 C607.1,490.0 607.9,490.7 608.3,491.2 C608.6,491.8 608.8,492.5 609.3,493.0 C609.8,493.4 610.6,493.4 611.2,493.7 C611.8,494.0 612.3,494.5 612.9,494.7 C613.6,494.8 614.6,494.2 614.9,494.5 C615.2,494.7 615.0,495.9 614.7,496.2 C614.3,496.4 613.3,496.4 612.7,496.2 C612.1,496.0 611.7,495.1 611.1,494.9 C610.5,494.8 609.5,494.7 609.1,495.1 C608.7,495.4 608.6,496.3 608.5,497.0 C608.3,497.6 608.5,498.5 608.1,499.0 C607.8,499.4 607.0,499.7 606.4,499.9 C605.8,500.1 605.0,499.9 604.4,500.2 C603.8,500.5 603.4,501.1 603.0,501.6 C602.5,502.1 601.9,502.4 601.5,503.0 C601.1,503.5 600.8,504.5 600.7,504.8 C600.6,505.0 600.7,504.9 600.8,504.5 C600.9,504.2 601.5,503.2 601.4,502.6 C601.3,502.0 600.4,501.4 600.4,500.9 C600.5,500.3 601.7,499.9 601.7,499.4 C601.8,498.8 601.4,497.9 600.9,497.5 C600.5,497.1 599.3,497.0 599.0,496.9 C598.7,496.9 598.8,497.5 599.1,497.4 C599.4,497.3 600.2,496.7 600.8,496.4 C601.4,496.1 602.0,495.8 602.6,495.6 C603.2,495.3 604.0,495.2 604.4,494.7 C604.8,494.3 604.6,493.3 605.0,492.8 C605.4,492.4 606.2,492.1 606.8,491.9 C607.5,491.8 608.3,492.2 608.8,492.0 C609.4,491.8 610.1,491.2 610.3,490.7 C610.6,490.1 610.7,488.9 610.4,488.7 C610.1,488.5 608.6,489.2 608.5,489.5 C608.5,489.9 609.6,490.3 610.1,490.9 C610.5,491.4 610.9,492.0 611.1,492.6 C611.2,493.2 610.9,494.0 611.1,494.6 C611.2,495.2 612.1,495.6 612.2,496.2 C612.3,496.8 612.1,497.7 611.7,498.1 C611.3,498.6 610.2,498.7 609.9,498.8"/><path d="M471.7,402.9 C471.6,403.2 470.9,404.0 470.8,404.7 C470.7,405.3 471.4,405.9 471.4,406.6 C471.4,407.2 470.8,408.0 470.9,408.5 C471.1,409.1 472.0,409.7 472.4,409.9 C472.7,410.1 472.9,410.2 473.0,409.9 C473.1,409.6 473.3,408.4 473.0,407.9 C472.7,407.4 471.8,407.1 471.2,407.1 C470.6,407.1 469.8,407.7 469.4,407.9 C469.0,408.1 469.0,408.5 469.1,408.3 C469.1,408.0 469.4,406.8 469.8,406.4 C470.2,406.0 471.0,405.7 471.7,405.7 C472.3,405.7 473.0,406.4 473.5,406.4 C474.1,406.5 474.7,405.7 474.8,405.9 C474.8,406.1 474.2,407.1 473.8,407.6 C473.5,408.2 472.9,409.0 472.7,409.3 C472.5,409.6 472.9,409.8 472.7,409.6 C472.5,409.4 471.6,408.6 471.5,408.0 C471.4,407.4 472.2,406.8 472.3,406.2 C472.4,405.5 472.2,404.8 472.1,404.2 C471.9,403.5 471.4,403.0 471.3,402.3 C471.2,401.7 471.1,400.8 471.4,400.3 C471.7,399.8 472.9,399.9 473.2,399.4 C473.5,398.9 473.2,397.8 473.2,397.4 C473.3,397.0 473.5,396.7 473.3,396.9 C473.1,397.1 472.3,397.9 472.1,398.5 C472.0,399.1 472.3,400.0 472.7,400.5 C473.1,400.9 474.1,401.0 474.6,401.2 C475.0,401.3 475.7,401.2 475.6,401.4 C475.5,401.6 474.4,402.1 473.8,402.3 C473.1,402.4 472.2,402.5 471.8,402.2 C471.3,401.9 471.1,401.0 471.0,400.4 C470.8,399.7 471.0,399.0 470.9,398.4 C470.9,397.7 470.4,396.9 470.6,396.4 C470.8,395.9 471.8,395.1 472.3,395.3 C472.8,395.5 473.7,397.3 473.6,397.6 C473.5,397.8 472.3,397.1 471.7,396.9 C471.0,396.7 470.3,396.4 469.8,396.4 C469.2,396.5 468.5,397.3 468.6,397.2 C468.7,397.2 469.6,396.3 470.2,396.0 C470.8,395.7 471.6,395.2 472.1,395.4 C472.7,395.6 473.7,397.0 473.6,397.3 C473.5,397.5 472.2,396.9 471.6,397.0 C471.1,397.0 470.3,397.2 470.2,397.6 C470.0,398.0 470.6,398.9 470.6,399.5 C470.7,400.2 470.7,400.9 470.5,401.5 C470.4,402.2 469.9,403.0 469.6,403.3 C469.2,403.6 468.3,403.3 468.4,403.4 C468.5,403.6 469.6,404.0 470.2,404.2 C470.9,404.5 471.8,404.4 472.1,404.9 C472.5,405.3 472.4,406.5 472.5,406.8"/><path d="M454.8,438.9 C454.9,438.5 454.8,437.3 455.3,436.9 C455.7,436.5 456.8,436.8 457.2,436.6 C457.6,436.4 457.9,435.9 457.7,435.8 C457.4,435.6 456.3,435.9 455.7,435.8 C455.0,435.8 454.3,435.6 453.8,435.3 C453.3,434.9 453.0,433.8 452.7,433.6 C452.3,433.3 451.6,433.7 451.8,433.7 C452.0,433.8 453.2,434.1 453.8,433.9 C454.4,433.7 455.1,433.2 455.3,432.7 C455.6,432.1 455.5,431.2 455.3,430.7 C455.0,430.1 454.1,429.3 453.6,429.5 C453.2,429.7 452.2,431.1 452.3,431.6 C452.4,432.2 453.4,432.4 454.0,432.8 C454.5,433.2 455.2,433.5 455.5,434.0 C455.8,434.6 455.8,435.6 455.5,436.0 C455.3,436.5 454.3,436.5 453.7,436.9 C453.1,437.2 452.3,437.5 452.0,437.9 C451.8,438.4 451.9,439.5 452.2,439.7 C452.6,439.8 453.7,439.4 454.1,438.9 C454.5,438.5 454.4,437.6 454.6,437.0 C454.7,436.3 454.7,435.5 455.1,435.0 C455.5,434.6 456.5,434.6 456.9,434.1 C457.3,433.7 457.4,432.8 457.3,432.2 C457.3,431.6 456.7,431.0 456.6,430.3 C456.5,429.7 456.9,428.8 456.7,428.3 C456.4,427.8 455.3,427.7 455.0,427.2 C454.7,426.6 454.7,425.8 454.9,425.2 C455.0,424.5 455.6,423.4 455.9,423.4 C456.1,423.4 456.8,424.8 456.6,425.2 C456.4,425.6 455.1,425.4 454.7,425.7 C454.2,426.1 454.2,426.8 453.8,427.5 C453.4,428.3 452.4,429.9 452.5,430.3 C452.6,430.7 453.8,430.1 454.4,429.9 C455.1,429.7 455.7,428.7 456.2,429.0 C456.7,429.2 457.6,431.0 457.5,431.4 C457.4,431.7 456.0,430.8 455.5,431.0 C455.0,431.2 454.8,432.2 454.3,432.6 C453.8,433.0 452.8,433.0 452.5,433.5 C452.2,434.0 452.5,434.8 452.5,435.5 C452.4,436.2 452.1,436.9 452.2,437.5 C452.3,438.1 452.8,438.7 453.2,439.2 C453.5,439.7 454.0,440.2 454.5,440.7 C455.0,441.1 455.7,441.4 456.1,441.9 C456.5,442.4 456.8,443.1 457.0,443.7 C457.1,444.3 457.1,445.3 457.2,445.7 C457.3,446.0 457.7,445.9 457.4,445.7 C457.2,445.6 456.1,445.3 455.6,444.9 C455.2,444.4 455.2,443.4 454.8,443.1 C454.3,442.8 453.3,443.2 452.8,443.0 C452.2,442.7 451.8,441.9 451.6,441.7"/></g>
<text transform="translate(536.7,353.5) scale(0.86,1)" text-anchor="middle" font-size="20" fill="#1a1a1a">NPs-COOH+MPs</text>
<path d="M137.5,233.0 V143.1 H165.5 V233.0" fill="none" stroke="#9e2a2b" stroke-width="2.3"/>
<path d="M177.5,233.0 V164.3 H205.5 V233.0" fill="none" stroke="#4a7bd6" stroke-width="2.3"/>
<path d="M217.5,233.0 V166.0 H245.5 V233.0" fill="none" stroke="#dcab6c" stroke-width="2.3"/>
<path d="M151.5,121.0 V163.0 M145.0,121.0 H158.0 M145.0,163.0 H158.0" fill="none" stroke="#9e2a2b" stroke-width="1.1" opacity="0.6"/>
<path d="M191.5,136.0 V193.4 M185.0,136.0 H198.0 M185.0,193.4 H198.0" fill="none" stroke="#4a7bd6" stroke-width="1.1" opacity="0.6"/>
<path d="M231.5,146.5 V186.0 M225.0,146.5 H238.0 M225.0,186.0 H238.0" fill="none" stroke="#dcab6c" stroke-width="1.1" opacity="0.6"/>
<circle cx="151.1" cy="110.5" r="2.80" fill="#111"/>
<circle cx="146.9" cy="118.7" r="2.80" fill="#111"/>
<circle cx="159.3" cy="120.8" r="2.80" fill="#111"/>
<circle cx="155.2" cy="115.6" r="2.80" fill="#111"/>
<circle cx="142.8" cy="122.8" r="2.80" fill="#111"/>
<circle cx="151.1" cy="126.9" r="2.80" fill="#111"/>
<circle cx="155.2" cy="129.0" r="2.80" fill="#111"/>
<circle cx="146.9" cy="136.2" r="2.80" fill="#111"/>
<circle cx="141.8" cy="142.0" r="2.80" fill="#111"/>
<circle cx="153.1" cy="142.0" r="2.80" fill="#111"/>
<circle cx="161.8" cy="143.0" r="2.80" fill="#111"/>
<circle cx="148.0" cy="146.5" r="2.80" fill="#111"/>
<circle cx="154.1" cy="148.6" r="2.80" fill="#111"/>
<circle cx="155.2" cy="153.7" r="2.80" fill="#111"/>
<circle cx="142.8" cy="157.8" r="2.80" fill="#111"/>
<circle cx="146.9" cy="163.0" r="2.80" fill="#111"/>
<circle cx="155.2" cy="167.5" r="2.80" fill="#111"/>
<circle cx="148.0" cy="178.4" r="2.80" fill="#111"/>
<circle cx="155.2" cy="177.0" r="2.80" fill="#111"/>
<rect x="185.5" y="114.7" width="5.2" height="5.2" fill="#111"/>
<rect x="192.7" y="114.7" width="5.2" height="5.2" fill="#111"/>
<rect x="188.6" y="122.3" width="5.2" height="5.2" fill="#111"/>
<rect x="184.5" y="134.0" width="5.2" height="5.2" fill="#111"/>
<rect x="191.7" y="134.0" width="5.2" height="5.2" fill="#111"/>
<rect x="180.4" y="153.8" width="5.2" height="5.2" fill="#111"/>
<rect x="188.6" y="159.3" width="5.2" height="5.2" fill="#111"/>
<rect x="196.9" y="158.7" width="5.2" height="5.2" fill="#111"/>
<rect x="178.3" y="166.6" width="5.2" height="5.2" fill="#111"/>
<rect x="187.6" y="166.1" width="5.2" height="5.2" fill="#111"/>
<rect x="198.9" y="166.1" width="5.2" height="5.2" fill="#111"/>
<rect x="184.5" y="169.6" width="5.2" height="5.2" fill="#111"/>
<rect x="189.6" y="172.7" width="5.2" height="5.2" fill="#111"/>
<rect x="184.5" y="183.0" width="5.2" height="5.2" fill="#111"/>
<rect x="192.7" y="183.0" width="5.2" height="5.2" fill="#111"/>
<rect x="184.5" y="199.5" width="5.2" height="5.2" fill="#111"/>
<rect x="192.7" y="199.5" width="5.2" height="5.2" fill="#111"/>
<rect x="188.6" y="211.5" width="5.2" height="5.2" fill="#111"/>
<path d="M227.3,129.5 L229.9,134.0 L224.6,134.0Z" fill="#111"/>
<path d="M239.6,134.0 L242.3,138.6 L237.0,138.6Z" fill="#111"/>
<path d="M235.5,139.8 L238.1,144.3 L232.8,144.3Z" fill="#111"/>
<path d="M223.1,144.9 L225.8,149.5 L220.5,149.5Z" fill="#111"/>
<path d="M228.3,149.0 L230.9,153.6 L225.6,153.6Z" fill="#111"/>
<path d="M236.5,152.5 L239.2,157.1 L233.9,157.1Z" fill="#111"/>
<path d="M224.2,158.3 L226.8,162.9 L221.5,162.9Z" fill="#111"/>
<path d="M231.4,162.0 L234.0,166.6 L228.7,166.6Z" fill="#111"/>
<path d="M239.6,161.4 L242.3,166.0 L237.0,166.0Z" fill="#111"/>
<path d="M224.2,170.7 L226.8,175.2 L221.5,175.2Z" fill="#111"/>
<path d="M232.4,170.3 L235.1,174.8 L229.8,174.8Z" fill="#111"/>
<path d="M239.6,171.7 L242.3,176.3 L237.0,176.3Z" fill="#111"/>
<path d="M227.3,178.9 L229.9,183.5 L224.6,183.5Z" fill="#111"/>
<path d="M232.4,178.9 L235.1,183.5 L229.8,183.5Z" fill="#111"/>
<path d="M224.2,188.2 L226.8,192.7 L221.5,192.7Z" fill="#111"/>
<path d="M235.5,186.1 L238.1,190.7 L232.8,190.7Z" fill="#111"/>
<path d="M231.4,195.4 L234.0,199.9 L228.7,199.9Z" fill="#111"/>
<path d="M239.6,194.4 L242.3,198.9 L237.0,198.9Z" fill="#111"/>
<path d="M131.3,68.5 V233.0 H252.0" fill="none" stroke="#1a1a1a" stroke-width="2"/>
<path d="M124.3,233.0 H131.3" stroke="#1a1a1a" stroke-width="2"/>
<text x="122.8" y="237.6" text-anchor="end" font-size="13" font-weight="bold" fill="#1a1a1a" stroke="#1a1a1a" stroke-width="0.35">0</text>
<path d="M124.3,200.3 H131.3" stroke="#1a1a1a" stroke-width="2"/>
<text x="122.8" y="204.9" text-anchor="end" font-size="13" font-weight="bold" fill="#1a1a1a" stroke="#1a1a1a" stroke-width="0.35">10</text>
<path d="M124.3,167.6 H131.3" stroke="#1a1a1a" stroke-width="2"/>
<text x="122.8" y="172.2" text-anchor="end" font-size="13" font-weight="bold" fill="#1a1a1a" stroke="#1a1a1a" stroke-width="0.35">20</text>
<path d="M124.3,134.9 H131.3" stroke="#1a1a1a" stroke-width="2"/>
<text x="122.8" y="139.5" text-anchor="end" font-size="13" font-weight="bold" fill="#1a1a1a" stroke="#1a1a1a" stroke-width="0.35">30</text>
<path d="M124.3,102.2 H131.3" stroke="#1a1a1a" stroke-width="2"/>
<text x="122.8" y="106.8" text-anchor="end" font-size="13" font-weight="bold" fill="#1a1a1a" stroke="#1a1a1a" stroke-width="0.35">40</text>
<path d="M124.3,69.5 H131.3" stroke="#1a1a1a" stroke-width="2"/>
<text x="122.8" y="74.1" text-anchor="end" font-size="13" font-weight="bold" fill="#1a1a1a" stroke="#1a1a1a" stroke-width="0.35">50</text>
<path d="M151.5,233.0 V239.5" stroke="#1a1a1a" stroke-width="2"/>
<text transform="translate(153.5,250.0) rotate(-45)" text-anchor="end" font-size="12.3" font-weight="bold" fill="#1a1a1a" stroke="#1a1a1a" stroke-width="0.35">CON</text>
<path d="M191.5,233.0 V239.5" stroke="#1a1a1a" stroke-width="2"/>
<text transform="translate(193.5,250.0) rotate(-45)" text-anchor="end" font-size="12.3" font-weight="bold" fill="#1a1a1a" stroke="#1a1a1a" stroke-width="0.35">NPs+MPs</text>
<path d="M231.5,233.0 V239.5" stroke="#1a1a1a" stroke-width="2"/>
<text transform="translate(233.5,250.0) rotate(-45)" text-anchor="end" font-size="12.3" font-weight="bold" fill="#1a1a1a" stroke="#1a1a1a" stroke-width="0.35">NPs-COOH+MPs</text>
<text transform="translate(100.0,151.0) scale(1,1) rotate(-90)" text-anchor="middle" font-size="15.3" font-weight="bold" fill="#1a1a1a" stroke="#1a1a1a" stroke-width="0.4">Distance in open (%)</text>
<text x="192.2" y="114.5" text-anchor="middle" font-size="14" font-weight="bold" fill="#7a7a7a" stroke="#7a7a7a" stroke-width="0.6" letter-spacing="2">*</text>
<text x="232.4" y="129.5" text-anchor="middle" font-size="14" font-weight="bold" fill="#7a7a7a" stroke="#7a7a7a" stroke-width="0.6" letter-spacing="2">**</text>
<path d="M331.6,232.6 V128.1 H359.6 V232.6" fill="none" stroke="#9e2a2b" stroke-width="2.3"/>
<path d="M372.0,232.6 V170.5 H400.0 V232.6" fill="none" stroke="#4a7bd6" stroke-width="2.3"/>
<path d="M412.0,232.6 V167.3 H440.0 V232.6" fill="none" stroke="#dcab6c" stroke-width="2.3"/>
<path d="M345.6,103.2 V151.6 M339.1,103.2 H352.1 M339.1,151.6 H352.1" fill="none" stroke="#9e2a2b" stroke-width="1.1" opacity="0.6"/>
<path d="M386.0,144.4 V197.0 M379.5,144.4 H392.5 M379.5,197.0 H392.5" fill="none" stroke="#4a7bd6" stroke-width="1.1" opacity="0.6"/>
<path d="M426.0,144.4 V190.8 M419.5,144.4 H432.5 M419.5,190.8 H432.5" fill="none" stroke="#dcab6c" stroke-width="1.1" opacity="0.6"/>
<circle cx="341.1" cy="96.0" r="2.80" fill="#111"/>
<circle cx="349.3" cy="95.0" r="2.80" fill="#111"/>
<circle cx="353.4" cy="100.2" r="2.80" fill="#111"/>
<circle cx="336.9" cy="104.3" r="2.80" fill="#111"/>
<circle cx="345.2" cy="105.3" r="2.80" fill="#111"/>
<circle cx="355.5" cy="108.4" r="2.80" fill="#111"/>
<circle cx="335.9" cy="112.5" r="2.80" fill="#111"/>
<circle cx="343.1" cy="114.6" r="2.80" fill="#111"/>
<circle cx="349.3" cy="114.0" r="2.80" fill="#111"/>
<circle cx="341.1" cy="120.8" r="2.80" fill="#111"/>
<circle cx="349.3" cy="126.9" r="2.80" fill="#111"/>
<circle cx="335.9" cy="137.2" r="2.80" fill="#111"/>
<circle cx="342.1" cy="138.7" r="2.80" fill="#111"/>
<circle cx="349.3" cy="137.8" r="2.80" fill="#111"/>
<circle cx="356.5" cy="136.2" r="2.80" fill="#111"/>
<circle cx="336.9" cy="153.7" r="2.80" fill="#111"/>
<circle cx="353.4" cy="153.1" r="2.80" fill="#111"/>
<circle cx="345.2" cy="158.9" r="2.80" fill="#111"/>
<circle cx="349.3" cy="167.1" r="2.80" fill="#111"/>
<circle cx="341.1" cy="173.7" r="2.80" fill="#111"/>
<rect x="383.8" y="118.2" width="5.2" height="5.2" fill="#111"/>
<rect x="378.6" y="129.9" width="5.2" height="5.2" fill="#111"/>
<rect x="386.9" y="129.9" width="5.2" height="5.2" fill="#111"/>
<rect x="383.8" y="140.8" width="5.2" height="5.2" fill="#111"/>
<rect x="374.5" y="153.8" width="5.2" height="5.2" fill="#111"/>
<rect x="391.0" y="153.8" width="5.2" height="5.2" fill="#111"/>
<rect x="383.8" y="157.9" width="5.2" height="5.2" fill="#111"/>
<rect x="378.6" y="168.6" width="5.2" height="5.2" fill="#111"/>
<rect x="386.9" y="168.6" width="5.2" height="5.2" fill="#111"/>
<rect x="374.5" y="173.8" width="5.2" height="5.2" fill="#111"/>
<rect x="391.0" y="172.7" width="5.2" height="5.2" fill="#111"/>
<rect x="383.8" y="178.9" width="5.2" height="5.2" fill="#111"/>
<rect x="383.8" y="187.1" width="5.2" height="5.2" fill="#111"/>
<rect x="374.5" y="192.3" width="5.2" height="5.2" fill="#111"/>
<rect x="391.0" y="192.3" width="5.2" height="5.2" fill="#111"/>
<rect x="383.8" y="199.5" width="5.2" height="5.2" fill="#111"/>
<rect x="387.9" y="203.6" width="5.2" height="5.2" fill="#111"/>
<rect x="378.6" y="208.2" width="5.2" height="5.2" fill="#111"/>
<path d="M426.5,119.2 L429.2,123.7 L423.9,123.7Z" fill="#111"/>
<path d="M426.5,127.4 L429.2,132.0 L423.9,132.0Z" fill="#111"/>
<path d="M418.3,143.9 L420.9,148.4 L415.6,148.4Z" fill="#111"/>
<path d="M434.8,143.9 L437.4,148.4 L432.1,148.4Z" fill="#111"/>
<path d="M426.5,153.2 L429.2,157.7 L423.9,157.7Z" fill="#111"/>
<path d="M418.3,161.4 L420.9,166.0 L415.6,166.0Z" fill="#111"/>
<path d="M426.5,165.5 L429.2,170.1 L423.9,170.1Z" fill="#111"/>
<path d="M437.8,165.5 L440.5,170.1 L435.2,170.1Z" fill="#111"/>
<path d="M433.7,169.6 L436.4,174.2 L431.1,174.2Z" fill="#111"/>
<path d="M418.3,174.8 L420.9,179.3 L415.6,179.3Z" fill="#111"/>
<path d="M426.5,174.8 L429.2,179.3 L423.9,179.3Z" fill="#111"/>
<path d="M434.8,174.8 L437.4,179.3 L432.1,179.3Z" fill="#111"/>
<path d="M422.4,182.0 L425.1,186.5 L419.8,186.5Z" fill="#111"/>
<path d="M429.6,182.0 L432.3,186.5 L427.0,186.5Z" fill="#111"/>
<path d="M418.3,191.3 L420.9,195.8 L415.6,195.8Z" fill="#111"/>
<path d="M426.5,187.1 L429.2,191.7 L423.9,191.7Z" fill="#111"/>
<path d="M434.8,188.2 L437.4,192.7 L432.1,192.7Z" fill="#111"/>
<path d="M426.5,202.6 L429.2,207.1 L423.9,207.1Z" fill="#111"/>
<path d="M325.2,68.3 V232.6 H447.0" fill="none" stroke="#1a1a1a" stroke-width="2"/>
<path d="M318.2,232.6 H325.2" stroke="#1a1a1a" stroke-width="2"/>
<text x="316.7" y="237.2" text-anchor="end" font-size="13" font-weight="bold" fill="#1a1a1a" stroke="#1a1a1a" stroke-width="0.35">0</text>
<path d="M318.2,199.9 H325.2" stroke="#1a1a1a" stroke-width="2"/>
<text x="316.7" y="204.5" text-anchor="end" font-size="13" font-weight="bold" fill="#1a1a1a" stroke="#1a1a1a" stroke-width="0.35">10</text>
<path d="M318.2,167.3 H325.2" stroke="#1a1a1a" stroke-width="2"/>
<text x="316.7" y="171.9" text-anchor="end" font-size="13" font-weight="bold" fill="#1a1a1a" stroke="#1a1a1a" stroke-width="0.35">20</text>
<path d="M318.2,134.6 H325.2" stroke="#1a1a1a" stroke-width="2"/>
<text x="316.7" y="139.2" text-anchor="end" font-size="13" font-weight="bold" fill="#1a1a1a" stroke="#1a1a1a" stroke-width="0.35">30</text>
<path d="M318.2,102.0 H325.2" stroke="#1a1a1a" stroke-width="2"/>
<text x="316.7" y="106.6" text-anchor="end" font-size="13" font-weight="bold" fill="#1a1a1a" stroke="#1a1a1a" stroke-width="0.35">40</text>
<path d="M318.2,69.3 H325.2" stroke="#1a1a1a" stroke-width="2"/>
<text x="316.7" y="73.9" text-anchor="end" font-size="13" font-weight="bold" fill="#1a1a1a" stroke="#1a1a1a" stroke-width="0.35">50</text>
<path d="M345.6,232.6 V239.1" stroke="#1a1a1a" stroke-width="2"/>
<text transform="translate(347.6,249.6) rotate(-45)" text-anchor="end" font-size="12.3" font-weight="bold" fill="#1a1a1a" stroke="#1a1a1a" stroke-width="0.35">CON</text>
<path d="M386.0,232.6 V239.1" stroke="#1a1a1a" stroke-width="2"/>
<text transform="translate(388.0,249.6) rotate(-45)" text-anchor="end" font-size="12.3" font-weight="bold" fill="#1a1a1a" stroke="#1a1a1a" stroke-width="0.35">NPs+MPs</text>
<path d="M426.0,232.6 V239.1" stroke="#1a1a1a" stroke-width="2"/>
<text transform="translate(428.0,249.6) rotate(-45)" text-anchor="end" font-size="12.3" font-weight="bold" fill="#1a1a1a" stroke="#1a1a1a" stroke-width="0.35">NPs-COOH+MPs</text>
<text transform="translate(294.0,150.1) scale(1,1) rotate(-90)" text-anchor="middle" font-size="15.2" font-weight="bold" fill="#1a1a1a" stroke="#1a1a1a" stroke-width="0.4">Time in open (%)</text>
<text x="387.3" y="115.0" text-anchor="middle" font-size="14" font-weight="bold" fill="#7a7a7a" stroke="#7a7a7a" stroke-width="0.6" letter-spacing="2">**</text>
<text x="427.5" y="115.5" text-anchor="middle" font-size="14" font-weight="bold" fill="#7a7a7a" stroke="#7a7a7a" stroke-width="0.6" letter-spacing="2">**</text>
<path d="M536.3,232.6 V147.9 H564.3 V232.6" fill="none" stroke="#9e2a2b" stroke-width="2.3"/>
<path d="M576.5,232.6 V170.8 H604.5 V232.6" fill="none" stroke="#4a7bd6" stroke-width="2.3"/>
<path d="M616.4,232.6 V178.5 H644.4 V232.6" fill="none" stroke="#dcab6c" stroke-width="2.3"/>
<path d="M550.3,124.3 V171.2 M543.8,124.3 H556.8 M543.8,171.2 H556.8" fill="none" stroke="#9e2a2b" stroke-width="1.1" opacity="0.6"/>
<path d="M590.5,153.7 V187.7 M584.0,153.7 H597.0 M584.0,187.7 H597.0" fill="none" stroke="#4a7bd6" stroke-width="1.1" opacity="0.6"/>
<path d="M630.4,153.7 V204.2 M623.9,153.7 H636.9 M623.9,204.2 H636.9" fill="none" stroke="#dcab6c" stroke-width="1.1" opacity="0.6"/>
<circle cx="549.9" cy="101.2" r="2.80" fill="#111"/>
<circle cx="546.2" cy="112.5" r="2.80" fill="#111"/>
<circle cx="554.0" cy="112.5" r="2.80" fill="#111"/>
<circle cx="554.0" cy="123.4" r="2.80" fill="#111"/>
<circle cx="546.2" cy="129.0" r="2.80" fill="#111"/>
<circle cx="558.1" cy="139.9" r="2.80" fill="#111"/>
<circle cx="541.7" cy="144.9" r="2.80" fill="#111"/>
<circle cx="549.9" cy="144.9" r="2.80" fill="#111"/>
<circle cx="541.7" cy="155.8" r="2.80" fill="#111"/>
<circle cx="549.9" cy="155.8" r="2.80" fill="#111"/>
<circle cx="558.1" cy="155.8" r="2.80" fill="#111"/>
<circle cx="559.0" cy="161.3" r="2.80" fill="#111"/>
<circle cx="541.7" cy="167.1" r="2.80" fill="#111"/>
<circle cx="546.2" cy="167.1" r="2.80" fill="#111"/>
<circle cx="549.9" cy="167.1" r="2.80" fill="#111"/>
<circle cx="554.0" cy="167.1" r="2.80" fill="#111"/>
<circle cx="546.2" cy="178.4" r="2.80" fill="#111"/>
<circle cx="554.0" cy="178.4" r="2.80" fill="#111"/>
<rect x="578.6" y="142.3" width="5.2" height="5.2" fill="#111"/>
<rect x="596.7" y="142.3" width="5.2" height="5.2" fill="#111"/>
<rect x="582.7" y="148.0" width="5.2" height="5.2" fill="#111"/>
<rect x="592.0" y="148.0" width="5.2" height="5.2" fill="#111"/>
<rect x="587.9" y="148.0" width="5.2" height="5.2" fill="#111"/>
<rect x="578.6" y="158.7" width="5.2" height="5.2" fill="#111"/>
<rect x="587.9" y="158.7" width="5.2" height="5.2" fill="#111"/>
<rect x="595.5" y="153.2" width="5.2" height="5.2" fill="#111"/>
<rect x="573.5" y="175.2" width="5.2" height="5.2" fill="#111"/>
<rect x="582.7" y="175.2" width="5.2" height="5.2" fill="#111"/>
<rect x="592.0" y="175.2" width="5.2" height="5.2" fill="#111"/>
<rect x="601.3" y="175.2" width="5.2" height="5.2" fill="#111"/>
<rect x="577.6" y="181.0" width="5.2" height="5.2" fill="#111"/>
<rect x="597.6" y="181.0" width="5.2" height="5.2" fill="#111"/>
<rect x="584.4" y="186.7" width="5.2" height="5.2" fill="#111"/>
<rect x="591.0" y="186.7" width="5.2" height="5.2" fill="#111"/>
<rect x="592.0" y="191.7" width="5.2" height="5.2" fill="#111"/>
<rect x="583.8" y="197.4" width="5.2" height="5.2" fill="#111"/>
<path d="M622.4,142.3 L625.1,146.8 L619.8,146.8Z" fill="#111"/>
<path d="M626.5,142.3 L629.2,146.8 L623.9,146.8Z" fill="#111"/>
<path d="M639.3,142.3 L641.9,146.8 L636.6,146.8Z" fill="#111"/>
<path d="M630.6,148.0 L633.3,152.6 L628.0,152.6Z" fill="#111"/>
<path d="M634.8,148.0 L637.4,152.6 L632.1,152.6Z" fill="#111"/>
<path d="M630.6,158.7 L633.3,163.3 L628.0,163.3Z" fill="#111"/>
<path d="M634.8,164.5 L637.4,169.0 L632.1,169.0Z" fill="#111"/>
<path d="M622.4,170.3 L625.1,174.8 L619.8,174.8Z" fill="#111"/>
<path d="M626.5,175.2 L629.2,179.8 L623.9,179.8Z" fill="#111"/>
<path d="M634.8,181.0 L637.4,185.5 L632.1,185.5Z" fill="#111"/>
<path d="M626.5,191.7 L629.2,196.2 L623.9,196.2Z" fill="#111"/>
<path d="M634.8,191.7 L637.4,196.2 L632.1,196.2Z" fill="#111"/>
<path d="M622.4,197.4 L625.1,202.0 L619.8,202.0Z" fill="#111"/>
<path d="M639.9,197.4 L642.6,202.0 L637.3,202.0Z" fill="#111"/>
<path d="M626.5,202.6 L629.2,207.1 L623.9,207.1Z" fill="#111"/>
<path d="M630.6,202.6 L633.3,207.1 L628.0,207.1Z" fill="#111"/>
<path d="M630.6,219.1 L633.3,223.6 L628.0,223.6Z" fill="#111"/>
<path d="M618.3,197.4 L620.9,202.0 L615.6,202.0Z" fill="#111"/>
<path d="M530.3,67.6 V232.6 H652.0" fill="none" stroke="#1a1a1a" stroke-width="2"/>
<path d="M523.3,232.6 H530.3" stroke="#1a1a1a" stroke-width="2"/>
<text x="521.8" y="237.2" text-anchor="end" font-size="13" font-weight="bold" fill="#1a1a1a" stroke="#1a1a1a" stroke-width="0.35">0</text>
<path d="M523.3,177.9 H530.3" stroke="#1a1a1a" stroke-width="2"/>
<text x="521.8" y="182.5" text-anchor="end" font-size="13" font-weight="bold" fill="#1a1a1a" stroke="#1a1a1a" stroke-width="0.35">10</text>
<path d="M523.3,123.3 H530.3" stroke="#1a1a1a" stroke-width="2"/>
<text x="521.8" y="127.9" text-anchor="end" font-size="13" font-weight="bold" fill="#1a1a1a" stroke="#1a1a1a" stroke-width="0.35">20</text>
<path d="M523.3,68.6 H530.3" stroke="#1a1a1a" stroke-width="2"/>
<text x="521.8" y="73.2" text-anchor="end" font-size="13" font-weight="bold" fill="#1a1a1a" stroke="#1a1a1a" stroke-width="0.35">30</text>
<path d="M550.3,232.6 V239.1" stroke="#1a1a1a" stroke-width="2"/>
<text transform="translate(552.3,249.6) rotate(-45)" text-anchor="end" font-size="12.3" font-weight="bold" fill="#1a1a1a" stroke="#1a1a1a" stroke-width="0.35">CON</text>
<path d="M590.5,232.6 V239.1" stroke="#1a1a1a" stroke-width="2"/>
<text transform="translate(592.5,249.6) rotate(-45)" text-anchor="end" font-size="12.3" font-weight="bold" fill="#1a1a1a" stroke="#1a1a1a" stroke-width="0.35">NPs+MPs</text>
<path d="M630.4,232.6 V239.1" stroke="#1a1a1a" stroke-width="2"/>
<text transform="translate(632.4,249.6) rotate(-45)" text-anchor="end" font-size="12.3" font-weight="bold" fill="#1a1a1a" stroke="#1a1a1a" stroke-width="0.35">NPs-COOH+MPs</text>
<text transform="translate(497.0,150.6) scale(1,1) rotate(-90)" text-anchor="middle" font-size="15.5" font-weight="bold" fill="#1a1a1a" stroke="#1a1a1a" stroke-width="0.4">Entries in open</text>
<text x="591.5" y="142.5" text-anchor="middle" font-size="14" font-weight="bold" fill="#7a7a7a" stroke="#7a7a7a" stroke-width="0.6" letter-spacing="2">**</text>
<text x="632.7" y="144.5" text-anchor="middle" font-size="14" font-weight="bold" fill="#7a7a7a" stroke="#7a7a7a" stroke-width="0.6" letter-spacing="2">**</text>
<path d="M142.2,763.8 V667.2 H170.8 V763.8" fill="none" stroke="#9e2a2b" stroke-width="2.3"/>
<path d="M182.7,763.8 V680.8 H211.3 V763.8" fill="none" stroke="#4a7bd6" stroke-width="2.3"/>
<path d="M223.4,763.8 V687.6 H252.0 V763.8" fill="none" stroke="#dcab6c" stroke-width="2.3"/>
<path d="M156.5,651.4 V681.8 M150.0,651.4 H163.0 M150.0,681.8 H163.0" fill="none" stroke="#9e2a2b" stroke-width="1.1" opacity="0.6"/>
<path d="M197.0,665.1 V692.6 M190.5,665.1 H203.5 M190.5,692.6 H203.5" fill="none" stroke="#4a7bd6" stroke-width="1.1" opacity="0.6"/>
<path d="M237.7,672.0 V703.6 M231.2,672.0 H244.2 M231.2,703.6 H244.2" fill="none" stroke="#dcab6c" stroke-width="1.1" opacity="0.6"/>
<circle cx="156.5" cy="628.5" r="3.00" fill="#111"/>
<circle cx="155.8" cy="641.3" r="3.00" fill="#111"/>
<circle cx="155.8" cy="650.9" r="3.00" fill="#111"/>
<circle cx="146.7" cy="658.9" r="3.00" fill="#111"/>
<circle cx="152.4" cy="658.9" r="3.00" fill="#111"/>
<circle cx="161.1" cy="661.2" r="3.00" fill="#111"/>
<circle cx="166.1" cy="658.9" r="3.00" fill="#111"/>
<circle cx="146.7" cy="672.7" r="3.00" fill="#111"/>
<circle cx="152.4" cy="670.4" r="3.00" fill="#111"/>
<circle cx="166.1" cy="672.7" r="3.00" fill="#111"/>
<circle cx="147.3" cy="678.4" r="3.00" fill="#111"/>
<circle cx="157.0" cy="678.4" r="3.00" fill="#111"/>
<circle cx="161.5" cy="678.4" r="3.00" fill="#111"/>
<circle cx="166.1" cy="678.4" r="3.00" fill="#111"/>
<circle cx="150.1" cy="681.8" r="3.00" fill="#111"/>
<circle cx="155.8" cy="681.8" r="3.00" fill="#111"/>
<circle cx="160.4" cy="686.4" r="3.00" fill="#111"/>
<circle cx="155.8" cy="687.6" r="3.00" fill="#111"/>
<rect x="185.8" y="657.8" width="5.6" height="5.6" fill="#111"/>
<rect x="194.2" y="662.3" width="5.6" height="5.6" fill="#111"/>
<rect x="206.3" y="660.1" width="5.6" height="5.6" fill="#111"/>
<rect x="185.8" y="668.3" width="5.6" height="5.6" fill="#111"/>
<rect x="194.2" y="670.6" width="5.6" height="5.6" fill="#111"/>
<rect x="202.2" y="667.6" width="5.6" height="5.6" fill="#111"/>
<rect x="185.8" y="676.1" width="5.6" height="5.6" fill="#111"/>
<rect x="194.2" y="676.1" width="5.6" height="5.6" fill="#111"/>
<rect x="202.2" y="676.1" width="5.6" height="5.6" fill="#111"/>
<rect x="188.5" y="680.7" width="5.6" height="5.6" fill="#111"/>
<rect x="197.7" y="680.7" width="5.6" height="5.6" fill="#111"/>
<rect x="204.5" y="684.8" width="5.6" height="5.6" fill="#111"/>
<rect x="185.8" y="689.3" width="5.6" height="5.6" fill="#111"/>
<rect x="193.1" y="689.3" width="5.6" height="5.6" fill="#111"/>
<rect x="204.5" y="689.3" width="5.6" height="5.6" fill="#111"/>
<rect x="188.5" y="696.2" width="5.6" height="5.6" fill="#111"/>
<rect x="197.7" y="696.7" width="5.6" height="5.6" fill="#111"/>
<rect x="189.6" y="700.8" width="5.6" height="5.6" fill="#111"/>
<path d="M238.2,661.9 L241.0,666.8 L235.4,666.8Z" fill="#111"/>
<path d="M232.5,666.9 L235.3,671.8 L229.6,671.8Z" fill="#111"/>
<path d="M243.9,666.9 L246.8,671.8 L241.1,671.8Z" fill="#111"/>
<path d="M237.0,671.5 L239.9,676.4 L234.2,676.4Z" fill="#111"/>
<path d="M246.2,671.5 L249.0,676.4 L243.4,676.4Z" fill="#111"/>
<path d="M232.0,682.5 L234.9,687.3 L229.2,687.3Z" fill="#111"/>
<path d="M238.2,683.6 L241.0,688.5 L235.4,688.5Z" fill="#111"/>
<path d="M243.9,682.9 L246.8,687.8 L241.1,687.8Z" fill="#111"/>
<path d="M247.3,682.9 L250.2,687.8 L244.5,687.8Z" fill="#111"/>
<path d="M232.0,696.2 L234.9,701.1 L229.2,701.1Z" fill="#111"/>
<path d="M238.2,696.2 L241.0,701.1 L235.4,701.1Z" fill="#111"/>
<path d="M246.2,696.2 L249.0,701.1 L243.4,701.1Z" fill="#111"/>
<path d="M232.5,698.5 L235.3,703.4 L229.6,703.4Z" fill="#111"/>
<path d="M237.0,689.3 L239.9,694.2 L234.2,694.2Z" fill="#111"/>
<path d="M227.9,706.5 L230.7,711.4 L225.1,711.4Z" fill="#111"/>
<path d="M234.8,708.8 L237.6,713.7 L231.9,713.7Z" fill="#111"/>
<path d="M241.6,707.7 L244.5,712.5 L238.8,712.5Z" fill="#111"/>
<path d="M247.3,706.5 L250.2,711.4 L244.5,711.4Z" fill="#111"/>
<path d="M135.7,587.2 V763.8 H258.8" fill="none" stroke="#1a1a1a" stroke-width="2"/>
<path d="M128.7,763.8 H135.7" stroke="#1a1a1a" stroke-width="2"/>
<text x="127.2" y="768.4" text-anchor="end" font-size="13.5" font-weight="bold" fill="#1a1a1a" stroke="#1a1a1a" stroke-width="0.35">0</text>
<path d="M128.7,719.9 H135.7" stroke="#1a1a1a" stroke-width="2"/>
<text x="127.2" y="724.5" text-anchor="end" font-size="13.5" font-weight="bold" fill="#1a1a1a" stroke="#1a1a1a" stroke-width="0.35">1000</text>
<path d="M128.7,676.0 H135.7" stroke="#1a1a1a" stroke-width="2"/>
<text x="127.2" y="680.6" text-anchor="end" font-size="13.5" font-weight="bold" fill="#1a1a1a" stroke="#1a1a1a" stroke-width="0.35">2000</text>
<path d="M128.7,632.1 H135.7" stroke="#1a1a1a" stroke-width="2"/>
<text x="127.2" y="636.7" text-anchor="end" font-size="13.5" font-weight="bold" fill="#1a1a1a" stroke="#1a1a1a" stroke-width="0.35">3000</text>
<path d="M128.7,588.2 H135.7" stroke="#1a1a1a" stroke-width="2"/>
<text x="127.2" y="592.8" text-anchor="end" font-size="13.5" font-weight="bold" fill="#1a1a1a" stroke="#1a1a1a" stroke-width="0.35">4000</text>
<path d="M156.5,763.8 V770.3" stroke="#1a1a1a" stroke-width="2"/>
<text transform="translate(158.5,782.3) rotate(-45)" text-anchor="end" font-size="13" font-weight="bold" fill="#1a1a1a" stroke="#1a1a1a" stroke-width="0.35">CON</text>
<path d="M197.0,763.8 V770.3" stroke="#1a1a1a" stroke-width="2"/>
<text transform="translate(199.0,782.3) rotate(-45)" text-anchor="end" font-size="13" font-weight="bold" fill="#1a1a1a" stroke="#1a1a1a" stroke-width="0.35">NPs+MPs</text>
<path d="M237.7,763.8 V770.3" stroke="#1a1a1a" stroke-width="2"/>
<text transform="translate(239.7,782.3) rotate(-45)" text-anchor="end" font-size="13" font-weight="bold" fill="#1a1a1a" stroke="#1a1a1a" stroke-width="0.35">NPs-COOH+MPs</text>
<text transform="translate(90.5,675.0) scale(1,1) rotate(-90)" text-anchor="middle" font-size="16.6" font-weight="bold" fill="#1a1a1a" stroke="#1a1a1a" stroke-width="0.4">Total distance (cm)</text>
<text x="198.0" y="655.0" text-anchor="middle" font-size="14" font-weight="bold" fill="#7a7a7a" stroke="#7a7a7a" stroke-width="0.6" letter-spacing="2">*</text>
<text x="239.2" y="655.5" text-anchor="middle" font-size="14" font-weight="bold" fill="#7a7a7a" stroke="#7a7a7a" stroke-width="0.6" letter-spacing="2">**</text>
<path d="M333.5,765.4 V670.9 H362.1 V765.4" fill="none" stroke="#9e2a2b" stroke-width="2.3"/>
<path d="M374.2,765.4 V696.7 H402.8 V765.4" fill="none" stroke="#4a7bd6" stroke-width="2.3"/>
<path d="M415.4,765.4 V692.2 H444.0 V765.4" fill="none" stroke="#dcab6c" stroke-width="2.3"/>
<path d="M347.8,653.7 V689.4 M341.3,653.7 H354.3 M341.3,689.4 H354.3" fill="none" stroke="#9e2a2b" stroke-width="1.1" opacity="0.6"/>
<path d="M388.5,677.3 V717.3 M382.0,677.3 H395.0 M382.0,717.3 H395.0" fill="none" stroke="#4a7bd6" stroke-width="1.1" opacity="0.6"/>
<path d="M429.7,671.5 V715.0 M423.2,671.5 H436.2 M423.2,715.0 H436.2" fill="none" stroke="#dcab6c" stroke-width="1.1" opacity="0.6"/>
<circle cx="338.6" cy="641.3" r="3.00" fill="#111"/>
<circle cx="347.8" cy="641.8" r="3.00" fill="#111"/>
<circle cx="355.8" cy="637.2" r="3.00" fill="#111"/>
<circle cx="335.2" cy="665.8" r="3.00" fill="#111"/>
<circle cx="347.8" cy="658.9" r="3.00" fill="#111"/>
<circle cx="355.8" cy="660.5" r="3.00" fill="#111"/>
<circle cx="338.6" cy="672.0" r="3.00" fill="#111"/>
<circle cx="348.9" cy="668.1" r="3.00" fill="#111"/>
<circle cx="355.8" cy="673.8" r="3.00" fill="#111"/>
<circle cx="338.6" cy="678.9" r="3.00" fill="#111"/>
<circle cx="345.5" cy="680.7" r="3.00" fill="#111"/>
<circle cx="351.2" cy="680.7" r="3.00" fill="#111"/>
<circle cx="355.8" cy="683.0" r="3.00" fill="#111"/>
<circle cx="340.9" cy="685.3" r="3.00" fill="#111"/>
<circle cx="347.8" cy="685.7" r="3.00" fill="#111"/>
<circle cx="351.2" cy="689.8" r="3.00" fill="#111"/>
<circle cx="343.2" cy="696.7" r="3.00" fill="#111"/>
<circle cx="351.2" cy="695.6" r="3.00" fill="#111"/>
<rect x="378.2" y="667.6" width="5.6" height="5.6" fill="#111"/>
<rect x="390.3" y="665.3" width="5.6" height="5.6" fill="#111"/>
<rect x="381.2" y="670.6" width="5.6" height="5.6" fill="#111"/>
<rect x="385.1" y="673.8" width="5.6" height="5.6" fill="#111"/>
<rect x="390.8" y="676.1" width="5.6" height="5.6" fill="#111"/>
<rect x="374.8" y="682.0" width="5.6" height="5.6" fill="#111"/>
<rect x="381.6" y="685.2" width="5.6" height="5.6" fill="#111"/>
<rect x="388.5" y="683.6" width="5.6" height="5.6" fill="#111"/>
<rect x="396.5" y="680.7" width="5.6" height="5.6" fill="#111"/>
<rect x="377.1" y="693.5" width="5.6" height="5.6" fill="#111"/>
<rect x="386.2" y="695.8" width="5.6" height="5.6" fill="#111"/>
<rect x="394.2" y="693.5" width="5.6" height="5.6" fill="#111"/>
<rect x="381.6" y="701.9" width="5.6" height="5.6" fill="#111"/>
<rect x="389.6" y="707.2" width="5.6" height="5.6" fill="#111"/>
<rect x="381.6" y="709.9" width="5.6" height="5.6" fill="#111"/>
<rect x="385.8" y="720.9" width="5.6" height="5.6" fill="#111"/>
<rect x="381.6" y="732.8" width="5.6" height="5.6" fill="#111"/>
<rect x="389.6" y="732.8" width="5.6" height="5.6" fill="#111"/>
<path d="M425.6,663.7 L428.4,668.6 L422.8,668.6Z" fill="#111"/>
<path d="M433.6,663.7 L436.5,668.6 L430.8,668.6Z" fill="#111"/>
<path d="M419.9,677.9 L422.7,682.8 L417.0,682.8Z" fill="#111"/>
<path d="M427.9,680.2 L430.7,685.1 L425.1,685.1Z" fill="#111"/>
<path d="M434.8,680.2 L437.6,685.1 L431.9,685.1Z" fill="#111"/>
<path d="M439.3,680.2 L442.2,685.1 L436.5,685.1Z" fill="#111"/>
<path d="M418.7,688.2 L421.6,693.1 L415.9,693.1Z" fill="#111"/>
<path d="M430.2,689.8 L433.0,694.7 L427.3,694.7Z" fill="#111"/>
<path d="M433.6,689.8 L436.5,694.7 L430.8,694.7Z" fill="#111"/>
<path d="M439.3,690.5 L442.2,695.4 L436.5,695.4Z" fill="#111"/>
<path d="M427.9,692.8 L430.7,697.6 L425.1,697.6Z" fill="#111"/>
<path d="M421.0,705.4 L423.9,710.2 L418.2,710.2Z" fill="#111"/>
<path d="M430.2,712.2 L433.0,717.1 L427.3,717.1Z" fill="#111"/>
<path d="M438.2,706.5 L441.0,711.4 L435.4,711.4Z" fill="#111"/>
<path d="M430.2,730.1 L433.0,734.9 L427.3,734.9Z" fill="#111"/>
<path d="M430.2,739.7 L433.0,744.6 L427.3,744.6Z" fill="#111"/>
<path d="M423.3,691.6 L426.2,696.5 L420.5,696.5Z" fill="#111"/>
<path d="M434.8,692.8 L437.6,697.6 L431.9,697.6Z" fill="#111"/>
<path d="M326.0,587.0 V765.4 H450.8" fill="none" stroke="#1a1a1a" stroke-width="2"/>
<path d="M319.0,765.4 H326.0" stroke="#1a1a1a" stroke-width="2"/>
<text x="317.5" y="770.0" text-anchor="end" font-size="13.5" font-weight="bold" fill="#1a1a1a" stroke="#1a1a1a" stroke-width="0.35">0</text>
<path d="M319.0,721.0 H326.0" stroke="#1a1a1a" stroke-width="2"/>
<text x="317.5" y="725.6" text-anchor="end" font-size="13.5" font-weight="bold" fill="#1a1a1a" stroke="#1a1a1a" stroke-width="0.35">10</text>
<path d="M319.0,676.7 H326.0" stroke="#1a1a1a" stroke-width="2"/>
<text x="317.5" y="681.3" text-anchor="end" font-size="13.5" font-weight="bold" fill="#1a1a1a" stroke="#1a1a1a" stroke-width="0.35">20</text>
<path d="M319.0,632.4 H326.0" stroke="#1a1a1a" stroke-width="2"/>
<text x="317.5" y="637.0" text-anchor="end" font-size="13.5" font-weight="bold" fill="#1a1a1a" stroke="#1a1a1a" stroke-width="0.35">30</text>
<path d="M319.0,588.0 H326.0" stroke="#1a1a1a" stroke-width="2"/>
<text x="317.5" y="592.6" text-anchor="end" font-size="13.5" font-weight="bold" fill="#1a1a1a" stroke="#1a1a1a" stroke-width="0.35">40</text>
<path d="M347.8,765.4 V771.9" stroke="#1a1a1a" stroke-width="2"/>
<text transform="translate(349.8,783.9) rotate(-45)" text-anchor="end" font-size="13" font-weight="bold" fill="#1a1a1a" stroke="#1a1a1a" stroke-width="0.35">CON</text>
<path d="M388.5,765.4 V771.9" stroke="#1a1a1a" stroke-width="2"/>
<text transform="translate(390.5,783.9) rotate(-45)" text-anchor="end" font-size="13" font-weight="bold" fill="#1a1a1a" stroke="#1a1a1a" stroke-width="0.35">NPs+MPs</text>
<path d="M429.7,765.4 V771.9" stroke="#1a1a1a" stroke-width="2"/>
<text transform="translate(431.7,783.9) rotate(-45)" text-anchor="end" font-size="13" font-weight="bold" fill="#1a1a1a" stroke="#1a1a1a" stroke-width="0.35">NPs-COOH+MPs</text>
<text transform="translate(296.0,676.0) scale(1,1) rotate(-90)" text-anchor="middle" font-size="16.6" font-weight="bold" fill="#1a1a1a" stroke="#1a1a1a" stroke-width="0.4">Distance in center (%)</text>
<text x="388.8" y="663.0" text-anchor="middle" font-size="14" font-weight="bold" fill="#7a7a7a" stroke="#7a7a7a" stroke-width="0.6" letter-spacing="2">**</text>
<text x="431.2" y="661.5" text-anchor="middle" font-size="14" font-weight="bold" fill="#7a7a7a" stroke="#7a7a7a" stroke-width="0.6" letter-spacing="2">**</text>
<path d="M533.5,765.4 V676.7 H562.1 V765.4" fill="none" stroke="#9e2a2b" stroke-width="2.3"/>
<path d="M574.2,765.4 V700.8 H602.8 V765.4" fill="none" stroke="#4a7bd6" stroke-width="2.3"/>
<path d="M615.4,765.4 V700.8 H644.0 V765.4" fill="none" stroke="#dcab6c" stroke-width="2.3"/>
<path d="M547.8,650.5 V703.6 M541.3,650.5 H554.3 M541.3,703.6 H554.3" fill="none" stroke="#9e2a2b" stroke-width="1.1" opacity="0.6"/>
<path d="M588.5,678.9 V724.2 M582.0,678.9 H595.0 M582.0,724.2 H595.0" fill="none" stroke="#4a7bd6" stroke-width="1.1" opacity="0.6"/>
<path d="M629.7,676.6 V726.9 M623.2,676.6 H636.2 M623.2,726.9 H636.2" fill="none" stroke="#dcab6c" stroke-width="1.1" opacity="0.6"/>
<circle cx="547.8" cy="625.3" r="3.00" fill="#111"/>
<circle cx="547.8" cy="634.5" r="3.00" fill="#111"/>
<circle cx="542.8" cy="640.0" r="3.00" fill="#111"/>
<circle cx="551.2" cy="645.2" r="3.00" fill="#111"/>
<circle cx="551.2" cy="660.5" r="3.00" fill="#111"/>
<circle cx="538.6" cy="667.0" r="3.00" fill="#111"/>
<circle cx="543.2" cy="670.4" r="3.00" fill="#111"/>
<circle cx="551.2" cy="677.3" r="3.00" fill="#111"/>
<circle cx="538.6" cy="681.8" r="3.00" fill="#111"/>
<circle cx="547.8" cy="689.8" r="3.00" fill="#111"/>
<circle cx="557.0" cy="687.6" r="3.00" fill="#111"/>
<circle cx="536.4" cy="693.3" r="3.00" fill="#111"/>
<circle cx="543.2" cy="697.8" r="3.00" fill="#111"/>
<circle cx="551.2" cy="699.0" r="3.00" fill="#111"/>
<circle cx="558.1" cy="696.7" r="3.00" fill="#111"/>
<circle cx="538.6" cy="703.6" r="3.00" fill="#111"/>
<circle cx="547.8" cy="707.7" r="3.00" fill="#111"/>
<circle cx="555.8" cy="705.4" r="3.00" fill="#111"/>
<rect x="581.6" y="657.3" width="5.6" height="5.6" fill="#111"/>
<rect x="590.8" y="657.3" width="5.6" height="5.6" fill="#111"/>
<rect x="581.2" y="678.4" width="5.6" height="5.6" fill="#111"/>
<rect x="586.2" y="678.4" width="5.6" height="5.6" fill="#111"/>
<rect x="590.8" y="687.1" width="5.6" height="5.6" fill="#111"/>
<rect x="577.1" y="695.8" width="5.6" height="5.6" fill="#111"/>
<rect x="594.2" y="696.2" width="5.6" height="5.6" fill="#111"/>
<rect x="581.6" y="703.1" width="5.6" height="5.6" fill="#111"/>
<rect x="590.8" y="702.6" width="5.6" height="5.6" fill="#111"/>
<rect x="577.1" y="706.5" width="5.6" height="5.6" fill="#111"/>
<rect x="596.5" y="709.9" width="5.6" height="5.6" fill="#111"/>
<rect x="581.6" y="712.2" width="5.6" height="5.6" fill="#111"/>
<rect x="589.6" y="713.4" width="5.6" height="5.6" fill="#111"/>
<rect x="577.1" y="727.1" width="5.6" height="5.6" fill="#111"/>
<rect x="594.2" y="729.4" width="5.6" height="5.6" fill="#111"/>
<rect x="585.8" y="734.7" width="5.6" height="5.6" fill="#111"/>
<rect x="589.6" y="696.7" width="5.6" height="5.6" fill="#111"/>
<rect x="586.2" y="698.5" width="5.6" height="5.6" fill="#111"/>
<path d="M630.2,657.3 L633.0,662.2 L627.3,662.2Z" fill="#111"/>
<path d="M617.6,676.1 L620.4,680.9 L614.8,680.9Z" fill="#111"/>
<path d="M630.2,676.1 L633.0,680.9 L627.3,680.9Z" fill="#111"/>
<path d="M638.9,673.8 L641.7,678.7 L636.0,678.7Z" fill="#111"/>
<path d="M621.5,682.0 L624.3,686.9 L618.6,686.9Z" fill="#111"/>
<path d="M638.9,682.0 L641.7,686.9 L636.0,686.9Z" fill="#111"/>
<path d="M630.2,688.2 L633.0,693.1 L627.3,693.1Z" fill="#111"/>
<path d="M625.6,691.6 L628.4,696.5 L622.8,696.5Z" fill="#111"/>
<path d="M634.8,698.5 L637.6,703.4 L631.9,703.4Z" fill="#111"/>
<path d="M621.0,703.1 L623.9,707.9 L618.2,707.9Z" fill="#111"/>
<path d="M630.2,709.5 L633.0,714.4 L627.3,714.4Z" fill="#111"/>
<path d="M642.8,709.9 L645.6,714.8 L639.9,714.8Z" fill="#111"/>
<path d="M621.0,717.3 L623.9,722.1 L618.2,722.1Z" fill="#111"/>
<path d="M630.2,719.1 L633.0,724.0 L627.3,724.0Z" fill="#111"/>
<path d="M638.9,714.5 L641.7,719.4 L636.0,719.4Z" fill="#111"/>
<path d="M625.6,750.0 L628.4,754.9 L622.8,754.9Z" fill="#111"/>
<path d="M634.3,743.8 L637.1,748.7 L631.5,748.7Z" fill="#111"/>
<path d="M616.5,705.4 L619.3,710.2 L613.6,710.2Z" fill="#111"/>
<path d="M526.0,587.0 V765.4 H650.8" fill="none" stroke="#1a1a1a" stroke-width="2"/>
<path d="M519.0,765.4 H526.0" stroke="#1a1a1a" stroke-width="2"/>
<text x="517.5" y="770.0" text-anchor="end" font-size="13.5" font-weight="bold" fill="#1a1a1a" stroke="#1a1a1a" stroke-width="0.35">0</text>
<path d="M519.0,729.9 H526.0" stroke="#1a1a1a" stroke-width="2"/>
<text x="517.5" y="734.5" text-anchor="end" font-size="13.5" font-weight="bold" fill="#1a1a1a" stroke="#1a1a1a" stroke-width="0.35">5</text>
<path d="M519.0,694.4 H526.0" stroke="#1a1a1a" stroke-width="2"/>
<text x="517.5" y="699.0" text-anchor="end" font-size="13.5" font-weight="bold" fill="#1a1a1a" stroke="#1a1a1a" stroke-width="0.35">10</text>
<path d="M519.0,659.0 H526.0" stroke="#1a1a1a" stroke-width="2"/>
<text x="517.5" y="663.6" text-anchor="end" font-size="13.5" font-weight="bold" fill="#1a1a1a" stroke="#1a1a1a" stroke-width="0.35">15</text>
<path d="M519.0,623.5 H526.0" stroke="#1a1a1a" stroke-width="2"/>
<text x="517.5" y="628.1" text-anchor="end" font-size="13.5" font-weight="bold" fill="#1a1a1a" stroke="#1a1a1a" stroke-width="0.35">20</text>
<path d="M519.0,588.0 H526.0" stroke="#1a1a1a" stroke-width="2"/>
<text x="517.5" y="592.6" text-anchor="end" font-size="13.5" font-weight="bold" fill="#1a1a1a" stroke="#1a1a1a" stroke-width="0.35">25</text>
<path d="M547.8,765.4 V771.9" stroke="#1a1a1a" stroke-width="2"/>
<text transform="translate(549.8,783.9) rotate(-45)" text-anchor="end" font-size="13" font-weight="bold" fill="#1a1a1a" stroke="#1a1a1a" stroke-width="0.35">CON</text>
<path d="M588.5,765.4 V771.9" stroke="#1a1a1a" stroke-width="2"/>
<text transform="translate(590.5,783.9) rotate(-45)" text-anchor="end" font-size="13" font-weight="bold" fill="#1a1a1a" stroke="#1a1a1a" stroke-width="0.35">NPs+MPs</text>
<path d="M629.7,765.4 V771.9" stroke="#1a1a1a" stroke-width="2"/>
<text transform="translate(631.7,783.9) rotate(-45)" text-anchor="end" font-size="13" font-weight="bold" fill="#1a1a1a" stroke="#1a1a1a" stroke-width="0.35">NPs-COOH+MPs</text>
<text transform="translate(496.0,676.7) scale(1,1) rotate(-90)" text-anchor="middle" font-size="16.6" font-weight="bold" fill="#1a1a1a" stroke="#1a1a1a" stroke-width="0.4">Time in center (%)</text>
<text x="589.5" y="655.0" text-anchor="middle" font-size="14" font-weight="bold" fill="#7a7a7a" stroke="#7a7a7a" stroke-width="0.6" letter-spacing="2">*</text>
<text x="631.2" y="656.0" text-anchor="middle" font-size="14" font-weight="bold" fill="#7a7a7a" stroke="#7a7a7a" stroke-width="0.6" letter-spacing="2">*</text>
<path d="M740.4,765.4 V682.9 H769.0 V765.4" fill="none" stroke="#9e2a2b" stroke-width="2.3"/>
<path d="M781.1,765.4 V708.1 H809.7 V765.4" fill="none" stroke="#4a7bd6" stroke-width="2.3"/>
<path d="M822.3,765.4 V708.1 H850.9 V765.4" fill="none" stroke="#dcab6c" stroke-width="2.3"/>
<path d="M754.7,657.8 V708.6 M748.2,657.8 H761.2 M748.2,708.6 H761.2" fill="none" stroke="#9e2a2b" stroke-width="1.1" opacity="0.6"/>
<path d="M795.4,678.9 V737.9 M788.9,678.9 H801.9 M788.9,737.9 H801.9" fill="none" stroke="#4a7bd6" stroke-width="1.1" opacity="0.6"/>
<path d="M836.6,679.5 V737.9 M830.1,679.5 H843.1 M830.1,737.9 H843.1" fill="none" stroke="#dcab6c" stroke-width="1.1" opacity="0.6"/>
<circle cx="747.3" cy="648.2" r="3.00" fill="#111"/>
<circle cx="755.1" cy="646.8" r="3.00" fill="#111"/>
<circle cx="750.5" cy="657.3" r="3.00" fill="#111"/>
<circle cx="755.8" cy="656.7" r="3.00" fill="#111"/>
<circle cx="763.4" cy="653.7" r="3.00" fill="#111"/>
<circle cx="763.4" cy="665.1" r="3.00" fill="#111"/>
<circle cx="750.1" cy="673.4" r="3.00" fill="#111"/>
<circle cx="758.1" cy="671.1" r="3.00" fill="#111"/>
<circle cx="738.6" cy="683.0" r="3.00" fill="#111"/>
<circle cx="747.8" cy="685.7" r="3.00" fill="#111"/>
<circle cx="755.8" cy="684.1" r="3.00" fill="#111"/>
<circle cx="766.1" cy="683.4" r="3.00" fill="#111"/>
<circle cx="758.8" cy="691.7" r="3.00" fill="#111"/>
<circle cx="750.1" cy="696.7" r="3.00" fill="#111"/>
<circle cx="747.8" cy="714.6" r="3.00" fill="#111"/>
<circle cx="755.8" cy="717.3" r="3.00" fill="#111"/>
<circle cx="763.4" cy="715.0" r="3.00" fill="#111"/>
<circle cx="750.1" cy="724.6" r="3.00" fill="#111"/>
<circle cx="758.8" cy="718.4" r="3.00" fill="#111"/>
<circle cx="740.5" cy="714.6" r="3.00" fill="#111"/>
<rect x="793.1" y="656.2" width="5.6" height="5.6" fill="#111"/>
<rect x="797.7" y="660.1" width="5.6" height="5.6" fill="#111"/>
<rect x="783.9" y="664.6" width="5.6" height="5.6" fill="#111"/>
<rect x="789.6" y="666.9" width="5.6" height="5.6" fill="#111"/>
<rect x="797.7" y="673.8" width="5.6" height="5.6" fill="#111"/>
<rect x="789.0" y="695.8" width="5.6" height="5.6" fill="#111"/>
<rect x="797.7" y="695.8" width="5.6" height="5.6" fill="#111"/>
<rect x="782.8" y="707.7" width="5.6" height="5.6" fill="#111"/>
<rect x="797.2" y="708.1" width="5.6" height="5.6" fill="#111"/>
<rect x="785.1" y="714.5" width="5.6" height="5.6" fill="#111"/>
<rect x="793.1" y="721.8" width="5.6" height="5.6" fill="#111"/>
<rect x="802.2" y="721.8" width="5.6" height="5.6" fill="#111"/>
<rect x="782.8" y="730.5" width="5.6" height="5.6" fill="#111"/>
<rect x="790.8" y="734.0" width="5.6" height="5.6" fill="#111"/>
<rect x="797.7" y="735.1" width="5.6" height="5.6" fill="#111"/>
<rect x="803.4" y="732.8" width="5.6" height="5.6" fill="#111"/>
<rect x="797.2" y="740.1" width="5.6" height="5.6" fill="#111"/>
<rect x="789.0" y="745.4" width="5.6" height="5.6" fill="#111"/>
<path d="M826.8,660.7 L829.6,665.6 L823.9,665.6Z" fill="#111"/>
<path d="M833.6,660.7 L836.5,665.6 L830.8,665.6Z" fill="#111"/>
<path d="M840.5,663.7 L843.3,668.6 L837.6,668.6Z" fill="#111"/>
<path d="M847.3,660.7 L850.2,665.6 L844.5,665.6Z" fill="#111"/>
<path d="M841.6,679.7 L844.5,684.6 L838.8,684.6Z" fill="#111"/>
<path d="M832.9,687.1 L835.8,691.9 L830.1,691.9Z" fill="#111"/>
<path d="M837.0,710.4 L839.9,715.3 L834.2,715.3Z" fill="#111"/>
<path d="M827.9,712.2 L830.7,717.1 L825.1,717.1Z" fill="#111"/>
<path d="M833.6,715.0 L836.5,719.8 L830.8,719.8Z" fill="#111"/>
<path d="M839.3,718.6 L842.2,723.5 L836.5,723.5Z" fill="#111"/>
<path d="M846.2,715.7 L849.0,720.5 L843.4,720.5Z" fill="#111"/>
<path d="M832.5,724.1 L835.3,729.0 L829.6,729.0Z" fill="#111"/>
<path d="M841.6,728.2 L844.5,733.1 L838.8,733.1Z" fill="#111"/>
<path d="M827.9,737.4 L830.7,742.3 L825.1,742.3Z" fill="#111"/>
<path d="M838.2,740.1 L841.0,745.0 L835.4,745.0Z" fill="#111"/>
<path d="M847.3,736.9 L850.2,741.8 L844.5,741.8Z" fill="#111"/>
<path d="M832.9,744.3 L835.8,749.1 L830.1,749.1Z" fill="#111"/>
<path d="M821.0,718.6 L823.9,723.5 L818.2,723.5Z" fill="#111"/>
<path d="M734.8,587.0 V765.4 H858.8" fill="none" stroke="#1a1a1a" stroke-width="2"/>
<path d="M727.8,765.4 H734.8" stroke="#1a1a1a" stroke-width="2"/>
<text x="726.3" y="770.0" text-anchor="end" font-size="13.5" font-weight="bold" fill="#1a1a1a" stroke="#1a1a1a" stroke-width="0.35">0</text>
<path d="M727.8,729.9 H734.8" stroke="#1a1a1a" stroke-width="2"/>
<text x="726.3" y="734.5" text-anchor="end" font-size="13.5" font-weight="bold" fill="#1a1a1a" stroke="#1a1a1a" stroke-width="0.35">20</text>
<path d="M727.8,694.4 H734.8" stroke="#1a1a1a" stroke-width="2"/>
<text x="726.3" y="699.0" text-anchor="end" font-size="13.5" font-weight="bold" fill="#1a1a1a" stroke="#1a1a1a" stroke-width="0.35">40</text>
<path d="M727.8,659.0 H734.8" stroke="#1a1a1a" stroke-width="2"/>
<text x="726.3" y="663.6" text-anchor="end" font-size="13.5" font-weight="bold" fill="#1a1a1a" stroke="#1a1a1a" stroke-width="0.35">60</text>
<path d="M727.8,623.5 H734.8" stroke="#1a1a1a" stroke-width="2"/>
<text x="726.3" y="628.1" text-anchor="end" font-size="13.5" font-weight="bold" fill="#1a1a1a" stroke="#1a1a1a" stroke-width="0.35">80</text>
<path d="M727.8,588.0 H734.8" stroke="#1a1a1a" stroke-width="2"/>
<text x="726.3" y="592.6" text-anchor="end" font-size="13.5" font-weight="bold" fill="#1a1a1a" stroke="#1a1a1a" stroke-width="0.35">100</text>
<path d="M754.7,765.4 V771.9" stroke="#1a1a1a" stroke-width="2"/>
<text transform="translate(756.7,783.9) rotate(-45)" text-anchor="end" font-size="13" font-weight="bold" fill="#1a1a1a" stroke="#1a1a1a" stroke-width="0.35">CON</text>
<path d="M795.4,765.4 V771.9" stroke="#1a1a1a" stroke-width="2"/>
<text transform="translate(797.4,783.9) rotate(-45)" text-anchor="end" font-size="13" font-weight="bold" fill="#1a1a1a" stroke="#1a1a1a" stroke-width="0.35">NPs+MPs</text>
<path d="M836.6,765.4 V771.9" stroke="#1a1a1a" stroke-width="2"/>
<text transform="translate(838.6,783.9) rotate(-45)" text-anchor="end" font-size="13" font-weight="bold" fill="#1a1a1a" stroke="#1a1a1a" stroke-width="0.35">NPs-COOH+MPs</text>
<text transform="translate(696.0,677.8) scale(1,1) rotate(-90)" text-anchor="middle" font-size="16.6" font-weight="bold" fill="#1a1a1a" stroke="#1a1a1a" stroke-width="0.4">Entries in center</text>
<text x="796.9" y="651.0" text-anchor="middle" font-size="14" font-weight="bold" fill="#7a7a7a" stroke="#7a7a7a" stroke-width="0.6" letter-spacing="2">*</text>
<text x="838.5" y="655.5" text-anchor="middle" font-size="14" font-weight="bold" fill="#7a7a7a" stroke="#7a7a7a" stroke-width="0.6" letter-spacing="2">*</text>
<path d="M1136.6,468.2 V369.7 H1164.6 V468.2" fill="none" stroke="#9e2a2b" stroke-width="2.5"/>
<path d="M1177.2,468.2 V402.1 H1205.2 V468.2" fill="none" stroke="#4a7bd6" stroke-width="2.5"/>
<path d="M1218.4,468.2 V424.9 H1246.4 V468.2" fill="none" stroke="#dcab6c" stroke-width="2.5"/>
<path d="M1150.6,357.4 V382.0 M1143.1,357.4 H1158.1 M1143.1,382.0 H1158.1" fill="none" stroke="#9e2a2b" stroke-width="2" opacity="0.6"/>
<path d="M1191.2,385.2 V417.0 M1183.7,385.2 H1198.7 M1183.7,417.0 H1198.7" fill="none" stroke="#4a7bd6" stroke-width="2" opacity="0.6"/>
<path d="M1232.4,412.1 V436.0 M1224.9,412.1 H1239.9 M1224.9,436.0 H1239.9" fill="none" stroke="#dcab6c" stroke-width="2" opacity="0.6"/>
<circle cx="1150.4" cy="352.8" r="3.22" fill="#111"/>
<circle cx="1145.9" cy="364.0" r="3.22" fill="#111"/>
<circle cx="1159.3" cy="371.8" r="3.22" fill="#111"/>
<circle cx="1155.2" cy="376.9" r="3.22" fill="#111"/>
<circle cx="1145.9" cy="383.7" r="3.22" fill="#111"/>
<rect x="1193.4" y="379.1" width="6.0" height="6.0" fill="#111"/>
<rect x="1183.7" y="387.3" width="6.0" height="6.0" fill="#111"/>
<rect x="1188.2" y="398.7" width="6.0" height="6.0" fill="#111"/>
<rect x="1183.7" y="416.6" width="6.0" height="6.0" fill="#111"/>
<rect x="1193.4" y="414.1" width="6.0" height="6.0" fill="#111"/>
<path d="M1223.8,408.5 L1226.8,413.8 L1220.7,413.8Z" fill="#111"/>
<path d="M1232.4,418.2 L1235.5,423.5 L1229.4,423.5Z" fill="#111"/>
<path d="M1241.1,415.8 L1244.1,421.0 L1238.0,421.0Z" fill="#111"/>
<path d="M1232.4,428.5 L1235.5,433.8 L1229.4,433.8Z" fill="#111"/>
<path d="M1232.4,438.8 L1235.5,444.1 L1229.4,444.1Z" fill="#111"/>
<path d="M1130.0,323.0 V468.2 H1253.0" fill="none" stroke="#1a1a1a" stroke-width="2"/>
<path d="M1125.5,468.2 H1130.0" stroke="#1a1a1a" stroke-width="2"/>
<text x="1124.5" y="472.2" text-anchor="end" font-size="11" font-weight="bold" fill="#1a1a1a" stroke="#1a1a1a" stroke-width="0.35">0.6</text>
<path d="M1125.5,444.2 H1130.0" stroke="#1a1a1a" stroke-width="2"/>
<text x="1124.5" y="448.2" text-anchor="end" font-size="11" font-weight="bold" fill="#1a1a1a" stroke="#1a1a1a" stroke-width="0.35">0.7</text>
<path d="M1125.5,420.1 H1130.0" stroke="#1a1a1a" stroke-width="2"/>
<text x="1124.5" y="424.1" text-anchor="end" font-size="11" font-weight="bold" fill="#1a1a1a" stroke="#1a1a1a" stroke-width="0.35">0.8</text>
<path d="M1125.5,396.1 H1130.0" stroke="#1a1a1a" stroke-width="2"/>
<text x="1124.5" y="400.1" text-anchor="end" font-size="11" font-weight="bold" fill="#1a1a1a" stroke="#1a1a1a" stroke-width="0.35">0.9</text>
<path d="M1125.5,372.1 H1130.0" stroke="#1a1a1a" stroke-width="2"/>
<text x="1124.5" y="376.1" text-anchor="end" font-size="11" font-weight="bold" fill="#1a1a1a" stroke="#1a1a1a" stroke-width="0.35">1.0</text>
<path d="M1125.5,348.0 H1130.0" stroke="#1a1a1a" stroke-width="2"/>
<text x="1124.5" y="352.0" text-anchor="end" font-size="11" font-weight="bold" fill="#1a1a1a" stroke="#1a1a1a" stroke-width="0.35">1.1</text>
<path d="M1125.5,324.0 H1130.0" stroke="#1a1a1a" stroke-width="2"/>
<text x="1124.5" y="328.0" text-anchor="end" font-size="11" font-weight="bold" fill="#1a1a1a" stroke="#1a1a1a" stroke-width="0.35">1.2</text>
<path d="M1150.6,468.2 V474.7" stroke="#1a1a1a" stroke-width="2"/>
<text transform="translate(1152.6,485.2) rotate(-45)" text-anchor="end" font-size="11" font-weight="bold" fill="#1a1a1a" stroke="#1a1a1a" stroke-width="0.35">CON</text>
<path d="M1191.2,468.2 V474.7" stroke="#1a1a1a" stroke-width="2"/>
<text transform="translate(1193.2,485.2) rotate(-45)" text-anchor="end" font-size="11" font-weight="bold" fill="#1a1a1a" stroke="#1a1a1a" stroke-width="0.35">NPs+MPs</text>
<path d="M1232.4,468.2 V474.7" stroke="#1a1a1a" stroke-width="2"/>
<text transform="translate(1234.4,485.2) rotate(-45)" text-anchor="end" font-size="11" font-weight="bold" fill="#1a1a1a" stroke="#1a1a1a" stroke-width="0.35">NPs-COOH+MPs</text>
<text transform="translate(1102.0,396.0) scale(1,1) rotate(-90)" text-anchor="middle" font-size="12.6" font-weight="bold" fill="#1a1a1a" stroke="#1a1a1a" stroke-width="0.4">Fluorescent intensity</text>
<text x="1186.4" y="323.0" text-anchor="middle" font-size="12" font-weight="bold" fill="#505050" stroke="#505050" stroke-width="0.6" letter-spacing="2">**</text>
<text x="1215.0" y="376.0" text-anchor="middle" font-size="12" font-weight="bold" fill="#505050" stroke="#505050" stroke-width="0.6" letter-spacing="2">*</text>
<path d="M1150.6,352 V324 H1216 V352.5 M1194.3,352.5 H1237 M1194.3,376 H1237" fill="none" stroke="#1a1a1a" stroke-width="2.2"/>
<path d="M971.2,769.0 V654.1 H993.8 V769.0" fill="none" stroke="#9e2a2b" stroke-width="2.4"/>
<path d="M1004.4,769.0 V687.3 H1027.0 V769.0" fill="none" stroke="#4a7bd6" stroke-width="2.4"/>
<path d="M1038.3,769.0 V698.8 H1060.9 V769.0" fill="none" stroke="#dcab6c" stroke-width="2.4"/>
<path d="M982.5,650.2 V657.5 M976.5,650.2 H988.5 M976.5,657.5 H988.5" fill="none" stroke="#9e2a2b" stroke-width="1.5" opacity="0.6"/>
<path d="M1015.7,681.7 V690.8 M1009.7,681.7 H1021.7 M1009.7,690.8 H1021.7" fill="none" stroke="#4a7bd6" stroke-width="1.5" opacity="0.6"/>
<path d="M1049.6,696.3 V701.8 M1043.6,696.3 H1055.6 M1043.6,701.8 H1055.6" fill="none" stroke="#dcab6c" stroke-width="1.5" opacity="0.6"/>
<circle cx="978.6" cy="648.4" r="2.66" fill="#111"/>
<circle cx="985.9" cy="650.5" r="2.66" fill="#111"/>
<circle cx="975.8" cy="653.3" r="2.66" fill="#111"/>
<circle cx="983.2" cy="656.0" r="2.66" fill="#111"/>
<circle cx="988.6" cy="657.5" r="2.66" fill="#111"/>
<circle cx="982.2" cy="660.1" r="2.66" fill="#111"/>
<rect x="1006.3" y="681.0" width="4.9" height="4.9" fill="#111"/>
<rect x="1020.0" y="678.8" width="4.9" height="4.9" fill="#111"/>
<rect x="1012.7" y="684.7" width="4.9" height="4.9" fill="#111"/>
<rect x="1016.4" y="687.4" width="4.9" height="4.9" fill="#111"/>
<rect x="1010.0" y="693.5" width="4.9" height="4.9" fill="#111"/>
<path d="M1045.9,688.7 L1048.5,693.0 L1043.4,693.0Z" fill="#111"/>
<path d="M1052.7,692.4 L1055.2,696.7 L1050.2,696.7Z" fill="#111"/>
<path d="M1041.7,699.7 L1044.3,704.0 L1039.2,704.0Z" fill="#111"/>
<path d="M1049.6,703.4 L1052.1,707.7 L1047.1,707.7Z" fill="#111"/>
<path d="M1055.8,700.8 L1058.4,705.1 L1053.3,705.1Z" fill="#111"/>
<path d="M964.8,614.8 V769.0 H1066.5" fill="none" stroke="#1a1a1a" stroke-width="2"/>
<path d="M959.3,769.0 H964.8" stroke="#1a1a1a" stroke-width="2"/>
<text x="957.8" y="773.6" text-anchor="end" font-size="11" font-weight="bold" fill="#1a1a1a" stroke="#1a1a1a" stroke-width="0.35">0</text>
<path d="M959.3,730.7 H964.8" stroke="#1a1a1a" stroke-width="2"/>
<text x="957.8" y="735.3" text-anchor="end" font-size="11" font-weight="bold" fill="#1a1a1a" stroke="#1a1a1a" stroke-width="0.35">15</text>
<path d="M959.3,692.4 H964.8" stroke="#1a1a1a" stroke-width="2"/>
<text x="957.8" y="697.0" text-anchor="end" font-size="11" font-weight="bold" fill="#1a1a1a" stroke="#1a1a1a" stroke-width="0.35">30</text>
<path d="M959.3,654.1 H964.8" stroke="#1a1a1a" stroke-width="2"/>
<text x="957.8" y="658.7" text-anchor="end" font-size="11" font-weight="bold" fill="#1a1a1a" stroke="#1a1a1a" stroke-width="0.35">45</text>
<path d="M959.3,615.8 H964.8" stroke="#1a1a1a" stroke-width="2"/>
<text x="957.8" y="620.4" text-anchor="end" font-size="11" font-weight="bold" fill="#1a1a1a" stroke="#1a1a1a" stroke-width="0.35">60</text>
<path d="M982.5,769.0 V775.5" stroke="#1a1a1a" stroke-width="2"/>
<text transform="translate(984.5,785.0) rotate(-45)" text-anchor="end" font-size="10.6" font-weight="bold" fill="#1a1a1a" stroke="#1a1a1a" stroke-width="0.35">CON</text>
<path d="M1015.7,769.0 V775.5" stroke="#1a1a1a" stroke-width="2"/>
<text transform="translate(1017.7,785.0) rotate(-45)" text-anchor="end" font-size="10.6" font-weight="bold" fill="#1a1a1a" stroke="#1a1a1a" stroke-width="0.35">NPs+MPs</text>
<path d="M1049.6,769.0 V775.5" stroke="#1a1a1a" stroke-width="2"/>
<text transform="translate(1051.6,785.0) rotate(-45)" text-anchor="end" font-size="10.6" font-weight="bold" fill="#1a1a1a" stroke="#1a1a1a" stroke-width="0.35">NPs-COOH+MPs</text>
<text transform="translate(938.8,692.7) scale(0.9,1) rotate(-90)" text-anchor="middle" font-size="14.2" font-weight="bold" fill="#1a1a1a" stroke="#1a1a1a" stroke-width="0.4">GABA(nmol/mg protein)</text>
<text x="1011.6" y="601.0" text-anchor="middle" font-size="12" font-weight="bold" fill="#505050" stroke="#505050" stroke-width="0.6" letter-spacing="2">**</text>
<text x="1036.7" y="674.0" text-anchor="middle" font-size="12" font-weight="bold" fill="#505050" stroke="#505050" stroke-width="0.6" letter-spacing="2">*</text>
<path d="M985,618.5 V601 H1035.3 V651.5 M1020.7,651.5 H1051 M1020.7,672.5 H1051" fill="none" stroke="#1a1a1a" stroke-width="1.8"/>
<path d="M1198.5,770.5 V646.6 H1221.5 V770.5" fill="none" stroke="#9e2a2b" stroke-width="2.4"/>
<path d="M1232.3,770.5 V680.9 H1255.3 V770.5" fill="none" stroke="#4a7bd6" stroke-width="2.4"/>
<path d="M1266.1,770.5 V676.1 H1289.1 V770.5" fill="none" stroke="#dcab6c" stroke-width="2.4"/>
<path d="M1210.0,642.3 V650.2 M1204.0,642.3 H1216.0 M1204.0,650.2 H1216.0" fill="none" stroke="#9e2a2b" stroke-width="1.5" opacity="0.6"/>
<path d="M1243.8,675.8 V683.5 M1237.8,675.8 H1249.8 M1237.8,683.5 H1249.8" fill="none" stroke="#4a7bd6" stroke-width="1.5" opacity="0.6"/>
<path d="M1277.6,670.7 V681.7 M1271.6,670.7 H1283.6 M1271.6,681.7 H1283.6" fill="none" stroke="#dcab6c" stroke-width="1.5" opacity="0.6"/>
<circle cx="1206.8" cy="638.1" r="2.66" fill="#111"/>
<circle cx="1213.2" cy="641.4" r="2.66" fill="#111"/>
<circle cx="1203.2" cy="647.8" r="2.66" fill="#111"/>
<circle cx="1216.5" cy="650.5" r="2.66" fill="#111"/>
<circle cx="1210.5" cy="652.7" r="2.66" fill="#111"/>
<rect x="1237.3" y="671.0" width="4.9" height="4.9" fill="#111"/>
<rect x="1245.5" y="673.3" width="4.9" height="4.9" fill="#111"/>
<rect x="1234.2" y="679.6" width="4.9" height="4.9" fill="#111"/>
<rect x="1241.0" y="684.7" width="4.9" height="4.9" fill="#111"/>
<rect x="1247.7" y="682.5" width="4.9" height="4.9" fill="#111"/>
<path d="M1273.6,664.6 L1276.2,668.9 L1271.1,668.9Z" fill="#111"/>
<path d="M1280.6,667.3 L1283.1,671.6 L1278.1,671.6Z" fill="#111"/>
<path d="M1270.3,675.9 L1272.9,680.2 L1267.8,680.2Z" fill="#111"/>
<path d="M1276.4,681.4 L1278.9,685.7 L1273.9,685.7Z" fill="#111"/>
<path d="M1284.3,680.1 L1286.8,684.4 L1281.7,684.4Z" fill="#111"/>
<path d="M1193.6,617.0 V770.5 H1295.5" fill="none" stroke="#1a1a1a" stroke-width="2"/>
<path d="M1188.1,770.5 H1193.6" stroke="#1a1a1a" stroke-width="2"/>
<text x="1186.6" y="775.1" text-anchor="end" font-size="11" font-weight="bold" fill="#1a1a1a" stroke="#1a1a1a" stroke-width="0.35">0</text>
<path d="M1188.1,732.4 H1193.6" stroke="#1a1a1a" stroke-width="2"/>
<text x="1186.6" y="737.0" text-anchor="end" font-size="11" font-weight="bold" fill="#1a1a1a" stroke="#1a1a1a" stroke-width="0.35">20</text>
<path d="M1188.1,694.2 H1193.6" stroke="#1a1a1a" stroke-width="2"/>
<text x="1186.6" y="698.9" text-anchor="end" font-size="11" font-weight="bold" fill="#1a1a1a" stroke="#1a1a1a" stroke-width="0.35">40</text>
<path d="M1188.1,656.1 H1193.6" stroke="#1a1a1a" stroke-width="2"/>
<text x="1186.6" y="660.7" text-anchor="end" font-size="11" font-weight="bold" fill="#1a1a1a" stroke="#1a1a1a" stroke-width="0.35">60</text>
<path d="M1188.1,618.0 H1193.6" stroke="#1a1a1a" stroke-width="2"/>
<text x="1186.6" y="622.6" text-anchor="end" font-size="11" font-weight="bold" fill="#1a1a1a" stroke="#1a1a1a" stroke-width="0.35">80</text>
<path d="M1210.0,770.5 V777.0" stroke="#1a1a1a" stroke-width="2"/>
<text transform="translate(1212.0,786.5) rotate(-45)" text-anchor="end" font-size="10.6" font-weight="bold" fill="#1a1a1a" stroke="#1a1a1a" stroke-width="0.35">CON</text>
<path d="M1243.8,770.5 V777.0" stroke="#1a1a1a" stroke-width="2"/>
<text transform="translate(1245.8,786.5) rotate(-45)" text-anchor="end" font-size="10.6" font-weight="bold" fill="#1a1a1a" stroke="#1a1a1a" stroke-width="0.35">NPs+MPs</text>
<path d="M1277.6,770.5 V777.0" stroke="#1a1a1a" stroke-width="2"/>
<text transform="translate(1279.6,786.5) rotate(-45)" text-anchor="end" font-size="10.6" font-weight="bold" fill="#1a1a1a" stroke="#1a1a1a" stroke-width="0.35">NPs-COOH+MPs</text>
<text transform="translate(1166.8,697.0) scale(0.9,1) rotate(-90)" text-anchor="middle" font-size="14.2" font-weight="bold" fill="#1a1a1a" stroke="#1a1a1a" stroke-width="0.4">GABA(nmol/mg protein)</text>
<text x="1238.0" y="616.0" text-anchor="middle" font-size="12" font-weight="bold" fill="#505050" stroke="#505050" stroke-width="0.6" letter-spacing="2">*</text>
<path d="M1213.2,632 V617.6 H1258 V661 M1243.4,661 H1275.8" fill="none" stroke="#1a1a1a" stroke-width="1.8"/>
</svg>
</body></html>
